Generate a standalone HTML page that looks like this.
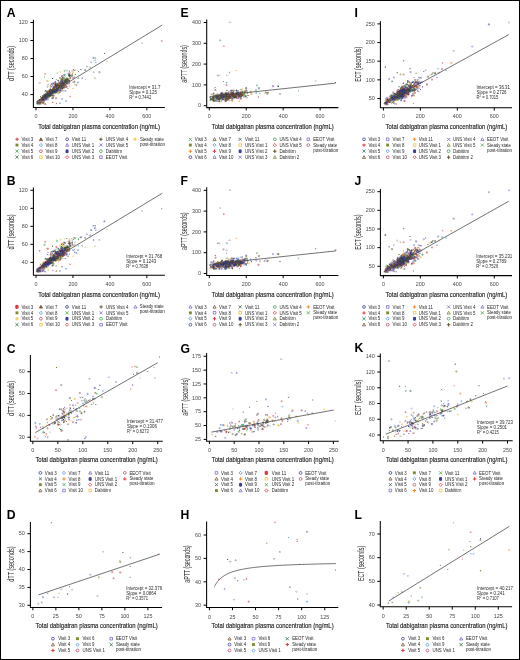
<!DOCTYPE html>
<html><head><meta charset="utf-8"><style>
html,body{margin:0;padding:0;background:#fff;}
svg{display:block;will-change:transform;}
text{font-family:"Liberation Sans", sans-serif;}
</style></head><body>
<svg width="520" height="660" viewBox="0 0 520 660">
<rect x="0.5" y="0.5" width="519" height="659" fill="#fff" stroke="#000" stroke-width="1"/>
<text x="6.8" y="17.0" font-size="12.2" font-weight="bold" fill="#000">A</text>
<path d="M33.4 19.8V107.4H164.9" fill="none" stroke="#000" stroke-width="1.05"/>
<path d="M30.4 94.58H33.4" stroke="#000" stroke-width="1"/>
<text x="27.799999999999997" y="96.33" font-size="5.8999999999999995" text-anchor="end" textLength="6.0" lengthAdjust="spacingAndGlyphs" fill="#484848">40</text>
<path d="M30.4 76.56H33.4" stroke="#000" stroke-width="1"/>
<text x="27.799999999999997" y="78.31" font-size="5.8999999999999995" text-anchor="end" textLength="6.0" lengthAdjust="spacingAndGlyphs" fill="#484848">60</text>
<path d="M30.4 58.54H33.4" stroke="#000" stroke-width="1"/>
<text x="27.799999999999997" y="60.29" font-size="5.8999999999999995" text-anchor="end" textLength="6.0" lengthAdjust="spacingAndGlyphs" fill="#484848">80</text>
<path d="M30.4 40.52H33.4" stroke="#000" stroke-width="1"/>
<text x="27.799999999999997" y="42.27" font-size="5.8999999999999995" text-anchor="end" textLength="9.0" lengthAdjust="spacingAndGlyphs" fill="#484848">100</text>
<path d="M30.4 22.50H33.4" stroke="#000" stroke-width="1"/>
<text x="27.799999999999997" y="24.25" font-size="5.8999999999999995" text-anchor="end" textLength="9.0" lengthAdjust="spacingAndGlyphs" fill="#484848">120</text>
<path d="M36.00 107.4V110.2" stroke="#000" stroke-width="1"/>
<text x="36.0" y="117.8" font-size="5.8999999999999995" text-anchor="middle" textLength="3.0" lengthAdjust="spacingAndGlyphs" fill="#484848">0</text>
<path d="M72.95 107.4V110.2" stroke="#000" stroke-width="1"/>
<text x="72.95" y="117.8" font-size="5.8999999999999995" text-anchor="middle" textLength="9.0" lengthAdjust="spacingAndGlyphs" fill="#484848">200</text>
<path d="M109.90 107.4V110.2" stroke="#000" stroke-width="1"/>
<text x="109.9" y="117.8" font-size="5.8999999999999995" text-anchor="middle" textLength="9.0" lengthAdjust="spacingAndGlyphs" fill="#484848">400</text>
<path d="M146.85 107.4V110.2" stroke="#000" stroke-width="1"/>
<text x="146.85" y="117.8" font-size="5.8999999999999995" text-anchor="middle" textLength="9.0" lengthAdjust="spacingAndGlyphs" fill="#484848">600</text>
<text x="38.2" y="128.7" font-size="8.0" textLength="121.7" lengthAdjust="spacingAndGlyphs" fill="#1a1a1a" stroke="#1a1a1a" stroke-width="0.16">Total dabigatran plasma concentration (ng/mL)</text>
<text x="14.3" y="63.5" font-size="8.2" text-anchor="middle" textLength="35.0" lengthAdjust="spacingAndGlyphs" transform="rotate(-90 14.3 63.5)" fill="#2a2a2a">dTT (seconds)</text>
<text x="6.8" y="184.8" font-size="12.2" font-weight="bold" fill="#000">B</text>
<path d="M33.4 187.60000000000002V275.20000000000005H164.9" fill="none" stroke="#000" stroke-width="1.05"/>
<path d="M30.4 262.38H33.4" stroke="#000" stroke-width="1"/>
<text x="27.799999999999997" y="264.13" font-size="5.8999999999999995" text-anchor="end" textLength="6.0" lengthAdjust="spacingAndGlyphs" fill="#484848">40</text>
<path d="M30.4 244.36H33.4" stroke="#000" stroke-width="1"/>
<text x="27.799999999999997" y="246.11" font-size="5.8999999999999995" text-anchor="end" textLength="6.0" lengthAdjust="spacingAndGlyphs" fill="#484848">60</text>
<path d="M30.4 226.34H33.4" stroke="#000" stroke-width="1"/>
<text x="27.799999999999997" y="228.09" font-size="5.8999999999999995" text-anchor="end" textLength="6.0" lengthAdjust="spacingAndGlyphs" fill="#484848">80</text>
<path d="M30.4 208.32H33.4" stroke="#000" stroke-width="1"/>
<text x="27.799999999999997" y="210.07" font-size="5.8999999999999995" text-anchor="end" textLength="9.0" lengthAdjust="spacingAndGlyphs" fill="#484848">100</text>
<path d="M30.4 190.30H33.4" stroke="#000" stroke-width="1"/>
<text x="27.799999999999997" y="192.05" font-size="5.8999999999999995" text-anchor="end" textLength="9.0" lengthAdjust="spacingAndGlyphs" fill="#484848">120</text>
<path d="M36.00 275.20000000000005V278.00000000000006" stroke="#000" stroke-width="1"/>
<text x="36.0" y="285.6" font-size="5.8999999999999995" text-anchor="middle" textLength="3.0" lengthAdjust="spacingAndGlyphs" fill="#484848">0</text>
<path d="M72.95 275.20000000000005V278.00000000000006" stroke="#000" stroke-width="1"/>
<text x="72.95" y="285.6" font-size="5.8999999999999995" text-anchor="middle" textLength="9.0" lengthAdjust="spacingAndGlyphs" fill="#484848">200</text>
<path d="M109.90 275.20000000000005V278.00000000000006" stroke="#000" stroke-width="1"/>
<text x="109.9" y="285.6" font-size="5.8999999999999995" text-anchor="middle" textLength="9.0" lengthAdjust="spacingAndGlyphs" fill="#484848">400</text>
<path d="M146.85 275.20000000000005V278.00000000000006" stroke="#000" stroke-width="1"/>
<text x="146.85" y="285.6" font-size="5.8999999999999995" text-anchor="middle" textLength="9.0" lengthAdjust="spacingAndGlyphs" fill="#484848">600</text>
<text x="38.2" y="296.5" font-size="8.0" textLength="121.7" lengthAdjust="spacingAndGlyphs" fill="#1a1a1a" stroke="#1a1a1a" stroke-width="0.16">Total dabigatran plasma concentration (ng/mL)</text>
<text x="14.3" y="231.8873" font-size="8.2" text-anchor="middle" textLength="35.0" lengthAdjust="spacingAndGlyphs" transform="rotate(-90 14.3 231.8873)" fill="#2a2a2a">dTT (seconds)</text>
<text x="180.6" y="16.9" font-size="12.2" font-weight="bold" fill="#000">E</text>
<path d="M206.7 19.5V107.6H338.4" fill="none" stroke="#000" stroke-width="1.05"/>
<path d="M203.7 105.70H206.7" stroke="#000" stroke-width="1"/>
<text x="201.1" y="107.45" font-size="5.8999999999999995" text-anchor="end" textLength="3.0" lengthAdjust="spacingAndGlyphs" fill="#484848">0</text>
<path d="M203.7 84.90H206.7" stroke="#000" stroke-width="1"/>
<text x="201.1" y="86.65" font-size="5.8999999999999995" text-anchor="end" textLength="9.0" lengthAdjust="spacingAndGlyphs" fill="#484848">100</text>
<path d="M203.7 64.10H206.7" stroke="#000" stroke-width="1"/>
<text x="201.1" y="65.85" font-size="5.8999999999999995" text-anchor="end" textLength="9.0" lengthAdjust="spacingAndGlyphs" fill="#484848">200</text>
<path d="M203.7 43.30H206.7" stroke="#000" stroke-width="1"/>
<text x="201.1" y="45.05" font-size="5.8999999999999995" text-anchor="end" textLength="9.0" lengthAdjust="spacingAndGlyphs" fill="#484848">300</text>
<path d="M203.7 22.50H206.7" stroke="#000" stroke-width="1"/>
<text x="201.1" y="24.25" font-size="5.8999999999999995" text-anchor="end" textLength="9.0" lengthAdjust="spacingAndGlyphs" fill="#484848">400</text>
<path d="M209.30 107.6V110.39999999999999" stroke="#000" stroke-width="1"/>
<text x="209.3" y="117.8" font-size="5.8999999999999995" text-anchor="middle" textLength="3.0" lengthAdjust="spacingAndGlyphs" fill="#484848">0</text>
<path d="M246.24 107.6V110.39999999999999" stroke="#000" stroke-width="1"/>
<text x="246.24" y="117.8" font-size="5.8999999999999995" text-anchor="middle" textLength="9.0" lengthAdjust="spacingAndGlyphs" fill="#484848">200</text>
<path d="M283.18 107.6V110.39999999999999" stroke="#000" stroke-width="1"/>
<text x="283.18" y="117.8" font-size="5.8999999999999995" text-anchor="middle" textLength="9.0" lengthAdjust="spacingAndGlyphs" fill="#484848">400</text>
<path d="M320.12 107.6V110.39999999999999" stroke="#000" stroke-width="1"/>
<text x="320.12" y="117.8" font-size="5.8999999999999995" text-anchor="middle" textLength="9.0" lengthAdjust="spacingAndGlyphs" fill="#484848">600</text>
<text x="211.7" y="128.7" font-size="8.0" textLength="122.1" lengthAdjust="spacingAndGlyphs" fill="#1a1a1a" stroke="#1a1a1a" stroke-width="0.16">Total dabigatran plasma concentration (ng/mL)</text>
<text x="187.4" y="64.0" font-size="8.2" text-anchor="middle" textLength="37.6" lengthAdjust="spacingAndGlyphs" transform="rotate(-90 187.4 64.0)" fill="#2a2a2a">aPTT (seconds)</text>
<text x="180.6" y="184.70000000000002" font-size="12.2" font-weight="bold" fill="#000">F</text>
<path d="M206.7 187.3V275.4H338.4" fill="none" stroke="#000" stroke-width="1.05"/>
<path d="M203.7 273.50H206.7" stroke="#000" stroke-width="1"/>
<text x="201.1" y="275.25" font-size="5.8999999999999995" text-anchor="end" textLength="3.0" lengthAdjust="spacingAndGlyphs" fill="#484848">0</text>
<path d="M203.7 252.70H206.7" stroke="#000" stroke-width="1"/>
<text x="201.1" y="254.45" font-size="5.8999999999999995" text-anchor="end" textLength="9.0" lengthAdjust="spacingAndGlyphs" fill="#484848">100</text>
<path d="M203.7 231.90H206.7" stroke="#000" stroke-width="1"/>
<text x="201.1" y="233.65" font-size="5.8999999999999995" text-anchor="end" textLength="9.0" lengthAdjust="spacingAndGlyphs" fill="#484848">200</text>
<path d="M203.7 211.10H206.7" stroke="#000" stroke-width="1"/>
<text x="201.1" y="212.85" font-size="5.8999999999999995" text-anchor="end" textLength="9.0" lengthAdjust="spacingAndGlyphs" fill="#484848">300</text>
<path d="M203.7 190.30H206.7" stroke="#000" stroke-width="1"/>
<text x="201.1" y="192.05" font-size="5.8999999999999995" text-anchor="end" textLength="9.0" lengthAdjust="spacingAndGlyphs" fill="#484848">400</text>
<path d="M209.30 275.4V278.2" stroke="#000" stroke-width="1"/>
<text x="209.3" y="285.6" font-size="5.8999999999999995" text-anchor="middle" textLength="3.0" lengthAdjust="spacingAndGlyphs" fill="#484848">0</text>
<path d="M246.24 275.4V278.2" stroke="#000" stroke-width="1"/>
<text x="246.24" y="285.6" font-size="5.8999999999999995" text-anchor="middle" textLength="9.0" lengthAdjust="spacingAndGlyphs" fill="#484848">200</text>
<path d="M283.18 275.4V278.2" stroke="#000" stroke-width="1"/>
<text x="283.18" y="285.6" font-size="5.8999999999999995" text-anchor="middle" textLength="9.0" lengthAdjust="spacingAndGlyphs" fill="#484848">400</text>
<path d="M320.12 275.4V278.2" stroke="#000" stroke-width="1"/>
<text x="320.12" y="285.6" font-size="5.8999999999999995" text-anchor="middle" textLength="9.0" lengthAdjust="spacingAndGlyphs" fill="#484848">600</text>
<text x="211.7" y="296.5" font-size="8.0" textLength="122.1" lengthAdjust="spacingAndGlyphs" fill="#1a1a1a" stroke="#1a1a1a" stroke-width="0.16">Total dabigatran plasma concentration (ng/mL)</text>
<text x="187.4" y="231.19592" font-size="8.2" text-anchor="middle" textLength="37.6" lengthAdjust="spacingAndGlyphs" transform="rotate(-90 187.4 231.19592)" fill="#2a2a2a">aPTT (seconds)</text>
<text x="354.6" y="17.0" font-size="12.2" font-weight="bold" fill="#000">I</text>
<path d="M380.4 21.3V107.8H512.0" fill="none" stroke="#000" stroke-width="1.05"/>
<path d="M377.4 98.50H380.4" stroke="#000" stroke-width="1"/>
<text x="374.79999999999995" y="100.25" font-size="5.8999999999999995" text-anchor="end" textLength="6.0" lengthAdjust="spacingAndGlyphs" fill="#484848">50</text>
<path d="M377.4 79.85H380.4" stroke="#000" stroke-width="1"/>
<text x="374.79999999999995" y="81.6" font-size="5.8999999999999995" text-anchor="end" textLength="9.0" lengthAdjust="spacingAndGlyphs" fill="#484848">100</text>
<path d="M377.4 61.20H380.4" stroke="#000" stroke-width="1"/>
<text x="374.79999999999995" y="62.95" font-size="5.8999999999999995" text-anchor="end" textLength="9.0" lengthAdjust="spacingAndGlyphs" fill="#484848">150</text>
<path d="M377.4 42.55H380.4" stroke="#000" stroke-width="1"/>
<text x="374.79999999999995" y="44.3" font-size="5.8999999999999995" text-anchor="end" textLength="9.0" lengthAdjust="spacingAndGlyphs" fill="#484848">200</text>
<path d="M377.4 23.90H380.4" stroke="#000" stroke-width="1"/>
<text x="374.79999999999995" y="25.65" font-size="5.8999999999999995" text-anchor="end" textLength="9.0" lengthAdjust="spacingAndGlyphs" fill="#484848">250</text>
<path d="M383.40 107.8V110.6" stroke="#000" stroke-width="1"/>
<text x="383.4" y="117.8" font-size="5.8999999999999995" text-anchor="middle" textLength="3.0" lengthAdjust="spacingAndGlyphs" fill="#484848">0</text>
<path d="M420.36 107.8V110.6" stroke="#000" stroke-width="1"/>
<text x="420.36" y="117.8" font-size="5.8999999999999995" text-anchor="middle" textLength="9.0" lengthAdjust="spacingAndGlyphs" fill="#484848">200</text>
<path d="M457.32 107.8V110.6" stroke="#000" stroke-width="1"/>
<text x="457.32" y="117.8" font-size="5.8999999999999995" text-anchor="middle" textLength="9.0" lengthAdjust="spacingAndGlyphs" fill="#484848">400</text>
<path d="M494.28 107.8V110.6" stroke="#000" stroke-width="1"/>
<text x="494.28" y="117.8" font-size="5.8999999999999995" text-anchor="middle" textLength="9.0" lengthAdjust="spacingAndGlyphs" fill="#484848">600</text>
<text x="385.5" y="128.7" font-size="8.0" textLength="121.8" lengthAdjust="spacingAndGlyphs" fill="#1a1a1a" stroke="#1a1a1a" stroke-width="0.16">Total dabigatran plasma concentration (ng/mL)</text>
<text x="361.2" y="64.3" font-size="8.2" text-anchor="middle" textLength="35.1" lengthAdjust="spacingAndGlyphs" transform="rotate(-90 361.2 64.3)" fill="#2a2a2a">ECT (seconds)</text>
<text x="354.6" y="184.8" font-size="12.2" font-weight="bold" fill="#000">J</text>
<path d="M380.4 189.10000000000002V275.6H512.0" fill="none" stroke="#000" stroke-width="1.05"/>
<path d="M377.4 266.30H380.4" stroke="#000" stroke-width="1"/>
<text x="374.79999999999995" y="268.05" font-size="5.8999999999999995" text-anchor="end" textLength="6.0" lengthAdjust="spacingAndGlyphs" fill="#484848">50</text>
<path d="M377.4 247.65H380.4" stroke="#000" stroke-width="1"/>
<text x="374.79999999999995" y="249.4" font-size="5.8999999999999995" text-anchor="end" textLength="9.0" lengthAdjust="spacingAndGlyphs" fill="#484848">100</text>
<path d="M377.4 229.00H380.4" stroke="#000" stroke-width="1"/>
<text x="374.79999999999995" y="230.75" font-size="5.8999999999999995" text-anchor="end" textLength="9.0" lengthAdjust="spacingAndGlyphs" fill="#484848">150</text>
<path d="M377.4 210.35H380.4" stroke="#000" stroke-width="1"/>
<text x="374.79999999999995" y="212.1" font-size="5.8999999999999995" text-anchor="end" textLength="9.0" lengthAdjust="spacingAndGlyphs" fill="#484848">200</text>
<path d="M377.4 191.70H380.4" stroke="#000" stroke-width="1"/>
<text x="374.79999999999995" y="193.45" font-size="5.8999999999999995" text-anchor="end" textLength="9.0" lengthAdjust="spacingAndGlyphs" fill="#484848">250</text>
<path d="M383.40 275.6V278.40000000000003" stroke="#000" stroke-width="1"/>
<text x="383.4" y="285.6" font-size="5.8999999999999995" text-anchor="middle" textLength="3.0" lengthAdjust="spacingAndGlyphs" fill="#484848">0</text>
<path d="M420.36 275.6V278.40000000000003" stroke="#000" stroke-width="1"/>
<text x="420.36" y="285.6" font-size="5.8999999999999995" text-anchor="middle" textLength="9.0" lengthAdjust="spacingAndGlyphs" fill="#484848">200</text>
<path d="M457.32 275.6V278.40000000000003" stroke="#000" stroke-width="1"/>
<text x="457.32" y="285.6" font-size="5.8999999999999995" text-anchor="middle" textLength="9.0" lengthAdjust="spacingAndGlyphs" fill="#484848">400</text>
<path d="M494.28 275.6V278.40000000000003" stroke="#000" stroke-width="1"/>
<text x="494.28" y="285.6" font-size="5.8999999999999995" text-anchor="middle" textLength="9.0" lengthAdjust="spacingAndGlyphs" fill="#484848">600</text>
<text x="385.5" y="296.5" font-size="8.0" textLength="121.8" lengthAdjust="spacingAndGlyphs" fill="#1a1a1a" stroke="#1a1a1a" stroke-width="0.16">Total dabigatran plasma concentration (ng/mL)</text>
<text x="361.2" y="232.10000000000002" font-size="8.2" text-anchor="middle" textLength="35.1" lengthAdjust="spacingAndGlyphs" transform="rotate(-90 361.2 232.10000000000002)" fill="#2a2a2a">ECT (seconds)</text>
<text x="6.8" y="352.8" font-size="12.2" font-weight="bold" fill="#000">C</text>
<path d="M30.4 355.0V441.3H162.8" fill="none" stroke="#000" stroke-width="1.05"/>
<path d="M27.4 437.20H30.4" stroke="#000" stroke-width="1"/>
<text x="24.799999999999997" y="438.95" font-size="5.8999999999999995" text-anchor="end" textLength="6.0" lengthAdjust="spacingAndGlyphs" fill="#484848">30</text>
<path d="M27.4 415.37H30.4" stroke="#000" stroke-width="1"/>
<text x="24.799999999999997" y="417.12" font-size="5.8999999999999995" text-anchor="end" textLength="6.0" lengthAdjust="spacingAndGlyphs" fill="#484848">40</text>
<path d="M27.4 393.54H30.4" stroke="#000" stroke-width="1"/>
<text x="24.799999999999997" y="395.29" font-size="5.8999999999999995" text-anchor="end" textLength="6.0" lengthAdjust="spacingAndGlyphs" fill="#484848">50</text>
<path d="M27.4 371.71H30.4" stroke="#000" stroke-width="1"/>
<text x="24.799999999999997" y="373.46" font-size="5.8999999999999995" text-anchor="end" textLength="6.0" lengthAdjust="spacingAndGlyphs" fill="#484848">60</text>
<path d="M32.85 441.3V444.1" stroke="#000" stroke-width="1"/>
<text x="32.85" y="451.7" font-size="5.8999999999999995" text-anchor="middle" textLength="3.0" lengthAdjust="spacingAndGlyphs" fill="#484848">0</text>
<path d="M57.83 441.3V444.1" stroke="#000" stroke-width="1"/>
<text x="57.83" y="451.7" font-size="5.8999999999999995" text-anchor="middle" textLength="6.0" lengthAdjust="spacingAndGlyphs" fill="#484848">50</text>
<path d="M82.80 441.3V444.1" stroke="#000" stroke-width="1"/>
<text x="82.8" y="451.7" font-size="5.8999999999999995" text-anchor="middle" textLength="9.0" lengthAdjust="spacingAndGlyphs" fill="#484848">100</text>
<path d="M107.78 441.3V444.1" stroke="#000" stroke-width="1"/>
<text x="107.78" y="451.7" font-size="5.8999999999999995" text-anchor="middle" textLength="9.0" lengthAdjust="spacingAndGlyphs" fill="#484848">150</text>
<path d="M132.75 441.3V444.1" stroke="#000" stroke-width="1"/>
<text x="132.75" y="451.7" font-size="5.8999999999999995" text-anchor="middle" textLength="9.0" lengthAdjust="spacingAndGlyphs" fill="#484848">200</text>
<path d="M157.72 441.3V444.1" stroke="#000" stroke-width="1"/>
<text x="157.72" y="451.7" font-size="5.8999999999999995" text-anchor="middle" textLength="9.0" lengthAdjust="spacingAndGlyphs" fill="#484848">250</text>
<text x="35.4" y="462.3" font-size="8.0" textLength="122.3" lengthAdjust="spacingAndGlyphs" fill="#1a1a1a" stroke="#1a1a1a" stroke-width="0.16">Total dabigatran plasma concentration (ng/mL)</text>
<text x="14.4" y="398.4" font-size="8.2" text-anchor="middle" textLength="35.0" lengthAdjust="spacingAndGlyphs" transform="rotate(-90 14.4 398.4)" fill="#2a2a2a">dTT (seconds)</text>
<text x="180.4" y="352.6" font-size="12.2" font-weight="bold" fill="#000">G</text>
<path d="M206.6 353.1V441.2H338.8" fill="none" stroke="#000" stroke-width="1.05"/>
<path d="M203.6 439.40H206.6" stroke="#000" stroke-width="1"/>
<text x="201.0" y="441.15" font-size="5.8999999999999995" text-anchor="end" textLength="6.0" lengthAdjust="spacingAndGlyphs" fill="#484848">25</text>
<path d="M203.6 425.54H206.6" stroke="#000" stroke-width="1"/>
<text x="201.0" y="427.29" font-size="5.8999999999999995" text-anchor="end" textLength="6.0" lengthAdjust="spacingAndGlyphs" fill="#484848">50</text>
<path d="M203.6 411.68H206.6" stroke="#000" stroke-width="1"/>
<text x="201.0" y="413.43" font-size="5.8999999999999995" text-anchor="end" textLength="6.0" lengthAdjust="spacingAndGlyphs" fill="#484848">75</text>
<path d="M203.6 397.82H206.6" stroke="#000" stroke-width="1"/>
<text x="201.0" y="399.57" font-size="5.8999999999999995" text-anchor="end" textLength="9.0" lengthAdjust="spacingAndGlyphs" fill="#484848">100</text>
<path d="M203.6 383.96H206.6" stroke="#000" stroke-width="1"/>
<text x="201.0" y="385.71" font-size="5.8999999999999995" text-anchor="end" textLength="9.0" lengthAdjust="spacingAndGlyphs" fill="#484848">125</text>
<path d="M203.6 370.10H206.6" stroke="#000" stroke-width="1"/>
<text x="201.0" y="371.85" font-size="5.8999999999999995" text-anchor="end" textLength="9.0" lengthAdjust="spacingAndGlyphs" fill="#484848">150</text>
<path d="M203.6 356.24H206.6" stroke="#000" stroke-width="1"/>
<text x="201.0" y="357.99" font-size="5.8999999999999995" text-anchor="end" textLength="9.0" lengthAdjust="spacingAndGlyphs" fill="#484848">175</text>
<path d="M209.40 441.2V444.0" stroke="#000" stroke-width="1"/>
<text x="209.4" y="451.8" font-size="5.8999999999999995" text-anchor="middle" textLength="3.0" lengthAdjust="spacingAndGlyphs" fill="#484848">0</text>
<path d="M234.20 441.2V444.0" stroke="#000" stroke-width="1"/>
<text x="234.2" y="451.8" font-size="5.8999999999999995" text-anchor="middle" textLength="6.0" lengthAdjust="spacingAndGlyphs" fill="#484848">50</text>
<path d="M259.00 441.2V444.0" stroke="#000" stroke-width="1"/>
<text x="259.0" y="451.8" font-size="5.8999999999999995" text-anchor="middle" textLength="9.0" lengthAdjust="spacingAndGlyphs" fill="#484848">100</text>
<path d="M283.80 441.2V444.0" stroke="#000" stroke-width="1"/>
<text x="283.8" y="451.8" font-size="5.8999999999999995" text-anchor="middle" textLength="9.0" lengthAdjust="spacingAndGlyphs" fill="#484848">150</text>
<path d="M308.60 441.2V444.0" stroke="#000" stroke-width="1"/>
<text x="308.6" y="451.8" font-size="5.8999999999999995" text-anchor="middle" textLength="9.0" lengthAdjust="spacingAndGlyphs" fill="#484848">200</text>
<path d="M333.40 441.2V444.0" stroke="#000" stroke-width="1"/>
<text x="333.4" y="451.8" font-size="5.8999999999999995" text-anchor="middle" textLength="9.0" lengthAdjust="spacingAndGlyphs" fill="#484848">250</text>
<text x="211.7" y="462.1" font-size="8.0" textLength="122.1" lengthAdjust="spacingAndGlyphs" fill="#1a1a1a" stroke="#1a1a1a" stroke-width="0.16">Total dabigatran plasma concentration (ng/mL)</text>
<text x="188.1" y="397.0" font-size="8.2" text-anchor="middle" textLength="37.6" lengthAdjust="spacingAndGlyphs" transform="rotate(-90 188.1 397.0)" fill="#2a2a2a">aPTT (seconds)</text>
<text x="354.4" y="352.0" font-size="12.2" font-weight="bold" fill="#000">K</text>
<path d="M380.3 353.6V440.8H512.7" fill="none" stroke="#000" stroke-width="1.05"/>
<path d="M377.3 435.00H380.3" stroke="#000" stroke-width="1"/>
<text x="374.7" y="436.75" font-size="5.8999999999999995" text-anchor="end" textLength="6.0" lengthAdjust="spacingAndGlyphs" fill="#484848">40</text>
<path d="M377.3 419.26H380.3" stroke="#000" stroke-width="1"/>
<text x="374.7" y="421.01" font-size="5.8999999999999995" text-anchor="end" textLength="6.0" lengthAdjust="spacingAndGlyphs" fill="#484848">60</text>
<path d="M377.3 403.52H380.3" stroke="#000" stroke-width="1"/>
<text x="374.7" y="405.27" font-size="5.8999999999999995" text-anchor="end" textLength="6.0" lengthAdjust="spacingAndGlyphs" fill="#484848">80</text>
<path d="M377.3 387.78H380.3" stroke="#000" stroke-width="1"/>
<text x="374.7" y="389.53" font-size="5.8999999999999995" text-anchor="end" textLength="9.0" lengthAdjust="spacingAndGlyphs" fill="#484848">100</text>
<path d="M377.3 372.04H380.3" stroke="#000" stroke-width="1"/>
<text x="374.7" y="373.79" font-size="5.8999999999999995" text-anchor="end" textLength="9.0" lengthAdjust="spacingAndGlyphs" fill="#484848">120</text>
<path d="M377.3 356.30H380.3" stroke="#000" stroke-width="1"/>
<text x="374.7" y="358.05" font-size="5.8999999999999995" text-anchor="end" textLength="9.0" lengthAdjust="spacingAndGlyphs" fill="#484848">140</text>
<path d="M383.20 440.8V443.6" stroke="#000" stroke-width="1"/>
<text x="383.2" y="451.7" font-size="5.8999999999999995" text-anchor="middle" textLength="3.0" lengthAdjust="spacingAndGlyphs" fill="#484848">0</text>
<path d="M408.06 440.8V443.6" stroke="#000" stroke-width="1"/>
<text x="408.06" y="451.7" font-size="5.8999999999999995" text-anchor="middle" textLength="6.0" lengthAdjust="spacingAndGlyphs" fill="#484848">50</text>
<path d="M432.92 440.8V443.6" stroke="#000" stroke-width="1"/>
<text x="432.92" y="451.7" font-size="5.8999999999999995" text-anchor="middle" textLength="9.0" lengthAdjust="spacingAndGlyphs" fill="#484848">100</text>
<path d="M457.78 440.8V443.6" stroke="#000" stroke-width="1"/>
<text x="457.78" y="451.7" font-size="5.8999999999999995" text-anchor="middle" textLength="9.0" lengthAdjust="spacingAndGlyphs" fill="#484848">150</text>
<path d="M482.64 440.8V443.6" stroke="#000" stroke-width="1"/>
<text x="482.64" y="451.7" font-size="5.8999999999999995" text-anchor="middle" textLength="9.0" lengthAdjust="spacingAndGlyphs" fill="#484848">200</text>
<path d="M507.50 440.8V443.6" stroke="#000" stroke-width="1"/>
<text x="507.5" y="451.7" font-size="5.8999999999999995" text-anchor="middle" textLength="9.0" lengthAdjust="spacingAndGlyphs" fill="#484848">250</text>
<text x="386.0" y="462.1" font-size="8.0" textLength="121.4" lengthAdjust="spacingAndGlyphs" fill="#1a1a1a" stroke="#1a1a1a" stroke-width="0.16">Total dabigatran plasma concentration (ng/mL)</text>
<text x="361.2" y="397.4" font-size="8.2" text-anchor="middle" textLength="35.2" lengthAdjust="spacingAndGlyphs" transform="rotate(-90 361.2 397.4)" fill="#2a2a2a">ECT (seconds)</text>
<text x="6.8" y="519.2" font-size="12.2" font-weight="bold" fill="#000">D</text>
<path d="M30.4 521.9V607.5H162.1" fill="none" stroke="#000" stroke-width="1.05"/>
<path d="M27.4 605.30H30.4" stroke="#000" stroke-width="1"/>
<text x="24.799999999999997" y="607.05" font-size="5.8999999999999995" text-anchor="end" textLength="6.0" lengthAdjust="spacingAndGlyphs" fill="#484848">30</text>
<path d="M27.4 587.40H30.4" stroke="#000" stroke-width="1"/>
<text x="24.799999999999997" y="589.15" font-size="5.8999999999999995" text-anchor="end" textLength="6.0" lengthAdjust="spacingAndGlyphs" fill="#484848">35</text>
<path d="M27.4 569.50H30.4" stroke="#000" stroke-width="1"/>
<text x="24.799999999999997" y="571.25" font-size="5.8999999999999995" text-anchor="end" textLength="6.0" lengthAdjust="spacingAndGlyphs" fill="#484848">40</text>
<path d="M27.4 551.60H30.4" stroke="#000" stroke-width="1"/>
<text x="24.799999999999997" y="553.35" font-size="5.8999999999999995" text-anchor="end" textLength="6.0" lengthAdjust="spacingAndGlyphs" fill="#484848">45</text>
<path d="M27.4 533.70H30.4" stroke="#000" stroke-width="1"/>
<text x="24.799999999999997" y="535.45" font-size="5.8999999999999995" text-anchor="end" textLength="6.0" lengthAdjust="spacingAndGlyphs" fill="#484848">50</text>
<path d="M32.85 607.5V610.3" stroke="#000" stroke-width="1"/>
<text x="32.85" y="618.3" font-size="5.8999999999999995" text-anchor="middle" textLength="3.0" lengthAdjust="spacingAndGlyphs" fill="#484848">0</text>
<path d="M55.86 607.5V610.3" stroke="#000" stroke-width="1"/>
<text x="55.86" y="618.3" font-size="5.8999999999999995" text-anchor="middle" textLength="6.0" lengthAdjust="spacingAndGlyphs" fill="#484848">25</text>
<path d="M78.87 607.5V610.3" stroke="#000" stroke-width="1"/>
<text x="78.87" y="618.3" font-size="5.8999999999999995" text-anchor="middle" textLength="6.0" lengthAdjust="spacingAndGlyphs" fill="#484848">50</text>
<path d="M101.88 607.5V610.3" stroke="#000" stroke-width="1"/>
<text x="101.88" y="618.3" font-size="5.8999999999999995" text-anchor="middle" textLength="6.0" lengthAdjust="spacingAndGlyphs" fill="#484848">75</text>
<path d="M124.89 607.5V610.3" stroke="#000" stroke-width="1"/>
<text x="124.89" y="618.3" font-size="5.8999999999999995" text-anchor="middle" textLength="9.0" lengthAdjust="spacingAndGlyphs" fill="#484848">100</text>
<path d="M147.90 607.5V610.3" stroke="#000" stroke-width="1"/>
<text x="147.9" y="618.3" font-size="5.8999999999999995" text-anchor="middle" textLength="9.0" lengthAdjust="spacingAndGlyphs" fill="#484848">125</text>
<text x="35.5" y="628.1" font-size="8.0" textLength="122.2" lengthAdjust="spacingAndGlyphs" fill="#1a1a1a" stroke="#1a1a1a" stroke-width="0.16">Total dabigatran plasma concentration (ng/mL)</text>
<text x="14.4" y="564.1" font-size="8.2" text-anchor="middle" textLength="35.3" lengthAdjust="spacingAndGlyphs" transform="rotate(-90 14.4 564.1)" fill="#2a2a2a">dTT (seconds)</text>
<text x="180.4" y="519.2" font-size="12.2" font-weight="bold" fill="#000">H</text>
<path d="M206.6 521.5V607.4H338.3" fill="none" stroke="#000" stroke-width="1.05"/>
<path d="M203.6 605.20H206.6" stroke="#000" stroke-width="1"/>
<text x="201.0" y="606.95" font-size="5.8999999999999995" text-anchor="end" textLength="6.0" lengthAdjust="spacingAndGlyphs" fill="#484848">30</text>
<path d="M203.6 581.80H206.6" stroke="#000" stroke-width="1"/>
<text x="201.0" y="583.55" font-size="5.8999999999999995" text-anchor="end" textLength="6.0" lengthAdjust="spacingAndGlyphs" fill="#484848">40</text>
<path d="M203.6 558.40H206.6" stroke="#000" stroke-width="1"/>
<text x="201.0" y="560.15" font-size="5.8999999999999995" text-anchor="end" textLength="6.0" lengthAdjust="spacingAndGlyphs" fill="#484848">50</text>
<path d="M203.6 535.00H206.6" stroke="#000" stroke-width="1"/>
<text x="201.0" y="536.75" font-size="5.8999999999999995" text-anchor="end" textLength="6.0" lengthAdjust="spacingAndGlyphs" fill="#484848">60</text>
<path d="M209.40 607.4V610.1999999999999" stroke="#000" stroke-width="1"/>
<text x="209.4" y="618.5" font-size="5.8999999999999995" text-anchor="middle" textLength="3.0" lengthAdjust="spacingAndGlyphs" fill="#484848">0</text>
<path d="M232.47 607.4V610.1999999999999" stroke="#000" stroke-width="1"/>
<text x="232.47" y="618.5" font-size="5.8999999999999995" text-anchor="middle" textLength="6.0" lengthAdjust="spacingAndGlyphs" fill="#484848">25</text>
<path d="M255.54 607.4V610.1999999999999" stroke="#000" stroke-width="1"/>
<text x="255.54" y="618.5" font-size="5.8999999999999995" text-anchor="middle" textLength="6.0" lengthAdjust="spacingAndGlyphs" fill="#484848">50</text>
<path d="M278.61 607.4V610.1999999999999" stroke="#000" stroke-width="1"/>
<text x="278.61" y="618.5" font-size="5.8999999999999995" text-anchor="middle" textLength="6.0" lengthAdjust="spacingAndGlyphs" fill="#484848">75</text>
<path d="M301.68 607.4V610.1999999999999" stroke="#000" stroke-width="1"/>
<text x="301.68" y="618.5" font-size="5.8999999999999995" text-anchor="middle" textLength="9.0" lengthAdjust="spacingAndGlyphs" fill="#484848">100</text>
<path d="M324.75 607.4V610.1999999999999" stroke="#000" stroke-width="1"/>
<text x="324.75" y="618.5" font-size="5.8999999999999995" text-anchor="middle" textLength="9.0" lengthAdjust="spacingAndGlyphs" fill="#484848">125</text>
<text x="211.5" y="627.9" font-size="8.0" textLength="122.1" lengthAdjust="spacingAndGlyphs" fill="#1a1a1a" stroke="#1a1a1a" stroke-width="0.16">Total dabigatran plasma concentration (ng/mL)</text>
<text x="189.8" y="564.1" font-size="8.2" text-anchor="middle" textLength="37.3" lengthAdjust="spacingAndGlyphs" transform="rotate(-90 189.8 564.1)" fill="#2a2a2a">aPTT (seconds)</text>
<text x="354.4" y="518.6" font-size="12.2" font-weight="bold" fill="#000">L</text>
<path d="M380.3 520.9V606.8H512.1" fill="none" stroke="#000" stroke-width="1.05"/>
<path d="M377.3 605.00H380.3" stroke="#000" stroke-width="1"/>
<text x="374.7" y="606.75" font-size="5.8999999999999995" text-anchor="end" textLength="6.0" lengthAdjust="spacingAndGlyphs" fill="#484848">40</text>
<path d="M377.3 581.33H380.3" stroke="#000" stroke-width="1"/>
<text x="374.7" y="583.08" font-size="5.8999999999999995" text-anchor="end" textLength="6.0" lengthAdjust="spacingAndGlyphs" fill="#484848">50</text>
<path d="M377.3 557.66H380.3" stroke="#000" stroke-width="1"/>
<text x="374.7" y="559.41" font-size="5.8999999999999995" text-anchor="end" textLength="6.0" lengthAdjust="spacingAndGlyphs" fill="#484848">60</text>
<path d="M377.3 533.99H380.3" stroke="#000" stroke-width="1"/>
<text x="374.7" y="535.74" font-size="5.8999999999999995" text-anchor="end" textLength="6.0" lengthAdjust="spacingAndGlyphs" fill="#484848">70</text>
<path d="M383.20 606.8V609.5999999999999" stroke="#000" stroke-width="1"/>
<text x="383.2" y="618.3" font-size="5.8999999999999995" text-anchor="middle" textLength="3.0" lengthAdjust="spacingAndGlyphs" fill="#484848">0</text>
<path d="M406.22 606.8V609.5999999999999" stroke="#000" stroke-width="1"/>
<text x="406.22" y="618.3" font-size="5.8999999999999995" text-anchor="middle" textLength="6.0" lengthAdjust="spacingAndGlyphs" fill="#484848">25</text>
<path d="M429.24 606.8V609.5999999999999" stroke="#000" stroke-width="1"/>
<text x="429.24" y="618.3" font-size="5.8999999999999995" text-anchor="middle" textLength="6.0" lengthAdjust="spacingAndGlyphs" fill="#484848">50</text>
<path d="M452.26 606.8V609.5999999999999" stroke="#000" stroke-width="1"/>
<text x="452.26" y="618.3" font-size="5.8999999999999995" text-anchor="middle" textLength="6.0" lengthAdjust="spacingAndGlyphs" fill="#484848">75</text>
<path d="M475.28 606.8V609.5999999999999" stroke="#000" stroke-width="1"/>
<text x="475.28" y="618.3" font-size="5.8999999999999995" text-anchor="middle" textLength="9.0" lengthAdjust="spacingAndGlyphs" fill="#484848">100</text>
<path d="M498.30 606.8V609.5999999999999" stroke="#000" stroke-width="1"/>
<text x="498.3" y="618.3" font-size="5.8999999999999995" text-anchor="middle" textLength="9.0" lengthAdjust="spacingAndGlyphs" fill="#484848">125</text>
<text x="386.0" y="628.0" font-size="8.0" textLength="121.4" lengthAdjust="spacingAndGlyphs" fill="#1a1a1a" stroke="#1a1a1a" stroke-width="0.16">Total dabigatran plasma concentration (ng/mL)</text>
<text x="363.8" y="563.4" font-size="8.2" text-anchor="middle" textLength="35.2" lengthAdjust="spacingAndGlyphs" transform="rotate(-90 363.8 563.4)" fill="#2a2a2a">ECT (seconds)</text>
<path d="M42.6 97.7h1.4m-0.7 -0.7v1.4M55.4 87.4h1.4m-0.7 -0.7v1.4M50.6 93.3h1.4m-0.7 -0.7v1.4M40.6 99.4h1.4m-0.7 -0.7v1.4M52.6 89.2h1.4m-0.7 -0.7v1.4M48.5 90.8h1.4m-0.7 -0.7v1.4M59 86.5h1.4m-0.7 -0.7v1.4M51.1 91.2h1.4m-0.7 -0.7v1.4M55.5 89.8h1.4m-0.7 -0.7v1.4" fill="none" stroke="#e8b420" stroke-width="0.59"/>
<path d="M49.1 89.9h1v1h-1zM53.1 91.6a0.5 0.5 0 1 0 1 0a0.5 0.5 0 1 0 -1 0M42.1 94.9h1v1h-1zM54.7 83.6a0.5 0.5 0 1 0 1 0a0.5 0.5 0 1 0 -1 0M53.6 89.5a0.5 0.5 0 1 0 1 0a0.5 0.5 0 1 0 -1 0M49.7 93.2h1v1h-1zM52.4 89.2a0.5 0.5 0 1 0 1 0a0.5 0.5 0 1 0 -1 0M63.7 84.7h1v1h-1zM51.2 92h1v1h-1zM49.7 86.4h1v1h-1zM42.4 103.2h1v1h-1zM106.5 61h1v1h-1zM85 79.5a0.5 0.5 0 1 0 1 0a0.5 0.5 0 1 0 -1 0M55.5 104a0.5 0.5 0 1 0 1 0a0.5 0.5 0 1 0 -1 0M72.5 88h1v1h-1zM47.5 102.5a0.5 0.5 0 1 0 1 0a0.5 0.5 0 1 0 -1 0" fill="#e8b420"/>
<path d="M66.5 82.8l1.4 1.4m0 -1.4l-1.4 1.4M50.6 88.4l0.7 1.3h-1.4zM41.4 99l0.7 0.7l-0.7 0.7l-0.7 -0.7zM39.1 100.6a0.6 0.6 0 1 0 1.3 0a0.6 0.6 0 1 0 -1.3 0M51.1 91.8l0.7 0.7l-0.7 0.7l-0.7 -0.7zM61.4 81.8l0.7 1.3h-1.4zM43.7 99l0.7 0.7l-0.7 0.7l-0.7 -0.7zM56.4 88.6l0.7 1.3h-1.4zM47.2 80.9a0.6 0.6 0 1 0 1.3 0a0.6 0.6 0 1 0 -1.3 0M51.5 92.3l0.7 0.7l-0.7 0.7l-0.7 -0.7zM63.5 75.9l0.7 0.7l-0.7 0.7l-0.7 -0.7zM66.9 78.6h1.2v1.2h-1.2zM73.3 71.1l0.7 1.3h-1.4zM61.3 84.1l0.7 0.7l-0.7 0.7l-0.7 -0.7zM57.1 85.8a0.6 0.6 0 1 0 1.3 0a0.6 0.6 0 1 0 -1.3 0M53.1 90.3l0.7 0.7l-0.7 0.7l-0.7 -0.7zM61.8 82l0.7 0.7l-0.7 0.7l-0.7 -0.7zM53.7 88.5l1.4 1.4m0 -1.4l-1.4 1.4M50.7 92.5l1.4 1.4m0 -1.4l-1.4 1.4M44.2 98.1a0.6 0.6 0 1 0 1.3 0a0.6 0.6 0 1 0 -1.3 0M61.7 82l0.7 1.3h-1.4zM50.5 93h1.2v1.2h-1.2zM70.5 77.7l0.7 0.7l-0.7 0.7l-0.7 -0.7zM74.2 83.8h1.2v1.2h-1.2zM60.5 71.2l0.7 0.7l-0.7 0.7l-0.7 -0.7zM62.2 87.9l0.7 1.3h-1.4zM48.2 93.2h1.2v1.2h-1.2zM62 83.8l1.4 1.4m0 -1.4l-1.4 1.4M67.9 78.2l0.7 0.7l-0.7 0.7l-0.7 -0.7zM39.4 99.5a0.6 0.6 0 1 0 1.3 0a0.6 0.6 0 1 0 -1.3 0M60.8 83.6l0.7 0.7l-0.7 0.7l-0.7 -0.7zM43.8 97.1l1.4 1.4m0 -1.4l-1.4 1.4M60.4 82.8a0.6 0.6 0 1 0 1.3 0a0.6 0.6 0 1 0 -1.3 0M71.9 76.3h1.2v1.2h-1.2zM57.5 86.1a0.6 0.6 0 1 0 1.3 0a0.6 0.6 0 1 0 -1.3 0M66.8 81.7l1.4 1.4m0 -1.4l-1.4 1.4M63.5 85.8l1.4 1.4m0 -1.4l-1.4 1.4M54.5 88.5l0.7 0.7l-0.7 0.7l-0.7 -0.7z" fill="none" stroke="#e8b420" stroke-width="0.45"/>
<path d="M58.4 83.2a0.6 0.6 0 1 0 1.3 0a0.6 0.6 0 1 0 -1.3 0M46.4 95.2l0.7 0.7l-0.7 0.7l-0.7 -0.7zM52.7 96.5h1.2v1.2h-1.2zM56.1 84.5l0.7 1.3h-1.4zM67.3 78.2l1.4 1.4m0 -1.4l-1.4 1.4M65.1 85a0.6 0.6 0 1 0 1.3 0a0.6 0.6 0 1 0 -1.3 0M47.1 94.1l0.7 1.3h-1.4zM47 95.3l0.7 0.7l-0.7 0.7l-0.7 -0.7zM46.8 95.4l0.7 0.7l-0.7 0.7l-0.7 -0.7zM69.4 85.6l0.7 0.7l-0.7 0.7l-0.7 -0.7zM48.9 92.7l1.4 1.4m0 -1.4l-1.4 1.4M59 83.9l0.7 1.3h-1.4zM50.1 93.9l0.7 0.7l-0.7 0.7l-0.7 -0.7zM54.1 91.9a0.6 0.6 0 1 0 1.3 0a0.6 0.6 0 1 0 -1.3 0M51.5 90.5l0.7 0.7l-0.7 0.7l-0.7 -0.7zM48.6 95.1h1.2v1.2h-1.2zM39.5 100.5l0.7 0.7l-0.7 0.7l-0.7 -0.7zM52.1 91.4h1.2v1.2h-1.2zM57.7 88.1l0.7 0.7l-0.7 0.7l-0.7 -0.7zM49 93.1a0.6 0.6 0 1 0 1.3 0a0.6 0.6 0 1 0 -1.3 0M52.8 90.8l0.7 1.3h-1.4zM56.6 85.4h1.2v1.2h-1.2zM54.7 90.5l0.7 1.3h-1.4zM44.3 96.1a0.6 0.6 0 1 0 1.3 0a0.6 0.6 0 1 0 -1.3 0M71.9 74.3l0.7 1.3h-1.4zM46.9 90.2l1.4 1.4m0 -1.4l-1.4 1.4M45.2 96.9l0.7 0.7l-0.7 0.7l-0.7 -0.7zM58.4 84.1l0.7 1.3h-1.4zM50 92.1l0.7 1.3h-1.4zM39.3 100l1.4 1.4m0 -1.4l-1.4 1.4M72 70.2l0.7 0.7l-0.7 0.7l-0.7 -0.7zM42.3 97.5l0.7 0.7l-0.7 0.7l-0.7 -0.7zM53.8 84.8h1.2v1.2h-1.2zM43 95.5h1.2v1.2h-1.2zM46.5 91.4l1.4 1.4m0 -1.4l-1.4 1.4M55.9 89.7l0.7 1.3h-1.4z" fill="none" stroke="#e27a1c" stroke-width="0.45"/>
<path d="M41.7 97.7h1.4m-0.7 -0.7v1.4M51 90.9h1.4m-0.7 -0.7v1.4M58.8 86.2h1.4m-0.7 -0.7v1.4M57.2 85h1.4m-0.7 -0.7v1.4M60.3 79.3h1.4m-0.7 -0.7v1.4" fill="none" stroke="#e27a1c" stroke-width="0.59"/>
<path d="M60.9 76.8a0.5 0.5 0 1 0 1 0a0.5 0.5 0 1 0 -1 0M56.1 89.1a0.5 0.5 0 1 0 1 0a0.5 0.5 0 1 0 -1 0M37.7 103.5a0.5 0.5 0 1 0 1 0a0.5 0.5 0 1 0 -1 0M60.9 86.1h1v1h-1zM55.9 88.8a0.5 0.5 0 1 0 1 0a0.5 0.5 0 1 0 -1 0M43.9 95.5h1v1h-1zM59.5 88.7a0.5 0.5 0 1 0 1 0a0.5 0.5 0 1 0 -1 0M42.6 103.4a0.5 0.5 0 1 0 1 0a0.5 0.5 0 1 0 -1 0M54.9 90.7h1v1h-1zM52.2 89.9a0.5 0.5 0 1 0 1 0a0.5 0.5 0 1 0 -1 0M62 88.6h1v1h-1zM52.9 87.5a0.5 0.5 0 1 0 1 0a0.5 0.5 0 1 0 -1 0M51.9 91.5h1v1h-1zM47 96.2a0.5 0.5 0 1 0 1 0a0.5 0.5 0 1 0 -1 0M52.4 96.8h1v1h-1zM43.1 100.1a0.5 0.5 0 1 0 1 0a0.5 0.5 0 1 0 -1 0M56.1 85.1h1v1h-1zM48.5 94.3h1v1h-1zM55.6 89.3h1v1h-1zM71.8 72.7h1v1h-1zM67.5 88h1v1h-1zM48.4 96.4h1v1h-1zM52.7 90.4a0.5 0.5 0 1 0 1 0a0.5 0.5 0 1 0 -1 0M64.9 79.5h1v1h-1zM54.8 90.3a0.5 0.5 0 1 0 1 0a0.5 0.5 0 1 0 -1 0M46.5 80.5h1v1h-1z" fill="#e27a1c"/>
<path d="M43.5 95.4l0.7 0.7l-0.7 0.7l-0.7 -0.7zM61.3 82.7h1.2v1.2h-1.2zM46.1 95.1a0.6 0.6 0 1 0 1.3 0a0.6 0.6 0 1 0 -1.3 0M45.3 90.2l1.4 1.4m0 -1.4l-1.4 1.4M66.6 79.2a0.6 0.6 0 1 0 1.3 0a0.6 0.6 0 1 0 -1.3 0M47.2 91.5l1.4 1.4m0 -1.4l-1.4 1.4M47 96.3l0.7 0.7l-0.7 0.7l-0.7 -0.7zM66.3 80.9a0.6 0.6 0 1 0 1.3 0a0.6 0.6 0 1 0 -1.3 0M63.8 74.7a0.6 0.6 0 1 0 1.3 0a0.6 0.6 0 1 0 -1.3 0M46.3 96.8a0.6 0.6 0 1 0 1.3 0a0.6 0.6 0 1 0 -1.3 0M56.5 89.3l0.7 1.3h-1.4zM55.1 89.5l0.7 0.7l-0.7 0.7l-0.7 -0.7zM62 83.4l0.7 1.3h-1.4zM62.8 80.2l1.4 1.4m0 -1.4l-1.4 1.4M63.7 76.4l1.4 1.4m0 -1.4l-1.4 1.4M48.5 93l1.4 1.4m0 -1.4l-1.4 1.4M54.9 85.5l0.7 1.3h-1.4zM48.1 97.6l0.7 0.7l-0.7 0.7l-0.7 -0.7zM57.4 85l0.7 0.7l-0.7 0.7l-0.7 -0.7zM49.8 94.8l0.7 1.3h-1.4zM60.3 82.9l0.7 1.3h-1.4zM56.9 82.7l1.4 1.4m0 -1.4l-1.4 1.4M61.9 80.2l0.7 0.7l-0.7 0.7l-0.7 -0.7zM38 103.4h1.2v1.2h-1.2zM42.9 95.1l1.4 1.4m0 -1.4l-1.4 1.4M60.1 85h1.2v1.2h-1.2zM55.4 84.3l1.4 1.4m0 -1.4l-1.4 1.4M51.4 98.2a0.6 0.6 0 1 0 1.3 0a0.6 0.6 0 1 0 -1.3 0M55.3 84.6l1.4 1.4m0 -1.4l-1.4 1.4M61.5 84.4l0.7 0.7l-0.7 0.7l-0.7 -0.7zM58.4 87.1h1.2v1.2h-1.2zM49.1 91.1a0.6 0.6 0 1 0 1.3 0a0.6 0.6 0 1 0 -1.3 0M50.8 86.6l0.7 0.7l-0.7 0.7l-0.7 -0.7zM59.6 86.7a0.6 0.6 0 1 0 1.3 0a0.6 0.6 0 1 0 -1.3 0M49.7 89.5h1.2v1.2h-1.2zM49.4 90.9a0.6 0.6 0 1 0 1.3 0a0.6 0.6 0 1 0 -1.3 0M65.7 81.5h1.2v1.2h-1.2zM39.1 100l1.4 1.4m0 -1.4l-1.4 1.4M42.9 95.7h1.2v1.2h-1.2zM51.1 90.7a0.6 0.6 0 1 0 1.3 0a0.6 0.6 0 1 0 -1.3 0M94.9 59.7l0.7 0.7l-0.7 0.7l-0.7 -0.7zM95 61.8l1.4 1.4m0 -1.4l-1.4 1.4M86.2 66.6a0.6 0.6 0 1 0 1.3 0a0.6 0.6 0 1 0 -1.3 0M66.7 69.9l0.7 0.7l-0.7 0.7l-0.7 -0.7zM65.4 101a0.6 0.6 0 1 0 1.3 0a0.6 0.6 0 1 0 -1.3 0M77.4 81.9h1.2v1.2h-1.2z" fill="none" stroke="#3d7cc8" stroke-width="0.45"/>
<path d="M53.5 90.6a0.5 0.5 0 1 0 1 0a0.5 0.5 0 1 0 -1 0M61.6 82.8a0.5 0.5 0 1 0 1 0a0.5 0.5 0 1 0 -1 0M59.6 82.9h1v1h-1zM72.5 81.8h1v1h-1zM41.6 98.5a0.5 0.5 0 1 0 1 0a0.5 0.5 0 1 0 -1 0M55.4 86.8a0.5 0.5 0 1 0 1 0a0.5 0.5 0 1 0 -1 0M45.4 98.7a0.5 0.5 0 1 0 1 0a0.5 0.5 0 1 0 -1 0M42.9 102.3a0.5 0.5 0 1 0 1 0a0.5 0.5 0 1 0 -1 0M64.3 80a0.5 0.5 0 1 0 1 0a0.5 0.5 0 1 0 -1 0M42.1 97.6a0.5 0.5 0 1 0 1 0a0.5 0.5 0 1 0 -1 0M61.2 87.7h1v1h-1z" fill="#3d7cc8"/>
<path d="M55.5 86.9h1.4m-0.7 -0.7v1.4M51.5 94.9h1.4m-0.7 -0.7v1.4M46.4 95.1h1.4m-0.7 -0.7v1.4M36.5 103h1.4m-0.7 -0.7v1.4M55.4 89.8h1.4m-0.7 -0.7v1.4M44.7 96.4h1.4m-0.7 -0.7v1.4M71 76.2h1.4m-0.7 -0.7v1.4M56.4 88.9h1.4m-0.7 -0.7v1.4M59.2 103.2h1.4m-0.7 -0.7v1.4" fill="none" stroke="#3d7cc8" stroke-width="0.59"/>
<path d="M61.1 77.9h1v1h-1zM49.4 89.9a0.5 0.5 0 1 0 1 0a0.5 0.5 0 1 0 -1 0M54.5 88.9a0.5 0.5 0 1 0 1 0a0.5 0.5 0 1 0 -1 0M61.1 87a0.5 0.5 0 1 0 1 0a0.5 0.5 0 1 0 -1 0M68.5 81.4h1v1h-1zM43.4 96.9h1v1h-1zM45.2 94.6h1v1h-1zM71.6 74.4h1v1h-1zM37.3 103.6h1v1h-1zM59.3 91.9h1v1h-1zM61.9 77.3h1v1h-1zM47.3 93h1v1h-1zM57.4 91a0.5 0.5 0 1 0 1 0a0.5 0.5 0 1 0 -1 0M45.9 96h1v1h-1zM52.9 83.3h1v1h-1zM46.2 99.1a0.5 0.5 0 1 0 1 0a0.5 0.5 0 1 0 -1 0M53.9 90.4a0.5 0.5 0 1 0 1 0a0.5 0.5 0 1 0 -1 0M56.4 92.5a0.5 0.5 0 1 0 1 0a0.5 0.5 0 1 0 -1 0M51.7 89h1v1h-1zM62 84.1h1v1h-1zM40.1 96h1v1h-1zM55.8 79.3a0.5 0.5 0 1 0 1 0a0.5 0.5 0 1 0 -1 0M44 77a0.5 0.5 0 1 0 1 0a0.5 0.5 0 1 0 -1 0M56.5 73a0.5 0.5 0 1 0 1 0a0.5 0.5 0 1 0 -1 0" fill="#2f9a45"/>
<path d="M68.4 75.1l1.4 1.4m0 -1.4l-1.4 1.4M50.7 91.3h1.2v1.2h-1.2zM64.5 79l1.4 1.4m0 -1.4l-1.4 1.4M48.3 95.7a0.6 0.6 0 1 0 1.3 0a0.6 0.6 0 1 0 -1.3 0M42.3 96.7h1.2v1.2h-1.2zM72.3 74.5l0.7 0.7l-0.7 0.7l-0.7 -0.7zM58.1 86.8h1.2v1.2h-1.2zM48.7 93.9l0.7 1.3h-1.4zM53.4 92.1l0.7 0.7l-0.7 0.7l-0.7 -0.7zM68.2 78.7l0.7 1.3h-1.4zM59.6 81.9l1.4 1.4m0 -1.4l-1.4 1.4M63.9 83l0.7 0.7l-0.7 0.7l-0.7 -0.7zM64.1 77.8l0.7 1.3h-1.4zM66.8 77.1l0.7 1.3h-1.4zM56.1 84.6l1.4 1.4m0 -1.4l-1.4 1.4M42.5 98.5l0.7 0.7l-0.7 0.7l-0.7 -0.7zM50.2 92.6l1.4 1.4m0 -1.4l-1.4 1.4M51.5 94.2l0.7 0.7l-0.7 0.7l-0.7 -0.7zM63.5 75a0.6 0.6 0 1 0 1.3 0a0.6 0.6 0 1 0 -1.3 0M46.9 94.4l1.4 1.4m0 -1.4l-1.4 1.4M45.9 95.7l0.7 0.7l-0.7 0.7l-0.7 -0.7zM63.8 84h1.2v1.2h-1.2zM38.3 101.6l0.7 0.7l-0.7 0.7l-0.7 -0.7zM47.9 96.7h1.2v1.2h-1.2zM56.8 84a0.6 0.6 0 1 0 1.3 0a0.6 0.6 0 1 0 -1.3 0M45.3 94.6l1.4 1.4m0 -1.4l-1.4 1.4M56.8 89.7l0.7 1.3h-1.4zM51 92a0.6 0.6 0 1 0 1.3 0a0.6 0.6 0 1 0 -1.3 0M58.8 81.5l1.4 1.4m0 -1.4l-1.4 1.4M49.4 91.9a0.6 0.6 0 1 0 1.3 0a0.6 0.6 0 1 0 -1.3 0M43.3 99.2a0.6 0.6 0 1 0 1.3 0a0.6 0.6 0 1 0 -1.3 0M40.7 99l0.7 0.7l-0.7 0.7l-0.7 -0.7zM49.6 92.6l0.7 1.3h-1.4zM52.5 89.3h1.2v1.2h-1.2zM41.7 96.5l1.4 1.4m0 -1.4l-1.4 1.4M57.8 87.2l0.7 1.3h-1.4zM62 84.7l0.7 0.7l-0.7 0.7l-0.7 -0.7zM48 92.1l1.4 1.4m0 -1.4l-1.4 1.4M67.3 77.9l0.7 1.3h-1.4zM52.1 90.7l0.7 1.3h-1.4zM46.8 91.7l1.4 1.4m0 -1.4l-1.4 1.4M94.7 58a0.6 0.6 0 1 0 1.3 0a0.6 0.6 0 1 0 -1.3 0M98.9 71.6h1.2v1.2h-1.2z" fill="none" stroke="#2f9a45" stroke-width="0.45"/>
<path d="M57 85.7h1.4m-0.7 -0.7v1.4M38.9 100.5h1.4m-0.7 -0.7v1.4M63.6 80.3h1.4m-0.7 -0.7v1.4" fill="none" stroke="#2f9a45" stroke-width="0.59"/>
<path d="M55.1 87.4a0.5 0.5 0 1 0 1 0a0.5 0.5 0 1 0 -1 0M56 86.3h1v1h-1zM59.7 88.9a0.5 0.5 0 1 0 1 0a0.5 0.5 0 1 0 -1 0M40.9 96.9h1v1h-1zM57.9 86.7h1v1h-1zM54 88.9a0.5 0.5 0 1 0 1 0a0.5 0.5 0 1 0 -1 0M47.6 94.2h1v1h-1zM62.8 83.8h1v1h-1zM56.1 90.8a0.5 0.5 0 1 0 1 0a0.5 0.5 0 1 0 -1 0M62.8 86.3a0.5 0.5 0 1 0 1 0a0.5 0.5 0 1 0 -1 0M64.7 80.6a0.5 0.5 0 1 0 1 0a0.5 0.5 0 1 0 -1 0M50.9 86.5a0.5 0.5 0 1 0 1 0a0.5 0.5 0 1 0 -1 0M65 80.7a0.5 0.5 0 1 0 1 0a0.5 0.5 0 1 0 -1 0M48.7 91.2h1v1h-1zM62.6 88.2a0.5 0.5 0 1 0 1 0a0.5 0.5 0 1 0 -1 0M51.9 88.8a0.5 0.5 0 1 0 1 0a0.5 0.5 0 1 0 -1 0M43.7 97.7h1v1h-1zM41.1 100.5h1v1h-1zM74.8 74h1v1h-1zM141.5 42.7h1v1h-1z" fill="#6d7a25"/>
<path d="M56.8 91l0.7 1.3h-1.4zM65.4 74.6l0.7 0.7l-0.7 0.7l-0.7 -0.7zM60.6 86.2l1.4 1.4m0 -1.4l-1.4 1.4M63.5 85.4a0.6 0.6 0 1 0 1.3 0a0.6 0.6 0 1 0 -1.3 0M53.2 90.8l0.7 0.7l-0.7 0.7l-0.7 -0.7zM55.1 92.5h1.2v1.2h-1.2zM64.4 82.1a0.6 0.6 0 1 0 1.3 0a0.6 0.6 0 1 0 -1.3 0M60.2 87.6a0.6 0.6 0 1 0 1.3 0a0.6 0.6 0 1 0 -1.3 0M36.1 103l1.4 1.4m0 -1.4l-1.4 1.4M44.6 95.7l0.7 1.3h-1.4zM43.8 102.9h1.2v1.2h-1.2zM49.3 90.8a0.6 0.6 0 1 0 1.3 0a0.6 0.6 0 1 0 -1.3 0M64.5 82.7a0.6 0.6 0 1 0 1.3 0a0.6 0.6 0 1 0 -1.3 0M59.7 84.8l1.4 1.4m0 -1.4l-1.4 1.4M62.4 82.4h1.2v1.2h-1.2zM66 80.7l0.7 1.3h-1.4zM39.4 103.4h1.2v1.2h-1.2zM63.8 70.9a0.6 0.6 0 1 0 1.3 0a0.6 0.6 0 1 0 -1.3 0M57.9 92.6h1.2v1.2h-1.2zM45.5 93.3l1.4 1.4m0 -1.4l-1.4 1.4M54 86.9l1.4 1.4m0 -1.4l-1.4 1.4M62.2 78.5l0.7 0.7l-0.7 0.7l-0.7 -0.7zM61 79.9h1.2v1.2h-1.2zM51.9 94.2l0.7 1.3h-1.4zM53 92.2h1.2v1.2h-1.2zM64 81.8h1.2v1.2h-1.2zM55.7 84.8l0.7 1.3h-1.4zM47.5 92.6l0.7 0.7l-0.7 0.7l-0.7 -0.7zM55.1 90.7a0.6 0.6 0 1 0 1.3 0a0.6 0.6 0 1 0 -1.3 0M48.3 91.6a0.6 0.6 0 1 0 1.3 0a0.6 0.6 0 1 0 -1.3 0M47.3 84.1l1.4 1.4m0 -1.4l-1.4 1.4M89.4 66.8l1.4 1.4m0 -1.4l-1.4 1.4M94.2 77.5l1.4 1.4m0 -1.4l-1.4 1.4" fill="none" stroke="#6d7a25" stroke-width="0.45"/>
<path d="M52.7 92.5h1.4m-0.7 -0.7v1.4M46.4 92h1.4m-0.7 -0.7v1.4M61.3 85.5h1.4m-0.7 -0.7v1.4M37.1 102h1.4m-0.7 -0.7v1.4M57.1 86.9h1.4m-0.7 -0.7v1.4M66.2 79.7h1.4m-0.7 -0.7v1.4M47.4 93.5h1.4m-0.7 -0.7v1.4M36.8 101.6h1.4m-0.7 -0.7v1.4" fill="none" stroke="#6d7a25" stroke-width="0.59"/>
<path d="M55.6 89.2l0.7 0.7l-0.7 0.7l-0.7 -0.7zM50.3 91.2l1.4 1.4m0 -1.4l-1.4 1.4M54.2 91.9a0.6 0.6 0 1 0 1.3 0a0.6 0.6 0 1 0 -1.3 0M37.9 102.8l1.4 1.4m0 -1.4l-1.4 1.4M58.9 84.8l1.4 1.4m0 -1.4l-1.4 1.4M50.6 90.7h1.2v1.2h-1.2zM65.3 90l0.7 1.3h-1.4zM51.9 84.7l1.4 1.4m0 -1.4l-1.4 1.4M52.2 94.8h1.2v1.2h-1.2zM54.1 82.2h1.2v1.2h-1.2zM58.8 89.2h1.2v1.2h-1.2zM52.4 91.4l0.7 1.3h-1.4zM51.3 90.6l0.7 0.7l-0.7 0.7l-0.7 -0.7zM43.4 97.8l0.7 0.7l-0.7 0.7l-0.7 -0.7zM49.1 93.2a0.6 0.6 0 1 0 1.3 0a0.6 0.6 0 1 0 -1.3 0M61.9 75.1l1.4 1.4m0 -1.4l-1.4 1.4M55.3 89.3l0.7 1.3h-1.4zM58.7 88.8l0.7 1.3h-1.4zM73.1 77.3l0.7 1.3h-1.4zM63.4 84.4l1.4 1.4m0 -1.4l-1.4 1.4M62.9 81.4l0.7 1.3h-1.4zM48.1 99l0.7 0.7l-0.7 0.7l-0.7 -0.7zM55.2 89.4l0.7 0.7l-0.7 0.7l-0.7 -0.7zM59.7 91.3a0.6 0.6 0 1 0 1.3 0a0.6 0.6 0 1 0 -1.3 0M52.5 92.2l0.7 1.3h-1.4zM57.2 88.9l1.4 1.4m0 -1.4l-1.4 1.4M51.4 91h1.2v1.2h-1.2zM58.9 86h1.2v1.2h-1.2zM61.9 80.8l1.4 1.4m0 -1.4l-1.4 1.4M61 88.5l0.7 0.7l-0.7 0.7l-0.7 -0.7zM53.6 87.1l1.4 1.4m0 -1.4l-1.4 1.4M73.9 77.2a0.6 0.6 0 1 0 1.3 0a0.6 0.6 0 1 0 -1.3 0M90.5 61.5l1.4 1.4m0 -1.4l-1.4 1.4M93.6 71.5l0.7 0.7l-0.7 0.7l-0.7 -0.7zM76.5 84.3l0.7 1.3h-1.4z" fill="none" stroke="#6d58b8" stroke-width="0.45"/>
<path d="M52.8 93.2h1v1h-1zM50.3 91.5a0.5 0.5 0 1 0 1 0a0.5 0.5 0 1 0 -1 0M48.5 94.2h1v1h-1zM48.7 90.6h1v1h-1zM69.5 77.8a0.5 0.5 0 1 0 1 0a0.5 0.5 0 1 0 -1 0M42.6 95.2h1v1h-1zM54 92a0.5 0.5 0 1 0 1 0a0.5 0.5 0 1 0 -1 0M44.5 97.3h1v1h-1z" fill="#6d58b8"/>
<path d="M53.9 90.3h1.4m-0.7 -0.7v1.4M46.9 93.8h1.4m-0.7 -0.7v1.4M60.4 83.6h1.4m-0.7 -0.7v1.4M81.6 78.2h1.4m-0.7 -0.7v1.4M61.3 99h1.4m-0.7 -0.7v1.4" fill="none" stroke="#6d58b8" stroke-width="0.59"/>
<path d="M57.5 90.8h1v1h-1zM65.4 83.1a0.5 0.5 0 1 0 1 0a0.5 0.5 0 1 0 -1 0M47.6 95.8a0.5 0.5 0 1 0 1 0a0.5 0.5 0 1 0 -1 0M61.1 87.1a0.5 0.5 0 1 0 1 0a0.5 0.5 0 1 0 -1 0M50.2 85.3h1v1h-1zM63.5 85.4a0.5 0.5 0 1 0 1 0a0.5 0.5 0 1 0 -1 0M55.2 89.7a0.5 0.5 0 1 0 1 0a0.5 0.5 0 1 0 -1 0M46.9 93.9a0.5 0.5 0 1 0 1 0a0.5 0.5 0 1 0 -1 0M69.7 77.7h1v1h-1zM62.9 84.9a0.5 0.5 0 1 0 1 0a0.5 0.5 0 1 0 -1 0" fill="#a5465c"/>
<path d="M58.3 85.6l1.4 1.4m0 -1.4l-1.4 1.4M49 91l0.7 1.3h-1.4zM60.2 90.9l0.7 0.7l-0.7 0.7l-0.7 -0.7zM50.6 90.5l1.4 1.4m0 -1.4l-1.4 1.4M63.1 85.9l0.7 1.3h-1.4zM43 97.9l1.4 1.4m0 -1.4l-1.4 1.4M42.7 99.4l0.7 0.7l-0.7 0.7l-0.7 -0.7zM47 96.3h1.2v1.2h-1.2zM60.8 86.8a0.6 0.6 0 1 0 1.3 0a0.6 0.6 0 1 0 -1.3 0M58.4 85.4h1.2v1.2h-1.2zM48.9 89.9l0.7 1.3h-1.4zM58.1 86.9l0.7 0.7l-0.7 0.7l-0.7 -0.7zM48 93.2h1.2v1.2h-1.2zM52.9 88.9h1.2v1.2h-1.2zM43.3 94.5a0.6 0.6 0 1 0 1.3 0a0.6 0.6 0 1 0 -1.3 0M68.2 72.9l0.7 1.3h-1.4zM48.6 93.4a0.6 0.6 0 1 0 1.3 0a0.6 0.6 0 1 0 -1.3 0M37.2 99.8l1.4 1.4m0 -1.4l-1.4 1.4M59.7 81.8l0.7 0.7l-0.7 0.7l-0.7 -0.7zM66.8 85.8l0.7 1.3h-1.4zM50.2 89.3l0.7 1.3h-1.4zM47.4 93h1.2v1.2h-1.2zM48.8 95.5h1.2v1.2h-1.2zM45.4 103.3l0.7 1.3h-1.4zM40.6 100l0.7 1.3h-1.4zM47.5 86.1l0.7 0.7l-0.7 0.7l-0.7 -0.7zM42 98.6l0.7 1.3h-1.4zM67.3 78.6l0.7 0.7l-0.7 0.7l-0.7 -0.7zM53.4 87.8l1.4 1.4m0 -1.4l-1.4 1.4M61.9 75.2l0.7 1.3h-1.4zM53.4 87.2h1.2v1.2h-1.2zM66.2 83.3h1.2v1.2h-1.2zM56.3 84.7h1.2v1.2h-1.2zM49.9 94.7h1.2v1.2h-1.2zM161.1 41a0.6 0.6 0 1 0 1.3 0a0.6 0.6 0 1 0 -1.3 0" fill="none" stroke="#a5465c" stroke-width="0.45"/>
<path d="M38 100.7h1.4m-0.7 -0.7v1.4M57.3 87.4h1.4m-0.7 -0.7v1.4M47.2 93.7h1.4m-0.7 -0.7v1.4M59.3 87.3h1.4m-0.7 -0.7v1.4M42.7 97.1h1.4m-0.7 -0.7v1.4" fill="none" stroke="#a5465c" stroke-width="0.59"/>
<path d="M68.5 80h1v1h-1zM43.2 96.4a0.5 0.5 0 1 0 1 0a0.5 0.5 0 1 0 -1 0M43.6 98.5h1v1h-1zM56.1 85.8a0.5 0.5 0 1 0 1 0a0.5 0.5 0 1 0 -1 0M52.3 102h1v1h-1zM55.1 91.4h1v1h-1zM48.8 94.4a0.5 0.5 0 1 0 1 0a0.5 0.5 0 1 0 -1 0M50.4 94.8h1v1h-1zM49.6 93.3h1v1h-1zM57.3 90.3a0.5 0.5 0 1 0 1 0a0.5 0.5 0 1 0 -1 0M40.3 97.7a0.5 0.5 0 1 0 1 0a0.5 0.5 0 1 0 -1 0M50.6 92a0.5 0.5 0 1 0 1 0a0.5 0.5 0 1 0 -1 0M55.2 91.7h1v1h-1z" fill="#c8302f"/>
<path d="M63.1 83.6h1.4m-0.7 -0.7v1.4M50.2 91.8h1.4m-0.7 -0.7v1.4M57.2 80.5h1.4m-0.7 -0.7v1.4M47.1 94.2h1.4m-0.7 -0.7v1.4M62.3 83.5h1.4m-0.7 -0.7v1.4M54.1 88.9h1.4m-0.7 -0.7v1.4M42.4 98.4h1.4m-0.7 -0.7v1.4M48.3 94.9h1.4m-0.7 -0.7v1.4M72.8 69.7h1.4m-0.7 -0.7v1.4M46.9 96.3h1.4m-0.7 -0.7v1.4M43.6 101h1.4m-0.7 -0.7v1.4M37.3 103h1.4m-0.7 -0.7v1.4" fill="none" stroke="#c8302f" stroke-width="0.59"/>
<path d="M61.7 84.8l0.7 1.3h-1.4zM56 87.1h1.2v1.2h-1.2zM43 101.3l0.7 1.3h-1.4zM46.2 93.4l0.7 0.7l-0.7 0.7l-0.7 -0.7zM68.6 82.3a0.6 0.6 0 1 0 1.3 0a0.6 0.6 0 1 0 -1.3 0M43.7 95.8a0.6 0.6 0 1 0 1.3 0a0.6 0.6 0 1 0 -1.3 0M45.9 95.2l1.4 1.4m0 -1.4l-1.4 1.4M65.8 81.3l0.7 1.3h-1.4zM51.5 89.5l1.4 1.4m0 -1.4l-1.4 1.4M63.3 85.8l1.4 1.4m0 -1.4l-1.4 1.4M47.5 94.4l0.7 0.7l-0.7 0.7l-0.7 -0.7zM51.3 91.2a0.6 0.6 0 1 0 1.3 0a0.6 0.6 0 1 0 -1.3 0M65 78.6h1.2v1.2h-1.2zM49.6 95.1l0.7 1.3h-1.4zM57.2 89.6a0.6 0.6 0 1 0 1.3 0a0.6 0.6 0 1 0 -1.3 0M38.6 99.3l1.4 1.4m0 -1.4l-1.4 1.4M65 85.9l0.7 1.3h-1.4zM57 84.1a0.6 0.6 0 1 0 1.3 0a0.6 0.6 0 1 0 -1.3 0M49.3 94.9l1.4 1.4m0 -1.4l-1.4 1.4M52.9 90.5l0.7 0.7l-0.7 0.7l-0.7 -0.7zM53.7 91.5h1.2v1.2h-1.2zM43.1 98.5h1.2v1.2h-1.2zM41.4 100.4a0.6 0.6 0 1 0 1.3 0a0.6 0.6 0 1 0 -1.3 0M59.8 85.1l0.7 0.7l-0.7 0.7l-0.7 -0.7zM59.2 82.7h1.2v1.2h-1.2zM40.4 102.3l0.7 0.7l-0.7 0.7l-0.7 -0.7zM51.8 90.6l0.7 0.7l-0.7 0.7l-0.7 -0.7zM66.6 79.2h1.2v1.2h-1.2zM49.1 94.5l1.4 1.4m0 -1.4l-1.4 1.4M66.8 78.9l0.7 1.3h-1.4zM52 90.2a0.6 0.6 0 1 0 1.3 0a0.6 0.6 0 1 0 -1.3 0M54 86.6l0.7 0.7l-0.7 0.7l-0.7 -0.7zM54.2 83.3h1.2v1.2h-1.2zM61.4 81.9h1.2v1.2h-1.2zM45.5 95.5l0.7 1.3h-1.4zM68.6 81.1a0.6 0.6 0 1 0 1.3 0a0.6 0.6 0 1 0 -1.3 0M55.5 97.7h1.2v1.2h-1.2zM45.1 73.4l0.7 0.7l-0.7 0.7l-0.7 -0.7zM39 82.3l1.4 1.4m0 -1.4l-1.4 1.4M70.2 95.8l0.7 0.7l-0.7 0.7l-0.7 -0.7z" fill="none" stroke="#c8302f" stroke-width="0.45"/>
<path d="M69.2 74.4l0.7 0.7l-0.7 0.7l-0.7 -0.7zM41.8 99.1h1.2v1.2h-1.2zM56.3 83.7l0.7 0.7l-0.7 0.7l-0.7 -0.7zM39 102.7a0.6 0.6 0 1 0 1.3 0a0.6 0.6 0 1 0 -1.3 0M51.9 90.2h1.2v1.2h-1.2zM57.4 87.9l1.4 1.4m0 -1.4l-1.4 1.4M41.1 102.8l0.7 0.7l-0.7 0.7l-0.7 -0.7zM57.3 88.2l0.7 0.7l-0.7 0.7l-0.7 -0.7zM41.1 98.4l0.7 1.3h-1.4zM53.9 94.8l0.7 1.3h-1.4zM44.7 94.3l1.4 1.4m0 -1.4l-1.4 1.4M55.5 91.6l0.7 0.7l-0.7 0.7l-0.7 -0.7zM58.4 83.4l1.4 1.4m0 -1.4l-1.4 1.4M62.2 84.7a0.6 0.6 0 1 0 1.3 0a0.6 0.6 0 1 0 -1.3 0M51.6 90.2h1.2v1.2h-1.2zM46.9 93.9h1.2v1.2h-1.2zM61.8 79.2h1.2v1.2h-1.2zM50.7 88.9l0.7 0.7l-0.7 0.7l-0.7 -0.7zM60.2 86.1a0.6 0.6 0 1 0 1.3 0a0.6 0.6 0 1 0 -1.3 0M46.8 95.1h1.2v1.2h-1.2zM69.2 75.9l1.4 1.4m0 -1.4l-1.4 1.4M52.8 88.8l0.7 0.7l-0.7 0.7l-0.7 -0.7zM42.5 96.2h1.2v1.2h-1.2zM61.6 88.2a0.6 0.6 0 1 0 1.3 0a0.6 0.6 0 1 0 -1.3 0M49.4 94.6l0.7 0.7l-0.7 0.7l-0.7 -0.7zM47.6 96.7a0.6 0.6 0 1 0 1.3 0a0.6 0.6 0 1 0 -1.3 0M57.4 90l0.7 1.3h-1.4zM53.4 86.1l0.7 0.7l-0.7 0.7l-0.7 -0.7z" fill="none" stroke="#6a4524" stroke-width="0.45"/>
<path d="M41 98.7h1.4m-0.7 -0.7v1.4M64.2 81.1h1.4m-0.7 -0.7v1.4M54.8 86.1h1.4m-0.7 -0.7v1.4M53.7 90.5h1.4m-0.7 -0.7v1.4M55.2 89.4h1.4m-0.7 -0.7v1.4M42.9 98.7h1.4m-0.7 -0.7v1.4M39.2 102.3h1.4m-0.7 -0.7v1.4" fill="none" stroke="#6a4524" stroke-width="0.59"/>
<path d="M57.3 85.3a0.5 0.5 0 1 0 1 0a0.5 0.5 0 1 0 -1 0M63 87.7a0.5 0.5 0 1 0 1 0a0.5 0.5 0 1 0 -1 0M55.9 103.3a0.5 0.5 0 1 0 1 0a0.5 0.5 0 1 0 -1 0M66.1 81.5a0.5 0.5 0 1 0 1 0a0.5 0.5 0 1 0 -1 0M53.9 90.5a0.5 0.5 0 1 0 1 0a0.5 0.5 0 1 0 -1 0M52.6 88.3a0.5 0.5 0 1 0 1 0a0.5 0.5 0 1 0 -1 0M55.1 83.6h1v1h-1zM61.9 77.6a0.5 0.5 0 1 0 1 0a0.5 0.5 0 1 0 -1 0M52.9 91.3a0.5 0.5 0 1 0 1 0a0.5 0.5 0 1 0 -1 0M41.9 98.5a0.5 0.5 0 1 0 1 0a0.5 0.5 0 1 0 -1 0M49.3 94.8h1v1h-1zM49.5 92.6a0.5 0.5 0 1 0 1 0a0.5 0.5 0 1 0 -1 0" fill="#6a4524"/>
<path d="M61 86.8a0.5 0.5 0 1 0 1 0a0.5 0.5 0 1 0 -1 0M65 78.9h1v1h-1zM45.3 100a0.5 0.5 0 1 0 1 0a0.5 0.5 0 1 0 -1 0M46.5 96.3a0.5 0.5 0 1 0 1 0a0.5 0.5 0 1 0 -1 0M52.1 93.1h1v1h-1zM45.1 93.7a0.5 0.5 0 1 0 1 0a0.5 0.5 0 1 0 -1 0M63.5 87.2a0.5 0.5 0 1 0 1 0a0.5 0.5 0 1 0 -1 0M44.2 96.7a0.5 0.5 0 1 0 1 0a0.5 0.5 0 1 0 -1 0M56.5 89.2a0.5 0.5 0 1 0 1 0a0.5 0.5 0 1 0 -1 0M66.6 79.2h1v1h-1zM36.7 103a0.5 0.5 0 1 0 1 0a0.5 0.5 0 1 0 -1 0M58.2 85.1h1v1h-1zM48.7 92.7h1v1h-1zM45.3 94.5a0.5 0.5 0 1 0 1 0a0.5 0.5 0 1 0 -1 0M53.9 87.9a0.5 0.5 0 1 0 1 0a0.5 0.5 0 1 0 -1 0M69.6 77.7a0.5 0.5 0 1 0 1 0a0.5 0.5 0 1 0 -1 0M53.8 89a0.5 0.5 0 1 0 1 0a0.5 0.5 0 1 0 -1 0" fill="#5a4a22"/>
<path d="M51.7 90.2a0.6 0.6 0 1 0 1.3 0a0.6 0.6 0 1 0 -1.3 0M62.3 90l1.4 1.4m0 -1.4l-1.4 1.4M42.8 96.7h1.2v1.2h-1.2zM38.5 102.2h1.2v1.2h-1.2zM50.8 90.8h1.2v1.2h-1.2zM63.9 84.5a0.6 0.6 0 1 0 1.3 0a0.6 0.6 0 1 0 -1.3 0M54.9 85.7l0.7 0.7l-0.7 0.7l-0.7 -0.7zM58 85.8l0.7 1.3h-1.4zM46.3 96.2l0.7 1.3h-1.4zM48.2 94.8a0.6 0.6 0 1 0 1.3 0a0.6 0.6 0 1 0 -1.3 0M61.8 85.9h1.2v1.2h-1.2zM73.8 81.1h1.2v1.2h-1.2zM46.1 97.1l0.7 0.7l-0.7 0.7l-0.7 -0.7zM46.2 93.7a0.6 0.6 0 1 0 1.3 0a0.6 0.6 0 1 0 -1.3 0M50.8 91.5l0.7 1.3h-1.4zM37.5 102.5a0.6 0.6 0 1 0 1.3 0a0.6 0.6 0 1 0 -1.3 0M57.9 86.9l1.4 1.4m0 -1.4l-1.4 1.4M61.3 79.7l0.7 1.3h-1.4zM46.7 91.8a0.6 0.6 0 1 0 1.3 0a0.6 0.6 0 1 0 -1.3 0M58.9 86.8a0.6 0.6 0 1 0 1.3 0a0.6 0.6 0 1 0 -1.3 0M49.2 91.4h1.2v1.2h-1.2zM53.5 91h1.2v1.2h-1.2zM46.9 93.4h1.2v1.2h-1.2zM44.8 94.7l1.4 1.4m0 -1.4l-1.4 1.4M62.7 77.6h1.2v1.2h-1.2zM60.7 82.7l0.7 0.7l-0.7 0.7l-0.7 -0.7zM50.9 91l1.4 1.4m0 -1.4l-1.4 1.4M50.6 91.1a0.6 0.6 0 1 0 1.3 0a0.6 0.6 0 1 0 -1.3 0M44.1 97.5h1.2v1.2h-1.2zM44.8 98a0.6 0.6 0 1 0 1.3 0a0.6 0.6 0 1 0 -1.3 0M77.8 70.8l1.4 1.4m0 -1.4l-1.4 1.4" fill="none" stroke="#5a4a22" stroke-width="0.45"/>
<path d="M57.2 87.8h1.4m-0.7 -0.7v1.4M69.5 75.3h1.4m-0.7 -0.7v1.4M64.6 80.7h1.4m-0.7 -0.7v1.4M66 81.8h1.4m-0.7 -0.7v1.4M61.9 82.3h1.4m-0.7 -0.7v1.4M61.7 88.3h1.4m-0.7 -0.7v1.4M44.2 96.1h1.4m-0.7 -0.7v1.4M59.5 84.8h1.4m-0.7 -0.7v1.4M57.1 85.2h1.4m-0.7 -0.7v1.4M55.5 88.8h1.4m-0.7 -0.7v1.4M65.3 81.8h1.4m-0.7 -0.7v1.4M51.7 91.9h1.4m-0.7 -0.7v1.4" fill="none" stroke="#5a4a22" stroke-width="0.59"/>
<path d="M60.4 89.7l1.4 1.4m0 -1.4l-1.4 1.4M74.2 69.6l1.4 1.4m0 -1.4l-1.4 1.4M48.6 94.5l0.7 1.3h-1.4zM66.5 83.1a0.6 0.6 0 1 0 1.3 0a0.6 0.6 0 1 0 -1.3 0M61.2 84.4h1.2v1.2h-1.2zM57.2 83.5l1.4 1.4m0 -1.4l-1.4 1.4M50.1 95a0.6 0.6 0 1 0 1.3 0a0.6 0.6 0 1 0 -1.3 0M65.5 86.4h1.2v1.2h-1.2zM49 92.1a0.6 0.6 0 1 0 1.3 0a0.6 0.6 0 1 0 -1.3 0M47.1 91.8l0.7 0.7l-0.7 0.7l-0.7 -0.7zM53.3 89.8a0.6 0.6 0 1 0 1.3 0a0.6 0.6 0 1 0 -1.3 0M47.5 95.2h1.2v1.2h-1.2zM43.2 96.8l1.4 1.4m0 -1.4l-1.4 1.4M51.7 94.5l0.7 1.3h-1.4zM52.9 97.3l0.7 1.3h-1.4zM61.6 84.6l1.4 1.4m0 -1.4l-1.4 1.4M49.9 95.3l1.4 1.4m0 -1.4l-1.4 1.4M53.1 89.2l0.7 0.7l-0.7 0.7l-0.7 -0.7zM48.2 94.2l0.7 0.7l-0.7 0.7l-0.7 -0.7zM54.7 91.2a0.6 0.6 0 1 0 1.3 0a0.6 0.6 0 1 0 -1.3 0M36.9 101.8l1.4 1.4m0 -1.4l-1.4 1.4M44.6 95.9l1.4 1.4m0 -1.4l-1.4 1.4M64.8 81.7l0.7 0.7l-0.7 0.7l-0.7 -0.7zM65.4 80h1.2v1.2h-1.2zM55.2 86.5a0.6 0.6 0 1 0 1.3 0a0.6 0.6 0 1 0 -1.3 0M69 75.2l1.4 1.4m0 -1.4l-1.4 1.4M46.3 94.5l0.7 1.3h-1.4zM52.7 89.9h1.2v1.2h-1.2zM62 79.5h1.2v1.2h-1.2zM57.1 87.5l1.4 1.4m0 -1.4l-1.4 1.4M47.5 94.2l0.7 1.3h-1.4zM49.4 92.8l1.4 1.4m0 -1.4l-1.4 1.4M41.6 97.8h1.2v1.2h-1.2zM55.9 83.4h1.2v1.2h-1.2zM66.8 79.2h1.2v1.2h-1.2zM42.7 101.6l0.7 1.3h-1.4zM68.8 75.6a0.6 0.6 0 1 0 1.3 0a0.6 0.6 0 1 0 -1.3 0M53.5 92.1a0.6 0.6 0 1 0 1.3 0a0.6 0.6 0 1 0 -1.3 0M69.1 79.8l0.7 1.3h-1.4zM78.3 77.5l0.7 0.7l-0.7 0.7l-0.7 -0.7z" fill="none" stroke="#245c38" stroke-width="0.45"/>
<path d="M44.7 91h1.4m-0.7 -0.7v1.4M39 99.7h1.4m-0.7 -0.7v1.4M45.6 95h1.4m-0.7 -0.7v1.4M44.8 94.5h1.4m-0.7 -0.7v1.4M58 87.8h1.4m-0.7 -0.7v1.4M50.9 93.3h1.4m-0.7 -0.7v1.4M44.1 94.5h1.4m-0.7 -0.7v1.4M49.3 91.6h1.4m-0.7 -0.7v1.4M84.5 70.1h1.4m-0.7 -0.7v1.4" fill="none" stroke="#245c38" stroke-width="0.59"/>
<path d="M49.2 92.3h1v1h-1zM50.2 92.1a0.5 0.5 0 1 0 1 0a0.5 0.5 0 1 0 -1 0M64.8 80.8h1v1h-1zM39.4 100h1v1h-1zM59.8 88.6a0.5 0.5 0 1 0 1 0a0.5 0.5 0 1 0 -1 0M42.3 98.6h1v1h-1zM63.7 82.2a0.5 0.5 0 1 0 1 0a0.5 0.5 0 1 0 -1 0M52 78h1v1h-1z" fill="#245c38"/>
<path d="M42.7 97.3l0.7 0.7l-0.7 0.7l-0.7 -0.7zM45.7 98.1a0.6 0.6 0 1 0 1.3 0a0.6 0.6 0 1 0 -1.3 0M45.7 98.7h1.2v1.2h-1.2zM62.6 82.7l0.7 0.7l-0.7 0.7l-0.7 -0.7zM64.2 87.1l0.7 0.7l-0.7 0.7l-0.7 -0.7zM58.4 89.5l0.7 0.7l-0.7 0.7l-0.7 -0.7zM53.5 86.6l0.7 1.3h-1.4zM56.5 90.6l0.7 1.3h-1.4zM68.7 79.5l1.4 1.4m0 -1.4l-1.4 1.4M69.8 72.4l0.7 0.7l-0.7 0.7l-0.7 -0.7zM48.4 93.6l1.4 1.4m0 -1.4l-1.4 1.4M59.7 89.6h1.2v1.2h-1.2zM50.2 93.5l0.7 1.3h-1.4zM45.4 95.6l0.7 1.3h-1.4zM52.5 90.4l1.4 1.4m0 -1.4l-1.4 1.4M62.9 83.8a0.6 0.6 0 1 0 1.3 0a0.6 0.6 0 1 0 -1.3 0M57.9 80.3l1.4 1.4m0 -1.4l-1.4 1.4M51.8 91.9l0.7 1.3h-1.4zM42.4 99a0.6 0.6 0 1 0 1.3 0a0.6 0.6 0 1 0 -1.3 0M49.1 93.6l0.7 1.3h-1.4zM68.7 70.5l1.4 1.4m0 -1.4l-1.4 1.4M51.5 83.8a0.6 0.6 0 1 0 1.3 0a0.6 0.6 0 1 0 -1.3 0M44.6 99.5l0.7 0.7l-0.7 0.7l-0.7 -0.7zM52.6 82.7l1.4 1.4m0 -1.4l-1.4 1.4M56.4 88.7h1.2v1.2h-1.2zM56.4 89.1l1.4 1.4m0 -1.4l-1.4 1.4M68.6 74.7h1.2v1.2h-1.2zM55 90.9l0.7 1.3h-1.4zM45.1 94l1.4 1.4m0 -1.4l-1.4 1.4M63.3 82.5l1.4 1.4m0 -1.4l-1.4 1.4M46.1 95.1l0.7 0.7l-0.7 0.7l-0.7 -0.7zM63.8 81.1l0.7 0.7l-0.7 0.7l-0.7 -0.7zM49.7 93.9a0.6 0.6 0 1 0 1.3 0a0.6 0.6 0 1 0 -1.3 0M68.2 83.5a0.6 0.6 0 1 0 1.3 0a0.6 0.6 0 1 0 -1.3 0M61.5 88a0.6 0.6 0 1 0 1.3 0a0.6 0.6 0 1 0 -1.3 0M40.5 101.7h1.2v1.2h-1.2zM44.9 98.2l1.4 1.4m0 -1.4l-1.4 1.4M49.9 89h1.2v1.2h-1.2zM54.4 91.9l0.7 0.7l-0.7 0.7l-0.7 -0.7zM42.2 99.2l1.4 1.4m0 -1.4l-1.4 1.4M92.7 57.9a0.6 0.6 0 1 0 1.3 0a0.6 0.6 0 1 0 -1.3 0" fill="none" stroke="#2e3288" stroke-width="0.45"/>
<path d="M52.3 92.3a0.5 0.5 0 1 0 1 0a0.5 0.5 0 1 0 -1 0M44.3 96a0.5 0.5 0 1 0 1 0a0.5 0.5 0 1 0 -1 0M55.8 87.7a0.5 0.5 0 1 0 1 0a0.5 0.5 0 1 0 -1 0M67.1 81.3h1v1h-1zM65.2 80.4h1v1h-1zM65.4 85.3a0.5 0.5 0 1 0 1 0a0.5 0.5 0 1 0 -1 0M62.1 81.8h1v1h-1zM55.9 90.4a0.5 0.5 0 1 0 1 0a0.5 0.5 0 1 0 -1 0M68.8 73.7h1v1h-1zM54 91.4a0.5 0.5 0 1 0 1 0a0.5 0.5 0 1 0 -1 0M50.8 83.7h1v1h-1zM43.6 95.3h1v1h-1zM103.9 53.4a0.5 0.5 0 1 0 1 0a0.5 0.5 0 1 0 -1 0M80.4 69h1v1h-1z" fill="#2e3288"/>
<path d="M54.9 85h1.4m-0.7 -0.7v1.4M58.9 85.7h1.4m-0.7 -0.7v1.4M46.3 97.9h1.4m-0.7 -0.7v1.4M60.5 83.4h1.4m-0.7 -0.7v1.4M59.3 78h1.4m-0.7 -0.7v1.4M55.6 85.7h1.4m-0.7 -0.7v1.4M54.8 82h1.4m-0.7 -0.7v1.4M42.4 100.8h1.4m-0.7 -0.7v1.4M60.2 81.5h1.4m-0.7 -0.7v1.4" fill="none" stroke="#2e3288" stroke-width="0.59"/>
<path d="M42.6 265.5h1.4m-0.7 -0.7v1.4M54.3 256.7h1.4m-0.7 -0.7v1.4M49 259.9h1.4m-0.7 -0.7v1.4M53.7 258.3h1.4m-0.7 -0.7v1.4M54.2 254.2h1.4m-0.7 -0.7v1.4M59.1 260.2h1.4m-0.7 -0.7v1.4M40.4 266.9h1.4m-0.7 -0.7v1.4M55.8 259.1h1.4m-0.7 -0.7v1.4M63.4 246.3h1.4m-0.7 -0.7v1.4M53.2 263.3h1.4m-0.7 -0.7v1.4M48.2 258.4h1.4m-0.7 -0.7v1.4M44.2 263.9h1.4m-0.7 -0.7v1.4M59.1 251.1h1.4m-0.7 -0.7v1.4" fill="none" stroke="#e8b420" stroke-width="0.59"/>
<path d="M55.1 254.7h1v1h-1zM40.9 264.7h1v1h-1zM47.3 260a0.5 0.5 0 1 0 1 0a0.5 0.5 0 1 0 -1 0M62.5 258h1v1h-1zM46.3 263.4h1v1h-1zM59.5 256h1v1h-1zM65.1 246.5h1v1h-1zM43.2 267.5a0.5 0.5 0 1 0 1 0a0.5 0.5 0 1 0 -1 0M61.9 245.6a0.5 0.5 0 1 0 1 0a0.5 0.5 0 1 0 -1 0M58.5 253.3h1v1h-1zM61.5 253.3a0.5 0.5 0 1 0 1 0a0.5 0.5 0 1 0 -1 0M58.7 251.4h1v1h-1zM47.7 262.7a0.5 0.5 0 1 0 1 0a0.5 0.5 0 1 0 -1 0M54.4 253.5h1v1h-1zM45.9 264.3a0.5 0.5 0 1 0 1 0a0.5 0.5 0 1 0 -1 0M52.4 259a0.5 0.5 0 1 0 1 0a0.5 0.5 0 1 0 -1 0M62.1 243.1h1v1h-1zM71.4 242.3h1v1h-1zM54.9 253.9a0.5 0.5 0 1 0 1 0a0.5 0.5 0 1 0 -1 0M44.5 263.4h1v1h-1zM50.4 263.1a0.5 0.5 0 1 0 1 0a0.5 0.5 0 1 0 -1 0M50.6 260.9h1v1h-1zM61.6 256.4a0.5 0.5 0 1 0 1 0a0.5 0.5 0 1 0 -1 0M73 237h1v1h-1zM60.2 252.9h1v1h-1zM49.2 258.9a0.5 0.5 0 1 0 1 0a0.5 0.5 0 1 0 -1 0M62.8 245.9a0.5 0.5 0 1 0 1 0a0.5 0.5 0 1 0 -1 0M61.2 255.5h1v1h-1zM44.4 265.6a0.5 0.5 0 1 0 1 0a0.5 0.5 0 1 0 -1 0M106.5 229.3a0.5 0.5 0 1 0 1 0a0.5 0.5 0 1 0 -1 0M55.5 271.3h1v1h-1z" fill="#e8b420"/>
<path d="M58 258.4l0.7 1.3h-1.4zM56 254.9h1.2v1.2h-1.2zM55.6 254.1h1.2v1.2h-1.2zM52.4 257.3l0.7 0.7l-0.7 0.7l-0.7 -0.7zM42.3 264.5h1.2v1.2h-1.2zM46.5 259.2h1.2v1.2h-1.2zM56.4 254.8l0.7 1.3h-1.4zM57.8 252.4l0.7 1.3h-1.4zM46.2 261.2l0.7 1.3h-1.4zM42.6 262.4l0.7 0.7l-0.7 0.7l-0.7 -0.7zM44.3 262.9l0.7 1.3h-1.4zM45.9 267.1l0.7 0.7l-0.7 0.7l-0.7 -0.7zM65.8 249.1l0.7 0.7l-0.7 0.7l-0.7 -0.7zM51.8 258.5a0.6 0.6 0 1 0 1.3 0a0.6 0.6 0 1 0 -1.3 0M65.3 250.3h1.2v1.2h-1.2zM42.5 271.2a0.6 0.6 0 1 0 1.3 0a0.6 0.6 0 1 0 -1.3 0M54.8 259l0.7 0.7l-0.7 0.7l-0.7 -0.7zM56.8 252.4l0.7 1.3h-1.4zM51.5 258.3l0.7 1.3h-1.4zM65 253.7l0.7 1.3h-1.4zM41.6 265.7h1.2v1.2h-1.2zM48.1 261.9l1.4 1.4m0 -1.4l-1.4 1.4M42.4 266.2h1.2v1.2h-1.2zM69.4 238.3l0.7 1.3h-1.4zM64.5 238l0.7 0.7l-0.7 0.7l-0.7 -0.7zM50.9 259.1l1.4 1.4m0 -1.4l-1.4 1.4M62.4 244.7l0.7 0.7l-0.7 0.7l-0.7 -0.7zM37.3 268.3a0.6 0.6 0 1 0 1.3 0a0.6 0.6 0 1 0 -1.3 0M56.3 260.3a0.6 0.6 0 1 0 1.3 0a0.6 0.6 0 1 0 -1.3 0M44 268a0.6 0.6 0 1 0 1.3 0a0.6 0.6 0 1 0 -1.3 0M54.4 257.6l0.7 0.7l-0.7 0.7l-0.7 -0.7zM56.4 256.4h1.2v1.2h-1.2zM52.8 258.5h1.2v1.2h-1.2zM56.5 257h1.2v1.2h-1.2zM57 252.9l1.4 1.4m0 -1.4l-1.4 1.4M59.1 253.7h1.2v1.2h-1.2zM59.4 245.2h1.2v1.2h-1.2zM56.9 251.2a0.6 0.6 0 1 0 1.3 0a0.6 0.6 0 1 0 -1.3 0M72.4 245.8a0.6 0.6 0 1 0 1.3 0a0.6 0.6 0 1 0 -1.3 0M51.7 259.6l0.7 1.3h-1.4zM51.4 260.3l0.7 1.3h-1.4zM58.4 251.9l0.7 1.3h-1.4zM47.4 266.8l1.4 1.4m0 -1.4l-1.4 1.4M45.4 262.9l1.4 1.4m0 -1.4l-1.4 1.4M63.2 249h1.2v1.2h-1.2zM42.5 264h1.2v1.2h-1.2zM53.1 257l0.7 1.3h-1.4zM57.9 252.1l0.7 1.3h-1.4zM50.1 260.9l0.7 0.7l-0.7 0.7l-0.7 -0.7zM59.9 239.7a0.6 0.6 0 1 0 1.3 0a0.6 0.6 0 1 0 -1.3 0M48.7 262.4l1.4 1.4m0 -1.4l-1.4 1.4M56.1 252.1l0.7 1.3h-1.4zM41.7 266a0.6 0.6 0 1 0 1.3 0a0.6 0.6 0 1 0 -1.3 0M71.1 244a0.6 0.6 0 1 0 1.3 0a0.6 0.6 0 1 0 -1.3 0M45 266.1h1.2v1.2h-1.2zM50.5 259.1l1.4 1.4m0 -1.4l-1.4 1.4M42.9 263.2l1.4 1.4m0 -1.4l-1.4 1.4M43.1 262.7l0.7 1.3h-1.4zM61.3 249.6l1.4 1.4m0 -1.4l-1.4 1.4M42.9 267l0.7 0.7l-0.7 0.7l-0.7 -0.7zM65.4 249.6a0.6 0.6 0 1 0 1.3 0a0.6 0.6 0 1 0 -1.3 0M60.4 256.4h1.2v1.2h-1.2zM60.4 249.9l1.4 1.4m0 -1.4l-1.4 1.4M69.2 248.2l0.7 0.7l-0.7 0.7l-0.7 -0.7zM68.8 242.8h1.2v1.2h-1.2zM56.2 252.4l1.4 1.4m0 -1.4l-1.4 1.4M37.3 270.1l1.4 1.4m0 -1.4l-1.4 1.4M54.3 256.1l0.7 1.3h-1.4zM75.2 241.6l0.7 1.3h-1.4zM85.5 246.6l0.7 0.7l-0.7 0.7l-0.7 -0.7zM72.3 255.6l1.4 1.4m0 -1.4l-1.4 1.4M47.4 270.3a0.6 0.6 0 1 0 1.3 0a0.6 0.6 0 1 0 -1.3 0" fill="none" stroke="#e8b420" stroke-width="0.45"/>
<path d="M46.5 248.8a0.5 0.5 0 1 0 1 0a0.5 0.5 0 1 0 -1 0" fill="#e27a1c"/>
<path d="M52.7 264.3h1.2v1.2h-1.2zM69 247.6l0.7 1.3h-1.4zM61 252.6l1.4 1.4m0 -1.4l-1.4 1.4M44.1 266.1l0.7 0.7l-0.7 0.7l-0.7 -0.7zM64.6 248.5a0.6 0.6 0 1 0 1.3 0a0.6 0.6 0 1 0 -1.3 0M53.9 256l1.4 1.4m0 -1.4l-1.4 1.4M46.2 263.9l1.4 1.4m0 -1.4l-1.4 1.4M52.9 255.1a0.6 0.6 0 1 0 1.3 0a0.6 0.6 0 1 0 -1.3 0M73 249.4l0.7 1.3h-1.4zM54.7 258.3l1.4 1.4m0 -1.4l-1.4 1.4M51.1 259.7l1.4 1.4m0 -1.4l-1.4 1.4M48.7 260.6h1.2v1.2h-1.2zM45.4 262.5h1.2v1.2h-1.2zM43 266.2l1.4 1.4m0 -1.4l-1.4 1.4M54.7 258.3l0.7 0.7l-0.7 0.7l-0.7 -0.7zM50.2 259.4h1.2v1.2h-1.2zM52.3 256.4h1.2v1.2h-1.2zM58.9 249.4h1.2v1.2h-1.2zM61.7 255.4l1.4 1.4m0 -1.4l-1.4 1.4M60.2 253.2l1.4 1.4m0 -1.4l-1.4 1.4M40.4 270.1l0.7 1.3h-1.4zM62.9 249.2l0.7 0.7l-0.7 0.7l-0.7 -0.7zM69.3 244.9l1.4 1.4m0 -1.4l-1.4 1.4M60.2 251.9l0.7 1.3h-1.4zM46.9 261.2h1.2v1.2h-1.2zM50.4 261l0.7 0.7l-0.7 0.7l-0.7 -0.7zM71.6 240.3l1.4 1.4m0 -1.4l-1.4 1.4M54.9 249.8a0.6 0.6 0 1 0 1.3 0a0.6 0.6 0 1 0 -1.3 0M61.9 248.6l1.4 1.4m0 -1.4l-1.4 1.4M40 266.6l0.7 1.3h-1.4zM60.2 251.5h1.2v1.2h-1.2zM61 246.4l0.7 1.3h-1.4zM61.3 253.2a0.6 0.6 0 1 0 1.3 0a0.6 0.6 0 1 0 -1.3 0M55.2 257.5l1.4 1.4m0 -1.4l-1.4 1.4M95 229.6l1.4 1.4m0 -1.4l-1.4 1.4M86.2 234.4a0.6 0.6 0 1 0 1.3 0a0.6 0.6 0 1 0 -1.3 0M59.3 271a0.6 0.6 0 1 0 1.3 0a0.6 0.6 0 1 0 -1.3 0M77.4 249.7h1.2v1.2h-1.2z" fill="none" stroke="#3d7cc8" stroke-width="0.45"/>
<path d="M66.2 248.7h1.4m-0.7 -0.7v1.4M57.2 257.4h1.4m-0.7 -0.7v1.4M45.4 265.6h1.4m-0.7 -0.7v1.4M55.2 257.2h1.4m-0.7 -0.7v1.4M63.3 251h1.4m-0.7 -0.7v1.4M92.6 225.7h1.4m-0.7 -0.7v1.4M94.6 225.8h1.4m-0.7 -0.7v1.4M65.3 268.8h1.4m-0.7 -0.7v1.4" fill="none" stroke="#3d7cc8" stroke-width="0.59"/>
<path d="M54.2 257.6h1v1h-1zM63.4 251.5a0.5 0.5 0 1 0 1 0a0.5 0.5 0 1 0 -1 0M43.4 264.8h1v1h-1zM55.1 259.2h1v1h-1zM65.5 248.7h1v1h-1zM40.2 267.5a0.5 0.5 0 1 0 1 0a0.5 0.5 0 1 0 -1 0M53.9 253.2a0.5 0.5 0 1 0 1 0a0.5 0.5 0 1 0 -1 0M43.7 265.5h1v1h-1zM49.5 258.7a0.5 0.5 0 1 0 1 0a0.5 0.5 0 1 0 -1 0M42.2 269.7h1v1h-1zM77.8 245.6h1v1h-1zM66.2 237.9h1v1h-1z" fill="#3d7cc8"/>
<path d="M54.9 257l1.4 1.4m0 -1.4l-1.4 1.4M45.4 258.1l0.7 1.3h-1.4zM49.9 257l0.7 0.7l-0.7 0.7l-0.7 -0.7zM46.3 265.2l0.7 1.3h-1.4zM61 254.2h1.2v1.2h-1.2zM51.3 260.4l0.7 0.7l-0.7 0.7l-0.7 -0.7zM66 248.6l1.4 1.4m0 -1.4l-1.4 1.4M56.4 256.4l0.7 1.3h-1.4zM66.2 245.6a0.6 0.6 0 1 0 1.3 0a0.6 0.6 0 1 0 -1.3 0M51.6 262.1h1.2v1.2h-1.2zM59.6 257.2l1.4 1.4m0 -1.4l-1.4 1.4M41.8 266.3l1.4 1.4m0 -1.4l-1.4 1.4M49.2 260.8l0.7 0.7l-0.7 0.7l-0.7 -0.7zM45.7 262.3h1.2v1.2h-1.2zM61.5 246.3l1.4 1.4m0 -1.4l-1.4 1.4M61.7 246.9l1.4 1.4m0 -1.4l-1.4 1.4M55.3 257.1l0.7 1.3h-1.4zM57.9 254.7l1.4 1.4m0 -1.4l-1.4 1.4M43 267.9a0.6 0.6 0 1 0 1.3 0a0.6 0.6 0 1 0 -1.3 0M47.2 260.8l1.4 1.4m0 -1.4l-1.4 1.4M63.5 252.3l1.4 1.4m0 -1.4l-1.4 1.4M48.7 261.6h1.2v1.2h-1.2zM55.1 256.9h1.2v1.2h-1.2zM61.7 249.8l0.7 1.3h-1.4zM49 262l0.7 0.7l-0.7 0.7l-0.7 -0.7zM66.3 247.5a0.6 0.6 0 1 0 1.3 0a0.6 0.6 0 1 0 -1.3 0M52.1 265.3l0.7 0.7l-0.7 0.7l-0.7 -0.7zM46.9 262.1h1.2v1.2h-1.2zM58.4 255.5a0.6 0.6 0 1 0 1.3 0a0.6 0.6 0 1 0 -1.3 0M42.4 264.3l0.7 0.7l-0.7 0.7l-0.7 -0.7zM53.5 259.3h1.2v1.2h-1.2zM39.8 267.8l0.7 1.3h-1.4zM55.3 257.4l0.7 1.3h-1.4zM42.8 263.4l1.4 1.4m0 -1.4l-1.4 1.4M98.8 239.3l1.4 1.4m0 -1.4l-1.4 1.4M43.9 244.2h1.2v1.2h-1.2zM56.4 240.2h1.2v1.2h-1.2z" fill="none" stroke="#2f9a45" stroke-width="0.45"/>
<path d="M68.7 242.4h1v1h-1zM55.8 252.2a0.5 0.5 0 1 0 1 0a0.5 0.5 0 1 0 -1 0M71.6 242.7a0.5 0.5 0 1 0 1 0a0.5 0.5 0 1 0 -1 0M45.1 261.5a0.5 0.5 0 1 0 1 0a0.5 0.5 0 1 0 -1 0M61.7 253.1a0.5 0.5 0 1 0 1 0a0.5 0.5 0 1 0 -1 0M44.8 264.1a0.5 0.5 0 1 0 1 0a0.5 0.5 0 1 0 -1 0M37.9 269.6h1v1h-1zM49.7 257.8a0.5 0.5 0 1 0 1 0a0.5 0.5 0 1 0 -1 0M38.1 271.8a0.5 0.5 0 1 0 1 0a0.5 0.5 0 1 0 -1 0M49.1 260.6h1v1h-1z" fill="#2f9a45"/>
<path d="M53.4 257.3h1.4m-0.7 -0.7v1.4M46.9 258.7h1.4m-0.7 -0.7v1.4M60.6 252.6h1.4m-0.7 -0.7v1.4M66.6 247.1h1.4m-0.7 -0.7v1.4M77.8 239.3h1.4m-0.7 -0.7v1.4" fill="none" stroke="#2f9a45" stroke-width="0.59"/>
<path d="M56.8 258.8l0.7 1.3h-1.4zM50.7 259.2l0.7 0.7l-0.7 0.7l-0.7 -0.7zM65.2 246.8l0.7 1.3h-1.4zM47.1 261.9l0.7 1.3h-1.4zM50.8 258.6l0.7 0.7l-0.7 0.7l-0.7 -0.7zM58.1 254.6h1.2v1.2h-1.2zM68.3 249.7a0.6 0.6 0 1 0 1.3 0a0.6 0.6 0 1 0 -1.3 0M51.1 259.6l0.7 0.7l-0.7 0.7l-0.7 -0.7zM45.1 262.3h1.2v1.2h-1.2zM63.9 252.3a0.6 0.6 0 1 0 1.3 0a0.6 0.6 0 1 0 -1.3 0M68.8 248a0.6 0.6 0 1 0 1.3 0a0.6 0.6 0 1 0 -1.3 0M54.7 249.9l0.7 1.3h-1.4zM48.6 263.5a0.6 0.6 0 1 0 1.3 0a0.6 0.6 0 1 0 -1.3 0M52.4 257l1.4 1.4m0 -1.4l-1.4 1.4M50 252.9l1.4 1.4m0 -1.4l-1.4 1.4M43.4 265.6l0.7 1.3h-1.4zM56.8 253.5a0.6 0.6 0 1 0 1.3 0a0.6 0.6 0 1 0 -1.3 0M65 248.7a0.6 0.6 0 1 0 1.3 0a0.6 0.6 0 1 0 -1.3 0M56.6 252.7l0.7 0.7l-0.7 0.7l-0.7 -0.7zM48.5 259.4a0.6 0.6 0 1 0 1.3 0a0.6 0.6 0 1 0 -1.3 0M42.1 266.9a0.6 0.6 0 1 0 1.3 0a0.6 0.6 0 1 0 -1.3 0M54.1 258.7l0.7 0.7l-0.7 0.7l-0.7 -0.7zM58.1 252.8h1.2v1.2h-1.2zM53.3 257.6l0.7 0.7l-0.7 0.7l-0.7 -0.7zM61.5 252.2l0.7 0.7l-0.7 0.7l-0.7 -0.7zM50.8 254.4l0.7 1.3h-1.4zM47 264.1a0.6 0.6 0 1 0 1.3 0a0.6 0.6 0 1 0 -1.3 0M55.1 252.7h1.2v1.2h-1.2zM51.8 256.6a0.6 0.6 0 1 0 1.3 0a0.6 0.6 0 1 0 -1.3 0M43.7 268.8a0.6 0.6 0 1 0 1.3 0a0.6 0.6 0 1 0 -1.3 0M53.8 259.8h1.2v1.2h-1.2zM47.5 261.3a0.6 0.6 0 1 0 1.3 0a0.6 0.6 0 1 0 -1.3 0M44.1 262.9l0.7 0.7l-0.7 0.7l-0.7 -0.7zM51.2 258.2l0.7 0.7l-0.7 0.7l-0.7 -0.7zM45.4 265.1l0.7 1.3h-1.4zM56.1 265.4l0.7 0.7l-0.7 0.7l-0.7 -0.7z" fill="none" stroke="#6d7a25" stroke-width="0.45"/>
<path d="M47.3 261.5h1v1h-1zM57.5 254.7h1v1h-1zM55.4 254.1h1v1h-1zM62 256.9a0.5 0.5 0 1 0 1 0a0.5 0.5 0 1 0 -1 0M63.5 254.5h1v1h-1zM51.7 256.8h1v1h-1zM51.3 258.5h1v1h-1zM48.9 263.9a0.5 0.5 0 1 0 1 0a0.5 0.5 0 1 0 -1 0M43.1 263.6a0.5 0.5 0 1 0 1 0a0.5 0.5 0 1 0 -1 0M55.6 257.1h1v1h-1zM62.3 251.8h1v1h-1zM54.3 251.2h1v1h-1zM141.5 210.5h1v1h-1zM94.4 246a0.5 0.5 0 1 0 1 0a0.5 0.5 0 1 0 -1 0" fill="#6d7a25"/>
<path d="M61.9 247.9h1.4m-0.7 -0.7v1.4" fill="none" stroke="#6d7a25" stroke-width="0.59"/>
<path d="M60.9 254.6a0.6 0.6 0 1 0 1.3 0a0.6 0.6 0 1 0 -1.3 0M43.5 263.2l0.7 1.3h-1.4zM52.2 260.1a0.6 0.6 0 1 0 1.3 0a0.6 0.6 0 1 0 -1.3 0M46.4 263l0.7 0.7l-0.7 0.7l-0.7 -0.7zM51.7 258l0.7 0.7l-0.7 0.7l-0.7 -0.7zM52.6 260.8l1.4 1.4m0 -1.4l-1.4 1.4M61.8 252l0.7 0.7l-0.7 0.7l-0.7 -0.7zM50.2 258.9l1.4 1.4m0 -1.4l-1.4 1.4M56.4 255.9l0.7 1.3h-1.4zM59 253.5a0.6 0.6 0 1 0 1.3 0a0.6 0.6 0 1 0 -1.3 0M57.9 254.9l0.7 1.3h-1.4zM42.8 264.5h1.2v1.2h-1.2zM57.7 254.4h1.2v1.2h-1.2zM50.6 258.3l1.4 1.4m0 -1.4l-1.4 1.4M56.6 256l1.4 1.4m0 -1.4l-1.4 1.4M64 253.6l0.7 1.3h-1.4zM43.1 266.4a0.6 0.6 0 1 0 1.3 0a0.6 0.6 0 1 0 -1.3 0M40.6 267.2a0.6 0.6 0 1 0 1.3 0a0.6 0.6 0 1 0 -1.3 0M56.5 257.1l0.7 0.7l-0.7 0.7l-0.7 -0.7zM59.4 256.8l0.7 0.7l-0.7 0.7l-0.7 -0.7zM57.4 253.7h1.2v1.2h-1.2zM43.7 270.6l1.4 1.4m0 -1.4l-1.4 1.4M38.9 268.4h1.2v1.2h-1.2zM50.8 262.7a0.6 0.6 0 1 0 1.3 0a0.6 0.6 0 1 0 -1.3 0M47.9 261.6a0.6 0.6 0 1 0 1.3 0a0.6 0.6 0 1 0 -1.3 0M73.7 248.8l1.4 1.4m0 -1.4l-1.4 1.4M46.8 260.8l0.7 1.3h-1.4zM51.6 251h1.2v1.2h-1.2zM64.2 248.2l1.4 1.4m0 -1.4l-1.4 1.4M48.4 262.5a0.6 0.6 0 1 0 1.3 0a0.6 0.6 0 1 0 -1.3 0M50.1 259l0.7 1.3h-1.4zM60.3 250.7l0.7 1.3h-1.4zM52.4 258.8a0.6 0.6 0 1 0 1.3 0a0.6 0.6 0 1 0 -1.3 0M50.9 261.1a0.6 0.6 0 1 0 1.3 0a0.6 0.6 0 1 0 -1.3 0M45.4 263.5l0.7 1.3h-1.4zM52.6 257.3l0.7 0.7l-0.7 0.7l-0.7 -0.7zM41.6 266.2a0.6 0.6 0 1 0 1.3 0a0.6 0.6 0 1 0 -1.3 0M42.8 264.3h1.2v1.2h-1.2zM42.5 268.6a0.6 0.6 0 1 0 1.3 0a0.6 0.6 0 1 0 -1.3 0M50.9 259.5a0.6 0.6 0 1 0 1.3 0a0.6 0.6 0 1 0 -1.3 0M72.5 244l0.7 1.3h-1.4zM46.5 259.9a0.6 0.6 0 1 0 1.3 0a0.6 0.6 0 1 0 -1.3 0M46.9 260.2a0.6 0.6 0 1 0 1.3 0a0.6 0.6 0 1 0 -1.3 0M51.1 258.5a0.6 0.6 0 1 0 1.3 0a0.6 0.6 0 1 0 -1.3 0M89.5 235.3a0.6 0.6 0 1 0 1.3 0a0.6 0.6 0 1 0 -1.3 0M82.3 245.3l0.7 0.7l-0.7 0.7l-0.7 -0.7zM61.4 266.8a0.6 0.6 0 1 0 1.3 0a0.6 0.6 0 1 0 -1.3 0M76.5 252.1l0.7 1.3h-1.4z" fill="none" stroke="#6d58b8" stroke-width="0.45"/>
<path d="M41.9 265h1v1h-1zM49.2 260.1h1v1h-1zM60.9 244.1h1v1h-1zM63.7 255.1h1v1h-1zM41.2 266.5a0.5 0.5 0 1 0 1 0a0.5 0.5 0 1 0 -1 0M60.3 255.4a0.5 0.5 0 1 0 1 0a0.5 0.5 0 1 0 -1 0M43.9 263.8a0.5 0.5 0 1 0 1 0a0.5 0.5 0 1 0 -1 0M52.1 252.7h1v1h-1zM52.3 269.8h1v1h-1zM63.9 244.9a0.5 0.5 0 1 0 1 0a0.5 0.5 0 1 0 -1 0M47.6 262h1v1h-1zM47.6 266.1a0.5 0.5 0 1 0 1 0a0.5 0.5 0 1 0 -1 0M46.9 261.2h1v1h-1zM48.4 264.2h1v1h-1zM45.1 262.7h1v1h-1zM63.8 249.5h1v1h-1zM66.8 245.9h1v1h-1zM47.5 252.6a0.5 0.5 0 1 0 1 0a0.5 0.5 0 1 0 -1 0" fill="#6d58b8"/>
<path d="M52.6 257h1.4m-0.7 -0.7v1.4M74.1 252.2h1.4m-0.7 -0.7v1.4M92.9 240h1.4m-0.7 -0.7v1.4" fill="none" stroke="#6d58b8" stroke-width="0.59"/>
<path d="M59.1 250.3l0.7 1.3h-1.4zM46.1 262.2l1.4 1.4m0 -1.4l-1.4 1.4M49 258.8l0.7 0.7l-0.7 0.7l-0.7 -0.7zM63.5 253.2a0.6 0.6 0 1 0 1.3 0a0.6 0.6 0 1 0 -1.3 0M55.4 252.3l1.4 1.4m0 -1.4l-1.4 1.4M43 269.1l0.7 0.7l-0.7 0.7l-0.7 -0.7zM60.7 253.6l1.4 1.4m0 -1.4l-1.4 1.4M46.6 263l0.7 1.3h-1.4zM58.4 257.3l0.7 0.7l-0.7 0.7l-0.7 -0.7zM58.3 252.4a0.6 0.6 0 1 0 1.3 0a0.6 0.6 0 1 0 -1.3 0M37.2 271.3h1.2v1.2h-1.2zM56.5 270.4l0.7 0.7l-0.7 0.7l-0.7 -0.7zM42.7 267.2l0.7 0.7l-0.7 0.7l-0.7 -0.7zM52.6 260.7l0.7 0.7l-0.7 0.7l-0.7 -0.7zM48.9 263.6a0.6 0.6 0 1 0 1.3 0a0.6 0.6 0 1 0 -1.3 0M56.6 252.9l0.7 1.3h-1.4zM47.2 260.7h1.2v1.2h-1.2zM50.3 261.1a0.6 0.6 0 1 0 1.3 0a0.6 0.6 0 1 0 -1.3 0M52.1 257l1.4 1.4m0 -1.4l-1.4 1.4M54.2 256.1h1.2v1.2h-1.2zM62.9 251h1.2v1.2h-1.2zM52.2 257.9l0.7 0.7l-0.7 0.7l-0.7 -0.7zM67.5 240.7l1.4 1.4m0 -1.4l-1.4 1.4M52.1 258.6l1.4 1.4m0 -1.4l-1.4 1.4M42 267.5l0.7 1.3h-1.4zM50.9 253.8h1.2v1.2h-1.2zM64.9 248.5a0.6 0.6 0 1 0 1.3 0a0.6 0.6 0 1 0 -1.3 0M60.7 248.2a0.6 0.6 0 1 0 1.3 0a0.6 0.6 0 1 0 -1.3 0M47.4 258.9l0.7 1.3h-1.4zM63.5 252.3h1.2v1.2h-1.2zM58.9 253.9l1.4 1.4m0 -1.4l-1.4 1.4M39.3 267.8l1.4 1.4m0 -1.4l-1.4 1.4M44.7 271.1l1.4 1.4m0 -1.4l-1.4 1.4M62 249.5h1.2v1.2h-1.2zM41.4 267.1a0.6 0.6 0 1 0 1.3 0a0.6 0.6 0 1 0 -1.3 0M67.4 256.3a0.6 0.6 0 1 0 1.3 0a0.6 0.6 0 1 0 -1.3 0M62.5 255.4h1.2v1.2h-1.2zM60.3 253.8l0.7 0.7l-0.7 0.7l-0.7 -0.7zM44.2 261.7h1.2v1.2h-1.2zM54.1 255.6l0.7 1.3h-1.4zM68.6 241.3l1.4 1.4m0 -1.4l-1.4 1.4M53.9 259.2a0.6 0.6 0 1 0 1.3 0a0.6 0.6 0 1 0 -1.3 0M51.2 251.3l0.7 1.3h-1.4zM66.8 251l0.7 0.7l-0.7 0.7l-0.7 -0.7zM44.1 265.3h1.2v1.2h-1.2zM64.2 253.6l0.7 1.3h-1.4z" fill="none" stroke="#a5465c" stroke-width="0.45"/>
<path d="M56 254.1h1v1h-1zM41.9 267.5a0.5 0.5 0 1 0 1 0a0.5 0.5 0 1 0 -1 0M57.6 254.9h1v1h-1zM63 243.9h1v1h-1zM37.3 269.8a0.5 0.5 0 1 0 1 0a0.5 0.5 0 1 0 -1 0M49.2 260.5h1v1h-1zM52.4 265.1a0.5 0.5 0 1 0 1 0a0.5 0.5 0 1 0 -1 0M55.4 253.8h1v1h-1zM55.6 257.1h1v1h-1zM61.3 250h1v1h-1zM54.7 257.9a0.5 0.5 0 1 0 1 0a0.5 0.5 0 1 0 -1 0M49.7 254.7a0.5 0.5 0 1 0 1 0a0.5 0.5 0 1 0 -1 0M48.3 261.1h1v1h-1zM40.1 263.8h1v1h-1zM69.7 245h1v1h-1zM161.2 208.3h1v1h-1z" fill="#a5465c"/>
<path d="M63.7 252.4h1.4m-0.7 -0.7v1.4M56.1 258.2h1.4m-0.7 -0.7v1.4M47.3 261.4h1.4m-0.7 -0.7v1.4M43.8 265.6h1.4m-0.7 -0.7v1.4" fill="none" stroke="#a5465c" stroke-width="0.59"/>
<path d="M67.1 250.2l0.7 0.7l-0.7 0.7l-0.7 -0.7zM60.2 258.7l0.7 1.3h-1.4zM56.6 256.2l0.7 0.7l-0.7 0.7l-0.7 -0.7zM52.6 258.7h1.2v1.2h-1.2zM49 261.2a0.6 0.6 0 1 0 1.3 0a0.6 0.6 0 1 0 -1.3 0M40.5 270.7h1.2v1.2h-1.2zM39.3 267.7h1.2v1.2h-1.2zM49.6 261.4h1.2v1.2h-1.2zM47.2 248.1h1.2v1.2h-1.2zM63.3 251.3l0.7 1.3h-1.4zM52.7 254.6l1.4 1.4m0 -1.4l-1.4 1.4M58.5 260.3l0.7 0.7l-0.7 0.7l-0.7 -0.7zM46.2 261.1l0.7 1.3h-1.4zM63.4 253.2a0.6 0.6 0 1 0 1.3 0a0.6 0.6 0 1 0 -1.3 0M59.7 249.6l0.7 1.3h-1.4zM36.6 270.8a0.6 0.6 0 1 0 1.3 0a0.6 0.6 0 1 0 -1.3 0M58.1 257.3a0.6 0.6 0 1 0 1.3 0a0.6 0.6 0 1 0 -1.3 0M68.5 243.1a0.6 0.6 0 1 0 1.3 0a0.6 0.6 0 1 0 -1.3 0M44.9 265.2l0.7 0.7l-0.7 0.7l-0.7 -0.7zM52.1 256.6l1.4 1.4m0 -1.4l-1.4 1.4M49.3 259.9l1.4 1.4m0 -1.4l-1.4 1.4M49.1 262.3l1.4 1.4m0 -1.4l-1.4 1.4M66.8 246.7l0.7 0.7l-0.7 0.7l-0.7 -0.7zM57.1 254l1.4 1.4m0 -1.4l-1.4 1.4M46.3 262.3l0.7 1.3h-1.4zM61.5 255.3l1.4 1.4m0 -1.4l-1.4 1.4M68.2 250.6l1.4 1.4m0 -1.4l-1.4 1.4M48.6 261a0.6 0.6 0 1 0 1.3 0a0.6 0.6 0 1 0 -1.3 0M57.4 257.8l0.7 1.3h-1.4zM55.5 256.6a0.6 0.6 0 1 0 1.3 0a0.6 0.6 0 1 0 -1.3 0M66.3 249.2l0.7 1.3h-1.4zM55.8 246.5h1.2v1.2h-1.2zM49.9 263.1a0.6 0.6 0 1 0 1.3 0a0.6 0.6 0 1 0 -1.3 0M55.7 259.3l0.7 1.3h-1.4zM69.5 263.6l1.4 1.4m0 -1.4l-1.4 1.4" fill="none" stroke="#c8302f" stroke-width="0.45"/>
<path d="M57.6 255.9h1v1h-1zM59.8 249.9h1v1h-1zM56.9 251.3h1v1h-1zM65.5 248.4a0.5 0.5 0 1 0 1 0a0.5 0.5 0 1 0 -1 0M71.4 238.7a0.5 0.5 0 1 0 1 0a0.5 0.5 0 1 0 -1 0M53.1 260.1h1v1h-1zM49.6 261.3a0.5 0.5 0 1 0 1 0a0.5 0.5 0 1 0 -1 0M64.9 247.3h1v1h-1zM45.4 261.8h1v1h-1zM56.6 256.2h1v1h-1z" fill="#c8302f"/>
<path d="M62.4 254.4h1.4m-0.7 -0.7v1.4M44.6 264.4h1.4m-0.7 -0.7v1.4M58.8 254h1.4m-0.7 -0.7v1.4M44.4 241.9h1.4m-0.7 -0.7v1.4M39 250.8h1.4m-0.7 -0.7v1.4" fill="none" stroke="#c8302f" stroke-width="0.59"/>
<path d="M55.6 252.1l0.7 1.3h-1.4zM62.6 250.5l0.7 0.7l-0.7 0.7l-0.7 -0.7zM38.1 268.5a0.6 0.6 0 1 0 1.3 0a0.6 0.6 0 1 0 -1.3 0M53 259.4a0.6 0.6 0 1 0 1.3 0a0.6 0.6 0 1 0 -1.3 0M38 271.3a0.6 0.6 0 1 0 1.3 0a0.6 0.6 0 1 0 -1.3 0M58.9 252.6l1.4 1.4m0 -1.4l-1.4 1.4M51.2 258.4l0.7 1.3h-1.4zM70.2 242.4l0.7 0.7l-0.7 0.7l-0.7 -0.7zM47.1 259.6l0.7 0.7l-0.7 0.7l-0.7 -0.7zM60.7 249.6l1.4 1.4m0 -1.4l-1.4 1.4M62.9 254.9h1.2v1.2h-1.2zM50.6 263.1l0.7 0.7l-0.7 0.7l-0.7 -0.7zM62 251.2l0.7 0.7l-0.7 0.7l-0.7 -0.7zM64.1 250.2a0.6 0.6 0 1 0 1.3 0a0.6 0.6 0 1 0 -1.3 0M56.3 256.4l1.4 1.4m0 -1.4l-1.4 1.4M47.6 263.3l0.7 0.7l-0.7 0.7l-0.7 -0.7zM66.5 246.8h1.2v1.2h-1.2zM42 265.4a0.6 0.6 0 1 0 1.3 0a0.6 0.6 0 1 0 -1.3 0M55.6 257h1.2v1.2h-1.2zM59.5 253.7l0.7 0.7l-0.7 0.7l-0.7 -0.7zM41.9 265.7h1.2v1.2h-1.2zM40.8 264.8l0.7 0.7l-0.7 0.7l-0.7 -0.7zM53.4 254.5h1.2v1.2h-1.2zM66.8 247h1.2v1.2h-1.2zM73.8 244.3l1.4 1.4m0 -1.4l-1.4 1.4M84.5 237.9a0.6 0.6 0 1 0 1.3 0a0.6 0.6 0 1 0 -1.3 0" fill="none" stroke="#6a4524" stroke-width="0.45"/>
<path d="M53 259.8h1v1h-1zM45.8 266.6h1v1h-1zM68.9 254.1a0.5 0.5 0 1 0 1 0a0.5 0.5 0 1 0 -1 0M51.9 259.4h1v1h-1zM53.8 259.9a0.5 0.5 0 1 0 1 0a0.5 0.5 0 1 0 -1 0M50 256.9h1v1h-1zM49.8 257.4h1v1h-1z" fill="#6a4524"/>
<path d="M39 267.5h1.4m-0.7 -0.7v1.4M48 262.4h1.4m-0.7 -0.7v1.4M46.3 264.1h1.4m-0.7 -0.7v1.4M56.5 253.8h1.4m-0.7 -0.7v1.4M54.9 251.9h1.4m-0.7 -0.7v1.4M51.1 259.1h1.4m-0.7 -0.7v1.4M51.8 260.7h1.4m-0.7 -0.7v1.4M53.8 257h1.4m-0.7 -0.7v1.4" fill="none" stroke="#6a4524" stroke-width="0.59"/>
<path d="M65.5 246.5l0.7 1.3h-1.4zM59.7 256.1h1.2v1.2h-1.2zM66.6 250.7h1.2v1.2h-1.2zM47 263.1l0.7 1.3h-1.4zM57.3 251.4h1.2v1.2h-1.2zM54.8 259l0.7 0.7l-0.7 0.7l-0.7 -0.7zM68.6 249.5h1.2v1.2h-1.2zM61.6 250h1.2v1.2h-1.2zM55.1 260.8a0.6 0.6 0 1 0 1.3 0a0.6 0.6 0 1 0 -1.3 0M36.2 271.5a0.6 0.6 0 1 0 1.3 0a0.6 0.6 0 1 0 -1.3 0M69.8 240.2l0.7 0.7l-0.7 0.7l-0.7 -0.7zM48.1 262.9l0.7 0.7l-0.7 0.7l-0.7 -0.7zM62.4 250.7h1.2v1.2h-1.2zM51.7 262.3l0.7 0.7l-0.7 0.7l-0.7 -0.7zM49.3 258h1.2v1.2h-1.2zM61 254.3h1.2v1.2h-1.2zM63.5 242.8a0.6 0.6 0 1 0 1.3 0a0.6 0.6 0 1 0 -1.3 0M61.1 250.7l0.7 1.3h-1.4zM39.6 267.6l0.7 0.7l-0.7 0.7l-0.7 -0.7zM44.1 263.8l1.4 1.4m0 -1.4l-1.4 1.4M67.5 246.2l0.7 0.7l-0.7 0.7l-0.7 -0.7zM64.5 247.7l1.4 1.4m0 -1.4l-1.4 1.4M61.3 248.7a0.6 0.6 0 1 0 1.3 0a0.6 0.6 0 1 0 -1.3 0M64.8 247.1l0.7 1.3h-1.4zM69.9 246.2a0.6 0.6 0 1 0 1.3 0a0.6 0.6 0 1 0 -1.3 0M57.2 252.4h1.2v1.2h-1.2zM61.5 255.8a0.6 0.6 0 1 0 1.3 0a0.6 0.6 0 1 0 -1.3 0M51.3 258.7l1.4 1.4m0 -1.4l-1.4 1.4M69.6 245.4h1.2v1.2h-1.2zM57.2 255.4h1.2v1.2h-1.2zM50 258.7l0.7 0.7l-0.7 0.7l-0.7 -0.7zM61.2 243l1.4 1.4m0 -1.4l-1.4 1.4M50 259.7l0.7 1.3h-1.4zM51.5 259.2a0.6 0.6 0 1 0 1.3 0a0.6 0.6 0 1 0 -1.3 0M62.7 252l1.4 1.4m0 -1.4l-1.4 1.4" fill="none" stroke="#5a4a22" stroke-width="0.45"/>
<path d="M65.4 254.8h1.4m-0.7 -0.7v1.4M36.9 270.3h1.4m-0.7 -0.7v1.4M48.5 258.6h1.4m-0.7 -0.7v1.4M42.4 266.2h1.4m-0.7 -0.7v1.4M59.7 256.4h1.4m-0.7 -0.7v1.4M42.9 266.5h1.4m-0.7 -0.7v1.4M68.4 248.3h1.4m-0.7 -0.7v1.4" fill="none" stroke="#5a4a22" stroke-width="0.59"/>
<path d="M52.6 256.1a0.5 0.5 0 1 0 1 0a0.5 0.5 0 1 0 -1 0M52.3 265.8a0.5 0.5 0 1 0 1 0a0.5 0.5 0 1 0 -1 0M57.2 253.5a0.5 0.5 0 1 0 1 0a0.5 0.5 0 1 0 -1 0M62.5 250.8a0.5 0.5 0 1 0 1 0a0.5 0.5 0 1 0 -1 0M57.2 256.1h1v1h-1zM51.9 259.3h1v1h-1zM37.6 269.8h1v1h-1zM57.2 255.7a0.5 0.5 0 1 0 1 0a0.5 0.5 0 1 0 -1 0M67.4 246.7a0.5 0.5 0 1 0 1 0a0.5 0.5 0 1 0 -1 0M47 261.1a0.5 0.5 0 1 0 1 0a0.5 0.5 0 1 0 -1 0M53.9 255.7a0.5 0.5 0 1 0 1 0a0.5 0.5 0 1 0 -1 0M41.1 268.8a0.5 0.5 0 1 0 1 0a0.5 0.5 0 1 0 -1 0" fill="#5a4a22"/>
<path d="M74.3 237.5h1.2v1.2h-1.2zM48.6 262.3l0.7 1.3h-1.4zM46 258l0.7 1.3h-1.4zM67.4 246.1h1.2v1.2h-1.2zM55.2 250.7l0.7 0.7l-0.7 0.7l-0.7 -0.7zM57.9 247.6l0.7 0.7l-0.7 0.7l-0.7 -0.7zM51.6 258a0.6 0.6 0 1 0 1.3 0a0.6 0.6 0 1 0 -1.3 0M68.2 246.5l0.7 1.3h-1.4zM52.2 262.6h1.2v1.2h-1.2zM48.2 262.9l0.7 1.3h-1.4zM51.3 258.4l0.7 1.3h-1.4zM48.4 261.4l1.4 1.4m0 -1.4l-1.4 1.4M61.5 253.9l0.7 1.3h-1.4zM54.9 259.5h1.2v1.2h-1.2zM47.1 262.2l0.7 0.7l-0.7 0.7l-0.7 -0.7zM62.4 253.6l0.7 0.7l-0.7 0.7l-0.7 -0.7zM62.8 248.7a0.6 0.6 0 1 0 1.3 0a0.6 0.6 0 1 0 -1.3 0M52.7 259.1l0.7 1.3h-1.4zM62.8 251.8l0.7 1.3h-1.4zM58.6 248.1l0.7 1.3h-1.4zM52.8 257.3a0.6 0.6 0 1 0 1.3 0a0.6 0.6 0 1 0 -1.3 0M58 258.1l0.7 1.3h-1.4zM49.5 260.8l1.4 1.4m0 -1.4l-1.4 1.4M49.1 260.3h1.2v1.2h-1.2zM51.5 260.1l0.7 0.7l-0.7 0.7l-0.7 -0.7zM46 266.2l1.4 1.4m0 -1.4l-1.4 1.4M54 254.7l1.4 1.4m0 -1.4l-1.4 1.4M49.2 263.3a0.6 0.6 0 1 0 1.3 0a0.6 0.6 0 1 0 -1.3 0M60.4 258.4l0.7 1.3h-1.4zM57.3 256.8h1.2v1.2h-1.2zM49.7 259.1l0.7 0.7l-0.7 0.7l-0.7 -0.7zM64.6 249.5l0.7 1.3h-1.4zM57.2 257.4l1.4 1.4m0 -1.4l-1.4 1.4M55.9 257.6h1.2v1.2h-1.2zM63.7 247.5h1.2v1.2h-1.2zM52.7 253.9l1.4 1.4m0 -1.4l-1.4 1.4" fill="none" stroke="#245c38" stroke-width="0.45"/>
<path d="M66.8 247a0.5 0.5 0 1 0 1 0a0.5 0.5 0 1 0 -1 0M40.9 267.5a0.5 0.5 0 1 0 1 0a0.5 0.5 0 1 0 -1 0M39.2 268.4a0.5 0.5 0 1 0 1 0a0.5 0.5 0 1 0 -1 0M52.9 260.6a0.5 0.5 0 1 0 1 0a0.5 0.5 0 1 0 -1 0M38.5 270.6a0.5 0.5 0 1 0 1 0a0.5 0.5 0 1 0 -1 0M54.9 259a0.5 0.5 0 1 0 1 0a0.5 0.5 0 1 0 -1 0M52.7 258.4h1v1h-1zM43.4 261.8h1v1h-1zM52.9 251.1h1v1h-1zM67.1 249.1h1v1h-1zM46.5 265.7a0.5 0.5 0 1 0 1 0a0.5 0.5 0 1 0 -1 0M56.1 258.1h1v1h-1zM72.8 239.6a0.5 0.5 0 1 0 1 0a0.5 0.5 0 1 0 -1 0M48.7 258.4h1v1h-1zM46.9 263.5a0.5 0.5 0 1 0 1 0a0.5 0.5 0 1 0 -1 0M40.6 270.1a0.5 0.5 0 1 0 1 0a0.5 0.5 0 1 0 -1 0M55.2 258h1v1h-1zM48.2 260.1h1v1h-1zM67 250.2a0.5 0.5 0 1 0 1 0a0.5 0.5 0 1 0 -1 0M53.8 255.6a0.5 0.5 0 1 0 1 0a0.5 0.5 0 1 0 -1 0M52 245.8h1v1h-1z" fill="#245c38"/>
<path d="M53.7 258.2h1.4m-0.7 -0.7v1.4M60 251.2h1.4m-0.7 -0.7v1.4M44.8 264h1.4m-0.7 -0.7v1.4" fill="none" stroke="#245c38" stroke-width="0.59"/>
<path d="M42.7 265.1l0.7 1.3h-1.4zM61.1 257.5l0.7 0.7l-0.7 0.7l-0.7 -0.7zM59 253.4l0.7 0.7l-0.7 0.7l-0.7 -0.7zM61.9 250.4l0.7 0.7l-0.7 0.7l-0.7 -0.7zM63.8 250.7l0.7 1.3h-1.4zM44.8 263.1l0.7 1.3h-1.4zM51.3 259l0.7 0.7l-0.7 0.7l-0.7 -0.7zM65.8 252.1l0.7 0.7l-0.7 0.7l-0.7 -0.7zM38.2 270.6l0.7 0.7l-0.7 0.7l-0.7 -0.7zM72.3 242.3l0.7 0.7l-0.7 0.7l-0.7 -0.7zM38.9 269.8l1.4 1.4m0 -1.4l-1.4 1.4M47 264.1l0.7 0.7l-0.7 0.7l-0.7 -0.7zM64.3 249.2l1.4 1.4m0 -1.4l-1.4 1.4M53.9 256.9l0.7 1.3h-1.4zM63.7 241.8l1.4 1.4m0 -1.4l-1.4 1.4M43.1 263.6h1.2v1.2h-1.2zM51.4 258.4l0.7 1.3h-1.4zM46.9 264l1.4 1.4m0 -1.4l-1.4 1.4M39.3 267.1l0.7 0.7l-0.7 0.7l-0.7 -0.7zM66.7 248.9l0.7 0.7l-0.7 0.7l-0.7 -0.7zM56.9 251.2l1.4 1.4m0 -1.4l-1.4 1.4M59.8 253.3a0.6 0.6 0 1 0 1.3 0a0.6 0.6 0 1 0 -1.3 0M47 262.9a0.6 0.6 0 1 0 1.3 0a0.6 0.6 0 1 0 -1.3 0M45.9 265.8l0.7 0.7l-0.7 0.7l-0.7 -0.7zM45.3 263.6h1.2v1.2h-1.2zM49.4 263.4a0.6 0.6 0 1 0 1.3 0a0.6 0.6 0 1 0 -1.3 0M48.4 261.4l1.4 1.4m0 -1.4l-1.4 1.4M47.9 264.5h1.2v1.2h-1.2zM62.7 253.5h1.2v1.2h-1.2zM42.7 269.4l1.4 1.4m0 -1.4l-1.4 1.4M61.2 250.5l0.7 1.3h-1.4zM45.5 261.6l0.7 1.3h-1.4zM47.5 261.6l0.7 1.3h-1.4zM52.7 251.2a0.6 0.6 0 1 0 1.3 0a0.6 0.6 0 1 0 -1.3 0M59.8 252.9l0.7 1.3h-1.4zM50.7 256.7l0.7 1.3h-1.4zM66.2 253.7h1.2v1.2h-1.2zM69.2 243.7l1.4 1.4m0 -1.4l-1.4 1.4M61 247.7h1.2v1.2h-1.2zM44.5 264.7l1.4 1.4m0 -1.4l-1.4 1.4M54.4 256.3l0.7 0.7l-0.7 0.7l-0.7 -0.7zM43.3 266.4h1.2v1.2h-1.2zM49 261.9l0.7 0.7l-0.7 0.7l-0.7 -0.7zM65.2 252.4l1.4 1.4m0 -1.4l-1.4 1.4M69 243.7a0.6 0.6 0 1 0 1.3 0a0.6 0.6 0 1 0 -1.3 0M36.6 270.2h1.2v1.2h-1.2zM39.9 267.8l1.4 1.4m0 -1.4l-1.4 1.4M46.8 253.9l1.4 1.4m0 -1.4l-1.4 1.4M61.8 251.7l1.4 1.4m0 -1.4l-1.4 1.4M55.4 252.5h1.2v1.2h-1.2zM47.5 263.8l1.4 1.4m0 -1.4l-1.4 1.4M36.9 268.8h1.2v1.2h-1.2zM51.8 259.1h1.2v1.2h-1.2zM54 259.2h1.2v1.2h-1.2zM57.5 253.3h1.2v1.2h-1.2zM60.2 249.3a0.6 0.6 0 1 0 1.3 0a0.6 0.6 0 1 0 -1.3 0M91.2 229.3l0.7 1.3h-1.4zM104.4 220.5l0.7 1.3h-1.4zM80.3 236.7h1.2v1.2h-1.2z" fill="none" stroke="#2e3288" stroke-width="0.45"/>
<path d="M53.5 258.4a0.5 0.5 0 1 0 1 0a0.5 0.5 0 1 0 -1 0M64.9 242.6h1v1h-1zM49.1 258.2a0.5 0.5 0 1 0 1 0a0.5 0.5 0 1 0 -1 0M50.5 259.7a0.5 0.5 0 1 0 1 0a0.5 0.5 0 1 0 -1 0M61 246.2a0.5 0.5 0 1 0 1 0a0.5 0.5 0 1 0 -1 0M60.8 254.7a0.5 0.5 0 1 0 1 0a0.5 0.5 0 1 0 -1 0M55.6 255.2a0.5 0.5 0 1 0 1 0a0.5 0.5 0 1 0 -1 0M48.4 263h1v1h-1zM50.2 262.8a0.5 0.5 0 1 0 1 0a0.5 0.5 0 1 0 -1 0M50 256.9a0.5 0.5 0 1 0 1 0a0.5 0.5 0 1 0 -1 0M64.7 258.5a0.5 0.5 0 1 0 1 0a0.5 0.5 0 1 0 -1 0M43.4 264.7h1v1h-1zM47 262.4h1v1h-1zM49.6 262.4a0.5 0.5 0 1 0 1 0a0.5 0.5 0 1 0 -1 0M44.1 263.7h1v1h-1zM47.1 261.6a0.5 0.5 0 1 0 1 0a0.5 0.5 0 1 0 -1 0M64.6 250.1h1v1h-1zM58.2 255.1h1v1h-1zM51.4 262.2h1v1h-1zM54.5 258.9h1v1h-1zM45.3 262.5a0.5 0.5 0 1 0 1 0a0.5 0.5 0 1 0 -1 0M66.7 247.6a0.5 0.5 0 1 0 1 0a0.5 0.5 0 1 0 -1 0M55.9 253h1v1h-1zM49.3 262.6h1v1h-1zM42.3 271.5a0.5 0.5 0 1 0 1 0a0.5 0.5 0 1 0 -1 0M53.5 255.6a0.5 0.5 0 1 0 1 0a0.5 0.5 0 1 0 -1 0M48.5 258.9h1v1h-1zM55.9 251.7a0.5 0.5 0 1 0 1 0a0.5 0.5 0 1 0 -1 0" fill="#2e3288"/>
<path d="M68.4 243.6h1.4m-0.7 -0.7v1.4M64.6 249.1h1.4m-0.7 -0.7v1.4M51.3 259h1.4m-0.7 -0.7v1.4M54.4 258h1.4m-0.7 -0.7v1.4M59.4 251.1h1.4m-0.7 -0.7v1.4M44.7 262.8h1.4m-0.7 -0.7v1.4M45.6 264.7h1.4m-0.7 -0.7v1.4M61.9 250.1h1.4m-0.7 -0.7v1.4M39.2 271.8h1.4m-0.7 -0.7v1.4M59.3 255.1h1.4m-0.7 -0.7v1.4M39.2 270.1h1.4m-0.7 -0.7v1.4M52.6 258.2h1.4m-0.7 -0.7v1.4M94.2 228.2h1.4m-0.7 -0.7v1.4" fill="none" stroke="#2e3288" stroke-width="0.59"/>
<path d="M243.8 90.4h1v1h-1zM230.3 92.8a0.5 0.5 0 1 0 1 0a0.5 0.5 0 1 0 -1 0M218 97a0.5 0.5 0 1 0 1 0a0.5 0.5 0 1 0 -1 0M231.8 99.8h1v1h-1zM233.4 97.8a0.5 0.5 0 1 0 1 0a0.5 0.5 0 1 0 -1 0M227.5 93.2a0.5 0.5 0 1 0 1 0a0.5 0.5 0 1 0 -1 0M220.3 99.8a0.5 0.5 0 1 0 1 0a0.5 0.5 0 1 0 -1 0M233.6 97.8h1v1h-1zM228.3 97.8h1v1h-1zM218.3 94.7a0.5 0.5 0 1 0 1 0a0.5 0.5 0 1 0 -1 0M263.9 93.3a0.5 0.5 0 1 0 1 0a0.5 0.5 0 1 0 -1 0" fill="#e8b420"/>
<path d="M247 92.1h1.2v1.2h-1.2zM226.2 97.4h1.2v1.2h-1.2zM220.7 98.1l0.7 1.3h-1.4zM223.3 93.6l1.4 1.4m0 -1.4l-1.4 1.4M224.1 95.1l0.7 1.3h-1.4zM236.8 96.5a0.6 0.6 0 1 0 1.3 0a0.6 0.6 0 1 0 -1.3 0M229.6 94.6l0.7 1.3h-1.4zM238.2 94.2h1.2v1.2h-1.2zM232.4 100.3l0.7 1.3h-1.4zM243 94.3l0.7 1.3h-1.4zM214 96.3l0.7 1.3h-1.4zM242.5 94.6l0.7 1.3h-1.4zM239.3 100.2l0.7 1.3h-1.4zM242.2 88.5l0.7 0.7l-0.7 0.7l-0.7 -0.7zM223 93.9h1.2v1.2h-1.2zM218.3 98h1.2v1.2h-1.2zM236.9 94.8h1.2v1.2h-1.2zM229.5 95.8h1.2v1.2h-1.2zM229.2 94.2l0.7 1.3h-1.4zM231.5 95.5a0.6 0.6 0 1 0 1.3 0a0.6 0.6 0 1 0 -1.3 0M219 96l0.7 1.3h-1.4zM229.4 93.3l1.4 1.4m0 -1.4l-1.4 1.4M228.9 94l1.4 1.4m0 -1.4l-1.4 1.4M230.2 92.5h1.2v1.2h-1.2zM267.3 93.1l0.7 0.7l-0.7 0.7l-0.7 -0.7z" fill="none" stroke="#e8b420" stroke-width="0.45"/>
<path d="M237 92.8h1.4m-0.7 -0.7v1.4M227.4 97.3h1.4m-0.7 -0.7v1.4M226.5 96.9h1.4m-0.7 -0.7v1.4M242.8 92.3h1.4m-0.7 -0.7v1.4M224.5 100.9h1.4m-0.7 -0.7v1.4M220.5 96.8h1.4m-0.7 -0.7v1.4" fill="none" stroke="#e8b420" stroke-width="0.59"/>
<path d="M233.5 90h1.2v1.2h-1.2zM225.3 93.3h1.2v1.2h-1.2zM222.8 97.8h1.2v1.2h-1.2zM213.3 99.6l0.7 1.3h-1.4zM227.8 96.7l1.4 1.4m0 -1.4l-1.4 1.4M230.1 92l1.4 1.4m0 -1.4l-1.4 1.4M227.6 98.1a0.6 0.6 0 1 0 1.3 0a0.6 0.6 0 1 0 -1.3 0M229.4 94.1l1.4 1.4m0 -1.4l-1.4 1.4M241.5 94.7a0.6 0.6 0 1 0 1.3 0a0.6 0.6 0 1 0 -1.3 0M219.9 95.3l1.4 1.4m0 -1.4l-1.4 1.4M243.3 93.4a0.6 0.6 0 1 0 1.3 0a0.6 0.6 0 1 0 -1.3 0M218.2 97.3l0.7 0.7l-0.7 0.7l-0.7 -0.7zM225.8 98.1h1.2v1.2h-1.2zM211.5 94.4a0.6 0.6 0 1 0 1.3 0a0.6 0.6 0 1 0 -1.3 0M229.3 96.4l0.7 1.3h-1.4zM209.5 97.5a0.6 0.6 0 1 0 1.3 0a0.6 0.6 0 1 0 -1.3 0M215.8 95.7l1.4 1.4m0 -1.4l-1.4 1.4M216.7 94.9h1.2v1.2h-1.2zM240.5 94l0.7 0.7l-0.7 0.7l-0.7 -0.7zM218.5 97.8a0.6 0.6 0 1 0 1.3 0a0.6 0.6 0 1 0 -1.3 0M222.7 95.5h1.2v1.2h-1.2zM241.1 93.5a0.6 0.6 0 1 0 1.3 0a0.6 0.6 0 1 0 -1.3 0M231.3 96.9l0.7 0.7l-0.7 0.7l-0.7 -0.7zM226.3 93a0.6 0.6 0 1 0 1.3 0a0.6 0.6 0 1 0 -1.3 0M221.7 96.2l0.7 1.3h-1.4zM231.2 95l1.4 1.4m0 -1.4l-1.4 1.4M219.6 96.4a0.6 0.6 0 1 0 1.3 0a0.6 0.6 0 1 0 -1.3 0M225 94.6l0.7 1.3h-1.4zM238.8 95l0.7 0.7l-0.7 0.7l-0.7 -0.7zM239.1 96.5l0.7 0.7l-0.7 0.7l-0.7 -0.7zM230.1 96.3l0.7 1.3h-1.4zM229.7 93.3l0.7 1.3h-1.4zM243.9 92.3l1.4 1.4m0 -1.4l-1.4 1.4M230.4 96.1l0.7 1.3h-1.4zM224.2 94.3a0.6 0.6 0 1 0 1.3 0a0.6 0.6 0 1 0 -1.3 0M220.8 95.3h1.2v1.2h-1.2zM216.4 97.2l1.4 1.4m0 -1.4l-1.4 1.4M237.2 96l0.7 0.7l-0.7 0.7l-0.7 -0.7zM250.8 93.3h1.2v1.2h-1.2zM219.5 74.8l0.7 0.7l-0.7 0.7l-0.7 -0.7zM315.6 80.2l0.7 0.7l-0.7 0.7l-0.7 -0.7z" fill="none" stroke="#e27a1c" stroke-width="0.45"/>
<path d="M222 96.2h1.4m-0.7 -0.7v1.4M240.5 95.1h1.4m-0.7 -0.7v1.4M220.5 97h1.4m-0.7 -0.7v1.4M214.5 95.6h1.4m-0.7 -0.7v1.4M221.6 97.8h1.4m-0.7 -0.7v1.4M225.1 93.2h1.4m-0.7 -0.7v1.4M246 90.4h1.4m-0.7 -0.7v1.4M216.3 99.3h1.4m-0.7 -0.7v1.4M217.6 97.8h1.4m-0.7 -0.7v1.4" fill="none" stroke="#e27a1c" stroke-width="0.59"/>
<path d="M221.7 98.3a0.5 0.5 0 1 0 1 0a0.5 0.5 0 1 0 -1 0M229.3 94.3h1v1h-1zM217.3 97a0.5 0.5 0 1 0 1 0a0.5 0.5 0 1 0 -1 0M212.6 99.1h1v1h-1zM227.8 98.1h1v1h-1zM236.2 96.3a0.5 0.5 0 1 0 1 0a0.5 0.5 0 1 0 -1 0M239.9 94.8a0.5 0.5 0 1 0 1 0a0.5 0.5 0 1 0 -1 0M212 98.9h1v1h-1zM210.6 93.7h1v1h-1zM225.9 100.8a0.5 0.5 0 1 0 1 0a0.5 0.5 0 1 0 -1 0M220.4 96.6a0.5 0.5 0 1 0 1 0a0.5 0.5 0 1 0 -1 0M241.8 94.9a0.5 0.5 0 1 0 1 0a0.5 0.5 0 1 0 -1 0M224.7 98.4h1v1h-1zM235.8 70.5a0.5 0.5 0 1 0 1 0a0.5 0.5 0 1 0 -1 0" fill="#e27a1c"/>
<path d="M209.6 100.3a0.5 0.5 0 1 0 1 0a0.5 0.5 0 1 0 -1 0M234.5 97.2a0.5 0.5 0 1 0 1 0a0.5 0.5 0 1 0 -1 0M238.9 93.3a0.5 0.5 0 1 0 1 0a0.5 0.5 0 1 0 -1 0M226.5 94.9h1v1h-1zM219.1 97a0.5 0.5 0 1 0 1 0a0.5 0.5 0 1 0 -1 0M215.6 101.1a0.5 0.5 0 1 0 1 0a0.5 0.5 0 1 0 -1 0M230.8 92.9a0.5 0.5 0 1 0 1 0a0.5 0.5 0 1 0 -1 0M227.2 94.3h1v1h-1zM209.8 97h1v1h-1zM227.7 98.2h1v1h-1zM220 97.6h1v1h-1zM227.1 95h1v1h-1zM229.9 93.7h1v1h-1zM212.9 100.6h1v1h-1zM226.4 75.2a0.5 0.5 0 1 0 1 0a0.5 0.5 0 1 0 -1 0" fill="#3d7cc8"/>
<path d="M238.2 97a0.6 0.6 0 1 0 1.3 0a0.6 0.6 0 1 0 -1.3 0M239 93.6l1.4 1.4m0 -1.4l-1.4 1.4M222.2 97.4l0.7 1.3h-1.4zM224.5 94.9l0.7 0.7l-0.7 0.7l-0.7 -0.7zM216.5 97.4h1.2v1.2h-1.2zM228.6 93.6l0.7 0.7l-0.7 0.7l-0.7 -0.7zM220.1 98.6l1.4 1.4m0 -1.4l-1.4 1.4M221.5 95.9l0.7 0.7l-0.7 0.7l-0.7 -0.7zM233.4 96.5h1.2v1.2h-1.2zM222.5 96l1.4 1.4m0 -1.4l-1.4 1.4M215.8 100.4l0.7 0.7l-0.7 0.7l-0.7 -0.7zM233.3 89.7l0.7 0.7l-0.7 0.7l-0.7 -0.7zM214.5 93.8l1.4 1.4m0 -1.4l-1.4 1.4M222.6 95.4l0.7 0.7l-0.7 0.7l-0.7 -0.7zM212.9 97.7h1.2v1.2h-1.2zM236.1 94.6l0.7 1.3h-1.4zM238.8 95.5h1.2v1.2h-1.2zM242.5 92.8l0.7 0.7l-0.7 0.7l-0.7 -0.7zM224.9 95l0.7 0.7l-0.7 0.7l-0.7 -0.7zM224.9 98h1.2v1.2h-1.2zM246.1 87.7l0.7 1.3h-1.4zM234.8 94.8h1.2v1.2h-1.2zM218 96.5l0.7 1.3h-1.4zM233.2 91.6l0.7 0.7l-0.7 0.7l-0.7 -0.7zM212.6 93.9l1.4 1.4m0 -1.4l-1.4 1.4M267.3 93l0.7 1.3h-1.4zM255.6 93a0.6 0.6 0 1 0 1.3 0a0.6 0.6 0 1 0 -1.3 0" fill="none" stroke="#3d7cc8" stroke-width="0.45"/>
<path d="M235.1 94.2h1.4m-0.7 -0.7v1.4M225.9 82.6h1.4m-0.7 -0.7v1.4" fill="none" stroke="#3d7cc8" stroke-width="0.59"/>
<path d="M225.3 98.1h1.2v1.2h-1.2zM221.7 97.5l1.4 1.4m0 -1.4l-1.4 1.4M244 94.7h1.2v1.2h-1.2zM227.7 95.4l0.7 1.3h-1.4zM243.4 94.4a0.6 0.6 0 1 0 1.3 0a0.6 0.6 0 1 0 -1.3 0M218.3 99.3a0.6 0.6 0 1 0 1.3 0a0.6 0.6 0 1 0 -1.3 0M232.6 92.9l1.4 1.4m0 -1.4l-1.4 1.4M235.5 93.3l1.4 1.4m0 -1.4l-1.4 1.4M213.7 99.8h1.2v1.2h-1.2zM230.4 93l1.4 1.4m0 -1.4l-1.4 1.4M240.7 95l1.4 1.4m0 -1.4l-1.4 1.4M220 95.6l0.7 1.3h-1.4zM226.4 97.5l0.7 0.7l-0.7 0.7l-0.7 -0.7zM240.1 94a0.6 0.6 0 1 0 1.3 0a0.6 0.6 0 1 0 -1.3 0M237.4 94.3l0.7 0.7l-0.7 0.7l-0.7 -0.7zM224.8 93.6l0.7 1.3h-1.4zM230.8 94.8h1.2v1.2h-1.2zM210 99.1a0.6 0.6 0 1 0 1.3 0a0.6 0.6 0 1 0 -1.3 0M215.1 96.6l0.7 1.3h-1.4zM235.2 93.8l1.4 1.4m0 -1.4l-1.4 1.4M238.4 93.8a0.6 0.6 0 1 0 1.3 0a0.6 0.6 0 1 0 -1.3 0M240.3 98.2a0.6 0.6 0 1 0 1.3 0a0.6 0.6 0 1 0 -1.3 0M234.5 97.5a0.6 0.6 0 1 0 1.3 0a0.6 0.6 0 1 0 -1.3 0M231.3 94.4h1.2v1.2h-1.2zM223.1 93.9l1.4 1.4m0 -1.4l-1.4 1.4M220.5 97.1l0.7 1.3h-1.4zM259.2 92.7l1.4 1.4m0 -1.4l-1.4 1.4M255.3 89.4h1.2v1.2h-1.2zM220.1 39.5l0.7 1.3h-1.4zM256.9 84.6l0.7 1.3h-1.4z" fill="none" stroke="#2f9a45" stroke-width="0.45"/>
<path d="M243.6 93.3a0.5 0.5 0 1 0 1 0a0.5 0.5 0 1 0 -1 0M238.2 94.3h1v1h-1zM213.5 98.1h1v1h-1zM234.9 97a0.5 0.5 0 1 0 1 0a0.5 0.5 0 1 0 -1 0M212 99.4h1v1h-1zM224.6 94.4h1v1h-1zM219.2 98.9a0.5 0.5 0 1 0 1 0a0.5 0.5 0 1 0 -1 0M228.6 98.5a0.5 0.5 0 1 0 1 0a0.5 0.5 0 1 0 -1 0M220 95.7a0.5 0.5 0 1 0 1 0a0.5 0.5 0 1 0 -1 0M229.4 95.4a0.5 0.5 0 1 0 1 0a0.5 0.5 0 1 0 -1 0M237.7 93.6h1v1h-1zM244.8 92.8a0.5 0.5 0 1 0 1 0a0.5 0.5 0 1 0 -1 0M297.9 90.7a0.5 0.5 0 1 0 1 0a0.5 0.5 0 1 0 -1 0" fill="#2f9a45"/>
<path d="M214.5 100.1h1.4m-0.7 -0.7v1.4M226.5 97.6h1.4m-0.7 -0.7v1.4M241.9 95.1h1.4m-0.7 -0.7v1.4M221.1 96.3h1.4m-0.7 -0.7v1.4M214.5 96h1.4m-0.7 -0.7v1.4M235.9 94.6h1.4m-0.7 -0.7v1.4M231.5 95.5h1.4m-0.7 -0.7v1.4" fill="none" stroke="#2f9a45" stroke-width="0.59"/>
<path d="M218.9 98.9l0.7 0.7l-0.7 0.7l-0.7 -0.7zM227.8 96.8l0.7 0.7l-0.7 0.7l-0.7 -0.7zM227 94.6l1.4 1.4m0 -1.4l-1.4 1.4M237.1 95.3a0.6 0.6 0 1 0 1.3 0a0.6 0.6 0 1 0 -1.3 0M234.5 94.7l1.4 1.4m0 -1.4l-1.4 1.4M243.7 91.7l0.7 0.7l-0.7 0.7l-0.7 -0.7zM242.1 94.2h1.2v1.2h-1.2zM215.1 95.3l1.4 1.4m0 -1.4l-1.4 1.4M226.8 96l0.7 0.7l-0.7 0.7l-0.7 -0.7zM232.8 94.7a0.6 0.6 0 1 0 1.3 0a0.6 0.6 0 1 0 -1.3 0M218.9 97.7l0.7 1.3h-1.4zM233.5 94.4h1.2v1.2h-1.2zM212.7 96.5a0.6 0.6 0 1 0 1.3 0a0.6 0.6 0 1 0 -1.3 0M225.3 96.4l0.7 1.3h-1.4zM226.3 94.7l1.4 1.4m0 -1.4l-1.4 1.4M226.3 93.6l0.7 0.7l-0.7 0.7l-0.7 -0.7zM236.2 92.1l1.4 1.4m0 -1.4l-1.4 1.4M234.8 93.4l0.7 0.7l-0.7 0.7l-0.7 -0.7zM240.3 89.6a0.6 0.6 0 1 0 1.3 0a0.6 0.6 0 1 0 -1.3 0M230.6 97.4l1.4 1.4m0 -1.4l-1.4 1.4M225.2 93.8h1.2v1.2h-1.2zM224.4 99.1h1.2v1.2h-1.2zM235.2 96.2l0.7 0.7l-0.7 0.7l-0.7 -0.7zM230.7 94.3a0.6 0.6 0 1 0 1.3 0a0.6 0.6 0 1 0 -1.3 0M240.7 93.2a0.6 0.6 0 1 0 1.3 0a0.6 0.6 0 1 0 -1.3 0M240.6 96.1l0.7 0.7l-0.7 0.7l-0.7 -0.7zM223.5 95.5l0.7 1.3h-1.4zM239.5 95.8h1.2v1.2h-1.2zM231.5 92.8l1.4 1.4m0 -1.4l-1.4 1.4M230 21.7l0.7 0.7l-0.7 0.7l-0.7 -0.7z" fill="none" stroke="#6d7a25" stroke-width="0.45"/>
<path d="M212.2 98.5h1.4m-0.7 -0.7v1.4M234 94.8h1.4m-0.7 -0.7v1.4M231.6 96h1.4m-0.7 -0.7v1.4M227.8 93.5h1.4m-0.7 -0.7v1.4M227.3 97.1h1.4m-0.7 -0.7v1.4M216.3 96.6h1.4m-0.7 -0.7v1.4M222.7 96.5h1.4m-0.7 -0.7v1.4M230.7 97.7h1.4m-0.7 -0.7v1.4M223.4 97.9h1.4m-0.7 -0.7v1.4M267.5 92.7h1.4m-0.7 -0.7v1.4" fill="none" stroke="#6d7a25" stroke-width="0.59"/>
<path d="M210.7 98.8h1v1h-1zM218.8 98.7h1v1h-1zM246.8 92.7h1v1h-1zM225.5 96.3a0.5 0.5 0 1 0 1 0a0.5 0.5 0 1 0 -1 0M234.3 95.3a0.5 0.5 0 1 0 1 0a0.5 0.5 0 1 0 -1 0M230.4 98.6a0.5 0.5 0 1 0 1 0a0.5 0.5 0 1 0 -1 0M246.9 95.2a0.5 0.5 0 1 0 1 0a0.5 0.5 0 1 0 -1 0M228.8 95.4h1v1h-1zM231.8 93.9h1v1h-1zM245.1 95.8h1v1h-1z" fill="#6d7a25"/>
<path d="M222.4 98h1.2v1.2h-1.2zM230.2 94.5l0.7 0.7l-0.7 0.7l-0.7 -0.7zM229.1 90.9l0.7 1.3h-1.4zM213 97.3h1.2v1.2h-1.2zM228 93.6l0.7 0.7l-0.7 0.7l-0.7 -0.7zM230.4 94.3l0.7 0.7l-0.7 0.7l-0.7 -0.7zM239.1 94.9l1.4 1.4m0 -1.4l-1.4 1.4M232 94.8l0.7 0.7l-0.7 0.7l-0.7 -0.7zM227.4 93h1.2v1.2h-1.2zM218.3 96h1.2v1.2h-1.2zM222.3 94.7a0.6 0.6 0 1 0 1.3 0a0.6 0.6 0 1 0 -1.3 0M235.2 92.8l1.4 1.4m0 -1.4l-1.4 1.4M239.1 94.8l1.4 1.4m0 -1.4l-1.4 1.4M227.9 92.3l0.7 1.3h-1.4zM226.7 95.7h1.2v1.2h-1.2zM225 101a0.6 0.6 0 1 0 1.3 0a0.6 0.6 0 1 0 -1.3 0M224.1 95.5a0.6 0.6 0 1 0 1.3 0a0.6 0.6 0 1 0 -1.3 0M238.7 94.6h1.2v1.2h-1.2zM221.6 93.9l0.7 1.3h-1.4zM227.7 93.3a0.6 0.6 0 1 0 1.3 0a0.6 0.6 0 1 0 -1.3 0M243.3 96.9a0.6 0.6 0 1 0 1.3 0a0.6 0.6 0 1 0 -1.3 0M225.9 96.2l0.7 1.3h-1.4zM216.2 99.9l0.7 1.3h-1.4zM225.5 95.5a0.6 0.6 0 1 0 1.3 0a0.6 0.6 0 1 0 -1.3 0M224.3 93.4h1.2v1.2h-1.2zM232.8 94.5l0.7 0.7l-0.7 0.7l-0.7 -0.7zM224.8 97.6l1.4 1.4m0 -1.4l-1.4 1.4M217.2 75.5a0.6 0.6 0 1 0 1.3 0a0.6 0.6 0 1 0 -1.3 0M272.9 85.7l0.7 0.7l-0.7 0.7l-0.7 -0.7zM280 93.1l0.7 1.3h-1.4zM272.4 86.1a0.6 0.6 0 1 0 1.3 0a0.6 0.6 0 1 0 -1.3 0" fill="none" stroke="#6d58b8" stroke-width="0.45"/>
<path d="M223.4 94.4a0.5 0.5 0 1 0 1 0a0.5 0.5 0 1 0 -1 0M246.5 91.2a0.5 0.5 0 1 0 1 0a0.5 0.5 0 1 0 -1 0M222.1 97.3a0.5 0.5 0 1 0 1 0a0.5 0.5 0 1 0 -1 0M222.4 96.9a0.5 0.5 0 1 0 1 0a0.5 0.5 0 1 0 -1 0M229.9 95.6h1v1h-1zM218.8 100.8a0.5 0.5 0 1 0 1 0a0.5 0.5 0 1 0 -1 0M237 93.4h1v1h-1zM222.2 95.9h1v1h-1zM213.2 100a0.5 0.5 0 1 0 1 0a0.5 0.5 0 1 0 -1 0M233 96.1h1v1h-1zM224.3 95.9h1v1h-1zM225 99.3h1v1h-1z" fill="#6d58b8"/>
<path d="M230.9 94.3h1.4m-0.7 -0.7v1.4M232.1 92.9h1.4m-0.7 -0.7v1.4M231.2 100.3h1.4m-0.7 -0.7v1.4M237.5 98.3h1.4m-0.7 -0.7v1.4M230.6 95.3h1.4m-0.7 -0.7v1.4" fill="none" stroke="#6d58b8" stroke-width="0.59"/>
<path d="M227.9 94.3l0.7 1.3h-1.4zM225.2 95l1.4 1.4m0 -1.4l-1.4 1.4M245 91.3l0.7 1.3h-1.4zM230.5 94.4a0.6 0.6 0 1 0 1.3 0a0.6 0.6 0 1 0 -1.3 0M217.1 93.3l1.4 1.4m0 -1.4l-1.4 1.4M240.3 92.7l0.7 0.7l-0.7 0.7l-0.7 -0.7zM226.5 99.5l0.7 1.3h-1.4zM230.4 93.6l1.4 1.4m0 -1.4l-1.4 1.4M232.3 93.1l0.7 0.7l-0.7 0.7l-0.7 -0.7zM221.2 98.7a0.6 0.6 0 1 0 1.3 0a0.6 0.6 0 1 0 -1.3 0M236.4 92.7a0.6 0.6 0 1 0 1.3 0a0.6 0.6 0 1 0 -1.3 0M225.9 84.5h1.2v1.2h-1.2zM231.3 96.4h1.2v1.2h-1.2zM229 95.7a0.6 0.6 0 1 0 1.3 0a0.6 0.6 0 1 0 -1.3 0M240.4 91.3l0.7 0.7l-0.7 0.7l-0.7 -0.7zM230.3 95.7l0.7 0.7l-0.7 0.7l-0.7 -0.7zM236.6 98.5a0.6 0.6 0 1 0 1.3 0a0.6 0.6 0 1 0 -1.3 0M223.3 95.4l1.4 1.4m0 -1.4l-1.4 1.4M228.9 71.8l1.4 1.4m0 -1.4l-1.4 1.4" fill="none" stroke="#a5465c" stroke-width="0.45"/>
<path d="M217.4 98.8h1v1h-1zM236 95.2a0.5 0.5 0 1 0 1 0a0.5 0.5 0 1 0 -1 0M248.1 95.6a0.5 0.5 0 1 0 1 0a0.5 0.5 0 1 0 -1 0M230.6 94h1v1h-1zM223 96.8h1v1h-1zM231.1 94.7a0.5 0.5 0 1 0 1 0a0.5 0.5 0 1 0 -1 0M234.8 94.3h1v1h-1zM223 81.5a0.5 0.5 0 1 0 1 0a0.5 0.5 0 1 0 -1 0" fill="#a5465c"/>
<path d="M235.2 95h1.4m-0.7 -0.7v1.4M229.5 98h1.4m-0.7 -0.7v1.4M232 96h1.4m-0.7 -0.7v1.4M228.3 97.2h1.4m-0.7 -0.7v1.4M211.9 97.7h1.4m-0.7 -0.7v1.4M230.7 94h1.4m-0.7 -0.7v1.4M226.7 98.3h1.4m-0.7 -0.7v1.4" fill="none" stroke="#a5465c" stroke-width="0.59"/>
<path d="M239.8 93a0.6 0.6 0 1 0 1.3 0a0.6 0.6 0 1 0 -1.3 0M241.9 94.5l1.4 1.4m0 -1.4l-1.4 1.4M235.5 93.2l1.4 1.4m0 -1.4l-1.4 1.4M219.9 96.1h1.2v1.2h-1.2zM225.4 96.7l1.4 1.4m0 -1.4l-1.4 1.4M219.2 96.3l1.4 1.4m0 -1.4l-1.4 1.4M228.1 93l0.7 0.7l-0.7 0.7l-0.7 -0.7zM231.2 92.9h1.2v1.2h-1.2zM232.1 94l1.4 1.4m0 -1.4l-1.4 1.4M228.6 100.3a0.6 0.6 0 1 0 1.3 0a0.6 0.6 0 1 0 -1.3 0M240.1 94.7a0.6 0.6 0 1 0 1.3 0a0.6 0.6 0 1 0 -1.3 0M231.6 94.1a0.6 0.6 0 1 0 1.3 0a0.6 0.6 0 1 0 -1.3 0M227.8 98.7l1.4 1.4m0 -1.4l-1.4 1.4M226.9 94.3h1.2v1.2h-1.2zM232.8 96a0.6 0.6 0 1 0 1.3 0a0.6 0.6 0 1 0 -1.3 0M230.2 93.6l0.7 0.7l-0.7 0.7l-0.7 -0.7zM222.4 91.8l0.7 0.7l-0.7 0.7l-0.7 -0.7zM240.4 94.2l1.4 1.4m0 -1.4l-1.4 1.4M217.5 96.2h1.2v1.2h-1.2zM224.5 95.4h1.2v1.2h-1.2zM240.7 93.7a0.6 0.6 0 1 0 1.3 0a0.6 0.6 0 1 0 -1.3 0M236.2 95.5l0.7 1.3h-1.4zM239.9 98.1h1.2v1.2h-1.2zM225.2 94.1l1.4 1.4m0 -1.4l-1.4 1.4M233.5 94.4l1.4 1.4m0 -1.4l-1.4 1.4M238 96.1l1.4 1.4m0 -1.4l-1.4 1.4M221 97l1.4 1.4m0 -1.4l-1.4 1.4M219.2 100.4l0.7 1.3h-1.4zM223.8 45.6l0.7 0.7l-0.7 0.7l-0.7 -0.7zM214.5 87l1.4 1.4m0 -1.4l-1.4 1.4" fill="none" stroke="#c8302f" stroke-width="0.45"/>
<path d="M224.1 96.5a0.5 0.5 0 1 0 1 0a0.5 0.5 0 1 0 -1 0M228.4 96h1v1h-1zM241.2 95.1a0.5 0.5 0 1 0 1 0a0.5 0.5 0 1 0 -1 0M226.3 96a0.5 0.5 0 1 0 1 0a0.5 0.5 0 1 0 -1 0M234.7 96.2a0.5 0.5 0 1 0 1 0a0.5 0.5 0 1 0 -1 0M238.4 96.6h1v1h-1zM229.6 98.3a0.5 0.5 0 1 0 1 0a0.5 0.5 0 1 0 -1 0M238.8 96.1a0.5 0.5 0 1 0 1 0a0.5 0.5 0 1 0 -1 0M215.5 96.8h1v1h-1zM258 96.5h1v1h-1zM335 82h1v1h-1z" fill="#c8302f"/>
<path d="M234 94.7h1.4m-0.7 -0.7v1.4M221.5 96h1.4m-0.7 -0.7v1.4M231 93.6h1.4m-0.7 -0.7v1.4M239.6 94.4h1.4m-0.7 -0.7v1.4M213 101.1h1.4m-0.7 -0.7v1.4M225.1 99.1h1.4m-0.7 -0.7v1.4M222.6 96.6h1.4m-0.7 -0.7v1.4" fill="none" stroke="#c8302f" stroke-width="0.59"/>
<path d="M224.8 97a0.5 0.5 0 1 0 1 0a0.5 0.5 0 1 0 -1 0M220.7 94.5h1v1h-1zM238.8 96a0.5 0.5 0 1 0 1 0a0.5 0.5 0 1 0 -1 0M217.4 95.7h1v1h-1zM242.4 95a0.5 0.5 0 1 0 1 0a0.5 0.5 0 1 0 -1 0M214.5 97.1a0.5 0.5 0 1 0 1 0a0.5 0.5 0 1 0 -1 0M230.6 95.7a0.5 0.5 0 1 0 1 0a0.5 0.5 0 1 0 -1 0M233.1 93.7a0.5 0.5 0 1 0 1 0a0.5 0.5 0 1 0 -1 0M228.2 95.7h1v1h-1zM228.1 93.7a0.5 0.5 0 1 0 1 0a0.5 0.5 0 1 0 -1 0M229.7 94.6a0.5 0.5 0 1 0 1 0a0.5 0.5 0 1 0 -1 0M233.6 96.3a0.5 0.5 0 1 0 1 0a0.5 0.5 0 1 0 -1 0M266.9 92.4a0.5 0.5 0 1 0 1 0a0.5 0.5 0 1 0 -1 0" fill="#6a4524"/>
<path d="M220.5 93.9h1.2v1.2h-1.2zM235 92.8l1.4 1.4m0 -1.4l-1.4 1.4M246.6 96.9l0.7 0.7l-0.7 0.7l-0.7 -0.7zM212.8 96.7a0.6 0.6 0 1 0 1.3 0a0.6 0.6 0 1 0 -1.3 0M222 94.4h1.2v1.2h-1.2zM220.4 96.3a0.6 0.6 0 1 0 1.3 0a0.6 0.6 0 1 0 -1.3 0M235.9 93.9a0.6 0.6 0 1 0 1.3 0a0.6 0.6 0 1 0 -1.3 0M217.1 98.6h1.2v1.2h-1.2zM246.2 87l0.7 1.3h-1.4zM231.4 90h1.2v1.2h-1.2zM218.4 97.2h1.2v1.2h-1.2zM227.4 95.7l1.4 1.4m0 -1.4l-1.4 1.4M227.5 96.9a0.6 0.6 0 1 0 1.3 0a0.6 0.6 0 1 0 -1.3 0M238.9 93.9l0.7 1.3h-1.4zM217.9 95.5l0.7 1.3h-1.4zM245 95.2l1.4 1.4m0 -1.4l-1.4 1.4M232.4 94.7h1.2v1.2h-1.2zM226.4 95.2h1.2v1.2h-1.2zM221.2 92.5l0.7 1.3h-1.4zM223.1 95.8l0.7 0.7l-0.7 0.7l-0.7 -0.7zM224.5 98.3l1.4 1.4m0 -1.4l-1.4 1.4M232.1 92l1.4 1.4m0 -1.4l-1.4 1.4M232.7 90.8l1.4 1.4m0 -1.4l-1.4 1.4" fill="none" stroke="#6a4524" stroke-width="0.45"/>
<path d="M228.8 94.7h1.4m-0.7 -0.7v1.4M213 93.3h1.4m-0.7 -0.7v1.4M210.5 99h1.4m-0.7 -0.7v1.4" fill="none" stroke="#6a4524" stroke-width="0.59"/>
<path d="M213.4 98.3a0.5 0.5 0 1 0 1 0a0.5 0.5 0 1 0 -1 0M238.4 93.9h1v1h-1zM234.5 94.7a0.5 0.5 0 1 0 1 0a0.5 0.5 0 1 0 -1 0M214.9 98.8a0.5 0.5 0 1 0 1 0a0.5 0.5 0 1 0 -1 0M225.2 95.9h1v1h-1zM225.7 96.7h1v1h-1zM229.5 97.5h1v1h-1zM218.5 94.9a0.5 0.5 0 1 0 1 0a0.5 0.5 0 1 0 -1 0M219.7 94.2h1v1h-1zM236 97.2h1v1h-1zM244.3 91.4h1v1h-1zM238.2 92.5a0.5 0.5 0 1 0 1 0a0.5 0.5 0 1 0 -1 0M219.2 94.2h1v1h-1zM232.7 93.9h1v1h-1zM220.2 97.5h1v1h-1zM229.4 96.7a0.5 0.5 0 1 0 1 0a0.5 0.5 0 1 0 -1 0M234.2 94.3h1v1h-1zM216.8 98.1a0.5 0.5 0 1 0 1 0a0.5 0.5 0 1 0 -1 0M232 93.5a0.5 0.5 0 1 0 1 0a0.5 0.5 0 1 0 -1 0M232.9 96.3a0.5 0.5 0 1 0 1 0a0.5 0.5 0 1 0 -1 0M212.6 98.5h1v1h-1z" fill="#5a4a22"/>
<path d="M237.1 93.4l0.7 0.7l-0.7 0.7l-0.7 -0.7zM223.3 96.9l0.7 0.7l-0.7 0.7l-0.7 -0.7zM226.2 93.4l0.7 0.7l-0.7 0.7l-0.7 -0.7zM241.7 90.9h1.2v1.2h-1.2zM233.9 97.2a0.6 0.6 0 1 0 1.3 0a0.6 0.6 0 1 0 -1.3 0M234.5 97l1.4 1.4m0 -1.4l-1.4 1.4M224 93.7l1.4 1.4m0 -1.4l-1.4 1.4M214.6 100.4l0.7 0.7l-0.7 0.7l-0.7 -0.7zM216.5 94.4l1.4 1.4m0 -1.4l-1.4 1.4M219.6 100.4l0.7 1.3h-1.4zM229.2 95.4l0.7 1.3h-1.4zM225.2 92.2h1.2v1.2h-1.2zM240.2 93.4h1.2v1.2h-1.2zM241.5 93.9l0.7 1.3h-1.4zM220.4 94.5l0.7 0.7l-0.7 0.7l-0.7 -0.7zM225.2 96h1.2v1.2h-1.2zM214.3 95.2l0.7 1.3h-1.4zM232.8 95.9h1.2v1.2h-1.2zM218.2 94.3l1.4 1.4m0 -1.4l-1.4 1.4M210.8 98.1l0.7 1.3h-1.4zM237.1 91.4l1.4 1.4m0 -1.4l-1.4 1.4M227.1 99.2a0.6 0.6 0 1 0 1.3 0a0.6 0.6 0 1 0 -1.3 0M231.8 99.2a0.6 0.6 0 1 0 1.3 0a0.6 0.6 0 1 0 -1.3 0M212.3 96.9l0.7 0.7l-0.7 0.7l-0.7 -0.7zM228.9 96.6h1.2v1.2h-1.2zM232.9 93.6h1.2v1.2h-1.2zM216.2 96.8a0.6 0.6 0 1 0 1.3 0a0.6 0.6 0 1 0 -1.3 0M225.4 95.9a0.6 0.6 0 1 0 1.3 0a0.6 0.6 0 1 0 -1.3 0M231.6 94.8h1.2v1.2h-1.2zM213.3 99.2l0.7 1.3h-1.4zM229.4 97.1a0.6 0.6 0 1 0 1.3 0a0.6 0.6 0 1 0 -1.3 0M220.5 95.5h1.2v1.2h-1.2zM235.3 93.8l1.4 1.4m0 -1.4l-1.4 1.4M250.6 90.9l0.7 1.3h-1.4z" fill="none" stroke="#5a4a22" stroke-width="0.45"/>
<path d="M224.9 93.5h1.4m-0.7 -0.7v1.4M235.2 96.2h1.4m-0.7 -0.7v1.4M228.8 96h1.4m-0.7 -0.7v1.4M223.3 95.9h1.4m-0.7 -0.7v1.4M235.7 90.4h1.4m-0.7 -0.7v1.4M241.3 96h1.4m-0.7 -0.7v1.4" fill="none" stroke="#5a4a22" stroke-width="0.59"/>
<path d="M236.4 94h1v1h-1zM226.4 90.1h1v1h-1zM237.6 90.2h1v1h-1zM233.6 93.6a0.5 0.5 0 1 0 1 0a0.5 0.5 0 1 0 -1 0M239.5 95.7h1v1h-1zM213.4 99h1v1h-1zM220.1 98.2a0.5 0.5 0 1 0 1 0a0.5 0.5 0 1 0 -1 0M233.7 95.6h1v1h-1zM278 86h1v1h-1z" fill="#245c38"/>
<path d="M226.3 96.2h1.4m-0.7 -0.7v1.4M230.4 92.1h1.4m-0.7 -0.7v1.4M215.7 98.5h1.4m-0.7 -0.7v1.4M231.8 94.7h1.4m-0.7 -0.7v1.4M217 96.5h1.4m-0.7 -0.7v1.4M277.3 86.1h1.4m-0.7 -0.7v1.4" fill="none" stroke="#245c38" stroke-width="0.59"/>
<path d="M224.7 94.2l1.4 1.4m0 -1.4l-1.4 1.4M228.6 97.9l0.7 0.7l-0.7 0.7l-0.7 -0.7zM226.5 97.4l0.7 1.3h-1.4zM221.3 92.1l1.4 1.4m0 -1.4l-1.4 1.4M215.5 89.2l0.7 1.3h-1.4zM222 95.7l1.4 1.4m0 -1.4l-1.4 1.4M220.9 100.3l1.4 1.4m0 -1.4l-1.4 1.4M216.1 95.2a0.6 0.6 0 1 0 1.3 0a0.6 0.6 0 1 0 -1.3 0M240 91.7l0.7 1.3h-1.4zM215.5 96.1l0.7 1.3h-1.4zM221.6 97.4l0.7 0.7l-0.7 0.7l-0.7 -0.7zM235.4 96.6a0.6 0.6 0 1 0 1.3 0a0.6 0.6 0 1 0 -1.3 0M217.8 100.4l0.7 0.7l-0.7 0.7l-0.7 -0.7zM229.6 95.2l0.7 1.3h-1.4zM245.2 95.7l1.4 1.4m0 -1.4l-1.4 1.4M227 93.1h1.2v1.2h-1.2zM219.7 95.8a0.6 0.6 0 1 0 1.3 0a0.6 0.6 0 1 0 -1.3 0M210.7 99.1h1.2v1.2h-1.2zM226.3 100.3l0.7 0.7l-0.7 0.7l-0.7 -0.7zM242.4 91.2l0.7 1.3h-1.4z" fill="none" stroke="#245c38" stroke-width="0.45"/>
<path d="M237.9 92.3a0.5 0.5 0 1 0 1 0a0.5 0.5 0 1 0 -1 0M212.6 97.3h1v1h-1zM233.7 96.9h1v1h-1zM232.8 92.8a0.5 0.5 0 1 0 1 0a0.5 0.5 0 1 0 -1 0M224.7 100.5h1v1h-1zM232.8 93.4a0.5 0.5 0 1 0 1 0a0.5 0.5 0 1 0 -1 0M229.6 96.5a0.5 0.5 0 1 0 1 0a0.5 0.5 0 1 0 -1 0M235.5 92.5a0.5 0.5 0 1 0 1 0a0.5 0.5 0 1 0 -1 0M225.3 94.6a0.5 0.5 0 1 0 1 0a0.5 0.5 0 1 0 -1 0M215.9 96.9a0.5 0.5 0 1 0 1 0a0.5 0.5 0 1 0 -1 0" fill="#2e3288"/>
<path d="M225.6 94.1a0.6 0.6 0 1 0 1.3 0a0.6 0.6 0 1 0 -1.3 0M239.8 94.5l0.7 0.7l-0.7 0.7l-0.7 -0.7zM221.3 92.8l0.7 1.3h-1.4zM238.1 94.7l0.7 1.3h-1.4zM222 96.7a0.6 0.6 0 1 0 1.3 0a0.6 0.6 0 1 0 -1.3 0M216.9 97.8l0.7 1.3h-1.4zM224.4 95.9l0.7 1.3h-1.4zM222.3 93.5h1.2v1.2h-1.2zM237.1 92.9h1.2v1.2h-1.2zM245 90.2h1.2v1.2h-1.2zM227.3 98.9l0.7 1.3h-1.4zM225.1 93.5l1.4 1.4m0 -1.4l-1.4 1.4M233 97.3l0.7 1.3h-1.4zM222.1 96.6l1.4 1.4m0 -1.4l-1.4 1.4M218.6 98.2a0.6 0.6 0 1 0 1.3 0a0.6 0.6 0 1 0 -1.3 0M236 90.2h1.2v1.2h-1.2zM231.8 92.4l1.4 1.4m0 -1.4l-1.4 1.4M232.1 93.6l0.7 0.7l-0.7 0.7l-0.7 -0.7zM221.3 93l1.4 1.4m0 -1.4l-1.4 1.4M222.5 98.6l1.4 1.4m0 -1.4l-1.4 1.4M235.6 96.1l0.7 1.3h-1.4zM219.3 98.3l0.7 1.3h-1.4zM265.9 91.6l0.7 1.3h-1.4zM258.3 87.6h1.2v1.2h-1.2z" fill="none" stroke="#2e3288" stroke-width="0.45"/>
<path d="M222.2 99.7h1.4m-0.7 -0.7v1.4M240.3 96.9h1.4m-0.7 -0.7v1.4M216.3 96.3h1.4m-0.7 -0.7v1.4M230.3 90.5h1.4m-0.7 -0.7v1.4" fill="none" stroke="#2e3288" stroke-width="0.59"/>
<path d="M222.1 264a0.6 0.6 0 1 0 1.3 0a0.6 0.6 0 1 0 -1.3 0M213.6 265l0.7 1.3h-1.4zM234.7 261.8l0.7 0.7l-0.7 0.7l-0.7 -0.7zM218.7 266.4h1.2v1.2h-1.2zM222.3 262.5a0.6 0.6 0 1 0 1.3 0a0.6 0.6 0 1 0 -1.3 0M225.2 260h1.2v1.2h-1.2zM227.2 260.8a0.6 0.6 0 1 0 1.3 0a0.6 0.6 0 1 0 -1.3 0M215.2 261.6l0.7 1.3h-1.4zM217.1 266.4h1.2v1.2h-1.2zM248.1 262.8h1.2v1.2h-1.2zM233.2 261.5l0.7 1.3h-1.4zM238.2 261.7l1.4 1.4m0 -1.4l-1.4 1.4M228 260.3l0.7 0.7l-0.7 0.7l-0.7 -0.7zM229.5 262.1a0.6 0.6 0 1 0 1.3 0a0.6 0.6 0 1 0 -1.3 0M239.3 263.2l0.7 0.7l-0.7 0.7l-0.7 -0.7zM217.1 268.2l1.4 1.4m0 -1.4l-1.4 1.4M229 261.1l1.4 1.4m0 -1.4l-1.4 1.4M240 264h1.2v1.2h-1.2zM219.9 265h1.2v1.2h-1.2zM218.8 261.8l0.7 1.3h-1.4zM267.3 260.9l0.7 0.7l-0.7 0.7l-0.7 -0.7z" fill="none" stroke="#e8b420" stroke-width="0.45"/>
<path d="M226.3 265.8a0.5 0.5 0 1 0 1 0a0.5 0.5 0 1 0 -1 0M219.1 264.8a0.5 0.5 0 1 0 1 0a0.5 0.5 0 1 0 -1 0M214.7 263.4a0.5 0.5 0 1 0 1 0a0.5 0.5 0 1 0 -1 0M228.2 264a0.5 0.5 0 1 0 1 0a0.5 0.5 0 1 0 -1 0M234.2 262.6a0.5 0.5 0 1 0 1 0a0.5 0.5 0 1 0 -1 0" fill="#e8b420"/>
<path d="M230.4 262.1h1.4m-0.7 -0.7v1.4M230.3 258.3h1.4m-0.7 -0.7v1.4M231.8 261.3h1.4m-0.7 -0.7v1.4" fill="none" stroke="#e8b420" stroke-width="0.59"/>
<path d="M213.3 266.1a0.6 0.6 0 1 0 1.3 0a0.6 0.6 0 1 0 -1.3 0M218.2 267.4a0.6 0.6 0 1 0 1.3 0a0.6 0.6 0 1 0 -1.3 0M225.4 262l0.7 1.3h-1.4zM242 262.4h1.2v1.2h-1.2zM210.1 267.4l0.7 0.7l-0.7 0.7l-0.7 -0.7zM221.2 262.1l0.7 1.3h-1.4zM236.2 261l0.7 1.3h-1.4zM230.2 260.6a0.6 0.6 0 1 0 1.3 0a0.6 0.6 0 1 0 -1.3 0M212.3 266.3a0.6 0.6 0 1 0 1.3 0a0.6 0.6 0 1 0 -1.3 0M233.9 264.4h1.2v1.2h-1.2zM219.9 263.9h1.2v1.2h-1.2zM235.7 260.6l0.7 0.7l-0.7 0.7l-0.7 -0.7zM231.1 261.5l0.7 0.7l-0.7 0.7l-0.7 -0.7zM234.4 261.9h1.2v1.2h-1.2zM226.1 264.5l0.7 0.7l-0.7 0.7l-0.7 -0.7zM225.9 267.5h1.2v1.2h-1.2zM236.8 264.3a0.6 0.6 0 1 0 1.3 0a0.6 0.6 0 1 0 -1.3 0M227.4 260.8l1.4 1.4m0 -1.4l-1.4 1.4M212.5 267l0.7 1.3h-1.4zM225.1 262l0.7 1.3h-1.4zM228.5 260.6l0.7 1.3h-1.4zM224.4 263.7l0.7 0.7l-0.7 0.7l-0.7 -0.7zM224.1 261.4l1.4 1.4m0 -1.4l-1.4 1.4M218.4 265.6a0.6 0.6 0 1 0 1.3 0a0.6 0.6 0 1 0 -1.3 0M222.3 264.9l0.7 1.3h-1.4zM221.6 261.7l0.7 1.3h-1.4zM220.7 265.1l0.7 1.3h-1.4zM233 262.4l0.7 0.7l-0.7 0.7l-0.7 -0.7zM220.5 260.3l1.4 1.4m0 -1.4l-1.4 1.4M231.5 262.5l1.4 1.4m0 -1.4l-1.4 1.4M220.2 267h1.2v1.2h-1.2zM227.6 262.6l0.7 0.7l-0.7 0.7l-0.7 -0.7zM231.3 262.8a0.6 0.6 0 1 0 1.3 0a0.6 0.6 0 1 0 -1.3 0M240.1 263.5l0.7 0.7l-0.7 0.7l-0.7 -0.7zM218.7 266.2h1.2v1.2h-1.2zM218.9 243.3a0.6 0.6 0 1 0 1.3 0a0.6 0.6 0 1 0 -1.3 0" fill="none" stroke="#e27a1c" stroke-width="0.45"/>
<path d="M236 265h1v1h-1zM237.2 261.3a0.5 0.5 0 1 0 1 0a0.5 0.5 0 1 0 -1 0M232.2 263.3h1v1h-1zM230.9 262.7h1v1h-1zM237.7 261.4h1v1h-1zM233.7 262.9a0.5 0.5 0 1 0 1 0a0.5 0.5 0 1 0 -1 0M235.8 238.3a0.5 0.5 0 1 0 1 0a0.5 0.5 0 1 0 -1 0" fill="#e27a1c"/>
<path d="M239.3 260.2h1.4m-0.7 -0.7v1.4M241.3 263.8h1.4m-0.7 -0.7v1.4M314.9 248.7h1.4m-0.7 -0.7v1.4" fill="none" stroke="#e27a1c" stroke-width="0.59"/>
<path d="M223 265.7l0.7 0.7l-0.7 0.7l-0.7 -0.7zM221.7 265.3l1.4 1.4m0 -1.4l-1.4 1.4M227.1 264.6l1.4 1.4m0 -1.4l-1.4 1.4M227.1 262.5h1.2v1.2h-1.2zM229.2 262.6a0.6 0.6 0 1 0 1.3 0a0.6 0.6 0 1 0 -1.3 0M217.2 264.8a0.6 0.6 0 1 0 1.3 0a0.6 0.6 0 1 0 -1.3 0M230.2 259.9h1.2v1.2h-1.2zM223.8 262.7l1.4 1.4m0 -1.4l-1.4 1.4M225.8 266.5a0.6 0.6 0 1 0 1.3 0a0.6 0.6 0 1 0 -1.3 0M222.7 264.4l0.7 1.3h-1.4zM231.7 263.2h1.2v1.2h-1.2zM237.5 257.9h1.2v1.2h-1.2zM227.7 261.8l0.7 0.7l-0.7 0.7l-0.7 -0.7zM232.3 261.9h1.2v1.2h-1.2zM242.3 262.1l1.4 1.4m0 -1.4l-1.4 1.4M236.7 263.4l0.7 0.7l-0.7 0.7l-0.7 -0.7zM221.8 263.4l0.7 1.3h-1.4zM212.6 263.6l1.4 1.4m0 -1.4l-1.4 1.4M209.4 264.6l1.4 1.4m0 -1.4l-1.4 1.4M216.1 262.4h1.2v1.2h-1.2zM226.3 261.4l0.7 0.7l-0.7 0.7l-0.7 -0.7zM218.2 262.1l1.4 1.4m0 -1.4l-1.4 1.4M240.1 261.9h1.2v1.2h-1.2zM229.6 262.8l0.7 1.3h-1.4zM222.8 264.4l0.7 1.3h-1.4zM224.6 268.2h1.2v1.2h-1.2zM232.2 261.2l0.7 1.3h-1.4zM235.9 257.9l1.4 1.4m0 -1.4l-1.4 1.4M225.2 262.2a0.6 0.6 0 1 0 1.3 0a0.6 0.6 0 1 0 -1.3 0M236.4 257.5l0.7 0.7l-0.7 0.7l-0.7 -0.7zM230.8 265.5a0.6 0.6 0 1 0 1.3 0a0.6 0.6 0 1 0 -1.3 0M244 260.8a0.6 0.6 0 1 0 1.3 0a0.6 0.6 0 1 0 -1.3 0M223.8 261.7l0.7 1.3h-1.4zM232.3 261.5l0.7 1.3h-1.4zM232.2 260.6l0.7 1.3h-1.4zM233.2 259.4l0.7 0.7l-0.7 0.7l-0.7 -0.7zM222.9 264.5h1.2v1.2h-1.2zM233.4 258.6l0.7 0.7l-0.7 0.7l-0.7 -0.7zM217.1 264.3a0.6 0.6 0 1 0 1.3 0a0.6 0.6 0 1 0 -1.3 0M218.5 268.2l1.4 1.4m0 -1.4l-1.4 1.4M250 258.9h1.2v1.2h-1.2zM226.9 242.3l0.7 1.3h-1.4zM226.6 249.7l0.7 0.7l-0.7 0.7l-0.7 -0.7z" fill="none" stroke="#3d7cc8" stroke-width="0.45"/>
<path d="M239.8 260.8h1.4m-0.7 -0.7v1.4M221.1 266.5h1.4m-0.7 -0.7v1.4M226.5 264.7h1.4m-0.7 -0.7v1.4M241.5 257h1.4m-0.7 -0.7v1.4M221 264.7h1.4m-0.7 -0.7v1.4M219.8 265.9h1.4m-0.7 -0.7v1.4M222.5 267.1h1.4m-0.7 -0.7v1.4M230.7 262.1h1.4m-0.7 -0.7v1.4M225.7 268.6h1.4m-0.7 -0.7v1.4M221 265.5h1.4m-0.7 -0.7v1.4" fill="none" stroke="#3d7cc8" stroke-width="0.59"/>
<path d="M227.4 262.3h1v1h-1zM217.4 263.5h1v1h-1zM214.1 268.4h1v1h-1zM211.9 267.2a0.5 0.5 0 1 0 1 0a0.5 0.5 0 1 0 -1 0M231.4 264.3h1v1h-1zM210.2 266.4h1v1h-1zM217.6 264.1h1v1h-1zM216.3 264.6a0.5 0.5 0 1 0 1 0a0.5 0.5 0 1 0 -1 0M219.7 263.7h1v1h-1zM210.7 266.3h1v1h-1zM225.8 268.3h1v1h-1z" fill="#3d7cc8"/>
<path d="M219.6 207.5h1v1h-1z" fill="#2f9a45"/>
<path d="M256.2 253.1h1.4m-0.7 -0.7v1.4" fill="none" stroke="#2f9a45" stroke-width="0.59"/>
<path d="M297.7 257.8l1.4 1.4m0 -1.4l-1.4 1.4" fill="none" stroke="#2f9a45" stroke-width="0.45"/>
<path d="M229.6 262.4h1.2v1.2h-1.2zM236.9 261.6l0.7 1.3h-1.4zM222.2 265.2l0.7 1.3h-1.4zM220.7 265.9l0.7 0.7l-0.7 0.7l-0.7 -0.7zM223.4 262.1a0.6 0.6 0 1 0 1.3 0a0.6 0.6 0 1 0 -1.3 0M220.8 263.7l1.4 1.4m0 -1.4l-1.4 1.4M235.9 260.6l0.7 0.7l-0.7 0.7l-0.7 -0.7zM216.5 262.9a0.6 0.6 0 1 0 1.3 0a0.6 0.6 0 1 0 -1.3 0M222 263.3h1.2v1.2h-1.2zM234.8 262.4l0.7 1.3h-1.4zM215.9 264.2a0.6 0.6 0 1 0 1.3 0a0.6 0.6 0 1 0 -1.3 0M213.3 266.7h1.2v1.2h-1.2zM219.9 262.8l1.4 1.4m0 -1.4l-1.4 1.4M229.7 264.2a0.6 0.6 0 1 0 1.3 0a0.6 0.6 0 1 0 -1.3 0M232.8 263.8a0.6 0.6 0 1 0 1.3 0a0.6 0.6 0 1 0 -1.3 0M212.3 264.7l0.7 1.3h-1.4zM246.1 255.5l0.7 1.3h-1.4zM225.2 264l1.4 1.4m0 -1.4l-1.4 1.4M230.1 261.1l0.7 1.3h-1.4zM225.5 266.9l0.7 0.7l-0.7 0.7l-0.7 -0.7zM224.6 266.1h1.2v1.2h-1.2zM230 189.5l0.7 0.7l-0.7 0.7l-0.7 -0.7z" fill="none" stroke="#6d7a25" stroke-width="0.45"/>
<path d="M221.7 266.1a0.5 0.5 0 1 0 1 0a0.5 0.5 0 1 0 -1 0M228.1 266h1v1h-1zM229.1 262.6h1v1h-1zM236.1 261.3h1v1h-1zM238.8 268.7a0.5 0.5 0 1 0 1 0a0.5 0.5 0 1 0 -1 0M216.5 264.1a0.5 0.5 0 1 0 1 0a0.5 0.5 0 1 0 -1 0M240.8 260.5h1v1h-1zM231.7 262.8h1v1h-1zM267.7 260.5a0.5 0.5 0 1 0 1 0a0.5 0.5 0 1 0 -1 0" fill="#6d7a25"/>
<path d="M246.3 259h1.4m-0.7 -0.7v1.4M227 267h1.4m-0.7 -0.7v1.4M221.7 260.3h1.4m-0.7 -0.7v1.4M215.7 266.3h1.4m-0.7 -0.7v1.4" fill="none" stroke="#6d7a25" stroke-width="0.59"/>
<path d="M225.3 264.1l0.7 0.7l-0.7 0.7l-0.7 -0.7zM244.1 260.4l0.7 1.3h-1.4zM242.3 258.6l0.7 0.7l-0.7 0.7l-0.7 -0.7zM239.3 263.1l0.7 1.3h-1.4zM224 264.3a0.6 0.6 0 1 0 1.3 0a0.6 0.6 0 1 0 -1.3 0M227.8 265.2a0.6 0.6 0 1 0 1.3 0a0.6 0.6 0 1 0 -1.3 0M239.2 263a0.6 0.6 0 1 0 1.3 0a0.6 0.6 0 1 0 -1.3 0M227.1 263.3h1.2v1.2h-1.2zM245 259.1l0.7 0.7l-0.7 0.7l-0.7 -0.7zM239.8 262.7l0.7 1.3h-1.4zM235.3 262.2h1.2v1.2h-1.2zM214.8 266.6a0.6 0.6 0 1 0 1.3 0a0.6 0.6 0 1 0 -1.3 0M216.5 265.8a0.6 0.6 0 1 0 1.3 0a0.6 0.6 0 1 0 -1.3 0M218.5 264.1l0.7 1.3h-1.4zM241.5 262h1.2v1.2h-1.2zM243.1 259.6h1.2v1.2h-1.2zM247.3 260.3l0.7 0.7l-0.7 0.7l-0.7 -0.7zM224.1 262.9l0.7 0.7l-0.7 0.7l-0.7 -0.7zM230.2 265.1l0.7 1.3h-1.4zM233.3 264.2l1.4 1.4m0 -1.4l-1.4 1.4M225.9 265.9a0.6 0.6 0 1 0 1.3 0a0.6 0.6 0 1 0 -1.3 0M222.2 267.5a0.6 0.6 0 1 0 1.3 0a0.6 0.6 0 1 0 -1.3 0M227.2 264.7l0.7 0.7l-0.7 0.7l-0.7 -0.7zM226.2 263.8a0.6 0.6 0 1 0 1.3 0a0.6 0.6 0 1 0 -1.3 0M236.4 259.9h1.2v1.2h-1.2zM220.4 263.4l1.4 1.4m0 -1.4l-1.4 1.4M240.9 261.8h1.2v1.2h-1.2zM221 268.2h1.2v1.2h-1.2zM230.5 263.5a0.6 0.6 0 1 0 1.3 0a0.6 0.6 0 1 0 -1.3 0M222 264.5a0.6 0.6 0 1 0 1.3 0a0.6 0.6 0 1 0 -1.3 0M218.3 266.2a0.6 0.6 0 1 0 1.3 0a0.6 0.6 0 1 0 -1.3 0M225.2 264.3a0.6 0.6 0 1 0 1.3 0a0.6 0.6 0 1 0 -1.3 0M220.2 261.8l0.7 0.7l-0.7 0.7l-0.7 -0.7zM233.5 262.8a0.6 0.6 0 1 0 1.3 0a0.6 0.6 0 1 0 -1.3 0M226.4 263.2a0.6 0.6 0 1 0 1.3 0a0.6 0.6 0 1 0 -1.3 0M231 261.5h1.2v1.2h-1.2zM222.9 261.2l0.7 1.3h-1.4zM233 260.9h1.2v1.2h-1.2zM245.6 254.9h1.2v1.2h-1.2zM228.6 260.8l0.7 0.7l-0.7 0.7l-0.7 -0.7zM240.5 261.8l0.7 1.3h-1.4zM227.5 264l1.4 1.4m0 -1.4l-1.4 1.4M241.7 260.6l0.7 1.3h-1.4zM245.7 263l0.7 1.3h-1.4zM230 263.8l0.7 0.7l-0.7 0.7l-0.7 -0.7zM227.6 260.4l1.4 1.4m0 -1.4l-1.4 1.4M232.8 261.3l1.4 1.4m0 -1.4l-1.4 1.4M215.1 264.4l0.7 1.3h-1.4zM232.6 260.5l1.4 1.4m0 -1.4l-1.4 1.4M211.1 261.3l0.7 1.3h-1.4zM228.2 265.8l0.7 0.7l-0.7 0.7l-0.7 -0.7zM243.2 264l1.4 1.4m0 -1.4l-1.4 1.4M240.3 265.4h1.2v1.2h-1.2zM217.3 265.2l0.7 0.7l-0.7 0.7l-0.7 -0.7zM230.8 261.2h1.2v1.2h-1.2zM229.4 264.1l1.4 1.4m0 -1.4l-1.4 1.4M235.3 259.6l1.4 1.4m0 -1.4l-1.4 1.4M226.7 265.4l1.4 1.4m0 -1.4l-1.4 1.4M225.8 261.7l0.7 1.3h-1.4zM224.2 262.1a0.6 0.6 0 1 0 1.3 0a0.6 0.6 0 1 0 -1.3 0M229.6 261.8l0.7 0.7l-0.7 0.7l-0.7 -0.7zM244.9 263.4l1.4 1.4m0 -1.4l-1.4 1.4M212.6 261.7l1.4 1.4m0 -1.4l-1.4 1.4M255.6 260.8a0.6 0.6 0 1 0 1.3 0a0.6 0.6 0 1 0 -1.3 0M272.2 253.5l1.4 1.4m0 -1.4l-1.4 1.4" fill="none" stroke="#6d58b8" stroke-width="0.45"/>
<path d="M228.4 263.8h1v1h-1zM246.1 265.4a0.5 0.5 0 1 0 1 0a0.5 0.5 0 1 0 -1 0M227.6 264.6h1v1h-1zM219.4 264.8a0.5 0.5 0 1 0 1 0a0.5 0.5 0 1 0 -1 0M215.3 268.9a0.5 0.5 0 1 0 1 0a0.5 0.5 0 1 0 -1 0M211.6 261.7h1v1h-1zM244.3 259.2h1v1h-1zM226 252.9a0.5 0.5 0 1 0 1 0a0.5 0.5 0 1 0 -1 0M219.2 266.7a0.5 0.5 0 1 0 1 0a0.5 0.5 0 1 0 -1 0M232.9 263.8h1v1h-1zM222.8 263.4h1v1h-1zM224.3 264.2a0.5 0.5 0 1 0 1 0a0.5 0.5 0 1 0 -1 0M230.8 265.4a0.5 0.5 0 1 0 1 0a0.5 0.5 0 1 0 -1 0M230.6 259.4h1v1h-1zM229.6 264.3a0.5 0.5 0 1 0 1 0a0.5 0.5 0 1 0 -1 0M227.1 261h1v1h-1zM216.5 263.9h1v1h-1zM232.3 260.5a0.5 0.5 0 1 0 1 0a0.5 0.5 0 1 0 -1 0M234.7 264.7a0.5 0.5 0 1 0 1 0a0.5 0.5 0 1 0 -1 0M230.7 263.1a0.5 0.5 0 1 0 1 0a0.5 0.5 0 1 0 -1 0M212.9 268.9a0.5 0.5 0 1 0 1 0a0.5 0.5 0 1 0 -1 0M234.7 262.6a0.5 0.5 0 1 0 1 0a0.5 0.5 0 1 0 -1 0M233.6 264.1a0.5 0.5 0 1 0 1 0a0.5 0.5 0 1 0 -1 0M266.8 261h1v1h-1zM266.9 260.2a0.5 0.5 0 1 0 1 0a0.5 0.5 0 1 0 -1 0M265.4 259.6h1v1h-1zM272.5 253.9a0.5 0.5 0 1 0 1 0a0.5 0.5 0 1 0 -1 0" fill="#6d58b8"/>
<path d="M226.3 263.1h1.4m-0.7 -0.7v1.4M219.9 263.8h1.4m-0.7 -0.7v1.4M215.4 268.9h1.4m-0.7 -0.7v1.4M224 262.2h1.4m-0.7 -0.7v1.4M235.4 263.1h1.4m-0.7 -0.7v1.4M237.1 259.9h1.4m-0.7 -0.7v1.4M226.8 262.7h1.4m-0.7 -0.7v1.4M218.2 266.4h1.4m-0.7 -0.7v1.4M229.4 264.2h1.4m-0.7 -0.7v1.4M234.7 263.2h1.4m-0.7 -0.7v1.4M212.6 267.7h1.4m-0.7 -0.7v1.4M241.7 262.7h1.4m-0.7 -0.7v1.4M217.1 243.3h1.4m-0.7 -0.7v1.4M279.3 261.6h1.4m-0.7 -0.7v1.4" fill="none" stroke="#6d58b8" stroke-width="0.59"/>
<path d="M226.3 264a0.6 0.6 0 1 0 1.3 0a0.6 0.6 0 1 0 -1.3 0M217.9 266.4l0.7 1.3h-1.4zM229.8 262.2h1.2v1.2h-1.2zM241.8 262.2l0.7 0.7l-0.7 0.7l-0.7 -0.7zM240.3 260.5l0.7 1.3h-1.4zM225.7 263.5l0.7 1.3h-1.4zM237.5 262.6h1.2v1.2h-1.2zM231.7 261.6a0.6 0.6 0 1 0 1.3 0a0.6 0.6 0 1 0 -1.3 0M214.9 257.1h1.2v1.2h-1.2zM242 262.3h1.2v1.2h-1.2zM230 265.1l0.7 1.3h-1.4zM213.6 263l1.4 1.4m0 -1.4l-1.4 1.4M234.1 260.7l0.7 0.7l-0.7 0.7l-0.7 -0.7zM222 263.5l1.4 1.4m0 -1.4l-1.4 1.4M215.2 263.1l0.7 1.3h-1.4zM217.3 262.6l0.7 0.7l-0.7 0.7l-0.7 -0.7zM234.2 261.9a0.6 0.6 0 1 0 1.3 0a0.6 0.6 0 1 0 -1.3 0M240.4 259.1l0.7 0.7l-0.7 0.7l-0.7 -0.7zM218.5 265.6a0.6 0.6 0 1 0 1.3 0a0.6 0.6 0 1 0 -1.3 0M225.8 260.3l0.7 1.3h-1.4zM221 265.3h1.2v1.2h-1.2zM240.9 256.7l0.7 0.7l-0.7 0.7l-0.7 -0.7zM227.3 264.2l1.4 1.4m0 -1.4l-1.4 1.4M229.3 263l0.7 1.3h-1.4zM242.9 259.5h1.2v1.2h-1.2zM211.3 266.8l0.7 1.3h-1.4zM234.1 265.4l0.7 1.3h-1.4zM222.8 264.3a0.6 0.6 0 1 0 1.3 0a0.6 0.6 0 1 0 -1.3 0M219 263.8l0.7 0.7l-0.7 0.7l-0.7 -0.7zM229.6 239.6l0.7 0.7l-0.7 0.7l-0.7 -0.7zM223.5 248.6l0.7 1.3h-1.4z" fill="none" stroke="#a5465c" stroke-width="0.45"/>
<path d="M232.6 261.4h1.4m-0.7 -0.7v1.4M239.1 263.3h1.4m-0.7 -0.7v1.4M237.5 266.1h1.4m-0.7 -0.7v1.4M213 268.9h1.4m-0.7 -0.7v1.4" fill="none" stroke="#a5465c" stroke-width="0.59"/>
<path d="M237 261.2h1v1h-1zM210.3 266.1h1v1h-1zM217.4 263.5h1v1h-1zM230.8 265.5h1v1h-1zM235.6 264a0.5 0.5 0 1 0 1 0a0.5 0.5 0 1 0 -1 0M238.2 264.6a0.5 0.5 0 1 0 1 0a0.5 0.5 0 1 0 -1 0M241.8 259.7a0.5 0.5 0 1 0 1 0a0.5 0.5 0 1 0 -1 0" fill="#a5465c"/>
<path d="M237.1 261.2l0.7 0.7l-0.7 0.7l-0.7 -0.7zM223.4 265.5l0.7 0.7l-0.7 0.7l-0.7 -0.7zM213.4 265.8h1.2v1.2h-1.2zM215.2 267.2l0.7 0.7l-0.7 0.7l-0.7 -0.7zM222.6 262.1l0.7 0.7l-0.7 0.7l-0.7 -0.7zM243.9 260.5l0.7 0.7l-0.7 0.7l-0.7 -0.7zM235.2 263.3l0.7 1.3h-1.4zM225.7 268.1l0.7 0.7l-0.7 0.7l-0.7 -0.7zM239.3 263.3l1.4 1.4m0 -1.4l-1.4 1.4M229.1 265.6l0.7 1.3h-1.4zM231.9 260.3h1.2v1.2h-1.2zM225.2 261.9l1.4 1.4m0 -1.4l-1.4 1.4M229.3 264.2l1.4 1.4m0 -1.4l-1.4 1.4M229.7 261.4h1.2v1.2h-1.2zM223.4 263.9a0.6 0.6 0 1 0 1.3 0a0.6 0.6 0 1 0 -1.3 0M231 262.5a0.6 0.6 0 1 0 1.3 0a0.6 0.6 0 1 0 -1.3 0M257.9 264.2h1.2v1.2h-1.2zM334.9 249.7h1.2v1.2h-1.2z" fill="none" stroke="#c8302f" stroke-width="0.45"/>
<path d="M225.1 260.8h1v1h-1zM231.2 261.4a0.5 0.5 0 1 0 1 0a0.5 0.5 0 1 0 -1 0M225.9 266a0.5 0.5 0 1 0 1 0a0.5 0.5 0 1 0 -1 0M223 262.3a0.5 0.5 0 1 0 1 0a0.5 0.5 0 1 0 -1 0M231.9 267a0.5 0.5 0 1 0 1 0a0.5 0.5 0 1 0 -1 0M235.5 263.9h1v1h-1zM238.2 263.5a0.5 0.5 0 1 0 1 0a0.5 0.5 0 1 0 -1 0M217.5 264.5h1v1h-1zM214.7 255h1v1h-1z" fill="#c8302f"/>
<path d="M226.6 264.1h1.4m-0.7 -0.7v1.4M229.7 263.9h1.4m-0.7 -0.7v1.4M239.8 266.5h1.4m-0.7 -0.7v1.4M235.9 262.4h1.4m-0.7 -0.7v1.4M223.1 214.1h1.4m-0.7 -0.7v1.4" fill="none" stroke="#c8302f" stroke-width="0.59"/>
<path d="M229.1 258.7l0.7 0.7l-0.7 0.7l-0.7 -0.7zM225.5 261.9a0.6 0.6 0 1 0 1.3 0a0.6 0.6 0 1 0 -1.3 0M238.2 264.8a0.6 0.6 0 1 0 1.3 0a0.6 0.6 0 1 0 -1.3 0M239.7 261.4l0.7 0.7l-0.7 0.7l-0.7 -0.7zM239.5 260.4l0.7 0.7l-0.7 0.7l-0.7 -0.7zM210.5 266.3l1.4 1.4m0 -1.4l-1.4 1.4M215.8 263.1l0.7 0.7l-0.7 0.7l-0.7 -0.7zM235.6 261.2h1.2v1.2h-1.2zM221.3 259.9l1.4 1.4m0 -1.4l-1.4 1.4M231.7 260.6l0.7 1.3h-1.4zM233.4 261.8l0.7 0.7l-0.7 0.7l-0.7 -0.7zM231.1 260.8l0.7 1.3h-1.4zM218.4 262.7a0.6 0.6 0 1 0 1.3 0a0.6 0.6 0 1 0 -1.3 0M227.7 265.8h1.2v1.2h-1.2zM224.8 262.6l0.7 0.7l-0.7 0.7l-0.7 -0.7zM240.3 264l1.4 1.4m0 -1.4l-1.4 1.4M224.7 264.3h1.2v1.2h-1.2zM242.5 262.4l0.7 1.3h-1.4zM231.4 257.8h1.2v1.2h-1.2zM233 265.1l0.7 1.3h-1.4zM215.5 263.9l0.7 1.3h-1.4zM210.3 264.6l0.7 0.7l-0.7 0.7l-0.7 -0.7zM229.3 263.2a0.6 0.6 0 1 0 1.3 0a0.6 0.6 0 1 0 -1.3 0M231.3 262.9h1.2v1.2h-1.2zM246.7 257.5l0.7 0.7l-0.7 0.7l-0.7 -0.7zM215.8 264.7a0.6 0.6 0 1 0 1.3 0a0.6 0.6 0 1 0 -1.3 0M229.5 261.7l1.4 1.4m0 -1.4l-1.4 1.4M258.3 255.4h1.2v1.2h-1.2z" fill="none" stroke="#6a4524" stroke-width="0.45"/>
<path d="M238.2 262.1h1.4m-0.7 -0.7v1.4M212.7 264.5h1.4m-0.7 -0.7v1.4M222.2 264.7h1.4m-0.7 -0.7v1.4M240.7 263.5h1.4m-0.7 -0.7v1.4M240.1 261.8h1.4m-0.7 -0.7v1.4M231.4 263.3h1.4m-0.7 -0.7v1.4M234.9 264.6h1.4m-0.7 -0.7v1.4M235.3 262.3h1.4m-0.7 -0.7v1.4" fill="none" stroke="#6a4524" stroke-width="0.59"/>
<path d="M234.7 265.1h1v1h-1zM226.4 264h1v1h-1zM221.7 263.3h1v1h-1zM212.9 266.1a0.5 0.5 0 1 0 1 0a0.5 0.5 0 1 0 -1 0M219.2 262h1v1h-1zM231.4 267.6h1v1h-1zM238.7 263a0.5 0.5 0 1 0 1 0a0.5 0.5 0 1 0 -1 0M229 265a0.5 0.5 0 1 0 1 0a0.5 0.5 0 1 0 -1 0M235.4 262.3a0.5 0.5 0 1 0 1 0a0.5 0.5 0 1 0 -1 0M246.9 262.5h1v1h-1z" fill="#6a4524"/>
<path d="M222.8 265.4a0.5 0.5 0 1 0 1 0a0.5 0.5 0 1 0 -1 0M238.2 262.6a0.5 0.5 0 1 0 1 0a0.5 0.5 0 1 0 -1 0M212.8 268.1a0.5 0.5 0 1 0 1 0a0.5 0.5 0 1 0 -1 0M231.9 268.3h1v1h-1zM232.7 258.2a0.5 0.5 0 1 0 1 0a0.5 0.5 0 1 0 -1 0M213.2 267.8a0.5 0.5 0 1 0 1 0a0.5 0.5 0 1 0 -1 0M229.1 263.7a0.5 0.5 0 1 0 1 0a0.5 0.5 0 1 0 -1 0M219.9 263.1h1v1h-1zM220.9 263.7a0.5 0.5 0 1 0 1 0a0.5 0.5 0 1 0 -1 0M230.3 260.4h1v1h-1z" fill="#5a4a22"/>
<path d="M237.7 262.4l0.7 0.7l-0.7 0.7l-0.7 -0.7zM228.2 265.2l0.7 0.7l-0.7 0.7l-0.7 -0.7zM217.8 261.1l0.7 1.3h-1.4zM218.2 265.1l0.7 1.3h-1.4zM213.7 267.6h1.2v1.2h-1.2zM228.6 263.9a0.6 0.6 0 1 0 1.3 0a0.6 0.6 0 1 0 -1.3 0M219.7 262.3l1.4 1.4m0 -1.4l-1.4 1.4M220.6 264.8a0.6 0.6 0 1 0 1.3 0a0.6 0.6 0 1 0 -1.3 0M228.6 267.5h1.2v1.2h-1.2zM219.4 263.5h1.2v1.2h-1.2zM237.4 262.1l0.7 0.7l-0.7 0.7l-0.7 -0.7zM227.8 266.5l1.4 1.4m0 -1.4l-1.4 1.4M242.5 260.6l0.7 1.3h-1.4zM220 265.3l1.4 1.4m0 -1.4l-1.4 1.4M226.9 260.1l0.7 0.7l-0.7 0.7l-0.7 -0.7zM225 266.8l0.7 0.7l-0.7 0.7l-0.7 -0.7zM224.4 263.8a0.6 0.6 0 1 0 1.3 0a0.6 0.6 0 1 0 -1.3 0M217 266.4l0.7 0.7l-0.7 0.7l-0.7 -0.7zM235.2 262a0.6 0.6 0 1 0 1.3 0a0.6 0.6 0 1 0 -1.3 0M259.2 260.5l1.4 1.4m0 -1.4l-1.4 1.4" fill="none" stroke="#5a4a22" stroke-width="0.45"/>
<path d="M229.4 262.6h1.4m-0.7 -0.7v1.4M239.6 262.2h1.4m-0.7 -0.7v1.4M213 261.1h1.4m-0.7 -0.7v1.4M224.5 268.7h1.4m-0.7 -0.7v1.4" fill="none" stroke="#5a4a22" stroke-width="0.59"/>
<path d="M244.3 258l0.7 1.3h-1.4zM228.6 261.4l0.7 0.7l-0.7 0.7l-0.7 -0.7zM242.1 262h1.2v1.2h-1.2zM234.1 262.6a0.6 0.6 0 1 0 1.3 0a0.6 0.6 0 1 0 -1.3 0M222.5 263.8l1.4 1.4m0 -1.4l-1.4 1.4M231.3 260l0.7 0.7l-0.7 0.7l-0.7 -0.7zM235.3 263.4h1.2v1.2h-1.2zM240.8 261.1l0.7 1.3h-1.4zM238.1 261.9l1.4 1.4m0 -1.4l-1.4 1.4M226.1 264.3l0.7 0.7l-0.7 0.7l-0.7 -0.7zM232.2 260.7a0.6 0.6 0 1 0 1.3 0a0.6 0.6 0 1 0 -1.3 0M226 263.4l0.7 0.7l-0.7 0.7l-0.7 -0.7zM238.3 264.3h1.2v1.2h-1.2zM228.4 265a0.6 0.6 0 1 0 1.3 0a0.6 0.6 0 1 0 -1.3 0M244.9 257.9l1.4 1.4m0 -1.4l-1.4 1.4M228.1 263.5l0.7 1.3h-1.4zM238.8 263.8a0.6 0.6 0 1 0 1.3 0a0.6 0.6 0 1 0 -1.3 0M211.9 264.8l1.4 1.4m0 -1.4l-1.4 1.4M230.9 265.7l0.7 1.3h-1.4zM230.5 261.7h1.2v1.2h-1.2zM234.5 264.7h1.2v1.2h-1.2zM232.7 263.4l1.4 1.4m0 -1.4l-1.4 1.4M239.1 264.3l0.7 1.3h-1.4zM228.1 265.4l1.4 1.4m0 -1.4l-1.4 1.4M244.7 260.6a0.6 0.6 0 1 0 1.3 0a0.6 0.6 0 1 0 -1.3 0M224.3 261.2h1.2v1.2h-1.2zM220.9 263.7l0.7 1.3h-1.4zM236.5 264.5a0.6 0.6 0 1 0 1.3 0a0.6 0.6 0 1 0 -1.3 0M277.8 253.6l1.4 1.4m0 -1.4l-1.4 1.4M277.4 253.3h1.2v1.2h-1.2z" fill="none" stroke="#245c38" stroke-width="0.45"/>
<path d="M220.5 262.3a0.5 0.5 0 1 0 1 0a0.5 0.5 0 1 0 -1 0M220.8 260.8h1v1h-1zM219.1 268.9a0.5 0.5 0 1 0 1 0a0.5 0.5 0 1 0 -1 0M238.2 260.3a0.5 0.5 0 1 0 1 0a0.5 0.5 0 1 0 -1 0M236.4 260.1h1v1h-1zM224.4 263.1h1v1h-1zM237 262.7h1v1h-1zM240.6 262.2h1v1h-1zM240.9 261.5a0.5 0.5 0 1 0 1 0a0.5 0.5 0 1 0 -1 0M215.7 267.9h1v1h-1zM225.6 263.3a0.5 0.5 0 1 0 1 0a0.5 0.5 0 1 0 -1 0M223.1 263.5h1v1h-1z" fill="#245c38"/>
<path d="M237 260.6h1.4m-0.7 -0.7v1.4M217.6 265.6h1.4m-0.7 -0.7v1.4" fill="none" stroke="#245c38" stroke-width="0.59"/>
<path d="M233.4 258.4h1.4m-0.7 -0.7v1.4M242.2 262.8h1.4m-0.7 -0.7v1.4M218.2 264.4h1.4m-0.7 -0.7v1.4M228.6 264.9h1.4m-0.7 -0.7v1.4M216.2 266.3h1.4m-0.7 -0.7v1.4M233.5 265.2h1.4m-0.7 -0.7v1.4M213.3 264.8h1.4m-0.7 -0.7v1.4M225.1 266.9h1.4m-0.7 -0.7v1.4M231.8 262.5h1.4m-0.7 -0.7v1.4" fill="none" stroke="#2e3288" stroke-width="0.59"/>
<path d="M247.6 259.8l0.7 1.3h-1.4zM225.9 265.8l0.7 1.3h-1.4zM237.8 260.1a0.6 0.6 0 1 0 1.3 0a0.6 0.6 0 1 0 -1.3 0M225.3 261.1h1.2v1.2h-1.2zM226.2 261.2l0.7 1.3h-1.4zM240.6 262.3h1.2v1.2h-1.2zM228 261.4l0.7 0.7l-0.7 0.7l-0.7 -0.7zM234.3 264.3l1.4 1.4m0 -1.4l-1.4 1.4M227.4 260.8h1.2v1.2h-1.2zM218.2 266.4l1.4 1.4m0 -1.4l-1.4 1.4M229.5 261.8l0.7 0.7l-0.7 0.7l-0.7 -0.7zM226.9 257.7l0.7 0.7l-0.7 0.7l-0.7 -0.7zM212.5 267.4a0.6 0.6 0 1 0 1.3 0a0.6 0.6 0 1 0 -1.3 0M236.6 262.3l0.7 0.7l-0.7 0.7l-0.7 -0.7zM222 264.2a0.6 0.6 0 1 0 1.3 0a0.6 0.6 0 1 0 -1.3 0M229.5 263.1l0.7 0.7l-0.7 0.7l-0.7 -0.7zM213 264.9l0.7 0.7l-0.7 0.7l-0.7 -0.7zM239.8 262h1.2v1.2h-1.2zM223.3 263.7a0.6 0.6 0 1 0 1.3 0a0.6 0.6 0 1 0 -1.3 0M232.3 267.4l0.7 0.7l-0.7 0.7l-0.7 -0.7zM226.7 266.8h1.2v1.2h-1.2zM232.8 260h1.2v1.2h-1.2zM225.2 261.4h1.2v1.2h-1.2zM233.3 265.6a0.6 0.6 0 1 0 1.3 0a0.6 0.6 0 1 0 -1.3 0M233.5 263.7l0.7 0.7l-0.7 0.7l-0.7 -0.7zM226.4 263h1.2v1.2h-1.2zM224.9 266.4a0.6 0.6 0 1 0 1.3 0a0.6 0.6 0 1 0 -1.3 0M236.6 265.7h1.2v1.2h-1.2zM225.2 266.1l0.7 1.3h-1.4zM239.1 260.9l0.7 1.3h-1.4zM225.4 263l1.4 1.4m0 -1.4l-1.4 1.4M224.3 262.4l1.4 1.4m0 -1.4l-1.4 1.4M245.2 264.2a0.6 0.6 0 1 0 1.3 0a0.6 0.6 0 1 0 -1.3 0M228.5 262l1.4 1.4m0 -1.4l-1.4 1.4M221.4 260.9h1.2v1.2h-1.2zM215.3 264.3l1.4 1.4m0 -1.4l-1.4 1.4M229.8 264.6a0.6 0.6 0 1 0 1.3 0a0.6 0.6 0 1 0 -1.3 0M225.5 265.4l0.7 1.3h-1.4zM222.7 263.8h1.2v1.2h-1.2zM234.2 263.2l0.7 0.7l-0.7 0.7l-0.7 -0.7zM216.5 265.7a0.6 0.6 0 1 0 1.3 0a0.6 0.6 0 1 0 -1.3 0M213.1 266l0.7 0.7l-0.7 0.7l-0.7 -0.7zM223.4 265l1.4 1.4m0 -1.4l-1.4 1.4M221.2 263.9l0.7 0.7l-0.7 0.7l-0.7 -0.7zM264.4 260.4l0.7 0.7l-0.7 0.7l-0.7 -0.7zM255.2 257.1l1.4 1.4m0 -1.4l-1.4 1.4" fill="none" stroke="#2e3288" stroke-width="0.45"/>
<path d="M223.4 261.8h1v1h-1zM244.1 263a0.5 0.5 0 1 0 1 0a0.5 0.5 0 1 0 -1 0M225.4 263.5a0.5 0.5 0 1 0 1 0a0.5 0.5 0 1 0 -1 0M231.5 263.3a0.5 0.5 0 1 0 1 0a0.5 0.5 0 1 0 -1 0M243.5 262.2a0.5 0.5 0 1 0 1 0a0.5 0.5 0 1 0 -1 0M234.7 263.2a0.5 0.5 0 1 0 1 0a0.5 0.5 0 1 0 -1 0M220.3 267.1a0.5 0.5 0 1 0 1 0a0.5 0.5 0 1 0 -1 0M214.5 264.4h1v1h-1zM234.9 264.8a0.5 0.5 0 1 0 1 0a0.5 0.5 0 1 0 -1 0M218.8 268.6a0.5 0.5 0 1 0 1 0a0.5 0.5 0 1 0 -1 0M229.6 266.1a0.5 0.5 0 1 0 1 0a0.5 0.5 0 1 0 -1 0M218.7 266a0.5 0.5 0 1 0 1 0a0.5 0.5 0 1 0 -1 0M222.6 264.3a0.5 0.5 0 1 0 1 0a0.5 0.5 0 1 0 -1 0M231.6 261.6h1v1h-1zM220.6 263.4h1v1h-1zM232.3 263a0.5 0.5 0 1 0 1 0a0.5 0.5 0 1 0 -1 0M250.9 261.2h1v1h-1z" fill="#2e3288"/>
<path d="M407.5 94.3l1.4 1.4m0 -1.4l-1.4 1.4M412.1 88.2l0.7 0.7l-0.7 0.7l-0.7 -0.7zM416.2 85.7l0.7 1.3h-1.4zM393.8 96.4h1.2v1.2h-1.2zM384.7 102.2h1.2v1.2h-1.2zM394.1 96.3a0.6 0.6 0 1 0 1.3 0a0.6 0.6 0 1 0 -1.3 0M398.4 94.9l0.7 0.7l-0.7 0.7l-0.7 -0.7zM417.8 79.3l1.4 1.4m0 -1.4l-1.4 1.4M394.3 99.1l0.7 0.7l-0.7 0.7l-0.7 -0.7zM401.7 88.2l0.7 1.3h-1.4zM411.1 86.4l0.7 1.3h-1.4zM397.5 92h1.2v1.2h-1.2zM403.4 90.4l0.7 1.3h-1.4zM395.9 96.4l1.4 1.4m0 -1.4l-1.4 1.4M399.4 93.3l1.4 1.4m0 -1.4l-1.4 1.4M403.6 92.5h1.2v1.2h-1.2zM390.2 98.5l0.7 1.3h-1.4zM391.2 98.1h1.2v1.2h-1.2zM389.7 97.9l0.7 1.3h-1.4zM399.4 95.1l0.7 0.7l-0.7 0.7l-0.7 -0.7zM392.9 100.6h1.2v1.2h-1.2zM386.2 100.2l1.4 1.4m0 -1.4l-1.4 1.4M414 95.1l0.7 1.3h-1.4z" fill="none" stroke="#e8b420" stroke-width="0.45"/>
<path d="M409.9 90.4a0.5 0.5 0 1 0 1 0a0.5 0.5 0 1 0 -1 0M393.8 95.6a0.5 0.5 0 1 0 1 0a0.5 0.5 0 1 0 -1 0M399.5 96.6a0.5 0.5 0 1 0 1 0a0.5 0.5 0 1 0 -1 0M408.5 89.8a0.5 0.5 0 1 0 1 0a0.5 0.5 0 1 0 -1 0M390.9 96.6h1v1h-1zM402.4 91.4a0.5 0.5 0 1 0 1 0a0.5 0.5 0 1 0 -1 0M414.4 89.2a0.5 0.5 0 1 0 1 0a0.5 0.5 0 1 0 -1 0M393.7 96a0.5 0.5 0 1 0 1 0a0.5 0.5 0 1 0 -1 0M403.1 94.8h1v1h-1zM411.5 89.6h1v1h-1zM429.3 74.5h1v1h-1z" fill="#e8b420"/>
<path d="M404.6 90.1h1.4m-0.7 -0.7v1.4M394.3 98.9h1.4m-0.7 -0.7v1.4M386.5 100.4h1.4m-0.7 -0.7v1.4M408.6 87.9h1.4m-0.7 -0.7v1.4M426.1 85.1h1.4m-0.7 -0.7v1.4" fill="none" stroke="#e8b420" stroke-width="0.59"/>
<path d="M399.1 91.6l0.7 1.3h-1.4zM418.1 85.6l0.7 1.3h-1.4zM410.7 84l1.4 1.4m0 -1.4l-1.4 1.4M402.5 90.3l0.7 1.3h-1.4zM395.2 96.4h1.2v1.2h-1.2zM404.7 91.7a0.6 0.6 0 1 0 1.3 0a0.6 0.6 0 1 0 -1.3 0M405.9 90.8l0.7 0.7l-0.7 0.7l-0.7 -0.7zM412.3 89.6h1.2v1.2h-1.2zM392.9 98.4a0.6 0.6 0 1 0 1.3 0a0.6 0.6 0 1 0 -1.3 0M386 99.9h1.2v1.2h-1.2zM418.3 82.5l1.4 1.4m0 -1.4l-1.4 1.4M406.8 88.1l1.4 1.4m0 -1.4l-1.4 1.4M408.8 91.2h1.2v1.2h-1.2zM400.5 94.8l1.4 1.4m0 -1.4l-1.4 1.4M397.6 91.8l0.7 0.7l-0.7 0.7l-0.7 -0.7zM389 99.3a0.6 0.6 0 1 0 1.3 0a0.6 0.6 0 1 0 -1.3 0M414.7 92l1.4 1.4m0 -1.4l-1.4 1.4M387.3 103.4l0.7 1.3h-1.4zM393.9 97.7l0.7 1.3h-1.4zM391.5 98.2a0.6 0.6 0 1 0 1.3 0a0.6 0.6 0 1 0 -1.3 0M413.8 83.9l0.7 1.3h-1.4zM415.5 81l1.4 1.4m0 -1.4l-1.4 1.4M410.5 82.7l1.4 1.4m0 -1.4l-1.4 1.4M416.2 83.2l0.7 1.3h-1.4zM385 100.3l1.4 1.4m0 -1.4l-1.4 1.4M450.6 62.3h1.2v1.2h-1.2z" fill="none" stroke="#e27a1c" stroke-width="0.45"/>
<path d="M392 98.8h1v1h-1zM410.5 89.1a0.5 0.5 0 1 0 1 0a0.5 0.5 0 1 0 -1 0M390.1 100.8a0.5 0.5 0 1 0 1 0a0.5 0.5 0 1 0 -1 0M400.2 95.8h1v1h-1zM388.7 99.3a0.5 0.5 0 1 0 1 0a0.5 0.5 0 1 0 -1 0M396.1 100.2a0.5 0.5 0 1 0 1 0a0.5 0.5 0 1 0 -1 0M398.1 96.3a0.5 0.5 0 1 0 1 0a0.5 0.5 0 1 0 -1 0M406.9 88.8h1v1h-1zM399.8 96.6a0.5 0.5 0 1 0 1 0a0.5 0.5 0 1 0 -1 0M398.3 93.4a0.5 0.5 0 1 0 1 0a0.5 0.5 0 1 0 -1 0M410 90.2a0.5 0.5 0 1 0 1 0a0.5 0.5 0 1 0 -1 0M389.3 102.6a0.5 0.5 0 1 0 1 0a0.5 0.5 0 1 0 -1 0M402.3 93.5a0.5 0.5 0 1 0 1 0a0.5 0.5 0 1 0 -1 0" fill="#e27a1c"/>
<path d="M401 90.5h1.4m-0.7 -0.7v1.4M408.6 82.4h1.4m-0.7 -0.7v1.4M389.6 99.9h1.4m-0.7 -0.7v1.4" fill="none" stroke="#e27a1c" stroke-width="0.59"/>
<path d="M400.4 89.8h1.4m-0.7 -0.7v1.4M406.3 91.3h1.4m-0.7 -0.7v1.4M402.1 90.4h1.4m-0.7 -0.7v1.4M412 81.8h1.4m-0.7 -0.7v1.4M405.9 90.9h1.4m-0.7 -0.7v1.4M401.3 94.1h1.4m-0.7 -0.7v1.4M394.2 103.8h1.4m-0.7 -0.7v1.4M406.3 89.8h1.4m-0.7 -0.7v1.4M409.5 91.3h1.4m-0.7 -0.7v1.4M411.5 91h1.4m-0.7 -0.7v1.4" fill="none" stroke="#3d7cc8" stroke-width="0.59"/>
<path d="M407.9 91.9h1v1h-1zM404 91.7h1v1h-1zM395.7 98.3h1v1h-1zM400.1 91.9h1v1h-1zM389.7 101.3a0.5 0.5 0 1 0 1 0a0.5 0.5 0 1 0 -1 0M405.6 87.3a0.5 0.5 0 1 0 1 0a0.5 0.5 0 1 0 -1 0M413.3 85.1a0.5 0.5 0 1 0 1 0a0.5 0.5 0 1 0 -1 0M394.1 95.8a0.5 0.5 0 1 0 1 0a0.5 0.5 0 1 0 -1 0M387.2 98.2a0.5 0.5 0 1 0 1 0a0.5 0.5 0 1 0 -1 0M445.6 69.7h1v1h-1z" fill="#3d7cc8"/>
<path d="M397.4 97.9l0.7 1.3h-1.4zM406.6 87.3h1.2v1.2h-1.2zM417.9 76.8l1.4 1.4m0 -1.4l-1.4 1.4M393.1 96a0.6 0.6 0 1 0 1.3 0a0.6 0.6 0 1 0 -1.3 0M409.8 87.4l0.7 0.7l-0.7 0.7l-0.7 -0.7zM401.5 91.4a0.6 0.6 0 1 0 1.3 0a0.6 0.6 0 1 0 -1.3 0M387.9 103.5l0.7 0.7l-0.7 0.7l-0.7 -0.7zM403.7 95.4a0.6 0.6 0 1 0 1.3 0a0.6 0.6 0 1 0 -1.3 0M399.3 94.5l1.4 1.4m0 -1.4l-1.4 1.4M403.5 88.9l0.7 0.7l-0.7 0.7l-0.7 -0.7zM391.3 97.4h1.2v1.2h-1.2zM400.5 94.6l1.4 1.4m0 -1.4l-1.4 1.4M387.6 99.4l1.4 1.4m0 -1.4l-1.4 1.4M396.3 98.2l0.7 0.7l-0.7 0.7l-0.7 -0.7zM398.1 94.3l1.4 1.4m0 -1.4l-1.4 1.4M397 99.5a0.6 0.6 0 1 0 1.3 0a0.6 0.6 0 1 0 -1.3 0M398.6 96.7l0.7 0.7l-0.7 0.7l-0.7 -0.7zM391 97.9l0.7 0.7l-0.7 0.7l-0.7 -0.7zM400.7 96.8l1.4 1.4m0 -1.4l-1.4 1.4M393.2 98.2l0.7 0.7l-0.7 0.7l-0.7 -0.7zM384.6 103.5l1.4 1.4m0 -1.4l-1.4 1.4M398.1 93.3l1.4 1.4m0 -1.4l-1.4 1.4M415.7 88.5l1.4 1.4m0 -1.4l-1.4 1.4M404.1 88.2l0.7 0.7l-0.7 0.7l-0.7 -0.7zM391.1 94.4l0.7 0.7l-0.7 0.7l-0.7 -0.7zM400.5 94.6h1.2v1.2h-1.2zM397.5 89.6l0.7 1.3h-1.4zM396.6 91.3l1.4 1.4m0 -1.4l-1.4 1.4M404.2 91.1l0.7 0.7l-0.7 0.7l-0.7 -0.7zM431.4 73.5l1.4 1.4m0 -1.4l-1.4 1.4M438 67.9l0.7 0.7l-0.7 0.7l-0.7 -0.7zM508.4 21.8l1.4 1.4m0 -1.4l-1.4 1.4" fill="none" stroke="#3d7cc8" stroke-width="0.45"/>
<path d="M409.2 93.3l0.7 0.7l-0.7 0.7l-0.7 -0.7zM406.8 91.7l1.4 1.4m0 -1.4l-1.4 1.4M410.7 90.7l0.7 1.3h-1.4zM406.3 90.3a0.6 0.6 0 1 0 1.3 0a0.6 0.6 0 1 0 -1.3 0M393.9 95.1h1.2v1.2h-1.2zM395.3 99.2l0.7 1.3h-1.4zM407.6 89.5l1.4 1.4m0 -1.4l-1.4 1.4M402.7 87.4l1.4 1.4m0 -1.4l-1.4 1.4M386.4 100.3l0.7 0.7l-0.7 0.7l-0.7 -0.7zM401.4 90l0.7 1.3h-1.4zM395.5 96.1l1.4 1.4m0 -1.4l-1.4 1.4M407.1 90.7a0.6 0.6 0 1 0 1.3 0a0.6 0.6 0 1 0 -1.3 0M404.3 86.8a0.6 0.6 0 1 0 1.3 0a0.6 0.6 0 1 0 -1.3 0M401.5 90.4l1.4 1.4m0 -1.4l-1.4 1.4M399.5 93.2l1.4 1.4m0 -1.4l-1.4 1.4M398.9 98.9a0.6 0.6 0 1 0 1.3 0a0.6 0.6 0 1 0 -1.3 0M401 97.2a0.6 0.6 0 1 0 1.3 0a0.6 0.6 0 1 0 -1.3 0M390.5 97.8l0.7 1.3h-1.4zM400.3 90.3l0.7 0.7l-0.7 0.7l-0.7 -0.7zM389.7 95.6l0.7 0.7l-0.7 0.7l-0.7 -0.7zM394.4 98.9h1.2v1.2h-1.2zM402.3 91.5h1.2v1.2h-1.2zM406.2 90.7a0.6 0.6 0 1 0 1.3 0a0.6 0.6 0 1 0 -1.3 0M416.1 72.7l0.7 0.7l-0.7 0.7l-0.7 -0.7zM399.6 91.6a0.6 0.6 0 1 0 1.3 0a0.6 0.6 0 1 0 -1.3 0M400.2 97.5h1.2v1.2h-1.2zM406.3 93.5l0.7 1.3h-1.4zM399.9 92.8a0.6 0.6 0 1 0 1.3 0a0.6 0.6 0 1 0 -1.3 0M398.8 92.4h1.2v1.2h-1.2zM406.2 91.2h1.2v1.2h-1.2zM412.2 89.8l0.7 0.7l-0.7 0.7l-0.7 -0.7z" fill="none" stroke="#2f9a45" stroke-width="0.45"/>
<path d="M400.8 90.5a0.5 0.5 0 1 0 1 0a0.5 0.5 0 1 0 -1 0M410.8 82.8a0.5 0.5 0 1 0 1 0a0.5 0.5 0 1 0 -1 0M397.2 94.7h1v1h-1zM418.2 82.9h1v1h-1zM389 96.8a0.5 0.5 0 1 0 1 0a0.5 0.5 0 1 0 -1 0M397.5 99.4h1v1h-1zM405.8 86.2a0.5 0.5 0 1 0 1 0a0.5 0.5 0 1 0 -1 0M402.5 96.1h1v1h-1zM410.4 90.5a0.5 0.5 0 1 0 1 0a0.5 0.5 0 1 0 -1 0M403.4 93.3a0.5 0.5 0 1 0 1 0a0.5 0.5 0 1 0 -1 0M396.3 93.9a0.5 0.5 0 1 0 1 0a0.5 0.5 0 1 0 -1 0M399.2 91.9h1v1h-1zM395.9 96.8a0.5 0.5 0 1 0 1 0a0.5 0.5 0 1 0 -1 0M401.7 91.6h1v1h-1zM405.8 91.3h1v1h-1z" fill="#2f9a45"/>
<path d="M406.9 84.6h1.4m-0.7 -0.7v1.4M386.4 101.9h1.4m-0.7 -0.7v1.4M402.9 60.8h1.4m-0.7 -0.7v1.4M396.6 72.7h1.4m-0.7 -0.7v1.4" fill="none" stroke="#2f9a45" stroke-width="0.59"/>
<path d="M393.8 95.5a0.5 0.5 0 1 0 1 0a0.5 0.5 0 1 0 -1 0M408.6 86h1v1h-1zM409.1 89.8a0.5 0.5 0 1 0 1 0a0.5 0.5 0 1 0 -1 0M391 97.9a0.5 0.5 0 1 0 1 0a0.5 0.5 0 1 0 -1 0M403.3 89.2a0.5 0.5 0 1 0 1 0a0.5 0.5 0 1 0 -1 0M385 101.7h1v1h-1zM390.3 95.5a0.5 0.5 0 1 0 1 0a0.5 0.5 0 1 0 -1 0M407.4 87.1a0.5 0.5 0 1 0 1 0a0.5 0.5 0 1 0 -1 0M407.8 91.7a0.5 0.5 0 1 0 1 0a0.5 0.5 0 1 0 -1 0M401.1 95.4h1v1h-1zM393 100.8h1v1h-1zM399.6 97.4h1v1h-1zM430.8 74.6a0.5 0.5 0 1 0 1 0a0.5 0.5 0 1 0 -1 0" fill="#6d7a25"/>
<path d="M413.9 82.8h1.2v1.2h-1.2zM413.5 87.8a0.6 0.6 0 1 0 1.3 0a0.6 0.6 0 1 0 -1.3 0M401.3 93.8h1.2v1.2h-1.2zM414.9 81.2h1.2v1.2h-1.2zM403 91.8a0.6 0.6 0 1 0 1.3 0a0.6 0.6 0 1 0 -1.3 0M389.3 98.8l0.7 0.7l-0.7 0.7l-0.7 -0.7zM392.3 93.9l0.7 0.7l-0.7 0.7l-0.7 -0.7zM397.1 92.5l0.7 1.3h-1.4zM407.9 92.6a0.6 0.6 0 1 0 1.3 0a0.6 0.6 0 1 0 -1.3 0M396.8 96.7l0.7 0.7l-0.7 0.7l-0.7 -0.7zM401.3 96.6l0.7 1.3h-1.4zM412.2 85.2l1.4 1.4m0 -1.4l-1.4 1.4M401.1 88.2h1.2v1.2h-1.2zM398.2 98.2h1.2v1.2h-1.2zM414.6 80.3a0.6 0.6 0 1 0 1.3 0a0.6 0.6 0 1 0 -1.3 0M398.1 96.6l0.7 1.3h-1.4zM396.7 93.6l1.4 1.4m0 -1.4l-1.4 1.4M397.4 93.5l1.4 1.4m0 -1.4l-1.4 1.4M394.2 101.4l0.7 0.7l-0.7 0.7l-0.7 -0.7zM403.6 85.7l0.7 1.3h-1.4zM412 85.5l0.7 1.3h-1.4zM404.8 85.5l0.7 1.3h-1.4zM396.7 95.7l0.7 0.7l-0.7 0.7l-0.7 -0.7zM399.9 74.4a0.6 0.6 0 1 0 1.3 0a0.6 0.6 0 1 0 -1.3 0" fill="none" stroke="#6d7a25" stroke-width="0.45"/>
<path d="M402.5 94.8h1.4m-0.7 -0.7v1.4M393.1 98.8h1.4m-0.7 -0.7v1.4M409.3 90.3h1.4m-0.7 -0.7v1.4M410.5 89.7h1.4m-0.7 -0.7v1.4M418.3 88.1h1.4m-0.7 -0.7v1.4M432.3 72.9h1.4m-0.7 -0.7v1.4" fill="none" stroke="#6d7a25" stroke-width="0.59"/>
<path d="M399.9 94.2h1.4m-0.7 -0.7v1.4M402.8 94.3h1.4m-0.7 -0.7v1.4M402.1 92.4h1.4m-0.7 -0.7v1.4M385.1 98.9h1.4m-0.7 -0.7v1.4M421.8 86.8h1.4m-0.7 -0.7v1.4M405.2 92.5h1.4m-0.7 -0.7v1.4M397.1 93.3h1.4m-0.7 -0.7v1.4M400.9 99.8h1.4m-0.7 -0.7v1.4M394.9 96.4h1.4m-0.7 -0.7v1.4M400.9 97.4h1.4m-0.7 -0.7v1.4M402.7 96.2h1.4m-0.7 -0.7v1.4M392 97.5h1.4m-0.7 -0.7v1.4M412.5 88.5h1.4m-0.7 -0.7v1.4" fill="none" stroke="#6d58b8" stroke-width="0.59"/>
<path d="M390.6 101l0.7 0.7l-0.7 0.7l-0.7 -0.7zM416.4 83l0.7 0.7l-0.7 0.7l-0.7 -0.7zM388.7 100.5h1.2v1.2h-1.2zM416.3 81.2l0.7 1.3h-1.4zM394.9 95.9a0.6 0.6 0 1 0 1.3 0a0.6 0.6 0 1 0 -1.3 0M402.6 94.9l1.4 1.4m0 -1.4l-1.4 1.4M406.7 93.2l1.4 1.4m0 -1.4l-1.4 1.4M391.8 96l0.7 1.3h-1.4zM402 86.7l0.7 1.3h-1.4zM402.5 89.4l0.7 0.7l-0.7 0.7l-0.7 -0.7zM399.6 96.8l0.7 1.3h-1.4zM400.2 90.5l0.7 0.7l-0.7 0.7l-0.7 -0.7zM407.6 90.6l0.7 1.3h-1.4zM407.2 90.7a0.6 0.6 0 1 0 1.3 0a0.6 0.6 0 1 0 -1.3 0M403.5 91.3l0.7 0.7l-0.7 0.7l-0.7 -0.7zM394.5 97.4l0.7 1.3h-1.4zM399.9 96.3l1.4 1.4m0 -1.4l-1.4 1.4M406.2 92.8l1.4 1.4m0 -1.4l-1.4 1.4M415 89.2l0.7 1.3h-1.4zM402.7 94.6l0.7 0.7l-0.7 0.7l-0.7 -0.7zM403.1 89.4l1.4 1.4m0 -1.4l-1.4 1.4M405.5 87.8l0.7 0.7l-0.7 0.7l-0.7 -0.7zM419 80.9l1.4 1.4m0 -1.4l-1.4 1.4M414.8 88.2l0.7 1.3h-1.4zM404.7 88.2l0.7 1.3h-1.4zM399.8 92.5l0.7 0.7l-0.7 0.7l-0.7 -0.7zM403.4 95.2l1.4 1.4m0 -1.4l-1.4 1.4M403.5 101a0.6 0.6 0 1 0 1.3 0a0.6 0.6 0 1 0 -1.3 0M397.7 90.5l0.7 0.7l-0.7 0.7l-0.7 -0.7zM413.8 88.6l0.7 1.3h-1.4zM409.3 90.3l0.7 1.3h-1.4zM411.6 95.3l0.7 0.7l-0.7 0.7l-0.7 -0.7zM410.1 86.6l0.7 0.7l-0.7 0.7l-0.7 -0.7zM407.8 88.8h1.2v1.2h-1.2zM400.2 94.9h1.2v1.2h-1.2zM408.6 91.1l0.7 0.7l-0.7 0.7l-0.7 -0.7zM395.7 96.7a0.6 0.6 0 1 0 1.3 0a0.6 0.6 0 1 0 -1.3 0M395.7 96.2a0.6 0.6 0 1 0 1.3 0a0.6 0.6 0 1 0 -1.3 0M411.7 94.9a0.6 0.6 0 1 0 1.3 0a0.6 0.6 0 1 0 -1.3 0M416.7 83.4h1.2v1.2h-1.2zM402.7 91.2l1.4 1.4m0 -1.4l-1.4 1.4M400.9 90.7l1.4 1.4m0 -1.4l-1.4 1.4M399.8 95.5a0.6 0.6 0 1 0 1.3 0a0.6 0.6 0 1 0 -1.3 0M397.4 96.1l1.4 1.4m0 -1.4l-1.4 1.4M396.7 95.9l1.4 1.4m0 -1.4l-1.4 1.4M399.9 95.6l0.7 1.3h-1.4zM400.4 93.9h1.2v1.2h-1.2zM394.4 98.2l0.7 1.3h-1.4zM403.4 94l0.7 1.3h-1.4zM403.6 91l0.7 1.3h-1.4zM420.4 77.9a0.6 0.6 0 1 0 1.3 0a0.6 0.6 0 1 0 -1.3 0M426.5 83.7h1.2v1.2h-1.2zM471.6 46.5a0.6 0.6 0 1 0 1.3 0a0.6 0.6 0 1 0 -1.3 0M410 71.5h1.2v1.2h-1.2zM388.6 78.4h1.2v1.2h-1.2zM393.8 76.6l0.7 1.3h-1.4zM425.6 69.5l0.7 0.7l-0.7 0.7l-0.7 -0.7zM436.4 77.5a0.6 0.6 0 1 0 1.3 0a0.6 0.6 0 1 0 -1.3 0" fill="none" stroke="#6d58b8" stroke-width="0.45"/>
<path d="M405.4 93.1a0.5 0.5 0 1 0 1 0a0.5 0.5 0 1 0 -1 0M413 86.9a0.5 0.5 0 1 0 1 0a0.5 0.5 0 1 0 -1 0M413.5 77.4a0.5 0.5 0 1 0 1 0a0.5 0.5 0 1 0 -1 0M413.8 82.9h1v1h-1zM408.6 90.3a0.5 0.5 0 1 0 1 0a0.5 0.5 0 1 0 -1 0M409.8 84.9h1v1h-1zM400.7 92.3a0.5 0.5 0 1 0 1 0a0.5 0.5 0 1 0 -1 0M398.2 97.9h1v1h-1zM407.5 92.1h1v1h-1zM409.4 86.3h1v1h-1zM418.2 91.5a0.5 0.5 0 1 0 1 0a0.5 0.5 0 1 0 -1 0M402.6 92.3a0.5 0.5 0 1 0 1 0a0.5 0.5 0 1 0 -1 0M406 88a0.5 0.5 0 1 0 1 0a0.5 0.5 0 1 0 -1 0M404.9 87.3h1v1h-1zM399.2 90.2a0.5 0.5 0 1 0 1 0a0.5 0.5 0 1 0 -1 0M389.9 100.4a0.5 0.5 0 1 0 1 0a0.5 0.5 0 1 0 -1 0M399.7 94.4h1v1h-1zM386.4 97h1v1h-1zM400.8 94.1h1v1h-1zM423.3 71h1v1h-1zM412.9 103.3a0.5 0.5 0 1 0 1 0a0.5 0.5 0 1 0 -1 0" fill="#6d58b8"/>
<path d="M405.3 88.7l1.4 1.4m0 -1.4l-1.4 1.4M401.8 92a0.6 0.6 0 1 0 1.3 0a0.6 0.6 0 1 0 -1.3 0M401.6 88a0.6 0.6 0 1 0 1.3 0a0.6 0.6 0 1 0 -1.3 0M385.5 103.5h1.2v1.2h-1.2zM387.1 98.4l0.7 1.3h-1.4zM409 87l0.7 1.3h-1.4zM386.2 103.8h1.2v1.2h-1.2zM392.7 91.8h1.2v1.2h-1.2zM403 85.3l0.7 1.3h-1.4zM399.7 89.3a0.6 0.6 0 1 0 1.3 0a0.6 0.6 0 1 0 -1.3 0M415.7 85.2l0.7 0.7l-0.7 0.7l-0.7 -0.7zM413.6 90.9l1.4 1.4m0 -1.4l-1.4 1.4M411.6 85.8l1.4 1.4m0 -1.4l-1.4 1.4M388.7 100.5a0.6 0.6 0 1 0 1.3 0a0.6 0.6 0 1 0 -1.3 0M403 90.8l1.4 1.4m0 -1.4l-1.4 1.4M397.1 96.7h1.2v1.2h-1.2zM411 86.3l0.7 1.3h-1.4zM416.6 89.1a0.6 0.6 0 1 0 1.3 0a0.6 0.6 0 1 0 -1.3 0M405.2 91.4l0.7 0.7l-0.7 0.7l-0.7 -0.7zM393.8 96.5h1.2v1.2h-1.2zM418.3 84l0.7 1.3h-1.4zM407.4 88.4l1.4 1.4m0 -1.4l-1.4 1.4M388.7 101.2l0.7 0.7l-0.7 0.7l-0.7 -0.7zM399.4 91.5l0.7 0.7l-0.7 0.7l-0.7 -0.7zM405.7 88.9h1.2v1.2h-1.2zM415.1 79.1l0.7 0.7l-0.7 0.7l-0.7 -0.7zM416.1 86.4h1.2v1.2h-1.2zM398.9 92l0.7 1.3h-1.4zM384.8 103.2l0.7 0.7l-0.7 0.7l-0.7 -0.7zM406.4 93.3h1.2v1.2h-1.2zM396.5 91.8h1.2v1.2h-1.2zM411.3 95.9a0.6 0.6 0 1 0 1.3 0a0.6 0.6 0 1 0 -1.3 0M453.7 50.1l0.7 0.7l-0.7 0.7l-0.7 -0.7zM404.2 101a0.6 0.6 0 1 0 1.3 0a0.6 0.6 0 1 0 -1.3 0" fill="none" stroke="#a5465c" stroke-width="0.45"/>
<path d="M398.9 93.4h1v1h-1zM413.9 84a0.5 0.5 0 1 0 1 0a0.5 0.5 0 1 0 -1 0M403.2 91.1h1v1h-1zM394.3 93.2a0.5 0.5 0 1 0 1 0a0.5 0.5 0 1 0 -1 0M407.6 92.1a0.5 0.5 0 1 0 1 0a0.5 0.5 0 1 0 -1 0M394.2 99.6h1v1h-1zM400.6 92.5a0.5 0.5 0 1 0 1 0a0.5 0.5 0 1 0 -1 0M392.8 93.2h1v1h-1zM404.5 91.6a0.5 0.5 0 1 0 1 0a0.5 0.5 0 1 0 -1 0M416.8 82.2a0.5 0.5 0 1 0 1 0a0.5 0.5 0 1 0 -1 0M399 96.3a0.5 0.5 0 1 0 1 0a0.5 0.5 0 1 0 -1 0" fill="#a5465c"/>
<path d="M397.6 89.7h1.4m-0.7 -0.7v1.4M396.4 94.8h1.4m-0.7 -0.7v1.4M407.6 94h1.4m-0.7 -0.7v1.4" fill="none" stroke="#a5465c" stroke-width="0.59"/>
<path d="M407.6 94.4h1v1h-1zM414.5 89.4h1v1h-1zM401.3 96.4h1v1h-1zM392 97.6a0.5 0.5 0 1 0 1 0a0.5 0.5 0 1 0 -1 0M395.9 104a0.5 0.5 0 1 0 1 0a0.5 0.5 0 1 0 -1 0M404.6 89.6a0.5 0.5 0 1 0 1 0a0.5 0.5 0 1 0 -1 0M401.9 94.7h1v1h-1zM387.6 102.6a0.5 0.5 0 1 0 1 0a0.5 0.5 0 1 0 -1 0M403.3 93.8h1v1h-1zM391 100.6a0.5 0.5 0 1 0 1 0a0.5 0.5 0 1 0 -1 0M410 84.7h1v1h-1z" fill="#c8302f"/>
<path d="M397.3 94.1h1.2v1.2h-1.2zM402.5 92.9l0.7 1.3h-1.4zM401.8 96.3h1.2v1.2h-1.2zM411.4 81.9l0.7 0.7l-0.7 0.7l-0.7 -0.7zM416.6 86.9h1.2v1.2h-1.2zM412.3 87.1a0.6 0.6 0 1 0 1.3 0a0.6 0.6 0 1 0 -1.3 0M390.8 95.5l1.4 1.4m0 -1.4l-1.4 1.4M395.4 97a0.6 0.6 0 1 0 1.3 0a0.6 0.6 0 1 0 -1.3 0M406.6 89.6l0.7 1.3h-1.4zM414.2 92.4l1.4 1.4m0 -1.4l-1.4 1.4M401.2 93.9l0.7 1.3h-1.4zM402.1 90.2l0.7 1.3h-1.4zM399.8 89.3l1.4 1.4m0 -1.4l-1.4 1.4M405.8 96.8h1.2v1.2h-1.2zM405.3 91.8l0.7 1.3h-1.4zM397.8 90.9l0.7 0.7l-0.7 0.7l-0.7 -0.7zM388.2 97.6l0.7 0.7l-0.7 0.7l-0.7 -0.7zM388.9 101.3l0.7 1.3h-1.4zM399.7 96a0.6 0.6 0 1 0 1.3 0a0.6 0.6 0 1 0 -1.3 0M411.1 85.9l0.7 0.7l-0.7 0.7l-0.7 -0.7zM388.5 101.9l0.7 0.7l-0.7 0.7l-0.7 -0.7zM400.4 93.6l0.7 0.7l-0.7 0.7l-0.7 -0.7zM415.8 81.6l0.7 0.7l-0.7 0.7l-0.7 -0.7zM403.8 91.5a0.6 0.6 0 1 0 1.3 0a0.6 0.6 0 1 0 -1.3 0M413.9 86.2h1.2v1.2h-1.2zM393.4 97.8a0.6 0.6 0 1 0 1.3 0a0.6 0.6 0 1 0 -1.3 0M403.8 94.8h1.2v1.2h-1.2zM404.8 92.2l0.7 1.3h-1.4zM403.8 92.2l0.7 0.7l-0.7 0.7l-0.7 -0.7zM409.6 87.6l1.4 1.4m0 -1.4l-1.4 1.4M399.4 93.6h1.2v1.2h-1.2zM406.1 92.9a0.6 0.6 0 1 0 1.3 0a0.6 0.6 0 1 0 -1.3 0M387.3 99.1l0.7 1.3h-1.4zM441.4 68.4h1.2v1.2h-1.2zM442.6 62.2l0.7 0.7l-0.7 0.7l-0.7 -0.7zM403.6 73.7l0.7 1.3h-1.4zM432 78.8l0.7 1.3h-1.4z" fill="none" stroke="#c8302f" stroke-width="0.45"/>
<path d="M399.3 93.1h1.4m-0.7 -0.7v1.4M405.5 92.6h1.4m-0.7 -0.7v1.4M396.5 95.8h1.4m-0.7 -0.7v1.4" fill="none" stroke="#c8302f" stroke-width="0.59"/>
<path d="M409.3 86.2h1.4m-0.7 -0.7v1.4M405.2 90.4h1.4m-0.7 -0.7v1.4M390 97.1h1.4m-0.7 -0.7v1.4M403.2 93.8h1.4m-0.7 -0.7v1.4M400 89.1h1.4m-0.7 -0.7v1.4M403.5 90.1h1.4m-0.7 -0.7v1.4M398.1 91.4h1.4m-0.7 -0.7v1.4" fill="none" stroke="#6a4524" stroke-width="0.59"/>
<path d="M403.5 88.2l1.4 1.4m0 -1.4l-1.4 1.4M408.1 85.8a0.6 0.6 0 1 0 1.3 0a0.6 0.6 0 1 0 -1.3 0M401 89.4l1.4 1.4m0 -1.4l-1.4 1.4M417.6 90.2l0.7 0.7l-0.7 0.7l-0.7 -0.7zM388 99.7l0.7 1.3h-1.4zM402.5 90.2l1.4 1.4m0 -1.4l-1.4 1.4M390.5 99.9h1.2v1.2h-1.2zM409.8 87.9a0.6 0.6 0 1 0 1.3 0a0.6 0.6 0 1 0 -1.3 0M405 90.2h1.2v1.2h-1.2zM410.9 88.6l0.7 0.7l-0.7 0.7l-0.7 -0.7zM398.8 92.1l1.4 1.4m0 -1.4l-1.4 1.4M405 84.5l0.7 1.3h-1.4zM409.9 87.5l1.4 1.4m0 -1.4l-1.4 1.4M400.9 94.1l0.7 1.3h-1.4zM398.9 93.1a0.6 0.6 0 1 0 1.3 0a0.6 0.6 0 1 0 -1.3 0M397.6 96l0.7 1.3h-1.4zM408.5 89.6l0.7 1.3h-1.4zM396.8 96.7l0.7 0.7l-0.7 0.7l-0.7 -0.7zM408.2 93l0.7 0.7l-0.7 0.7l-0.7 -0.7zM400 92.8l1.4 1.4m0 -1.4l-1.4 1.4M417.5 82.3l0.7 0.7l-0.7 0.7l-0.7 -0.7zM419.8 77.1l0.7 0.7l-0.7 0.7l-0.7 -0.7zM387.1 101.2l0.7 0.7l-0.7 0.7l-0.7 -0.7zM398.5 96.7a0.6 0.6 0 1 0 1.3 0a0.6 0.6 0 1 0 -1.3 0M403.4 89.1h1.2v1.2h-1.2zM401.7 89.9h1.2v1.2h-1.2zM412.5 93.4a0.6 0.6 0 1 0 1.3 0a0.6 0.6 0 1 0 -1.3 0M399.6 93.5a0.6 0.6 0 1 0 1.3 0a0.6 0.6 0 1 0 -1.3 0M403.1 88h1.2v1.2h-1.2zM404.9 95.5a0.6 0.6 0 1 0 1.3 0a0.6 0.6 0 1 0 -1.3 0M427.3 76.1h1.2v1.2h-1.2z" fill="none" stroke="#6a4524" stroke-width="0.45"/>
<path d="M408 89a0.5 0.5 0 1 0 1 0a0.5 0.5 0 1 0 -1 0M405 91.9a0.5 0.5 0 1 0 1 0a0.5 0.5 0 1 0 -1 0M401.9 91.2h1v1h-1zM401.1 93.3h1v1h-1zM396.9 98.7h1v1h-1zM398.3 93.9h1v1h-1zM412.5 85.6a0.5 0.5 0 1 0 1 0a0.5 0.5 0 1 0 -1 0M398.1 94.3a0.5 0.5 0 1 0 1 0a0.5 0.5 0 1 0 -1 0M395.9 94.1h1v1h-1zM392.4 98.3a0.5 0.5 0 1 0 1 0a0.5 0.5 0 1 0 -1 0M410.8 84.1a0.5 0.5 0 1 0 1 0a0.5 0.5 0 1 0 -1 0M399 92.4a0.5 0.5 0 1 0 1 0a0.5 0.5 0 1 0 -1 0M403.7 87.7h1v1h-1zM403.2 95.9h1v1h-1zM409.5 68.2h1v1h-1z" fill="#6a4524"/>
<path d="M406.9 89.7l0.7 1.3h-1.4zM404.1 91.5l0.7 0.7l-0.7 0.7l-0.7 -0.7zM398.6 98.2a0.6 0.6 0 1 0 1.3 0a0.6 0.6 0 1 0 -1.3 0M390.9 96.8l0.7 0.7l-0.7 0.7l-0.7 -0.7zM402 89.6h1.2v1.2h-1.2zM398.8 94.7a0.6 0.6 0 1 0 1.3 0a0.6 0.6 0 1 0 -1.3 0M397 96.9h1.2v1.2h-1.2zM407.1 87.8l0.7 1.3h-1.4zM388.8 98.9l0.7 0.7l-0.7 0.7l-0.7 -0.7zM395.4 96.6a0.6 0.6 0 1 0 1.3 0a0.6 0.6 0 1 0 -1.3 0M402.6 88h1.2v1.2h-1.2zM397.8 94.2h1.2v1.2h-1.2zM392.9 97.5l1.4 1.4m0 -1.4l-1.4 1.4M398.5 95h1.2v1.2h-1.2zM419.8 84.8l0.7 1.3h-1.4zM409.9 87l0.7 1.3h-1.4zM401.3 86.3h1.2v1.2h-1.2zM394.8 94.6l0.7 0.7l-0.7 0.7l-0.7 -0.7zM406.6 92.6a0.6 0.6 0 1 0 1.3 0a0.6 0.6 0 1 0 -1.3 0M409 91.2l1.4 1.4m0 -1.4l-1.4 1.4M399.8 94.5h1.2v1.2h-1.2zM402.7 93.7h1.2v1.2h-1.2zM414 89.6l1.4 1.4m0 -1.4l-1.4 1.4M411.6 85l1.4 1.4m0 -1.4l-1.4 1.4M409.6 84.2a0.6 0.6 0 1 0 1.3 0a0.6 0.6 0 1 0 -1.3 0M393.9 93.6l0.7 1.3h-1.4zM394.1 98.6l1.4 1.4m0 -1.4l-1.4 1.4M395.1 97.5l1.4 1.4m0 -1.4l-1.4 1.4M404.2 93.4a0.6 0.6 0 1 0 1.3 0a0.6 0.6 0 1 0 -1.3 0M406.4 95.5l0.7 0.7l-0.7 0.7l-0.7 -0.7zM435.1 72.7l0.7 1.3h-1.4zM435.1 72.3l0.7 0.7l-0.7 0.7l-0.7 -0.7z" fill="none" stroke="#5a4a22" stroke-width="0.45"/>
<path d="M400.2 93.4a0.5 0.5 0 1 0 1 0a0.5 0.5 0 1 0 -1 0M390.8 103a0.5 0.5 0 1 0 1 0a0.5 0.5 0 1 0 -1 0M410.4 86.2h1v1h-1zM397.9 91.8a0.5 0.5 0 1 0 1 0a0.5 0.5 0 1 0 -1 0M404 91.8h1v1h-1zM397.5 95.1a0.5 0.5 0 1 0 1 0a0.5 0.5 0 1 0 -1 0M413.3 84.6h1v1h-1z" fill="#5a4a22"/>
<path d="M392.3 99.2h1.4m-0.7 -0.7v1.4M397.2 91.9h1.4m-0.7 -0.7v1.4M413.1 90.9h1.4m-0.7 -0.7v1.4M391.9 102.3h1.4m-0.7 -0.7v1.4" fill="none" stroke="#5a4a22" stroke-width="0.59"/>
<path d="M393.8 96.3h1.4m-0.7 -0.7v1.4M389.1 102.3h1.4m-0.7 -0.7v1.4M400.4 96.7h1.4m-0.7 -0.7v1.4M403 93.2h1.4m-0.7 -0.7v1.4" fill="none" stroke="#245c38" stroke-width="0.59"/>
<path d="M404.3 91.4l0.7 1.3h-1.4zM413.7 94.5l0.7 0.7l-0.7 0.7l-0.7 -0.7zM400.1 91.9l0.7 0.7l-0.7 0.7l-0.7 -0.7zM385.6 103.1a0.6 0.6 0 1 0 1.3 0a0.6 0.6 0 1 0 -1.3 0M407.2 83.6l0.7 1.3h-1.4zM384.5 102.2l1.4 1.4m0 -1.4l-1.4 1.4M400.2 94.4l0.7 0.7l-0.7 0.7l-0.7 -0.7zM410.1 85.1h1.2v1.2h-1.2zM399.5 95.8l0.7 0.7l-0.7 0.7l-0.7 -0.7zM409.1 89.7l0.7 1.3h-1.4zM402 97.7a0.6 0.6 0 1 0 1.3 0a0.6 0.6 0 1 0 -1.3 0M402.2 92.7a0.6 0.6 0 1 0 1.3 0a0.6 0.6 0 1 0 -1.3 0M416.7 81.3l1.4 1.4m0 -1.4l-1.4 1.4M402.9 93.9h1.2v1.2h-1.2zM395 97.9h1.2v1.2h-1.2zM414.1 89l0.7 1.3h-1.4zM414.6 88l0.7 1.3h-1.4zM384.7 102.8a0.6 0.6 0 1 0 1.3 0a0.6 0.6 0 1 0 -1.3 0M408.4 88.5l0.7 0.7l-0.7 0.7l-0.7 -0.7zM400.5 87.2h1.2v1.2h-1.2zM400.3 94.7l0.7 1.3h-1.4zM401.8 90.6l0.7 0.7l-0.7 0.7l-0.7 -0.7zM408.4 88.4l1.4 1.4m0 -1.4l-1.4 1.4M397.4 92l0.7 1.3h-1.4zM396.1 93.3h1.2v1.2h-1.2zM405.7 83.8h1.2v1.2h-1.2zM408.7 89.4l0.7 0.7l-0.7 0.7l-0.7 -0.7zM394.2 95.9a0.6 0.6 0 1 0 1.3 0a0.6 0.6 0 1 0 -1.3 0M407.7 89.8h1.2v1.2h-1.2zM409.1 81.3l0.7 0.7l-0.7 0.7l-0.7 -0.7zM391.2 95.1h1.2v1.2h-1.2zM391.6 97.2l0.7 1.3h-1.4zM398.9 96.2l0.7 1.3h-1.4zM401.4 93l1.4 1.4m0 -1.4l-1.4 1.4M401.1 96.6l0.7 0.7l-0.7 0.7l-0.7 -0.7zM415.4 86.2a0.6 0.6 0 1 0 1.3 0a0.6 0.6 0 1 0 -1.3 0M406.6 92l1.4 1.4m0 -1.4l-1.4 1.4M439 71.9l0.7 0.7l-0.7 0.7l-0.7 -0.7zM392.1 80.6l0.7 1.3h-1.4z" fill="none" stroke="#245c38" stroke-width="0.45"/>
<path d="M392.8 103.3a0.5 0.5 0 1 0 1 0a0.5 0.5 0 1 0 -1 0M411.9 90h1v1h-1zM398.5 86.2h1v1h-1zM391.8 97.7a0.5 0.5 0 1 0 1 0a0.5 0.5 0 1 0 -1 0M401.2 94.1h1v1h-1zM403.8 90.2h1v1h-1zM407.3 80.8h1v1h-1zM397.7 94h1v1h-1zM405.6 91.2a0.5 0.5 0 1 0 1 0a0.5 0.5 0 1 0 -1 0M398.5 94.7h1v1h-1zM394.5 96h1v1h-1zM402 91.7a0.5 0.5 0 1 0 1 0a0.5 0.5 0 1 0 -1 0M404.3 93a0.5 0.5 0 1 0 1 0a0.5 0.5 0 1 0 -1 0M411.8 89.3h1v1h-1zM385 66.5h1v1h-1zM384.7 67.5a0.5 0.5 0 1 0 1 0a0.5 0.5 0 1 0 -1 0" fill="#245c38"/>
<path d="M404.9 92.2h1.2v1.2h-1.2zM413.6 81.2l0.7 1.3h-1.4zM404.1 89.4l1.4 1.4m0 -1.4l-1.4 1.4M400.7 94.9l0.7 1.3h-1.4zM400.4 100.6a0.6 0.6 0 1 0 1.3 0a0.6 0.6 0 1 0 -1.3 0M395.1 97l1.4 1.4m0 -1.4l-1.4 1.4M407 88.8h1.2v1.2h-1.2zM400.4 92.9l1.4 1.4m0 -1.4l-1.4 1.4M401.4 90.5l0.7 0.7l-0.7 0.7l-0.7 -0.7zM405.6 90.7l0.7 0.7l-0.7 0.7l-0.7 -0.7zM401.3 90.7a0.6 0.6 0 1 0 1.3 0a0.6 0.6 0 1 0 -1.3 0M421.3 82.2a0.6 0.6 0 1 0 1.3 0a0.6 0.6 0 1 0 -1.3 0M385.7 101.9h1.2v1.2h-1.2zM401.9 93.8l0.7 0.7l-0.7 0.7l-0.7 -0.7zM402.8 89.7h1.2v1.2h-1.2zM401.9 90.9l1.4 1.4m0 -1.4l-1.4 1.4M387 99.4a0.6 0.6 0 1 0 1.3 0a0.6 0.6 0 1 0 -1.3 0M392.8 99.5l0.7 0.7l-0.7 0.7l-0.7 -0.7zM394.1 98.8l0.7 0.7l-0.7 0.7l-0.7 -0.7zM403.8 93l1.4 1.4m0 -1.4l-1.4 1.4M396 96h1.2v1.2h-1.2zM397 96.8l1.4 1.4m0 -1.4l-1.4 1.4M398.6 91.4a0.6 0.6 0 1 0 1.3 0a0.6 0.6 0 1 0 -1.3 0M410.4 90.2l1.4 1.4m0 -1.4l-1.4 1.4M403.8 87.7l1.4 1.4m0 -1.4l-1.4 1.4M393.6 96.2h1.2v1.2h-1.2zM398.9 89.9l1.4 1.4m0 -1.4l-1.4 1.4M409.6 88.7l0.7 1.3h-1.4zM392.5 96.4h1.2v1.2h-1.2zM402 95.5h1.2v1.2h-1.2zM420.1 82.6l0.7 0.7l-0.7 0.7l-0.7 -0.7zM399.8 90.6h1.2v1.2h-1.2zM403.3 95.8l0.7 1.3h-1.4zM406.8 86.7l1.4 1.4m0 -1.4l-1.4 1.4M403 94.9l0.7 1.3h-1.4zM403.3 92.8a0.6 0.6 0 1 0 1.3 0a0.6 0.6 0 1 0 -1.3 0M399.6 93.2l0.7 0.7l-0.7 0.7l-0.7 -0.7zM408.2 93.1l0.7 1.3h-1.4zM394.2 97.7a0.6 0.6 0 1 0 1.3 0a0.6 0.6 0 1 0 -1.3 0M392.5 95.2l0.7 0.7l-0.7 0.7l-0.7 -0.7zM396.5 96.3l0.7 0.7l-0.7 0.7l-0.7 -0.7zM408.6 91.3a0.6 0.6 0 1 0 1.3 0a0.6 0.6 0 1 0 -1.3 0M417.5 79.1l0.7 0.7l-0.7 0.7l-0.7 -0.7zM404.8 87.3a0.6 0.6 0 1 0 1.3 0a0.6 0.6 0 1 0 -1.3 0M404.4 97.7l0.7 0.7l-0.7 0.7l-0.7 -0.7zM418 82.1a0.6 0.6 0 1 0 1.3 0a0.6 0.6 0 1 0 -1.3 0M392 97.9h1.2v1.2h-1.2zM391.2 96.9l1.4 1.4m0 -1.4l-1.4 1.4M407.3 89.2l1.4 1.4m0 -1.4l-1.4 1.4M404.5 90.1h1.2v1.2h-1.2zM385.9 102.7h1.2v1.2h-1.2zM488.3 23.8h1.2v1.2h-1.2z" fill="none" stroke="#2e3288" stroke-width="0.45"/>
<path d="M400.7 92.5h1.4m-0.7 -0.7v1.4M401.9 89.6h1.4m-0.7 -0.7v1.4M409.9 87.4h1.4m-0.7 -0.7v1.4M408.1 85.5h1.4m-0.7 -0.7v1.4M414.4 85.3h1.4m-0.7 -0.7v1.4M417.6 83.4h1.4m-0.7 -0.7v1.4M402.7 83.2h1.4m-0.7 -0.7v1.4M419.9 82.7h1.4m-0.7 -0.7v1.4M391.7 99.5h1.4m-0.7 -0.7v1.4M407.1 80.9h1.4m-0.7 -0.7v1.4M401.7 98.2h1.4m-0.7 -0.7v1.4M399.7 90.8h1.4m-0.7 -0.7v1.4M394.2 93.6h1.4m-0.7 -0.7v1.4" fill="none" stroke="#2e3288" stroke-width="0.59"/>
<path d="M420.1 89.4a0.5 0.5 0 1 0 1 0a0.5 0.5 0 1 0 -1 0M404.4 96.6h1v1h-1zM387.4 100.5h1v1h-1zM415.2 82.4a0.5 0.5 0 1 0 1 0a0.5 0.5 0 1 0 -1 0M400.5 99.1a0.5 0.5 0 1 0 1 0a0.5 0.5 0 1 0 -1 0M410.4 86.5h1v1h-1zM411.8 81.9h1v1h-1zM401.9 90.9h1v1h-1zM418.4 83.3a0.5 0.5 0 1 0 1 0a0.5 0.5 0 1 0 -1 0M392.3 100.1a0.5 0.5 0 1 0 1 0a0.5 0.5 0 1 0 -1 0M408.7 89.7h1v1h-1zM398.8 92.5a0.5 0.5 0 1 0 1 0a0.5 0.5 0 1 0 -1 0M394.8 93.8h1v1h-1zM390.8 97.5h1v1h-1zM402.1 92.8h1v1h-1zM396.9 95.1a0.5 0.5 0 1 0 1 0a0.5 0.5 0 1 0 -1 0M397.2 94.3h1v1h-1zM392.7 98a0.5 0.5 0 1 0 1 0a0.5 0.5 0 1 0 -1 0M406.9 82.5a0.5 0.5 0 1 0 1 0a0.5 0.5 0 1 0 -1 0M395.6 94.1h1v1h-1zM409.3 89.3h1v1h-1z" fill="#2e3288"/>
<path d="M405.3 256.5l1.4 1.4m0 -1.4l-1.4 1.4M399.4 261l0.7 1.3h-1.4zM395.2 264.9h1.2v1.2h-1.2zM415.7 249.1h1.2v1.2h-1.2zM404.9 258.5l1.4 1.4m0 -1.4l-1.4 1.4M414.1 254.9l0.7 0.7l-0.7 0.7l-0.7 -0.7zM403 258.7l1.4 1.4m0 -1.4l-1.4 1.4M390.3 267l0.7 0.7l-0.7 0.7l-0.7 -0.7zM390.9 263.4h1.2v1.2h-1.2zM385.2 270l0.7 1.3h-1.4zM399.5 258.3l1.4 1.4m0 -1.4l-1.4 1.4M402.9 259.2h1.2v1.2h-1.2zM402.4 253.2h1.2v1.2h-1.2zM400 264.2h1.2v1.2h-1.2zM406.7 257.1a0.6 0.6 0 1 0 1.3 0a0.6 0.6 0 1 0 -1.3 0M414.3 258.7l0.7 1.3h-1.4zM388.3 269.3h1.2v1.2h-1.2zM397.2 259.7a0.6 0.6 0 1 0 1.3 0a0.6 0.6 0 1 0 -1.3 0M400.3 262.5l0.7 1.3h-1.4zM404.7 255h1.2v1.2h-1.2zM410.6 256.9h1.2v1.2h-1.2zM407.9 258.9l1.4 1.4m0 -1.4l-1.4 1.4M399 260.2a0.6 0.6 0 1 0 1.3 0a0.6 0.6 0 1 0 -1.3 0M405.4 254.4l0.7 0.7l-0.7 0.7l-0.7 -0.7zM402.2 259.2l1.4 1.4m0 -1.4l-1.4 1.4M439 239.7l0.7 0.7l-0.7 0.7l-0.7 -0.7zM429.2 242.8a0.6 0.6 0 1 0 1.3 0a0.6 0.6 0 1 0 -1.3 0M413.4 263h1.2v1.2h-1.2z" fill="none" stroke="#e8b420" stroke-width="0.45"/>
<path d="M400.9 258.5h1v1h-1zM391 265.2h1v1h-1zM408.4 255.5a0.5 0.5 0 1 0 1 0a0.5 0.5 0 1 0 -1 0M386.2 267.8h1v1h-1zM407.5 260.4a0.5 0.5 0 1 0 1 0a0.5 0.5 0 1 0 -1 0M408.9 259.6a0.5 0.5 0 1 0 1 0a0.5 0.5 0 1 0 -1 0M395.7 266.7a0.5 0.5 0 1 0 1 0a0.5 0.5 0 1 0 -1 0M398.9 259.5h1v1h-1zM409.8 256.1a0.5 0.5 0 1 0 1 0a0.5 0.5 0 1 0 -1 0M406.2 260.2h1v1h-1z" fill="#e8b420"/>
<path d="M386.4 266.9h1.4m-0.7 -0.7v1.4M401.2 254.7h1.4m-0.7 -0.7v1.4M409.3 258.1h1.4m-0.7 -0.7v1.4M398.9 261.7h1.4m-0.7 -0.7v1.4M407.5 261.6h1.4m-0.7 -0.7v1.4M395.6 264.5h1.4m-0.7 -0.7v1.4M406.3 261.7h1.4m-0.7 -0.7v1.4" fill="none" stroke="#e8b420" stroke-width="0.59"/>
<path d="M400.5 267.9h1v1h-1zM408.6 258.1a0.5 0.5 0 1 0 1 0a0.5 0.5 0 1 0 -1 0M393.3 266.6a0.5 0.5 0 1 0 1 0a0.5 0.5 0 1 0 -1 0M403 257.4a0.5 0.5 0 1 0 1 0a0.5 0.5 0 1 0 -1 0M403.7 257.4h1v1h-1zM390.5 265.9h1v1h-1zM409.3 257.1h1v1h-1z" fill="#e27a1c"/>
<path d="M413.8 251.2h1.4m-0.7 -0.7v1.4M391.7 265.5h1.4m-0.7 -0.7v1.4M413.9 256.5h1.4m-0.7 -0.7v1.4M387.6 267.9h1.4m-0.7 -0.7v1.4M396.4 260.1h1.4m-0.7 -0.7v1.4M405.7 264h1.4m-0.7 -0.7v1.4M450.5 230.7h1.4m-0.7 -0.7v1.4" fill="none" stroke="#e27a1c" stroke-width="0.59"/>
<path d="M401.2 264.7a0.6 0.6 0 1 0 1.3 0a0.6 0.6 0 1 0 -1.3 0M394.4 264.1l0.7 0.7l-0.7 0.7l-0.7 -0.7zM420 257.2a0.6 0.6 0 1 0 1.3 0a0.6 0.6 0 1 0 -1.3 0M400.7 257.6l1.4 1.4m0 -1.4l-1.4 1.4M410 254.6h1.2v1.2h-1.2zM391.1 264.5a0.6 0.6 0 1 0 1.3 0a0.6 0.6 0 1 0 -1.3 0M402 254.5l0.7 1.3h-1.4zM393.5 265.5l0.7 0.7l-0.7 0.7l-0.7 -0.7zM418.3 250.5l0.7 0.7l-0.7 0.7l-0.7 -0.7zM402.7 264.8l0.7 0.7l-0.7 0.7l-0.7 -0.7zM409.3 258.1l0.7 1.3h-1.4zM398.8 265.8l0.7 1.3h-1.4zM396.4 263.3l0.7 1.3h-1.4zM417.5 246.9l0.7 1.3h-1.4zM406.3 257.9h1.2v1.2h-1.2zM426.8 252.2l0.7 0.7l-0.7 0.7l-0.7 -0.7z" fill="none" stroke="#e27a1c" stroke-width="0.45"/>
<path d="M403.8 259.3l1.4 1.4m0 -1.4l-1.4 1.4M402.4 259.1l0.7 1.3h-1.4zM393.9 262.9h1.2v1.2h-1.2zM391.8 264.7l1.4 1.4m0 -1.4l-1.4 1.4M391.1 267.5l0.7 1.3h-1.4zM413.4 244.6h1.2v1.2h-1.2zM406.6 257.4l0.7 1.3h-1.4zM414.9 249.6a0.6 0.6 0 1 0 1.3 0a0.6 0.6 0 1 0 -1.3 0M402.6 262.6a0.6 0.6 0 1 0 1.3 0a0.6 0.6 0 1 0 -1.3 0M403.6 257.8l1.4 1.4m0 -1.4l-1.4 1.4M410.3 254.5a0.6 0.6 0 1 0 1.3 0a0.6 0.6 0 1 0 -1.3 0M392.2 268a0.6 0.6 0 1 0 1.3 0a0.6 0.6 0 1 0 -1.3 0M404.5 260.8l0.7 1.3h-1.4zM391.2 265.1l1.4 1.4m0 -1.4l-1.4 1.4M418.7 258.6l0.7 0.7l-0.7 0.7l-0.7 -0.7zM413.2 256.5h1.2v1.2h-1.2zM398.2 262.2h1.2v1.2h-1.2zM406.6 259.8h1.2v1.2h-1.2zM395.9 264.2l1.4 1.4m0 -1.4l-1.4 1.4M397.6 266.6l0.7 1.3h-1.4zM405.7 254a0.6 0.6 0 1 0 1.3 0a0.6 0.6 0 1 0 -1.3 0M394.2 263.7a0.6 0.6 0 1 0 1.3 0a0.6 0.6 0 1 0 -1.3 0M391.8 267.3a0.6 0.6 0 1 0 1.3 0a0.6 0.6 0 1 0 -1.3 0M397.5 265.1a0.6 0.6 0 1 0 1.3 0a0.6 0.6 0 1 0 -1.3 0M392.8 268.3l1.4 1.4m0 -1.4l-1.4 1.4M402.2 259.1l0.7 0.7l-0.7 0.7l-0.7 -0.7zM406.3 258.9l0.7 0.7l-0.7 0.7l-0.7 -0.7zM386.2 268l1.4 1.4m0 -1.4l-1.4 1.4M437.5 235.9h1.2v1.2h-1.2zM508.5 190.3a0.6 0.6 0 1 0 1.3 0a0.6 0.6 0 1 0 -1.3 0" fill="none" stroke="#3d7cc8" stroke-width="0.45"/>
<path d="M390 268.6h1.4m-0.7 -0.7v1.4M400.4 261.4h1.4m-0.7 -0.7v1.4M407.1 258.5h1.4m-0.7 -0.7v1.4M393.9 263.6h1.4m-0.7 -0.7v1.4M401.1 259.1h1.4m-0.7 -0.7v1.4M410.3 254.8h1.4m-0.7 -0.7v1.4M412.5 261.2h1.4m-0.7 -0.7v1.4" fill="none" stroke="#3d7cc8" stroke-width="0.59"/>
<path d="M384.8 270.6a0.5 0.5 0 1 0 1 0a0.5 0.5 0 1 0 -1 0M421.4 250a0.5 0.5 0 1 0 1 0a0.5 0.5 0 1 0 -1 0M413 254.2h1v1h-1zM414.5 257.7a0.5 0.5 0 1 0 1 0a0.5 0.5 0 1 0 -1 0M397.3 259.4a0.5 0.5 0 1 0 1 0a0.5 0.5 0 1 0 -1 0M398.8 258.7h1v1h-1zM384.9 270.1h1v1h-1zM405.6 258.5h1v1h-1zM399.9 261.6h1v1h-1zM408.2 257.9a0.5 0.5 0 1 0 1 0a0.5 0.5 0 1 0 -1 0M415.7 249.1h1v1h-1zM445.6 237.5h1v1h-1z" fill="#3d7cc8"/>
<path d="M412.9 249l1.4 1.4m0 -1.4l-1.4 1.4M408.1 262l0.7 0.7l-0.7 0.7l-0.7 -0.7zM403.6 256.7a0.6 0.6 0 1 0 1.3 0a0.6 0.6 0 1 0 -1.3 0M393.9 263.5h1.2v1.2h-1.2zM400.8 259.7h1.2v1.2h-1.2zM407.6 257.3l1.4 1.4m0 -1.4l-1.4 1.4M405.2 258.2a0.6 0.6 0 1 0 1.3 0a0.6 0.6 0 1 0 -1.3 0M403.2 255.7l0.7 0.7l-0.7 0.7l-0.7 -0.7zM386.7 271.5l0.7 0.7l-0.7 0.7l-0.7 -0.7zM398.9 263.7h1.2v1.2h-1.2zM402.7 262.4l0.7 1.3h-1.4zM404.6 256.8h1.2v1.2h-1.2zM404.1 268.1l0.7 1.3h-1.4zM394.2 263.9l0.7 0.7l-0.7 0.7l-0.7 -0.7zM407.6 257.5l1.4 1.4m0 -1.4l-1.4 1.4M405 258.7l0.7 0.7l-0.7 0.7l-0.7 -0.7zM391.8 262.8l0.7 0.7l-0.7 0.7l-0.7 -0.7zM390.2 266.3l0.7 1.3h-1.4zM386.9 264.6l0.7 1.3h-1.4zM391.5 265.5h1.2v1.2h-1.2zM396.2 261.7a0.6 0.6 0 1 0 1.3 0a0.6 0.6 0 1 0 -1.3 0M396 263.5l1.4 1.4m0 -1.4l-1.4 1.4M442 236.1l0.7 1.3h-1.4zM435.1 240.5l0.7 0.7l-0.7 0.7l-0.7 -0.7zM397.3 239.8l0.7 0.7l-0.7 0.7l-0.7 -0.7z" fill="none" stroke="#2f9a45" stroke-width="0.45"/>
<path d="M401.9 257.4h1.4m-0.7 -0.7v1.4M405.9 255.8h1.4m-0.7 -0.7v1.4M403.1 262.1h1.4m-0.7 -0.7v1.4M389 266.4h1.4m-0.7 -0.7v1.4M411.5 258.3h1.4m-0.7 -0.7v1.4M402.9 228.6h1.4m-0.7 -0.7v1.4" fill="none" stroke="#2f9a45" stroke-width="0.59"/>
<path d="M418.5 251a0.5 0.5 0 1 0 1 0a0.5 0.5 0 1 0 -1 0M410.2 253h1v1h-1zM400.9 258h1v1h-1zM402.3 260.5a0.5 0.5 0 1 0 1 0a0.5 0.5 0 1 0 -1 0M405 255.8h1v1h-1zM401.1 261.1h1v1h-1zM397.6 260.4a0.5 0.5 0 1 0 1 0a0.5 0.5 0 1 0 -1 0M395.1 264.2a0.5 0.5 0 1 0 1 0a0.5 0.5 0 1 0 -1 0M402.9 251a0.5 0.5 0 1 0 1 0a0.5 0.5 0 1 0 -1 0M407.1 254.7h1v1h-1zM404 258.8h1v1h-1zM418.1 249.9a0.5 0.5 0 1 0 1 0a0.5 0.5 0 1 0 -1 0M392.1 266.3a0.5 0.5 0 1 0 1 0a0.5 0.5 0 1 0 -1 0" fill="#2f9a45"/>
<path d="M400.1 261.6h1v1h-1zM407 257.2a0.5 0.5 0 1 0 1 0a0.5 0.5 0 1 0 -1 0M413.9 251.8a0.5 0.5 0 1 0 1 0a0.5 0.5 0 1 0 -1 0M394.8 267.7a0.5 0.5 0 1 0 1 0a0.5 0.5 0 1 0 -1 0M399.8 263.3h1v1h-1zM404 256.2a0.5 0.5 0 1 0 1 0a0.5 0.5 0 1 0 -1 0M410.4 257.8h1v1h-1zM399.4 262a0.5 0.5 0 1 0 1 0a0.5 0.5 0 1 0 -1 0M395.9 264.6a0.5 0.5 0 1 0 1 0a0.5 0.5 0 1 0 -1 0M402.8 262.5a0.5 0.5 0 1 0 1 0a0.5 0.5 0 1 0 -1 0" fill="#6d7a25"/>
<path d="M410.3 256.9h1.4m-0.7 -0.7v1.4M411.7 258.3h1.4m-0.7 -0.7v1.4M398.3 254.5h1.4m-0.7 -0.7v1.4M397.1 261.1h1.4m-0.7 -0.7v1.4M395.7 262.4h1.4m-0.7 -0.7v1.4M400.9 263.7h1.4m-0.7 -0.7v1.4M392 265.3h1.4m-0.7 -0.7v1.4M432.3 240.7h1.4m-0.7 -0.7v1.4" fill="none" stroke="#6d7a25" stroke-width="0.59"/>
<path d="M407.5 262.1l1.4 1.4m0 -1.4l-1.4 1.4M407.5 259.5l0.7 1.3h-1.4zM398.6 266a0.6 0.6 0 1 0 1.3 0a0.6 0.6 0 1 0 -1.3 0M396.6 267.3l0.7 1.3h-1.4zM403.3 262.7l0.7 1.3h-1.4zM397.8 262h1.2v1.2h-1.2zM417.8 247.1l1.4 1.4m0 -1.4l-1.4 1.4M392.7 259.6h1.2v1.2h-1.2zM385.8 266l0.7 0.7l-0.7 0.7l-0.7 -0.7zM398.7 265.4l0.7 0.7l-0.7 0.7l-0.7 -0.7zM410.2 256.4l1.4 1.4m0 -1.4l-1.4 1.4M398.8 260.6a0.6 0.6 0 1 0 1.3 0a0.6 0.6 0 1 0 -1.3 0M400.1 256.3h1.2v1.2h-1.2zM397.6 263.8l0.7 0.7l-0.7 0.7l-0.7 -0.7zM394.2 270.9l1.4 1.4m0 -1.4l-1.4 1.4M400.5 263.9h1.2v1.2h-1.2zM412.2 249.5l0.7 0.7l-0.7 0.7l-0.7 -0.7zM401.7 258.5l1.4 1.4m0 -1.4l-1.4 1.4M418.9 250.4l0.7 0.7l-0.7 0.7l-0.7 -0.7zM413.1 252.9a0.6 0.6 0 1 0 1.3 0a0.6 0.6 0 1 0 -1.3 0M390.7 265.8a0.6 0.6 0 1 0 1.3 0a0.6 0.6 0 1 0 -1.3 0M414.5 253.9l0.7 0.7l-0.7 0.7l-0.7 -0.7zM401.1 259.6l0.7 1.3h-1.4zM399.5 261.8a0.6 0.6 0 1 0 1.3 0a0.6 0.6 0 1 0 -1.3 0M397.1 262h1.2v1.2h-1.2zM418.4 255.3h1.2v1.2h-1.2zM401.8 266a0.6 0.6 0 1 0 1.3 0a0.6 0.6 0 1 0 -1.3 0M394.3 266.6l1.4 1.4m0 -1.4l-1.4 1.4M411.5 253.4h1.2v1.2h-1.2zM398.9 259.6h1.2v1.2h-1.2zM402.8 260.6l0.7 1.3h-1.4zM406.3 261.3l0.7 1.3h-1.4zM385.9 270.5h1.2v1.2h-1.2zM399.8 241.5l1.4 1.4m0 -1.4l-1.4 1.4" fill="none" stroke="#6d7a25" stroke-width="0.45"/>
<path d="M409.4 253.4h1.2v1.2h-1.2zM392.5 266.4l0.7 1.3h-1.4zM404.8 257.2l0.7 1.3h-1.4zM415 257l0.7 0.7l-0.7 0.7l-0.7 -0.7zM418.6 244.6l0.7 0.7l-0.7 0.7l-0.7 -0.7zM400.7 262.7l0.7 0.7l-0.7 0.7l-0.7 -0.7zM400.7 263.4l0.7 0.7l-0.7 0.7l-0.7 -0.7zM402.4 263.9l0.7 1.3h-1.4zM403.7 259.9a0.6 0.6 0 1 0 1.3 0a0.6 0.6 0 1 0 -1.3 0M415.7 250.8l1.4 1.4m0 -1.4l-1.4 1.4M398.7 261.8l1.4 1.4m0 -1.4l-1.4 1.4M387.9 268.1l0.7 0.7l-0.7 0.7l-0.7 -0.7zM394.9 263.7a0.6 0.6 0 1 0 1.3 0a0.6 0.6 0 1 0 -1.3 0M407.4 261l0.7 1.3h-1.4zM398.3 256.8l0.7 0.7l-0.7 0.7l-0.7 -0.7zM390 264.2l1.4 1.4m0 -1.4l-1.4 1.4M415.1 252.4l0.7 0.7l-0.7 0.7l-0.7 -0.7zM397.8 262.8h1.2v1.2h-1.2zM399.5 262.2l1.4 1.4m0 -1.4l-1.4 1.4M394.5 265.2l0.7 0.7l-0.7 0.7l-0.7 -0.7zM396.4 261.9l1.4 1.4m0 -1.4l-1.4 1.4M397.7 258.9l1.4 1.4m0 -1.4l-1.4 1.4M405.6 257.9l0.7 1.3h-1.4zM409.9 254.8l0.7 1.3h-1.4zM400 262.3l0.7 0.7l-0.7 0.7l-0.7 -0.7zM401.7 262.3l1.4 1.4m0 -1.4l-1.4 1.4M410.3 254.2h1.2v1.2h-1.2zM404.4 252.4h1.2v1.2h-1.2zM409.3 254.6a0.6 0.6 0 1 0 1.3 0a0.6 0.6 0 1 0 -1.3 0M401.7 256l0.7 0.7l-0.7 0.7l-0.7 -0.7zM404.1 263l0.7 1.3h-1.4zM407.7 257.8l0.7 1.3h-1.4zM390.8 262.6l0.7 0.7l-0.7 0.7l-0.7 -0.7zM392.5 264.8a0.6 0.6 0 1 0 1.3 0a0.6 0.6 0 1 0 -1.3 0M401.5 258.2l1.4 1.4m0 -1.4l-1.4 1.4M411.6 263.1l0.7 1.3h-1.4zM388.5 269.7l0.7 1.3h-1.4zM387.6 269.8h1.2v1.2h-1.2zM420.6 249.8l0.7 1.3h-1.4zM393.7 263.2h1.2v1.2h-1.2zM390.9 267.8h1.2v1.2h-1.2zM397.4 259.8l0.7 0.7l-0.7 0.7l-0.7 -0.7zM400.9 264.5l1.4 1.4m0 -1.4l-1.4 1.4M398.9 266.1h1.2v1.2h-1.2zM394.6 261.5h1.2v1.2h-1.2zM394.2 265h1.2v1.2h-1.2zM407.5 256.3h1.2v1.2h-1.2zM401.4 264.6l0.7 1.3h-1.4zM392.6 266.7a0.6 0.6 0 1 0 1.3 0a0.6 0.6 0 1 0 -1.3 0M400.3 258.1l0.7 1.3h-1.4zM393.3 265.6h1.2v1.2h-1.2zM386.4 269l1.4 1.4m0 -1.4l-1.4 1.4M389.9 267.6h1.2v1.2h-1.2zM398.9 260.5l0.7 0.7l-0.7 0.7l-0.7 -0.7zM391.1 265.7l1.4 1.4m0 -1.4l-1.4 1.4M403.6 253.5l0.7 1.3h-1.4zM393.2 262.1a0.6 0.6 0 1 0 1.3 0a0.6 0.6 0 1 0 -1.3 0M392 269.5h1.2v1.2h-1.2zM416.4 256.3l0.7 1.3h-1.4zM411.7 256.9h1.2v1.2h-1.2zM404.1 256l0.7 1.3h-1.4zM397.4 263.7l0.7 1.3h-1.4zM394.1 266.4l1.4 1.4m0 -1.4l-1.4 1.4M415.6 251.7a0.6 0.6 0 1 0 1.3 0a0.6 0.6 0 1 0 -1.3 0M394.2 261.4a0.6 0.6 0 1 0 1.3 0a0.6 0.6 0 1 0 -1.3 0M407.3 257l1.4 1.4m0 -1.4l-1.4 1.4M399.4 260.1l0.7 1.3h-1.4zM386.4 269l1.4 1.4m0 -1.4l-1.4 1.4M472.2 213.6l0.7 1.3h-1.4zM409.9 239.2l1.4 1.4m0 -1.4l-1.4 1.4M423.2 239.3a0.6 0.6 0 1 0 1.3 0a0.6 0.6 0 1 0 -1.3 0M436.3 244.6l1.4 1.4m0 -1.4l-1.4 1.4" fill="none" stroke="#6d58b8" stroke-width="0.45"/>
<path d="M402 260.9h1v1h-1zM408.6 253.8h1v1h-1zM402.1 258a0.5 0.5 0 1 0 1 0a0.5 0.5 0 1 0 -1 0M395.5 264.8a0.5 0.5 0 1 0 1 0a0.5 0.5 0 1 0 -1 0M405 259.7a0.5 0.5 0 1 0 1 0a0.5 0.5 0 1 0 -1 0M395.9 271.8a0.5 0.5 0 1 0 1 0a0.5 0.5 0 1 0 -1 0M402.9 258.1a0.5 0.5 0 1 0 1 0a0.5 0.5 0 1 0 -1 0M399.8 256.6h1v1h-1zM415.3 253.2h1v1h-1zM396.6 260.5h1v1h-1zM408 260.4a0.5 0.5 0 1 0 1 0a0.5 0.5 0 1 0 -1 0M399.1 258.4a0.5 0.5 0 1 0 1 0a0.5 0.5 0 1 0 -1 0M398.1 265.2a0.5 0.5 0 1 0 1 0a0.5 0.5 0 1 0 -1 0M417 250.3h1v1h-1zM389.2 266.7h1v1h-1zM398.3 261.3h1v1h-1zM399.9 263.3a0.5 0.5 0 1 0 1 0a0.5 0.5 0 1 0 -1 0M393.7 269.4h1v1h-1zM398.4 264.7a0.5 0.5 0 1 0 1 0a0.5 0.5 0 1 0 -1 0M390.6 262.9a0.5 0.5 0 1 0 1 0a0.5 0.5 0 1 0 -1 0M399.7 261.3a0.5 0.5 0 1 0 1 0a0.5 0.5 0 1 0 -1 0M400.6 262.5h1v1h-1zM403.9 266.2a0.5 0.5 0 1 0 1 0a0.5 0.5 0 1 0 -1 0M393.3 244.6h1v1h-1zM425.1 237.5h1v1h-1zM412.9 270.6h1v1h-1z" fill="#6d58b8"/>
<path d="M408.1 253.6h1.4m-0.7 -0.7v1.4M416.5 255.3h1.4m-0.7 -0.7v1.4M401.2 262.3h1.4m-0.7 -0.7v1.4M413.4 257.5h1.4m-0.7 -0.7v1.4M414.2 257h1.4m-0.7 -0.7v1.4M415.1 250.1h1.4m-0.7 -0.7v1.4M417.6 252.5h1.4m-0.7 -0.7v1.4M401.8 259.5h1.4m-0.7 -0.7v1.4M404.1 260.7h1.4m-0.7 -0.7v1.4M396.7 262.1h1.4m-0.7 -0.7v1.4M403.3 257.5h1.4m-0.7 -0.7v1.4M389.1 270.4h1.4m-0.7 -0.7v1.4M420.3 245.7h1.4m-0.7 -0.7v1.4M434.4 240.8h1.4m-0.7 -0.7v1.4M388.5 246.8h1.4m-0.7 -0.7v1.4" fill="none" stroke="#6d58b8" stroke-width="0.59"/>
<path d="M389.9 269.5h1.4m-0.7 -0.7v1.4M403.4 260h1.4m-0.7 -0.7v1.4M394.3 266.7h1.4m-0.7 -0.7v1.4M401.6 259.5h1.4m-0.7 -0.7v1.4M419 249.4h1.4m-0.7 -0.7v1.4M399.7 259h1.4m-0.7 -0.7v1.4M398.3 263h1.4m-0.7 -0.7v1.4M400.6 265.1h1.4m-0.7 -0.7v1.4M407.6 259.5h1.4m-0.7 -0.7v1.4M396 261.7h1.4m-0.7 -0.7v1.4M402.3 264.4h1.4m-0.7 -0.7v1.4" fill="none" stroke="#a5465c" stroke-width="0.59"/>
<path d="M393.2 263.8a0.5 0.5 0 1 0 1 0a0.5 0.5 0 1 0 -1 0M401.6 258.7h1v1h-1zM418.2 250.7h1v1h-1zM405.4 259.3a0.5 0.5 0 1 0 1 0a0.5 0.5 0 1 0 -1 0M408.6 258.2a0.5 0.5 0 1 0 1 0a0.5 0.5 0 1 0 -1 0M405.8 251.7h1v1h-1zM399.8 263.9h1v1h-1zM407 249.8h1v1h-1zM395.3 266a0.5 0.5 0 1 0 1 0a0.5 0.5 0 1 0 -1 0M399 264.1a0.5 0.5 0 1 0 1 0a0.5 0.5 0 1 0 -1 0M404.3 268.8a0.5 0.5 0 1 0 1 0a0.5 0.5 0 1 0 -1 0" fill="#a5465c"/>
<path d="M410.4 257.5l0.7 0.7l-0.7 0.7l-0.7 -0.7zM388.6 268.2l1.4 1.4m0 -1.4l-1.4 1.4M413 262.3l1.4 1.4m0 -1.4l-1.4 1.4M407.8 256.1l1.4 1.4m0 -1.4l-1.4 1.4M408.8 252.6l0.7 0.7l-0.7 0.7l-0.7 -0.7zM401.1 266.2l0.7 0.7l-0.7 0.7l-0.7 -0.7zM404.7 259h1.2v1.2h-1.2zM412.7 248.9l0.7 0.7l-0.7 0.7l-0.7 -0.7zM402.1 258l0.7 0.7l-0.7 0.7l-0.7 -0.7zM403.7 262.5l1.4 1.4m0 -1.4l-1.4 1.4M400 259.6h1.2v1.2h-1.2zM398.4 262.7l1.4 1.4m0 -1.4l-1.4 1.4M402.9 258.5l0.7 0.7l-0.7 0.7l-0.7 -0.7zM403.3 261.6a0.6 0.6 0 1 0 1.3 0a0.6 0.6 0 1 0 -1.3 0M394.8 262.4l0.7 1.3h-1.4zM396.2 264.6h1.2v1.2h-1.2zM412.4 253.4a0.6 0.6 0 1 0 1.3 0a0.6 0.6 0 1 0 -1.3 0M398 262.1a0.6 0.6 0 1 0 1.3 0a0.6 0.6 0 1 0 -1.3 0M391.9 263.7a0.6 0.6 0 1 0 1.3 0a0.6 0.6 0 1 0 -1.3 0M403.9 260.4l0.7 0.7l-0.7 0.7l-0.7 -0.7zM410.5 257.3l0.7 1.3h-1.4zM399.6 258.8h1.2v1.2h-1.2zM415.4 254a0.6 0.6 0 1 0 1.3 0a0.6 0.6 0 1 0 -1.3 0M404.4 257.8l1.4 1.4m0 -1.4l-1.4 1.4M427.1 251.4l0.7 1.3h-1.4zM453.1 218h1.2v1.2h-1.2z" fill="none" stroke="#a5465c" stroke-width="0.45"/>
<path d="M398.5 260.1a0.5 0.5 0 1 0 1 0a0.5 0.5 0 1 0 -1 0M408.6 261.8a0.5 0.5 0 1 0 1 0a0.5 0.5 0 1 0 -1 0M394.2 264.1a0.5 0.5 0 1 0 1 0a0.5 0.5 0 1 0 -1 0M389.1 264.1h1v1h-1zM400.7 262.4a0.5 0.5 0 1 0 1 0a0.5 0.5 0 1 0 -1 0M409.1 259.7a0.5 0.5 0 1 0 1 0a0.5 0.5 0 1 0 -1 0M394.4 264.3a0.5 0.5 0 1 0 1 0a0.5 0.5 0 1 0 -1 0M402.9 263.6h1v1h-1zM396.9 262.9a0.5 0.5 0 1 0 1 0a0.5 0.5 0 1 0 -1 0M396 264.3h1v1h-1zM386.8 271.4h1v1h-1zM413.3 251.9h1v1h-1z" fill="#c8302f"/>
<path d="M393.6 262.6l1.4 1.4m0 -1.4l-1.4 1.4M401.6 255.8a0.6 0.6 0 1 0 1.3 0a0.6 0.6 0 1 0 -1.3 0M413 254.2l0.7 0.7l-0.7 0.7l-0.7 -0.7zM404.9 264.2l0.7 1.3h-1.4zM406.4 256.3a0.6 0.6 0 1 0 1.3 0a0.6 0.6 0 1 0 -1.3 0M415.1 250.2a0.6 0.6 0 1 0 1.3 0a0.6 0.6 0 1 0 -1.3 0M388.2 266.8h1.2v1.2h-1.2zM412.9 257.3l0.7 1.3h-1.4zM402.5 257.2l0.7 1.3h-1.4zM387 267.2a0.6 0.6 0 1 0 1.3 0a0.6 0.6 0 1 0 -1.3 0M386.4 268.1l0.7 0.7l-0.7 0.7l-0.7 -0.7zM406.9 256.6a0.6 0.6 0 1 0 1.3 0a0.6 0.6 0 1 0 -1.3 0M407.6 251.7l0.7 0.7l-0.7 0.7l-0.7 -0.7zM400.2 261.9l1.4 1.4m0 -1.4l-1.4 1.4M404.3 254.6a0.6 0.6 0 1 0 1.3 0a0.6 0.6 0 1 0 -1.3 0M405.7 259.8h1.2v1.2h-1.2zM417.2 256.2l0.7 1.3h-1.4zM412.3 253.1h1.2v1.2h-1.2zM398.7 259.6l1.4 1.4m0 -1.4l-1.4 1.4M415.2 247.4l0.7 1.3h-1.4zM392.3 266.1a0.6 0.6 0 1 0 1.3 0a0.6 0.6 0 1 0 -1.3 0M414.7 257.4l0.7 0.7l-0.7 0.7l-0.7 -0.7zM414.4 246.9l1.4 1.4m0 -1.4l-1.4 1.4M399.1 263.8l0.7 0.7l-0.7 0.7l-0.7 -0.7zM408.6 255.7a0.6 0.6 0 1 0 1.3 0a0.6 0.6 0 1 0 -1.3 0M385.7 268.1l0.7 1.3h-1.4zM400.1 265l0.7 0.7l-0.7 0.7l-0.7 -0.7zM441.9 230l1.4 1.4m0 -1.4l-1.4 1.4M403 242.2a0.6 0.6 0 1 0 1.3 0a0.6 0.6 0 1 0 -1.3 0M432 246.6l0.7 1.3h-1.4z" fill="none" stroke="#c8302f" stroke-width="0.45"/>
<path d="M410.7 252.5h1.4m-0.7 -0.7v1.4M407.5 261.5h1.4m-0.7 -0.7v1.4M408.4 249.8h1.4m-0.7 -0.7v1.4M392.5 265.8h1.4m-0.7 -0.7v1.4M416 254.8h1.4m-0.7 -0.7v1.4M384.1 271.7h1.4m-0.7 -0.7v1.4M411.2 263.7h1.4m-0.7 -0.7v1.4" fill="none" stroke="#c8302f" stroke-width="0.59"/>
<path d="M417.6 254.1a0.5 0.5 0 1 0 1 0a0.5 0.5 0 1 0 -1 0M404.8 260.3a0.5 0.5 0 1 0 1 0a0.5 0.5 0 1 0 -1 0M413.3 252.9a0.5 0.5 0 1 0 1 0a0.5 0.5 0 1 0 -1 0M408.8 258.6h1v1h-1zM403.2 256.4a0.5 0.5 0 1 0 1 0a0.5 0.5 0 1 0 -1 0M409.5 236h1v1h-1zM427.4 244h1v1h-1z" fill="#6a4524"/>
<path d="M396.9 265.8h1.2v1.2h-1.2zM415.5 253.5l1.4 1.4m0 -1.4l-1.4 1.4M387.3 272a0.6 0.6 0 1 0 1.3 0a0.6 0.6 0 1 0 -1.3 0M389.2 266.4l0.7 0.7l-0.7 0.7l-0.7 -0.7zM406.3 258.1a0.6 0.6 0 1 0 1.3 0a0.6 0.6 0 1 0 -1.3 0M410.5 255l0.7 0.7l-0.7 0.7l-0.7 -0.7zM393 266a0.6 0.6 0 1 0 1.3 0a0.6 0.6 0 1 0 -1.3 0M389.2 269.5h1.2v1.2h-1.2zM399.2 260.4h1.2v1.2h-1.2zM401.4 261.3h1.2v1.2h-1.2zM402.6 263.2l0.7 0.7l-0.7 0.7l-0.7 -0.7zM402.7 263.7h1.2v1.2h-1.2zM407.2 254.2l1.4 1.4m0 -1.4l-1.4 1.4M399.5 261l1.4 1.4m0 -1.4l-1.4 1.4M400.7 260.6l0.7 1.3h-1.4zM403.7 263.1a0.6 0.6 0 1 0 1.3 0a0.6 0.6 0 1 0 -1.3 0M388.7 269l0.7 0.7l-0.7 0.7l-0.7 -0.7zM413.8 258l0.7 1.3h-1.4zM391 265.7a0.6 0.6 0 1 0 1.3 0a0.6 0.6 0 1 0 -1.3 0M398.1 263.9l0.7 1.3h-1.4zM409.6 251.4h1.2v1.2h-1.2zM398.7 263.6a0.6 0.6 0 1 0 1.3 0a0.6 0.6 0 1 0 -1.3 0M397 257.5h1.2v1.2h-1.2zM399.9 260h1.2v1.2h-1.2zM406.2 259h1.2v1.2h-1.2z" fill="none" stroke="#6a4524" stroke-width="0.45"/>
<path d="M408.6 250.2h1.4m-0.7 -0.7v1.4M402.7 255.9h1.4m-0.7 -0.7v1.4M405.7 265.2h1.4m-0.7 -0.7v1.4M389.5 269.1h1.4m-0.7 -0.7v1.4M394 267.9h1.4m-0.7 -0.7v1.4M409.5 259.1h1.4m-0.7 -0.7v1.4M403.5 260.9h1.4m-0.7 -0.7v1.4M402.9 259.5h1.4m-0.7 -0.7v1.4" fill="none" stroke="#6a4524" stroke-width="0.59"/>
<path d="M407.9 260.2a0.5 0.5 0 1 0 1 0a0.5 0.5 0 1 0 -1 0M385.6 271.9a0.5 0.5 0 1 0 1 0a0.5 0.5 0 1 0 -1 0M405.6 255.1a0.5 0.5 0 1 0 1 0a0.5 0.5 0 1 0 -1 0M403 259.2h1v1h-1zM387.3 265.6h1v1h-1zM391.3 265.4a0.5 0.5 0 1 0 1 0a0.5 0.5 0 1 0 -1 0" fill="#5a4a22"/>
<path d="M395.8 264.1l0.7 1.3h-1.4zM409.1 255.2l1.4 1.4m0 -1.4l-1.4 1.4M400 260.2l0.7 1.3h-1.4zM399.4 264.4a0.6 0.6 0 1 0 1.3 0a0.6 0.6 0 1 0 -1.3 0M395.6 266h1.2v1.2h-1.2zM409.6 252.5l1.4 1.4m0 -1.4l-1.4 1.4M407.6 258.4l0.7 0.7l-0.7 0.7l-0.7 -0.7zM388.7 266.7h1.2v1.2h-1.2zM397.7 264.6l0.7 0.7l-0.7 0.7l-0.7 -0.7zM388.2 265.4l0.7 1.3h-1.4zM400.6 262.5h1.2v1.2h-1.2zM400.9 266.9l1.4 1.4m0 -1.4l-1.4 1.4M398.1 261.6l0.7 0.7l-0.7 0.7l-0.7 -0.7zM408.4 256.3l0.7 0.7l-0.7 0.7l-0.7 -0.7zM397.1 264.5h1.2v1.2h-1.2zM396.7 266.3l1.4 1.4m0 -1.4l-1.4 1.4M404.5 259.4l0.7 1.3h-1.4zM403.2 259.4l0.7 1.3h-1.4zM403.4 258.2l0.7 1.3h-1.4zM397.2 262.9l0.7 0.7l-0.7 0.7l-0.7 -0.7zM397.4 262.2l1.4 1.4m0 -1.4l-1.4 1.4M393.8 264.3h1.2v1.2h-1.2zM392.1 267.2l1.4 1.4m0 -1.4l-1.4 1.4M407.8 256.6h1.2v1.2h-1.2zM411.4 257.3h1.2v1.2h-1.2zM400.2 262.7h1.2v1.2h-1.2zM389.9 265.7h1.2v1.2h-1.2zM399.2 257.4h1.2v1.2h-1.2zM400.2 262l0.7 1.3h-1.4zM403.1 261a0.6 0.6 0 1 0 1.3 0a0.6 0.6 0 1 0 -1.3 0M397.4 261.3l1.4 1.4m0 -1.4l-1.4 1.4M401.6 258.5l0.7 0.7l-0.7 0.7l-0.7 -0.7zM398.3 259.9h1.2v1.2h-1.2zM413.2 255.6l0.7 0.7l-0.7 0.7l-0.7 -0.7z" fill="none" stroke="#5a4a22" stroke-width="0.45"/>
<path d="M394.1 261h1.4m-0.7 -0.7v1.4M409.9 256h1.4m-0.7 -0.7v1.4M404.5 259.9h1.4m-0.7 -0.7v1.4M406.3 257.6h1.4m-0.7 -0.7v1.4M402.6 262.1h1.4m-0.7 -0.7v1.4M400.2 262.3h1.4m-0.7 -0.7v1.4" fill="none" stroke="#5a4a22" stroke-width="0.59"/>
<path d="M406.7 255.7a0.5 0.5 0 1 0 1 0a0.5 0.5 0 1 0 -1 0M387.5 268.2a0.5 0.5 0 1 0 1 0a0.5 0.5 0 1 0 -1 0M413.7 251.1a0.5 0.5 0 1 0 1 0a0.5 0.5 0 1 0 -1 0M403.3 257a0.5 0.5 0 1 0 1 0a0.5 0.5 0 1 0 -1 0M403 262.3a0.5 0.5 0 1 0 1 0a0.5 0.5 0 1 0 -1 0M395.1 265.8h1v1h-1zM386.7 267.7h1v1h-1zM408.7 258a0.5 0.5 0 1 0 1 0a0.5 0.5 0 1 0 -1 0M403 263.1a0.5 0.5 0 1 0 1 0a0.5 0.5 0 1 0 -1 0M401.2 256.1h1v1h-1zM397.1 259.9h1v1h-1zM392.8 261.5a0.5 0.5 0 1 0 1 0a0.5 0.5 0 1 0 -1 0M405.7 257.3a0.5 0.5 0 1 0 1 0a0.5 0.5 0 1 0 -1 0M404.2 254a0.5 0.5 0 1 0 1 0a0.5 0.5 0 1 0 -1 0M393.9 266.3h1v1h-1zM384.7 234.8h1v1h-1z" fill="#245c38"/>
<path d="M406.2 258.2h1.4m-0.7 -0.7v1.4M408.9 257.6h1.4m-0.7 -0.7v1.4M405.2 260.9h1.4m-0.7 -0.7v1.4M396.9 265.3h1.4m-0.7 -0.7v1.4M406.2 261.3h1.4m-0.7 -0.7v1.4M416.7 249.8h1.4m-0.7 -0.7v1.4" fill="none" stroke="#245c38" stroke-width="0.59"/>
<path d="M400.1 261.2a0.6 0.6 0 1 0 1.3 0a0.6 0.6 0 1 0 -1.3 0M402.2 259.6h1.2v1.2h-1.2zM397 262.3l1.4 1.4m0 -1.4l-1.4 1.4M400.5 257.1l0.7 1.3h-1.4zM400.6 259.5h1.2v1.2h-1.2zM399.6 264.6l0.7 0.7l-0.7 0.7l-0.7 -0.7zM406.6 258l0.7 0.7l-0.7 0.7l-0.7 -0.7zM402.6 258.7l0.7 1.3h-1.4zM419.1 253.3a0.6 0.6 0 1 0 1.3 0a0.6 0.6 0 1 0 -1.3 0M411.7 253.7h1.2v1.2h-1.2zM421.9 254h1.2v1.2h-1.2zM407.8 248.4l0.7 1.3h-1.4zM414.2 256.7a0.6 0.6 0 1 0 1.3 0a0.6 0.6 0 1 0 -1.3 0M410.5 254.9a0.6 0.6 0 1 0 1.3 0a0.6 0.6 0 1 0 -1.3 0M407.9 257.5h1.2v1.2h-1.2zM409.1 256.2l0.7 1.3h-1.4zM404.2 260.2h1.2v1.2h-1.2zM407.1 248l1.4 1.4m0 -1.4l-1.4 1.4M398.2 259.2a0.6 0.6 0 1 0 1.3 0a0.6 0.6 0 1 0 -1.3 0M410.5 250.5l1.4 1.4m0 -1.4l-1.4 1.4M400.8 265.2l0.7 0.7l-0.7 0.7l-0.7 -0.7zM403.4 255.3l1.4 1.4m0 -1.4l-1.4 1.4M405.5 262.6l0.7 1.3h-1.4zM404.2 258.9l0.7 0.7l-0.7 0.7l-0.7 -0.7zM399.8 258.6a0.6 0.6 0 1 0 1.3 0a0.6 0.6 0 1 0 -1.3 0M431.5 241.4h1.2v1.2h-1.2zM384.9 234.8a0.6 0.6 0 1 0 1.3 0a0.6 0.6 0 1 0 -1.3 0M391.5 248.5h1.2v1.2h-1.2z" fill="none" stroke="#245c38" stroke-width="0.45"/>
<path d="M400.5 257.6a0.5 0.5 0 1 0 1 0a0.5 0.5 0 1 0 -1 0M405 260.5a0.5 0.5 0 1 0 1 0a0.5 0.5 0 1 0 -1 0M401.2 257.8h1v1h-1zM411.6 256.3h1v1h-1zM393.8 263.4a0.5 0.5 0 1 0 1 0a0.5 0.5 0 1 0 -1 0M406.5 259.1a0.5 0.5 0 1 0 1 0a0.5 0.5 0 1 0 -1 0M401.4 261.7h1v1h-1zM399.6 260.4a0.5 0.5 0 1 0 1 0a0.5 0.5 0 1 0 -1 0M385.7 270.9a0.5 0.5 0 1 0 1 0a0.5 0.5 0 1 0 -1 0M414.4 260.4h1v1h-1zM395.5 264.4a0.5 0.5 0 1 0 1 0a0.5 0.5 0 1 0 -1 0M393.6 267.3a0.5 0.5 0 1 0 1 0a0.5 0.5 0 1 0 -1 0M404.2 256.3h1v1h-1zM403.2 259.3a0.5 0.5 0 1 0 1 0a0.5 0.5 0 1 0 -1 0M396.4 264.8h1v1h-1zM409.1 256.7h1v1h-1zM419.5 251.1a0.5 0.5 0 1 0 1 0a0.5 0.5 0 1 0 -1 0M409.6 255.1a0.5 0.5 0 1 0 1 0a0.5 0.5 0 1 0 -1 0M401.1 265a0.5 0.5 0 1 0 1 0a0.5 0.5 0 1 0 -1 0M416.8 250a0.5 0.5 0 1 0 1 0a0.5 0.5 0 1 0 -1 0" fill="#2e3288"/>
<path d="M397.2 262.5a0.6 0.6 0 1 0 1.3 0a0.6 0.6 0 1 0 -1.3 0M402.9 262.1a0.6 0.6 0 1 0 1.3 0a0.6 0.6 0 1 0 -1.3 0M401 257.2l1.4 1.4m0 -1.4l-1.4 1.4M410.7 258.5l0.7 0.7l-0.7 0.7l-0.7 -0.7zM405.3 257.2l0.7 1.3h-1.4zM417 258.7a0.6 0.6 0 1 0 1.3 0a0.6 0.6 0 1 0 -1.3 0M411.3 249.9l0.7 1.3h-1.4zM401.3 257.9h1.2v1.2h-1.2zM393.4 270.4l0.7 0.7l-0.7 0.7l-0.7 -0.7zM403.2 258l0.7 0.7l-0.7 0.7l-0.7 -0.7zM398 264.1a0.6 0.6 0 1 0 1.3 0a0.6 0.6 0 1 0 -1.3 0M409.1 256.9l0.7 0.7l-0.7 0.7l-0.7 -0.7zM392.3 267a0.6 0.6 0 1 0 1.3 0a0.6 0.6 0 1 0 -1.3 0M402.2 258.2a0.6 0.6 0 1 0 1.3 0a0.6 0.6 0 1 0 -1.3 0M385.7 269.7h1.2v1.2h-1.2zM401.7 261.7l0.7 1.3h-1.4zM406.6 251.5h1.2v1.2h-1.2zM390.6 270.1l1.4 1.4m0 -1.4l-1.4 1.4M403.6 258.9l0.7 0.7l-0.7 0.7l-0.7 -0.7zM394.3 266.9l0.7 0.7l-0.7 0.7l-0.7 -0.7zM395.5 263.9l1.4 1.4m0 -1.4l-1.4 1.4M403.2 257.9a0.6 0.6 0 1 0 1.3 0a0.6 0.6 0 1 0 -1.3 0M391.6 261.7l1.4 1.4m0 -1.4l-1.4 1.4M389.3 267.6l0.7 0.7l-0.7 0.7l-0.7 -0.7zM396.6 263.7l0.7 0.7l-0.7 0.7l-0.7 -0.7zM397.4 267.1h1.2v1.2h-1.2zM405.9 259.6l0.7 1.3h-1.4zM408.2 259.2l0.7 0.7l-0.7 0.7l-0.7 -0.7zM398.9 260.3h1.2v1.2h-1.2zM411.1 258l0.7 0.7l-0.7 0.7l-0.7 -0.7zM397 259a0.6 0.6 0 1 0 1.3 0a0.6 0.6 0 1 0 -1.3 0M400.4 254.9l1.4 1.4m0 -1.4l-1.4 1.4M410.4 253.7l1.4 1.4m0 -1.4l-1.4 1.4M398.1 261.4l1.4 1.4m0 -1.4l-1.4 1.4M402.4 263.4a0.6 0.6 0 1 0 1.3 0a0.6 0.6 0 1 0 -1.3 0M400.5 262.6l1.4 1.4m0 -1.4l-1.4 1.4M403.2 259.9l1.4 1.4m0 -1.4l-1.4 1.4M400.4 262.2l0.7 0.7l-0.7 0.7l-0.7 -0.7zM394 264.9l0.7 1.3h-1.4zM401.9 260.4l1.4 1.4m0 -1.4l-1.4 1.4M414.8 260.5a0.6 0.6 0 1 0 1.3 0a0.6 0.6 0 1 0 -1.3 0M385.3 271.3l0.7 0.7l-0.7 0.7l-0.7 -0.7zM412.4 262l0.7 0.7l-0.7 0.7l-0.7 -0.7zM419.1 244.9l1.4 1.4m0 -1.4l-1.4 1.4M416.7 251.2h1.2v1.2h-1.2zM389.7 263.4l0.7 1.3h-1.4zM412.3 252.8l0.7 0.7l-0.7 0.7l-0.7 -0.7zM401.6 258.3a0.6 0.6 0 1 0 1.3 0a0.6 0.6 0 1 0 -1.3 0M395.3 261.7l1.4 1.4m0 -1.4l-1.4 1.4M392.8 269.1a0.6 0.6 0 1 0 1.3 0a0.6 0.6 0 1 0 -1.3 0M402.1 260.8l0.7 0.7l-0.7 0.7l-0.7 -0.7zM410.6 251.2l1.4 1.4m0 -1.4l-1.4 1.4M401.1 264.4l0.7 1.3h-1.4zM399.9 263.4l0.7 1.3h-1.4zM416.1 240.5l0.7 1.3h-1.4zM386.8 267h1.2v1.2h-1.2zM404.1 260.5l1.4 1.4m0 -1.4l-1.4 1.4M396.7 259.8a0.6 0.6 0 1 0 1.3 0a0.6 0.6 0 1 0 -1.3 0M403.7 263.5l0.7 0.7l-0.7 0.7l-0.7 -0.7zM411.5 258.1l1.4 1.4m0 -1.4l-1.4 1.4M407.3 259.8l0.7 0.7l-0.7 0.7l-0.7 -0.7zM407.6 261.8a0.6 0.6 0 1 0 1.3 0a0.6 0.6 0 1 0 -1.3 0M430.6 241.7l1.4 1.4m0 -1.4l-1.4 1.4M488.2 191.5l1.4 1.4m0 -1.4l-1.4 1.4" fill="none" stroke="#2e3288" stroke-width="0.45"/>
<path d="M401.8 258.8h1.4m-0.7 -0.7v1.4M390.2 265.3h1.4m-0.7 -0.7v1.4M410.7 250.4h1.4m-0.7 -0.7v1.4M390.7 264.9h1.4m-0.7 -0.7v1.4M384.8 270h1.4m-0.7 -0.7v1.4M403.1 260.7h1.4m-0.7 -0.7v1.4M409.8 253h1.4m-0.7 -0.7v1.4M400.6 262.3h1.4m-0.7 -0.7v1.4" fill="none" stroke="#2e3288" stroke-width="0.59"/>
<path d="M81.3 396.9l0.7 0.7l-0.7 0.7l-0.7 -0.7zM75.6 416l0.7 1.3h-1.4zM69.8 420.2l1.4 1.4m0 -1.4l-1.4 1.4M66.1 414.4l0.7 1.3h-1.4zM59.3 414.5l0.7 0.7l-0.7 0.7l-0.7 -0.7zM69.4 416.5l0.7 1.3h-1.4zM64.2 413.2l0.7 1.3h-1.4z" fill="none" stroke="#e8b420" stroke-width="0.45"/>
<path d="M74.5 398.5h1v1h-1zM108.7 390.5a0.5 0.5 0 1 0 1 0a0.5 0.5 0 1 0 -1 0M45.8 424.8h1v1h-1zM66.5 407.8h1v1h-1zM73 405.3h1v1h-1z" fill="#e8b420"/>
<path d="M57.6 422.3h1.4m-0.7 -0.7v1.4M73.8 398.9h1.4m-0.7 -0.7v1.4" fill="none" stroke="#e8b420" stroke-width="0.59"/>
<path d="M63.2 415.2l0.7 1.3h-1.4zM94.5 393a0.6 0.6 0 1 0 1.3 0a0.6 0.6 0 1 0 -1.3 0M45.8 434.1a0.6 0.6 0 1 0 1.3 0a0.6 0.6 0 1 0 -1.3 0M60.7 430.2h1.2v1.2h-1.2zM50.7 418.5l0.7 1.3h-1.4z" fill="none" stroke="#e27a1c" stroke-width="0.45"/>
<path d="M86.1 406.5h1.4m-0.7 -0.7v1.4M81 413h1.4m-0.7 -0.7v1.4" fill="none" stroke="#e27a1c" stroke-width="0.59"/>
<path d="M139.4 378.1a0.5 0.5 0 1 0 1 0a0.5 0.5 0 1 0 -1 0M147.2 371.1h1v1h-1z" fill="#e27a1c"/>
<path d="M62.9 416.8l1.4 1.4m0 -1.4l-1.4 1.4M102.2 390.3l1.4 1.4m0 -1.4l-1.4 1.4M57.7 420.7l0.7 1.3h-1.4zM34.8 422.4h1.2v1.2h-1.2zM75.1 410.3a0.6 0.6 0 1 0 1.3 0a0.6 0.6 0 1 0 -1.3 0M57.5 417.7l0.7 0.7l-0.7 0.7l-0.7 -0.7zM83.9 399.9h1.2v1.2h-1.2zM86.9 393.3h1.2v1.2h-1.2zM82.6 403h1.2v1.2h-1.2zM61.5 415.7l0.7 1.3h-1.4zM67 412.8l0.7 0.7l-0.7 0.7l-0.7 -0.7zM47 437.1a0.6 0.6 0 1 0 1.3 0a0.6 0.6 0 1 0 -1.3 0M108.8 376.6l0.7 0.7l-0.7 0.7l-0.7 -0.7zM89.5 377.8l0.7 1.3h-1.4z" fill="none" stroke="#3d7cc8" stroke-width="0.45"/>
<path d="M79.7 397.1h1v1h-1zM85.7 400.1a0.5 0.5 0 1 0 1 0a0.5 0.5 0 1 0 -1 0M94.7 392.5a0.5 0.5 0 1 0 1 0a0.5 0.5 0 1 0 -1 0M153.5 367.5a0.5 0.5 0 1 0 1 0a0.5 0.5 0 1 0 -1 0" fill="#3d7cc8"/>
<path d="M72.1 405.3h1.4m-0.7 -0.7v1.4M78.1 419.6h1.4m-0.7 -0.7v1.4M49.1 425h1.4m-0.7 -0.7v1.4M115.3 381.9h1.4m-0.7 -0.7v1.4M84.1 438.5h1.4m-0.7 -0.7v1.4" fill="none" stroke="#3d7cc8" stroke-width="0.59"/>
<path d="M42.7 431.8a0.6 0.6 0 1 0 1.3 0a0.6 0.6 0 1 0 -1.3 0M42.2 426.2l1.4 1.4m0 -1.4l-1.4 1.4M85 398l0.7 0.7l-0.7 0.7l-0.7 -0.7zM84.8 405.8l1.4 1.4m0 -1.4l-1.4 1.4M71.1 412.1l0.7 0.7l-0.7 0.7l-0.7 -0.7zM60.9 428.7l1.4 1.4m0 -1.4l-1.4 1.4M42.3 431.9l1.4 1.4m0 -1.4l-1.4 1.4M39.1 423.9a0.6 0.6 0 1 0 1.3 0a0.6 0.6 0 1 0 -1.3 0M96.7 392.8l0.7 1.3h-1.4zM92.9 398l0.7 0.7l-0.7 0.7l-0.7 -0.7zM78.8 407.6l1.4 1.4m0 -1.4l-1.4 1.4M136.9 366.3l0.7 1.3h-1.4z" fill="none" stroke="#2f9a45" stroke-width="0.45"/>
<path d="M60 429.1h1v1h-1zM91.2 403.9h1v1h-1zM58.9 428.4a0.5 0.5 0 1 0 1 0a0.5 0.5 0 1 0 -1 0" fill="#2f9a45"/>
<path d="M53.8 423.7h1.4m-0.7 -0.7v1.4M64 418h1.4m-0.7 -0.7v1.4" fill="none" stroke="#2f9a45" stroke-width="0.59"/>
<path d="M60.9 417l0.7 1.3h-1.4zM101.4 396.5h1.2v1.2h-1.2zM68 423.4l0.7 1.3h-1.4zM69.1 410a0.6 0.6 0 1 0 1.3 0a0.6 0.6 0 1 0 -1.3 0M64.3 420.5l0.7 1.3h-1.4zM63.4 416.5l0.7 1.3h-1.4zM56.4 415.4l0.7 1.3h-1.4zM85.1 401.2l0.7 0.7l-0.7 0.7l-0.7 -0.7zM83.8 411.5l1.4 1.4m0 -1.4l-1.4 1.4M93.5 402.3l0.7 0.7l-0.7 0.7l-0.7 -0.7zM87 400.5l0.7 1.3h-1.4zM79.4 410.8h1.2v1.2h-1.2zM68.7 413.9l0.7 1.3h-1.4zM73.3 416.9l1.4 1.4m0 -1.4l-1.4 1.4M57.3 424.3a0.6 0.6 0 1 0 1.3 0a0.6 0.6 0 1 0 -1.3 0M77.1 410.1l0.7 1.3h-1.4zM57.3 418.8l0.7 0.7l-0.7 0.7l-0.7 -0.7z" fill="none" stroke="#6d7a25" stroke-width="0.45"/>
<path d="M81.4 400.2h1v1h-1zM55.4 418.9a0.5 0.5 0 1 0 1 0a0.5 0.5 0 1 0 -1 0M95.3 403.9h1v1h-1zM50.2 415.9h1v1h-1zM49.5 431.9a0.5 0.5 0 1 0 1 0a0.5 0.5 0 1 0 -1 0M56 367h1v1h-1zM154.5 377.5h1v1h-1z" fill="#6d7a25"/>
<path d="M72.9 408.4h1.4m-0.7 -0.7v1.4" fill="none" stroke="#6d7a25" stroke-width="0.59"/>
<path d="M61.8 414h1.4m-0.7 -0.7v1.4M83.8 411.4h1.4m-0.7 -0.7v1.4M70.9 413h1.4m-0.7 -0.7v1.4" fill="none" stroke="#6d58b8" stroke-width="0.59"/>
<path d="M60.5 423.7l0.7 0.7l-0.7 0.7l-0.7 -0.7zM58.8 415l0.7 1.3h-1.4zM92.3 396.6a0.6 0.6 0 1 0 1.3 0a0.6 0.6 0 1 0 -1.3 0M61.3 430.7a0.6 0.6 0 1 0 1.3 0a0.6 0.6 0 1 0 -1.3 0M61.3 417.3l1.4 1.4m0 -1.4l-1.4 1.4M35.7 427.8a0.6 0.6 0 1 0 1.3 0a0.6 0.6 0 1 0 -1.3 0M44.7 435.8l1.4 1.4m0 -1.4l-1.4 1.4M76.4 415l1.4 1.4m0 -1.4l-1.4 1.4M85.2 437a0.6 0.6 0 1 0 1.3 0a0.6 0.6 0 1 0 -1.3 0M67.4 440a0.6 0.6 0 1 0 1.3 0a0.6 0.6 0 1 0 -1.3 0M37.5 437.8l0.7 0.7l-0.7 0.7l-0.7 -0.7zM131.9 385a0.6 0.6 0 1 0 1.3 0a0.6 0.6 0 1 0 -1.3 0" fill="none" stroke="#6d58b8" stroke-width="0.45"/>
<path d="M64.1 406.7h1v1h-1zM64.5 408.8h1v1h-1zM83.1 405.3h1v1h-1zM58.7 421.8h1v1h-1z" fill="#6d58b8"/>
<path d="M57.2 419a0.5 0.5 0 1 0 1 0a0.5 0.5 0 1 0 -1 0M55.5 416.7h1v1h-1zM69.5 404.5h1v1h-1zM61.6 412.7h1v1h-1zM85.5 401.9h1v1h-1z" fill="#a5465c"/>
<path d="M79.2 392.3h1.2v1.2h-1.2zM77.7 402.1l0.7 0.7l-0.7 0.7l-0.7 -0.7zM72.5 421.7h1.2v1.2h-1.2zM65.2 419.3l0.7 0.7l-0.7 0.7l-0.7 -0.7zM80.3 419l1.4 1.4m0 -1.4l-1.4 1.4M63.9 411.9l0.7 1.3h-1.4zM53.2 414.4l0.7 0.7l-0.7 0.7l-0.7 -0.7zM129.9 388.3l1.4 1.4m0 -1.4l-1.4 1.4" fill="none" stroke="#a5465c" stroke-width="0.45"/>
<path d="M62.8 408.8h1.4m-0.7 -0.7v1.4" fill="none" stroke="#a5465c" stroke-width="0.59"/>
<path d="M69.4 407.1l1.4 1.4m0 -1.4l-1.4 1.4M89.3 399.2l1.4 1.4m0 -1.4l-1.4 1.4M81.9 396.6l1.4 1.4m0 -1.4l-1.4 1.4M35.8 425.5l0.7 0.7l-0.7 0.7l-0.7 -0.7zM58.9 423.7l0.7 1.3h-1.4zM52.2 423l1.4 1.4m0 -1.4l-1.4 1.4M56 389.3l0.7 1.3h-1.4zM35 436.3l0.7 0.7l-0.7 0.7l-0.7 -0.7zM135 365.8l0.7 0.7l-0.7 0.7l-0.7 -0.7z" fill="none" stroke="#c8302f" stroke-width="0.45"/>
<path d="M75.3 404.9a0.5 0.5 0 1 0 1 0a0.5 0.5 0 1 0 -1 0M47.2 422.3a0.5 0.5 0 1 0 1 0a0.5 0.5 0 1 0 -1 0M40.1 426.7h1v1h-1zM66 421.4a0.5 0.5 0 1 0 1 0a0.5 0.5 0 1 0 -1 0M48.4 424.2h1v1h-1zM131.5 367a0.5 0.5 0 1 0 1 0a0.5 0.5 0 1 0 -1 0" fill="#c8302f"/>
<path d="M63.9 417h1v1h-1z" fill="#6a4524"/>
<path d="M57.5 424.9h1.4m-0.7 -0.7v1.4" fill="none" stroke="#6a4524" stroke-width="0.59"/>
<path d="M63 420.8a0.6 0.6 0 1 0 1.3 0a0.6 0.6 0 1 0 -1.3 0M63.2 416.5a0.6 0.6 0 1 0 1.3 0a0.6 0.6 0 1 0 -1.3 0M46.9 428.3a0.6 0.6 0 1 0 1.3 0a0.6 0.6 0 1 0 -1.3 0M64 411.8a0.6 0.6 0 1 0 1.3 0a0.6 0.6 0 1 0 -1.3 0M88 400l1.4 1.4m0 -1.4l-1.4 1.4" fill="none" stroke="#6a4524" stroke-width="0.45"/>
<path d="M54.3 422.5h1.2v1.2h-1.2zM46.3 419.3a0.6 0.6 0 1 0 1.3 0a0.6 0.6 0 1 0 -1.3 0M81.4 412.4l0.7 1.3h-1.4zM62.2 410.1h1.2v1.2h-1.2zM51.6 417.4h1.2v1.2h-1.2zM68.6 413.6l0.7 1.3h-1.4z" fill="none" stroke="#5a4a22" stroke-width="0.45"/>
<path d="M61.8 418a0.5 0.5 0 1 0 1 0a0.5 0.5 0 1 0 -1 0M72.4 411.4a0.5 0.5 0 1 0 1 0a0.5 0.5 0 1 0 -1 0M132.9 374.3a0.5 0.5 0 1 0 1 0a0.5 0.5 0 1 0 -1 0" fill="#5a4a22"/>
<path d="M61.4 418h1.4m-0.7 -0.7v1.4" fill="none" stroke="#5a4a22" stroke-width="0.59"/>
<path d="M68.3 412.1h1.2v1.2h-1.2zM69.3 397.5h1.2v1.2h-1.2zM69.9 411.6l1.4 1.4m0 -1.4l-1.4 1.4M92.5 398.6h1.2v1.2h-1.2zM60.7 408.5l1.4 1.4m0 -1.4l-1.4 1.4M136.5 372.4h1.2v1.2h-1.2zM60.6 385a0.6 0.6 0 1 0 1.3 0a0.6 0.6 0 1 0 -1.3 0" fill="none" stroke="#245c38" stroke-width="0.45"/>
<path d="M70.9 400.4a0.5 0.5 0 1 0 1 0a0.5 0.5 0 1 0 -1 0M98.3 389.4a0.5 0.5 0 1 0 1 0a0.5 0.5 0 1 0 -1 0M52.7 414.9a0.5 0.5 0 1 0 1 0a0.5 0.5 0 1 0 -1 0" fill="#245c38"/>
<path d="M63 422.5h1.4m-0.7 -0.7v1.4M57.6 415.6h1.4m-0.7 -0.7v1.4" fill="none" stroke="#245c38" stroke-width="0.59"/>
<path d="M95 397.9l0.7 0.7l-0.7 0.7l-0.7 -0.7zM65.7 415.5l0.7 0.7l-0.7 0.7l-0.7 -0.7zM94.2 387.3h1.2v1.2h-1.2zM70.5 409.9l0.7 0.7l-0.7 0.7l-0.7 -0.7zM43.9 431.9l1.4 1.4m0 -1.4l-1.4 1.4M55.1 421.8l0.7 1.3h-1.4zM59.7 408.3l0.7 1.3h-1.4zM76.9 416.5a0.6 0.6 0 1 0 1.3 0a0.6 0.6 0 1 0 -1.3 0M62 419.4l0.7 1.3h-1.4zM58.7 418.5a0.6 0.6 0 1 0 1.3 0a0.6 0.6 0 1 0 -1.3 0M68.2 419.4a0.6 0.6 0 1 0 1.3 0a0.6 0.6 0 1 0 -1.3 0M68 417.5a0.6 0.6 0 1 0 1.3 0a0.6 0.6 0 1 0 -1.3 0" fill="none" stroke="#2e3288" stroke-width="0.45"/>
<path d="M70.1 408.4a0.5 0.5 0 1 0 1 0a0.5 0.5 0 1 0 -1 0M42.3 428.6a0.5 0.5 0 1 0 1 0a0.5 0.5 0 1 0 -1 0M62.2 417.2h1v1h-1zM99.4 384.8h1v1h-1zM62.9 411.8a0.5 0.5 0 1 0 1 0a0.5 0.5 0 1 0 -1 0M63 419h1v1h-1zM76.4 419.8h1v1h-1zM159 357a0.5 0.5 0 1 0 1 0a0.5 0.5 0 1 0 -1 0" fill="#2e3288"/>
<path d="M75.7 409.1h1.4m-0.7 -0.7v1.4M63.6 415.9h1.4m-0.7 -0.7v1.4M75.5 422.8h1.4m-0.7 -0.7v1.4" fill="none" stroke="#2e3288" stroke-width="0.59"/>
<path d="M260.3 426a0.5 0.5 0 1 0 1 0a0.5 0.5 0 1 0 -1 0M271.8 419.7h1v1h-1zM261.6 420.6h1v1h-1z" fill="#e8b420"/>
<path d="M242.7 428.1l0.7 1.3h-1.4zM267.1 425.8l0.7 1.3h-1.4zM277.6 424.9h1.2v1.2h-1.2zM241.7 424.7l0.7 1.3h-1.4zM266.6 418.4h1.2v1.2h-1.2zM278.7 424.7l0.7 1.3h-1.4zM298.4 422.5l0.7 0.7l-0.7 0.7l-0.7 -0.7zM307.6 414.2l1.4 1.4m0 -1.4l-1.4 1.4M249.5 423.1a0.6 0.6 0 1 0 1.3 0a0.6 0.6 0 1 0 -1.3 0M335.3 420.1l0.7 0.7l-0.7 0.7l-0.7 -0.7z" fill="none" stroke="#e8b420" stroke-width="0.45"/>
<path d="M246 421.5h1.4m-0.7 -0.7v1.4M323.6 409.3h1.4m-0.7 -0.7v1.4" fill="none" stroke="#e8b420" stroke-width="0.59"/>
<path d="M223.3 425.3a0.6 0.6 0 1 0 1.3 0a0.6 0.6 0 1 0 -1.3 0M253.1 421h1.2v1.2h-1.2zM245 433.5l0.7 1.3h-1.4zM242.4 426.8l1.4 1.4m0 -1.4l-1.4 1.4M296.4 415.7l0.7 0.7l-0.7 0.7l-0.7 -0.7zM295.5 415.9l1.4 1.4m0 -1.4l-1.4 1.4M268.6 416.2l1.4 1.4m0 -1.4l-1.4 1.4M211.2 433.8l1.4 1.4m0 -1.4l-1.4 1.4M226.9 426a0.6 0.6 0 1 0 1.3 0a0.6 0.6 0 1 0 -1.3 0M271.9 420h1.2v1.2h-1.2zM251.2 429.7l0.7 0.7l-0.7 0.7l-0.7 -0.7zM292.1 409.8h1.2v1.2h-1.2z" fill="none" stroke="#e27a1c" stroke-width="0.45"/>
<path d="M267.8 420.3h1v1h-1zM226 431.4h1v1h-1zM269.5 417.2h1v1h-1zM232.5 409.1a0.5 0.5 0 1 0 1 0a0.5 0.5 0 1 0 -1 0" fill="#e27a1c"/>
<path d="M233.9 426.1h1.4m-0.7 -0.7v1.4" fill="none" stroke="#e27a1c" stroke-width="0.59"/>
<path d="M307.4 412.5l0.7 0.7l-0.7 0.7l-0.7 -0.7zM243.2 428.2l0.7 1.3h-1.4zM246.4 425.5l1.4 1.4m0 -1.4l-1.4 1.4M254.9 424.8l0.7 0.7l-0.7 0.7l-0.7 -0.7zM246.9 426.5l0.7 1.3h-1.4zM240.1 426.3a0.6 0.6 0 1 0 1.3 0a0.6 0.6 0 1 0 -1.3 0M275.4 416.6l0.7 1.3h-1.4zM230.9 422.5a0.6 0.6 0 1 0 1.3 0a0.6 0.6 0 1 0 -1.3 0M245.4 420.7l1.4 1.4m0 -1.4l-1.4 1.4M243.3 423.8l0.7 1.3h-1.4zM257 422.7l0.7 1.3h-1.4zM243.3 428.4l0.7 0.7l-0.7 0.7l-0.7 -0.7zM273.8 420.5l1.4 1.4m0 -1.4l-1.4 1.4M219 427.6h1.2v1.2h-1.2zM267.3 421.7l0.7 0.7l-0.7 0.7l-0.7 -0.7zM222.4 424.5h1.2v1.2h-1.2zM297.2 420.3h1.2v1.2h-1.2zM258.6 425l0.7 0.7l-0.7 0.7l-0.7 -0.7zM249.8 428.3a0.6 0.6 0 1 0 1.3 0a0.6 0.6 0 1 0 -1.3 0M266 398.5l0.7 1.3h-1.4zM282.4 405.8l0.7 0.7l-0.7 0.7l-0.7 -0.7z" fill="none" stroke="#3d7cc8" stroke-width="0.45"/>
<path d="M243.8 428.4a0.5 0.5 0 1 0 1 0a0.5 0.5 0 1 0 -1 0M272 421.6a0.5 0.5 0 1 0 1 0a0.5 0.5 0 1 0 -1 0M246.8 424.8h1v1h-1zM267.2 419.2a0.5 0.5 0 1 0 1 0a0.5 0.5 0 1 0 -1 0M257.4 420.7h1v1h-1z" fill="#3d7cc8"/>
<path d="M236.8 428.4h1.4m-0.7 -0.7v1.4" fill="none" stroke="#3d7cc8" stroke-width="0.59"/>
<path d="M236.9 428.3h1.4m-0.7 -0.7v1.4" fill="none" stroke="#2f9a45" stroke-width="0.59"/>
<path d="M235.2 425l0.7 1.3h-1.4zM254.7 424.9l0.7 1.3h-1.4zM245.9 429.9l1.4 1.4m0 -1.4l-1.4 1.4M244.5 419.8h1.2v1.2h-1.2zM242.5 424l0.7 1.3h-1.4zM238 424.9l1.4 1.4m0 -1.4l-1.4 1.4M290.4 417.6l0.7 1.3h-1.4z" fill="none" stroke="#2f9a45" stroke-width="0.45"/>
<path d="M264.1 419.5h1v1h-1zM269.5 425.9a0.5 0.5 0 1 0 1 0a0.5 0.5 0 1 0 -1 0M237.6 431.3a0.5 0.5 0 1 0 1 0a0.5 0.5 0 1 0 -1 0M241.3 424.2h1v1h-1z" fill="#2f9a45"/>
<path d="M239.1 430h1v1h-1zM224.1 430.2a0.5 0.5 0 1 0 1 0a0.5 0.5 0 1 0 -1 0M256.7 422.5a0.5 0.5 0 1 0 1 0a0.5 0.5 0 1 0 -1 0M265.3 423.1a0.5 0.5 0 1 0 1 0a0.5 0.5 0 1 0 -1 0M238.9 429.4h1v1h-1zM274.8 413.1a0.5 0.5 0 1 0 1 0a0.5 0.5 0 1 0 -1 0M312.2 399.5h1v1h-1z" fill="#6d7a25"/>
<path d="M246 425.7l0.7 0.7l-0.7 0.7l-0.7 -0.7zM254.4 424.9l0.7 1.3h-1.4zM244.4 427.9h1.2v1.2h-1.2zM220.1 431.3a0.6 0.6 0 1 0 1.3 0a0.6 0.6 0 1 0 -1.3 0M263 426.4a0.6 0.6 0 1 0 1.3 0a0.6 0.6 0 1 0 -1.3 0M251.4 431.3l1.4 1.4m0 -1.4l-1.4 1.4M237.1 433.2l0.7 1.3h-1.4zM265.6 422.2h1.2v1.2h-1.2zM231.9 433.5h1.2v1.2h-1.2zM289.2 414.3l0.7 1.3h-1.4zM241 432.9l1.4 1.4m0 -1.4l-1.4 1.4" fill="none" stroke="#6d7a25" stroke-width="0.45"/>
<path d="M238.2 432h1.4m-0.7 -0.7v1.4M229.5 427h1.4m-0.7 -0.7v1.4" fill="none" stroke="#6d7a25" stroke-width="0.59"/>
<path d="M263.4 423l0.7 1.3h-1.4zM231.4 425.1l0.7 0.7l-0.7 0.7l-0.7 -0.7zM292 410.6l0.7 0.7l-0.7 0.7l-0.7 -0.7zM224.5 437.8a0.6 0.6 0 1 0 1.3 0a0.6 0.6 0 1 0 -1.3 0M245.7 426.3h1.2v1.2h-1.2zM216.6 431.2h1.2v1.2h-1.2zM221 431.2l1.4 1.4m0 -1.4l-1.4 1.4M249.4 427.4l1.4 1.4m0 -1.4l-1.4 1.4M257.9 427.5l0.7 0.7l-0.7 0.7l-0.7 -0.7zM281.1 358.6l0.7 0.7l-0.7 0.7l-0.7 -0.7zM231 372.1l1.4 1.4m0 -1.4l-1.4 1.4M236.7 372.1l0.7 1.3h-1.4zM312.2 412.3l0.7 1.3h-1.4zM305.6 428a0.6 0.6 0 1 0 1.3 0a0.6 0.6 0 1 0 -1.3 0" fill="none" stroke="#6d58b8" stroke-width="0.45"/>
<path d="M236.4 433.2h1v1h-1zM230.3 425a0.5 0.5 0 1 0 1 0a0.5 0.5 0 1 0 -1 0M242.9 428.5h1v1h-1zM287.2 421.5a0.5 0.5 0 1 0 1 0a0.5 0.5 0 1 0 -1 0M249.1 406.8h1v1h-1z" fill="#6d58b8"/>
<path d="M229 428.9h1.4m-0.7 -0.7v1.4M252.1 425.5h1.4m-0.7 -0.7v1.4M264.1 427.1h1.4m-0.7 -0.7v1.4M252.2 424.6h1.4m-0.7 -0.7v1.4M254.5 427.5h1.4m-0.7 -0.7v1.4M304.5 411.1h1.4m-0.7 -0.7v1.4M267.3 406.5h1.4m-0.7 -0.7v1.4" fill="none" stroke="#6d58b8" stroke-width="0.59"/>
<path d="M257.4 413h1.2v1.2h-1.2zM258 419.6h1.2v1.2h-1.2zM257.3 424.4l1.4 1.4m0 -1.4l-1.4 1.4M249.2 425.6l0.7 0.7l-0.7 0.7l-0.7 -0.7zM301 409.8h1.2v1.2h-1.2z" fill="none" stroke="#a5465c" stroke-width="0.45"/>
<path d="M261.7 424.6h1v1h-1zM231.8 422.6h1v1h-1zM257.1 427.2a0.5 0.5 0 1 0 1 0a0.5 0.5 0 1 0 -1 0" fill="#a5465c"/>
<path d="M214.9 436.5h1.4m-0.7 -0.7v1.4" fill="none" stroke="#a5465c" stroke-width="0.59"/>
<path d="M235.4 423.3l0.7 0.7l-0.7 0.7l-0.7 -0.7zM262.2 428.1l0.7 1.3h-1.4zM225.7 431.5h1.2v1.2h-1.2zM239.2 420.7l0.7 1.3h-1.4zM261.1 424.6l1.4 1.4m0 -1.4l-1.4 1.4M281.8 420.2h1.2v1.2h-1.2zM265.8 414l0.7 1.3h-1.4zM272.5 415.9a0.6 0.6 0 1 0 1.3 0a0.6 0.6 0 1 0 -1.3 0M235.6 427.2l0.7 0.7l-0.7 0.7l-0.7 -0.7zM226.4 430.5l0.7 1.3h-1.4zM307.9 424l0.7 0.7l-0.7 0.7l-0.7 -0.7zM281 401.3a0.6 0.6 0 1 0 1.3 0a0.6 0.6 0 1 0 -1.3 0M243.4 411.5l0.7 0.7l-0.7 0.7l-0.7 -0.7z" fill="none" stroke="#c8302f" stroke-width="0.45"/>
<path d="M243.8 428.8h1.4m-0.7 -0.7v1.4M246.7 429h1.4m-0.7 -0.7v1.4" fill="none" stroke="#c8302f" stroke-width="0.59"/>
<path d="M254.1 425.6h1v1h-1zM277.2 416.2h1v1h-1zM244.2 428.5h1v1h-1z" fill="#c8302f"/>
<path d="M249.9 422.8l0.7 0.7l-0.7 0.7l-0.7 -0.7zM288.4 416.6h1.2v1.2h-1.2zM263.5 421.5l0.7 1.3h-1.4zM262.2 428.4h1.2v1.2h-1.2zM253.9 423.2h1.2v1.2h-1.2zM266.3 421.1a0.6 0.6 0 1 0 1.3 0a0.6 0.6 0 1 0 -1.3 0M267.1 421.7l1.4 1.4m0 -1.4l-1.4 1.4M263.2 419l1.4 1.4m0 -1.4l-1.4 1.4" fill="none" stroke="#6a4524" stroke-width="0.45"/>
<path d="M267.7 421.2l0.7 0.7l-0.7 0.7l-0.7 -0.7zM262.4 425.5l1.4 1.4m0 -1.4l-1.4 1.4M273 424.5a0.6 0.6 0 1 0 1.3 0a0.6 0.6 0 1 0 -1.3 0M248.7 422.6h1.2v1.2h-1.2zM244 433.9h1.2v1.2h-1.2zM281.4 417.5l0.7 1.3h-1.4zM258.1 422.9l0.7 1.3h-1.4zM287.9 396.7l1.4 1.4m0 -1.4l-1.4 1.4" fill="none" stroke="#5a4a22" stroke-width="0.45"/>
<path d="M256.3 414.9h1.4m-0.7 -0.7v1.4" fill="none" stroke="#5a4a22" stroke-width="0.59"/>
<path d="M265.2 421a0.5 0.5 0 1 0 1 0a0.5 0.5 0 1 0 -1 0" fill="#5a4a22"/>
<path d="M265.3 422.2h1v1h-1zM229.5 432a0.5 0.5 0 1 0 1 0a0.5 0.5 0 1 0 -1 0M256.4 401.3a0.5 0.5 0 1 0 1 0a0.5 0.5 0 1 0 -1 0" fill="#245c38"/>
<path d="M238.6 427.1h1.2v1.2h-1.2zM261.1 424.1l0.7 0.7l-0.7 0.7l-0.7 -0.7zM259.3 426.4a0.6 0.6 0 1 0 1.3 0a0.6 0.6 0 1 0 -1.3 0M244 425l0.7 0.7l-0.7 0.7l-0.7 -0.7zM245.3 418.5l1.4 1.4m0 -1.4l-1.4 1.4M258.1 429.3l0.7 0.7l-0.7 0.7l-0.7 -0.7z" fill="none" stroke="#245c38" stroke-width="0.45"/>
<path d="M245.4 426.2h1.4m-0.7 -0.7v1.4" fill="none" stroke="#245c38" stroke-width="0.59"/>
<path d="M220.8 424.2l0.7 0.7l-0.7 0.7l-0.7 -0.7zM220.1 430.6h1.2v1.2h-1.2zM244.1 422a0.6 0.6 0 1 0 1.3 0a0.6 0.6 0 1 0 -1.3 0M267.8 424.4l0.7 1.3h-1.4zM235.1 434.4h1.2v1.2h-1.2zM232.4 426.2h1.2v1.2h-1.2zM250.3 428h1.2v1.2h-1.2zM267.5 414.3l0.7 0.7l-0.7 0.7l-0.7 -0.7zM257.7 422.8l1.4 1.4m0 -1.4l-1.4 1.4M266.5 420.8h1.2v1.2h-1.2zM261.9 424.7l0.7 0.7l-0.7 0.7l-0.7 -0.7zM234.3 429l0.7 0.7l-0.7 0.7l-0.7 -0.7zM267.2 419.3l0.7 1.3h-1.4z" fill="none" stroke="#2e3288" stroke-width="0.45"/>
<path d="M228 431.8h1v1h-1zM229.3 423a0.5 0.5 0 1 0 1 0a0.5 0.5 0 1 0 -1 0M262.5 422h1v1h-1z" fill="#2e3288"/>
<path d="M280.3 424.1h1.4m-0.7 -0.7v1.4M287.1 419.6h1.4m-0.7 -0.7v1.4M253.3 431.6h1.4m-0.7 -0.7v1.4" fill="none" stroke="#2e3288" stroke-width="0.59"/>
<path d="M417.9 418.8l1.4 1.4m0 -1.4l-1.4 1.4M406.7 415.9l0.7 1.3h-1.4zM430 416.2l1.4 1.4m0 -1.4l-1.4 1.4M387.7 436.6a0.6 0.6 0 1 0 1.3 0a0.6 0.6 0 1 0 -1.3 0M403.1 430.4l1.4 1.4m0 -1.4l-1.4 1.4M413 422.5l1.4 1.4m0 -1.4l-1.4 1.4M399.3 422.1a0.6 0.6 0 1 0 1.3 0a0.6 0.6 0 1 0 -1.3 0M457.8 413.8l0.7 1.3h-1.4zM485.7 402.9a0.6 0.6 0 1 0 1.3 0a0.6 0.6 0 1 0 -1.3 0M471.2 401.7a0.6 0.6 0 1 0 1.3 0a0.6 0.6 0 1 0 -1.3 0" fill="none" stroke="#e8b420" stroke-width="0.45"/>
<path d="M436.9 407.7h1.4m-0.7 -0.7v1.4" fill="none" stroke="#e8b420" stroke-width="0.59"/>
<path d="M445.5 406.4a0.5 0.5 0 1 0 1 0a0.5 0.5 0 1 0 -1 0M414.6 424.6h1v1h-1zM408.4 425.9a0.5 0.5 0 1 0 1 0a0.5 0.5 0 1 0 -1 0M431.4 416.7h1v1h-1zM456.3 406.4h1v1h-1z" fill="#e27a1c"/>
<path d="M402 423.7l0.7 0.7l-0.7 0.7l-0.7 -0.7zM413 432.5l0.7 0.7l-0.7 0.7l-0.7 -0.7zM418.2 414.8l1.4 1.4m0 -1.4l-1.4 1.4M423.2 413.2l0.7 0.7l-0.7 0.7l-0.7 -0.7zM437.8 412.9l1.4 1.4m0 -1.4l-1.4 1.4M459.8 392.9h1.2v1.2h-1.2z" fill="none" stroke="#e27a1c" stroke-width="0.45"/>
<path d="M388.9 427.8h1.4m-0.7 -0.7v1.4M393.9 436.3h1.4m-0.7 -0.7v1.4" fill="none" stroke="#e27a1c" stroke-width="0.59"/>
<path d="M405.4 420.2l0.7 1.3h-1.4zM418.8 413.1l0.7 1.3h-1.4zM409.8 420.5h1.2v1.2h-1.2zM394.1 425.9a0.6 0.6 0 1 0 1.3 0a0.6 0.6 0 1 0 -1.3 0M413.2 421.8l0.7 1.3h-1.4zM443.1 403l1.4 1.4m0 -1.4l-1.4 1.4M447.1 410.7h1.2v1.2h-1.2zM460.7 401.2a0.6 0.6 0 1 0 1.3 0a0.6 0.6 0 1 0 -1.3 0M416.5 419.8l1.4 1.4m0 -1.4l-1.4 1.4M406.9 429.8l0.7 1.3h-1.4zM442.1 415.1l0.7 0.7l-0.7 0.7l-0.7 -0.7zM433.5 406.3a0.6 0.6 0 1 0 1.3 0a0.6 0.6 0 1 0 -1.3 0M509.1 377.3l0.7 1.3h-1.4z" fill="none" stroke="#3d7cc8" stroke-width="0.45"/>
<path d="M434.1 412.5h1.4m-0.7 -0.7v1.4M421.1 418.2h1.4m-0.7 -0.7v1.4M423.6 425.6h1.4m-0.7 -0.7v1.4M475 395.7h1.4m-0.7 -0.7v1.4" fill="none" stroke="#3d7cc8" stroke-width="0.59"/>
<path d="M395.4 431.7a0.5 0.5 0 1 0 1 0a0.5 0.5 0 1 0 -1 0M420.6 428.1h1v1h-1z" fill="#3d7cc8"/>
<path d="M413.1 418.3a0.6 0.6 0 1 0 1.3 0a0.6 0.6 0 1 0 -1.3 0M437.6 418.1a0.6 0.6 0 1 0 1.3 0a0.6 0.6 0 1 0 -1.3 0M398.6 429.6l0.7 0.7l-0.7 0.7l-0.7 -0.7zM414.1 426.4h1.2v1.2h-1.2zM440.5 408.4l0.7 0.7l-0.7 0.7l-0.7 -0.7zM409.2 426.8l1.4 1.4m0 -1.4l-1.4 1.4M441.3 409.6l0.7 0.7l-0.7 0.7l-0.7 -0.7zM454 408.2h1.2v1.2h-1.2zM387.4 438.5a0.6 0.6 0 1 0 1.3 0a0.6 0.6 0 1 0 -1.3 0" fill="none" stroke="#2f9a45" stroke-width="0.45"/>
<path d="M431.8 416.9h1v1h-1zM388.8 430h1v1h-1zM425 420.4h1v1h-1z" fill="#2f9a45"/>
<path d="M432.7 410.2h1.4m-0.7 -0.7v1.4" fill="none" stroke="#2f9a45" stroke-width="0.59"/>
<path d="M465.4 407.6l1.4 1.4m0 -1.4l-1.4 1.4M436 420.2h1.2v1.2h-1.2zM415.1 421.1a0.6 0.6 0 1 0 1.3 0a0.6 0.6 0 1 0 -1.3 0M436.4 418.2l1.4 1.4m0 -1.4l-1.4 1.4M441 410.6a0.6 0.6 0 1 0 1.3 0a0.6 0.6 0 1 0 -1.3 0M414.9 428.1l1.4 1.4m0 -1.4l-1.4 1.4M410.1 421.5l0.7 0.7l-0.7 0.7l-0.7 -0.7zM415.9 421a0.6 0.6 0 1 0 1.3 0a0.6 0.6 0 1 0 -1.3 0M450.2 410.9a0.6 0.6 0 1 0 1.3 0a0.6 0.6 0 1 0 -1.3 0M410.6 418.9l1.4 1.4m0 -1.4l-1.4 1.4M400.5 435.7l0.7 0.7l-0.7 0.7l-0.7 -0.7zM422.4 417.7a0.6 0.6 0 1 0 1.3 0a0.6 0.6 0 1 0 -1.3 0M432.7 411.5a0.6 0.6 0 1 0 1.3 0a0.6 0.6 0 1 0 -1.3 0M468.4 406.5l0.7 1.3h-1.4zM455.8 370.9h1.2v1.2h-1.2z" fill="none" stroke="#6d7a25" stroke-width="0.45"/>
<path d="M419 418.4h1.4m-0.7 -0.7v1.4M469.9 400h1.4m-0.7 -0.7v1.4M421.9 423.9h1.4m-0.7 -0.7v1.4M398.8 386.3h1.4m-0.7 -0.7v1.4" fill="none" stroke="#6d7a25" stroke-width="0.59"/>
<path d="M466.2 400.9h1v1h-1zM401.1 426.6a0.5 0.5 0 1 0 1 0a0.5 0.5 0 1 0 -1 0M418.1 421.3h1v1h-1zM449.3 410.9h1v1h-1zM449.1 410.8h1v1h-1z" fill="#6d7a25"/>
<path d="M412 423.9a0.6 0.6 0 1 0 1.3 0a0.6 0.6 0 1 0 -1.3 0M430.6 414.9l1.4 1.4m0 -1.4l-1.4 1.4M429.2 411.5l0.7 0.7l-0.7 0.7l-0.7 -0.7zM417.2 424.4a0.6 0.6 0 1 0 1.3 0a0.6 0.6 0 1 0 -1.3 0M410.4 430.2l0.7 1.3h-1.4zM431.8 412.6h1.2v1.2h-1.2zM412.4 425.9l0.7 1.3h-1.4zM433.7 420.7h1.2v1.2h-1.2zM412.9 415.4l0.7 0.7l-0.7 0.7l-0.7 -0.7zM431.3 423.6h1.2v1.2h-1.2zM434.7 415.2l1.4 1.4m0 -1.4l-1.4 1.4M431.7 423.1l0.7 0.7l-0.7 0.7l-0.7 -0.7zM398 425.6a0.6 0.6 0 1 0 1.3 0a0.6 0.6 0 1 0 -1.3 0M408.6 422.3a0.6 0.6 0 1 0 1.3 0a0.6 0.6 0 1 0 -1.3 0M413.9 419.1h1.2v1.2h-1.2zM413.9 432.4l0.7 0.7l-0.7 0.7l-0.7 -0.7zM503.2 378l1.4 1.4m0 -1.4l-1.4 1.4M411.5 407.8l0.7 0.7l-0.7 0.7l-0.7 -0.7z" fill="none" stroke="#6d58b8" stroke-width="0.45"/>
<path d="M440.8 412.9h1.4m-0.7 -0.7v1.4M414.5 427.6h1.4m-0.7 -0.7v1.4M468.5 407.9h1.4m-0.7 -0.7v1.4M411.3 425.6h1.4m-0.7 -0.7v1.4M396.8 430.1h1.4m-0.7 -0.7v1.4M454.7 364.2h1.4m-0.7 -0.7v1.4" fill="none" stroke="#6d58b8" stroke-width="0.59"/>
<path d="M408.3 432.9h1v1h-1zM447.6 400.2h1v1h-1zM399.6 430.6a0.5 0.5 0 1 0 1 0a0.5 0.5 0 1 0 -1 0M404.8 386.3a0.5 0.5 0 1 0 1 0a0.5 0.5 0 1 0 -1 0M383 436.5h1v1h-1z" fill="#6d58b8"/>
<path d="M398.3 432.6l0.7 1.3h-1.4zM407.1 421.1l1.4 1.4m0 -1.4l-1.4 1.4M390.8 419.3a0.6 0.6 0 1 0 1.3 0a0.6 0.6 0 1 0 -1.3 0M434.8 417.6h1.2v1.2h-1.2zM414.4 426.3l0.7 1.3h-1.4zM422.6 424.8l0.7 1.3h-1.4z" fill="none" stroke="#a5465c" stroke-width="0.45"/>
<path d="M466.8 401a0.5 0.5 0 1 0 1 0a0.5 0.5 0 1 0 -1 0M443.3 415.3h1v1h-1zM457.3 403.6h1v1h-1zM483 393.4a0.5 0.5 0 1 0 1 0a0.5 0.5 0 1 0 -1 0" fill="#a5465c"/>
<path d="M421.5 428.5h1.4m-0.7 -0.7v1.4" fill="none" stroke="#a5465c" stroke-width="0.59"/>
<path d="M436.4 410.7h1.2v1.2h-1.2zM405.9 430.5h1.2v1.2h-1.2zM417.3 414.2l1.4 1.4m0 -1.4l-1.4 1.4M485.6 401.4l0.7 1.3h-1.4zM405.5 411.3l0.7 1.3h-1.4z" fill="none" stroke="#c8302f" stroke-width="0.45"/>
<path d="M426.7 421.6h1v1h-1zM453.6 385.7a0.5 0.5 0 1 0 1 0a0.5 0.5 0 1 0 -1 0" fill="#c8302f"/>
<path d="M406.7 422.9h1.4m-0.7 -0.7v1.4" fill="none" stroke="#c8302f" stroke-width="0.59"/>
<path d="M430.4 411.4l0.7 0.7l-0.7 0.7l-0.7 -0.7zM398 425.2l0.7 1.3h-1.4zM441.7 410.3a0.6 0.6 0 1 0 1.3 0a0.6 0.6 0 1 0 -1.3 0M441.7 410.4a0.6 0.6 0 1 0 1.3 0a0.6 0.6 0 1 0 -1.3 0M420.6 416.6a0.6 0.6 0 1 0 1.3 0a0.6 0.6 0 1 0 -1.3 0M412.9 412.2l1.4 1.4m0 -1.4l-1.4 1.4M428.3 421.8l0.7 0.7l-0.7 0.7l-0.7 -0.7zM403.8 433.5l0.7 0.7l-0.7 0.7l-0.7 -0.7zM440.9 388.9l1.4 1.4m0 -1.4l-1.4 1.4" fill="none" stroke="#6a4524" stroke-width="0.45"/>
<path d="M412 428.6h1.4m-0.7 -0.7v1.4" fill="none" stroke="#6a4524" stroke-width="0.59"/>
<path d="M478.5 385.2h1v1h-1z" fill="#6a4524"/>
<path d="M409.8 422.5l0.7 0.7l-0.7 0.7l-0.7 -0.7zM431.4 411.6l1.4 1.4m0 -1.4l-1.4 1.4M444.2 410.7a0.6 0.6 0 1 0 1.3 0a0.6 0.6 0 1 0 -1.3 0M392.8 429.4l0.7 1.3h-1.4zM390.3 426.4h1.2v1.2h-1.2zM426.5 411.4l0.7 0.7l-0.7 0.7l-0.7 -0.7zM441.2 405.4a0.6 0.6 0 1 0 1.3 0a0.6 0.6 0 1 0 -1.3 0" fill="none" stroke="#5a4a22" stroke-width="0.45"/>
<path d="M410.8 414.4h1v1h-1zM395.7 434.2a0.5 0.5 0 1 0 1 0a0.5 0.5 0 1 0 -1 0" fill="#5a4a22"/>
<path d="M429.4 413.4h1.4m-0.7 -0.7v1.4" fill="none" stroke="#5a4a22" stroke-width="0.59"/>
<path d="M421.9 416.2h1.2v1.2h-1.2zM416.6 416.1a0.6 0.6 0 1 0 1.3 0a0.6 0.6 0 1 0 -1.3 0M441.7 410.9h1.2v1.2h-1.2zM440.6 400.5l1.4 1.4m0 -1.4l-1.4 1.4M394.9 427.5a0.6 0.6 0 1 0 1.3 0a0.6 0.6 0 1 0 -1.3 0M423 425.1l0.7 1.3h-1.4zM443.3 405.7h1.2v1.2h-1.2zM423.6 413.2a0.6 0.6 0 1 0 1.3 0a0.6 0.6 0 1 0 -1.3 0M485.9 405.5l1.4 1.4m0 -1.4l-1.4 1.4M388.2 360.4l1.4 1.4m0 -1.4l-1.4 1.4M406 390.3l0.7 0.7l-0.7 0.7l-0.7 -0.7zM409.9 390.4h1.2v1.2h-1.2z" fill="none" stroke="#245c38" stroke-width="0.45"/>
<path d="M446.9 406.3h1v1h-1zM426.3 419.3h1v1h-1zM414.9 420.5a0.5 0.5 0 1 0 1 0a0.5 0.5 0 1 0 -1 0M444.2 418.1a0.5 0.5 0 1 0 1 0a0.5 0.5 0 1 0 -1 0" fill="#245c38"/>
<path d="M417.7 427.9l0.7 1.3h-1.4zM387.1 436.3l1.4 1.4m0 -1.4l-1.4 1.4M429.2 417.4h1.2v1.2h-1.2zM415.2 417l0.7 1.3h-1.4zM440 413h1.2v1.2h-1.2zM410.3 425.1a0.6 0.6 0 1 0 1.3 0a0.6 0.6 0 1 0 -1.3 0M447.5 404.8l1.4 1.4m0 -1.4l-1.4 1.4M389.1 427.9a0.6 0.6 0 1 0 1.3 0a0.6 0.6 0 1 0 -1.3 0M411.4 422.5h1.2v1.2h-1.2zM442.6 415.6a0.6 0.6 0 1 0 1.3 0a0.6 0.6 0 1 0 -1.3 0M456.7 405.6h1.2v1.2h-1.2zM436.3 414.9l1.4 1.4m0 -1.4l-1.4 1.4M448.4 403l0.7 1.3h-1.4zM415.3 426.9l1.4 1.4m0 -1.4l-1.4 1.4M434.2 414.5l0.7 0.7l-0.7 0.7l-0.7 -0.7zM470.3 398.4l0.7 0.7l-0.7 0.7l-0.7 -0.7z" fill="none" stroke="#2e3288" stroke-width="0.45"/>
<path d="M429.1 414.9h1.4m-0.7 -0.7v1.4M398.7 431h1.4m-0.7 -0.7v1.4M444.1 405.7h1.4m-0.7 -0.7v1.4M410.9 422.9h1.4m-0.7 -0.7v1.4M423.5 424.8h1.4m-0.7 -0.7v1.4M396.8 431.3h1.4m-0.7 -0.7v1.4M429.7 414.5h1.4m-0.7 -0.7v1.4" fill="none" stroke="#2e3288" stroke-width="0.59"/>
<path d="M408.1 425.9h1v1h-1zM412.7 423.4h1v1h-1z" fill="#2e3288"/>
<path d="M58.4 593.3h1.4m-0.7 -0.7v1.4" fill="none" stroke="#e8b420" stroke-width="0.59"/>
<path d="M119.1 560.1l1.4 1.4m0 -1.4l-1.4 1.4" fill="none" stroke="#e27a1c" stroke-width="0.45"/>
<path d="M103.2 551l0.7 0.7l-0.7 0.7l-0.7 -0.7zM60.5 588.7l1.4 1.4m0 -1.4l-1.4 1.4M42.4 596.6h1.2v1.2h-1.2zM41.7 601.7l0.7 1.3h-1.4z" fill="none" stroke="#3d7cc8" stroke-width="0.45"/>
<path d="M69 586.3h1v1h-1z" fill="#3d7cc8"/>
<path d="M72.1 589l0.7 0.7l-0.7 0.7l-0.7 -0.7z" fill="none" stroke="#2f9a45" stroke-width="0.45"/>
<path d="M119.7 561.5h1.2v1.2h-1.2zM98.2 577.2a0.6 0.6 0 1 0 1.3 0a0.6 0.6 0 1 0 -1.3 0M47 592.6l1.4 1.4m0 -1.4l-1.4 1.4" fill="none" stroke="#6d7a25" stroke-width="0.45"/>
<path d="M129.7 566h1v1h-1z" fill="#6d7a25"/>
<path d="M50.8 522.2h1v1h-1zM57.5 597.2a0.5 0.5 0 1 0 1 0a0.5 0.5 0 1 0 -1 0" fill="#6d58b8"/>
<path d="M89.6 574.6a0.6 0.6 0 1 0 1.3 0a0.6 0.6 0 1 0 -1.3 0M96.8 595.2l1.4 1.4m0 -1.4l-1.4 1.4" fill="none" stroke="#6d58b8" stroke-width="0.45"/>
<path d="M111.7 571.4h1.2v1.2h-1.2z" fill="none" stroke="#a5465c" stroke-width="0.45"/>
<path d="M158.3 554.3h1.4m-0.7 -0.7v1.4" fill="none" stroke="#c8302f" stroke-width="0.59"/>
<path d="M119.7 571.9h1.2v1.2h-1.2zM113.6 577.5l0.7 1.3h-1.4z" fill="none" stroke="#c8302f" stroke-width="0.45"/>
<path d="M122.4 552h1v1h-1zM129.7 577.2a0.5 0.5 0 1 0 1 0a0.5 0.5 0 1 0 -1 0" fill="#6a4524"/>
<path d="M66.9 594.1h1.4m-0.7 -0.7v1.4" fill="none" stroke="#6a4524" stroke-width="0.59"/>
<path d="M38.3 603l0.7 0.7l-0.7 0.7l-0.7 -0.7z" fill="none" stroke="#6a4524" stroke-width="0.45"/>
<path d="M129.7 557.7a0.5 0.5 0 1 0 1 0a0.5 0.5 0 1 0 -1 0M53.4 596.7h1v1h-1z" fill="#2e3288"/>
<path d="M288.1 537.5a0.5 0.5 0 1 0 1 0a0.5 0.5 0 1 0 -1 0M299.3 564.2a0.5 0.5 0 1 0 1 0a0.5 0.5 0 1 0 -1 0M214.1 586.8a0.5 0.5 0 1 0 1 0a0.5 0.5 0 1 0 -1 0" fill="#3d7cc8"/>
<path d="M243.9 579.1l0.7 0.7l-0.7 0.7l-0.7 -0.7zM306.4 601h1.2v1.2h-1.2z" fill="none" stroke="#3d7cc8" stroke-width="0.45"/>
<path d="M266.3 542.7h1v1h-1zM233.6 599.3h1v1h-1z" fill="#6d7a25"/>
<path d="M279.8 551l0.7 1.3h-1.4z" fill="none" stroke="#6d7a25" stroke-width="0.45"/>
<path d="M297.2 538.8l0.7 0.7l-0.7 0.7l-0.7 -0.7zM235.6 559.4l0.7 1.3h-1.4zM223.9 588.9a0.6 0.6 0 1 0 1.3 0a0.6 0.6 0 1 0 -1.3 0" fill="none" stroke="#6d58b8" stroke-width="0.45"/>
<path d="M306.5 593.8a0.5 0.5 0 1 0 1 0a0.5 0.5 0 1 0 -1 0" fill="#6d58b8"/>
<path d="M296.7 540.9h1v1h-1zM335.1 569.4h1v1h-1z" fill="#a5465c"/>
<path d="M289.2 587.1h1.4m-0.7 -0.7v1.4" fill="none" stroke="#a5465c" stroke-width="0.59"/>
<path d="M296.4 590.8l0.7 0.7l-0.7 0.7l-0.7 -0.7z" fill="none" stroke="#a5465c" stroke-width="0.45"/>
<path d="M275.1 521.7l0.7 0.7l-0.7 0.7l-0.7 -0.7zM248 601h1.2v1.2h-1.2z" fill="none" stroke="#c8302f" stroke-width="0.45"/>
<path d="M218.3 578.8h1v1h-1z" fill="#c8302f"/>
<path d="M245.8 579h1.4m-0.7 -0.7v1.4" fill="none" stroke="#c8302f" stroke-width="0.59"/>
<path d="M237.2 580.3h1v1h-1z" fill="#6a4524"/>
<path d="M306.3 531.8h1.4m-0.7 -0.7v1.4" fill="none" stroke="#5a4a22" stroke-width="0.59"/>
<path d="M274.1 558.1l0.7 0.7l-0.7 0.7l-0.7 -0.7zM234.2 577.5l1.4 1.4m0 -1.4l-1.4 1.4" fill="none" stroke="#5a4a22" stroke-width="0.45"/>
<path d="M227.1 559h1v1h-1z" fill="#5a4a22"/>
<path d="M230.2 560.9l0.7 0.7l-0.7 0.7l-0.7 -0.7z" fill="none" stroke="#245c38" stroke-width="0.45"/>
<path d="M297.2 598.5h1v1h-1z" fill="#245c38"/>
<path d="M408.6 600.5h1.2v1.2h-1.2z" fill="none" stroke="#e8b420" stroke-width="0.45"/>
<path d="M463.2 549.9a0.5 0.5 0 1 0 1 0a0.5 0.5 0 1 0 -1 0" fill="#e27a1c"/>
<path d="M508.5 549.9a0.6 0.6 0 1 0 1.3 0a0.6 0.6 0 1 0 -1.3 0" fill="none" stroke="#e27a1c" stroke-width="0.45"/>
<path d="M452.8 522.7a0.5 0.5 0 1 0 1 0a0.5 0.5 0 1 0 -1 0M470.4 553.3h1v1h-1zM392.6 596.7h1v1h-1zM410.7 595.4h1v1h-1z" fill="#3d7cc8"/>
<path d="M473.5 553.1l0.7 0.7l-0.7 0.7l-0.7 -0.7zM446.9 568.7l1.4 1.4m0 -1.4l-1.4 1.4M407.9 575.2l0.7 0.7l-0.7 0.7l-0.7 -0.7zM408 602h1.2v1.2h-1.2z" fill="none" stroke="#3d7cc8" stroke-width="0.45"/>
<path d="M401.2 592h1.4m-0.7 -0.7v1.4" fill="none" stroke="#3d7cc8" stroke-width="0.59"/>
<path d="M421.4 596.5l1.4 1.4m0 -1.4l-1.4 1.4" fill="none" stroke="#2f9a45" stroke-width="0.45"/>
<path d="M480.5 539.4l0.7 1.3h-1.4zM448.9 549l0.7 0.7l-0.7 0.7l-0.7 -0.7zM420.3 586.9l0.7 1.3h-1.4zM417.6 600.6a0.6 0.6 0 1 0 1.3 0a0.6 0.6 0 1 0 -1.3 0" fill="none" stroke="#6d7a25" stroke-width="0.45"/>
<path d="M470 546.6h1.4m-0.7 -0.7v1.4M479.8 570.7h1.4m-0.7 -0.7v1.4" fill="none" stroke="#6d7a25" stroke-width="0.59"/>
<path d="M397.7 592.8a0.5 0.5 0 1 0 1 0a0.5 0.5 0 1 0 -1 0" fill="#6d7a25"/>
<path d="M404 573.1l0.7 0.7l-0.7 0.7l-0.7 -0.7z" fill="none" stroke="#6d58b8" stroke-width="0.45"/>
<path d="M461.9 559a0.5 0.5 0 1 0 1 0a0.5 0.5 0 1 0 -1 0" fill="#a5465c"/>
<path d="M470 531.6l1.4 1.4m0 -1.4l-1.4 1.4" fill="none" stroke="#c8302f" stroke-width="0.45"/>
<path d="M469.4 541.4a0.5 0.5 0 1 0 1 0a0.5 0.5 0 1 0 -1 0" fill="#c8302f"/>
<path d="M388.4 602.5l0.7 0.7l-0.7 0.7l-0.7 -0.7z" fill="none" stroke="#6a4524" stroke-width="0.45"/>
<path d="M391.6 601.7l1.4 1.4m0 -1.4l-1.4 1.4" fill="none" stroke="#5a4a22" stroke-width="0.45"/>
<path d="M480 538.3h1v1h-1zM439.8 565.2a0.5 0.5 0 1 0 1 0a0.5 0.5 0 1 0 -1 0" fill="#2e3288"/>
<path d="M36.37 101.83L162.18 25.14" stroke="#444" stroke-width="0.75" fill="none"/>
<path d="M36.37 269.57L162.18 193.30" stroke="#444" stroke-width="0.75" fill="none"/>
<path d="M209.67 96.55L335.45 83.16" stroke="#444" stroke-width="0.75" fill="none"/>
<path d="M209.67 264.35L335.45 250.96" stroke="#444" stroke-width="0.75" fill="none"/>
<path d="M383.77 103.40L508.88 34.57" stroke="#444" stroke-width="0.75" fill="none"/>
<path d="M383.77 271.60L508.88 201.17" stroke="#444" stroke-width="0.75" fill="none"/>
<path d="M35.35 432.55L157.72 362.70" stroke="#444" stroke-width="0.75" fill="none"/>
<path d="M211.38 432.11L333.80 410.04" stroke="#444" stroke-width="0.75" fill="none"/>
<path d="M385.69 434.23L507.50 386.01" stroke="#444" stroke-width="0.75" fill="none"/>
<path d="M38.37 594.94L158.94 554.42" stroke="#444" stroke-width="0.75" fill="none"/>
<path d="M388.72 601.06L509.35 526.34" stroke="#444" stroke-width="0.75" fill="none"/>
<path d="M214.75 585.91L214.93 585.59L215.29 584.96L215.78 584.15L216.39 583.24L217.09 582.26L217.88 581.26L218.75 580.26L219.70 579.27L220.73 578.32L221.83 577.40L222.99 576.53L224.22 575.71L225.52 574.93L226.87 574.20L228.29 573.52L229.76 572.88L231.29 572.28L232.87 571.72L234.51 571.20L236.20 570.71L237.94 570.26L239.73 569.83L241.57 569.44L243.46 569.06L245.40 568.72L247.38 568.39L249.41 568.08L251.49 567.80L253.61 567.52L255.78 567.27L257.99 567.03L260.24 566.80L262.54 566.59L264.88 566.39L267.26 566.20L269.68 566.02L272.14 565.85L274.64 565.69L277.18 565.54L279.76 565.39L282.38 565.25L285.04 565.12L287.74 565.00L290.47 564.88L293.24 564.76L296.05 564.66L298.90 564.55L301.78 564.45L304.70 564.36L307.66 564.27L310.65 564.18L313.67 564.10L316.73 564.02L319.83 563.95L322.96 563.87L326.13 563.80L329.32 563.74L332.56 563.67L335.82 563.61" stroke="#444" stroke-width="0.75" fill="none"/>
<text x="129.3" y="89.1" font-size="4.5" textLength="31.08" lengthAdjust="spacingAndGlyphs" fill="#2a2a2a">Intercept = 31.7</text>
<text x="129.3" y="94.1" font-size="4.5" textLength="27.62" lengthAdjust="spacingAndGlyphs" fill="#2a2a2a">Slope = 0.125</text>
<text x="129.3" y="99.1" font-size="4.5" textLength="21.92" lengthAdjust="spacingAndGlyphs" fill="#2a2a2a">R<tspan baseline-shift="super" font-size="3.2">2</tspan> = 0.7442</text>
<text x="126.2" y="257.6" font-size="4.5" textLength="36.04" lengthAdjust="spacingAndGlyphs" fill="#2a2a2a">Intercept = 31.768</text>
<text x="126.2" y="262.6" font-size="4.5" textLength="30.09" lengthAdjust="spacingAndGlyphs" fill="#2a2a2a">Slope = 0.1243</text>
<text x="126.2" y="267.6" font-size="4.5" textLength="21.92" lengthAdjust="spacingAndGlyphs" fill="#2a2a2a">R<tspan baseline-shift="super" font-size="3.2">2</tspan> = 0.7638</text>
<text x="476.5" y="89.0" font-size="4.5" textLength="33.56" lengthAdjust="spacingAndGlyphs" fill="#2a2a2a">Intercept = 36.31</text>
<text x="476.5" y="94.0" font-size="4.5" textLength="30.09" lengthAdjust="spacingAndGlyphs" fill="#2a2a2a">Slope = 0.2726</text>
<text x="476.5" y="99.0" font-size="4.5" textLength="21.92" lengthAdjust="spacingAndGlyphs" fill="#2a2a2a">R<tspan baseline-shift="super" font-size="3.2">2</tspan> = 0.7015</text>
<text x="476.3" y="257.8" font-size="4.5" textLength="36.04" lengthAdjust="spacingAndGlyphs" fill="#2a2a2a">Intercept = 35.231</text>
<text x="476.3" y="262.8" font-size="4.5" textLength="30.09" lengthAdjust="spacingAndGlyphs" fill="#2a2a2a">Slope = 0.2789</text>
<text x="476.3" y="267.8" font-size="4.5" textLength="21.92" lengthAdjust="spacingAndGlyphs" fill="#2a2a2a">R<tspan baseline-shift="super" font-size="3.2">2</tspan> = 0.7526</text>
<text x="126.9" y="423.4" font-size="4.5" textLength="36.04" lengthAdjust="spacingAndGlyphs" fill="#2a2a2a">Intercept = 31.477</text>
<text x="126.9" y="428.4" font-size="4.5" textLength="30.09" lengthAdjust="spacingAndGlyphs" fill="#2a2a2a">Slope = 0.1306</text>
<text x="126.9" y="433.4" font-size="4.5" textLength="21.92" lengthAdjust="spacingAndGlyphs" fill="#2a2a2a">R<tspan baseline-shift="super" font-size="3.2">2</tspan> = 0.6273</text>
<text x="477.0" y="423.6" font-size="4.5" textLength="36.04" lengthAdjust="spacingAndGlyphs" fill="#2a2a2a">Intercept = 39.723</text>
<text x="477.0" y="428.6" font-size="4.5" textLength="30.09" lengthAdjust="spacingAndGlyphs" fill="#2a2a2a">Slope = 0.2501</text>
<text x="477.0" y="433.6" font-size="4.5" textLength="21.92" lengthAdjust="spacingAndGlyphs" fill="#2a2a2a">R<tspan baseline-shift="super" font-size="3.2">2</tspan> = 0.4215</text>
<text x="126.2" y="589.5" font-size="4.5" textLength="36.04" lengthAdjust="spacingAndGlyphs" fill="#2a2a2a">Intercept = 32.376</text>
<text x="126.2" y="594.5" font-size="4.5" textLength="30.09" lengthAdjust="spacingAndGlyphs" fill="#2a2a2a">Slope = 0.0864</text>
<text x="126.2" y="599.5" font-size="4.5" textLength="21.92" lengthAdjust="spacingAndGlyphs" fill="#2a2a2a">R<tspan baseline-shift="super" font-size="3.2">2</tspan> = 0.3571</text>
<text x="477.0" y="589.5" font-size="4.5" textLength="36.04" lengthAdjust="spacingAndGlyphs" fill="#2a2a2a">Intercept = 40.217</text>
<text x="477.0" y="594.5" font-size="4.5" textLength="27.62" lengthAdjust="spacingAndGlyphs" fill="#2a2a2a">Slope = 0.241</text>
<text x="477.0" y="599.5" font-size="4.5" textLength="21.92" lengthAdjust="spacingAndGlyphs" fill="#2a2a2a">R<tspan baseline-shift="super" font-size="3.2">2</tspan> = 0.7107</text>
<path d="M39.6 155.9h2.6v2.6h-2.6z" fill="none" stroke="#f2c230" stroke-width="0.8"/>
<path d="M133.3 139.3h3.4m-1.7 -1.7v3.4" fill="none" stroke="#f2c230" stroke-width="1.04"/>
<path d="M40.9 143.5l1.6 1.6l-1.6 1.6l-1.6 -1.6z" fill="none" stroke="#4a8fd8" stroke-width="0.8"/>
<path d="M15.4 149.6l3.1 3.1m0 -3.1l-3.1 3.1M99.5 151.2a1.4 1.4 0 1 0 2.8 0a1.4 1.4 0 1 0 -2.8 0" fill="none" stroke="#3da84f" stroke-width="0.8"/>
<path d="M15.5 143.6h2.9v2.9h-2.9z" fill="#7d8c2c"/>
<path d="M67.1 143.5l1.6 2.8h-3.1zM99.4 143.5l3.1 3.1m0 -3.1l-3.1 3.1M99.6 155.9h2.6v2.6h-2.6z" fill="none" stroke="#8068cc" stroke-width="0.8"/>
<path d="M39.5 151.2a1.4 1.4 0 1 0 2.8 0a1.4 1.4 0 1 0 -2.8 0" fill="none" stroke="#b8546a" stroke-width="0.8"/>
<path d="M15.3 139.3h3.4m-1.7 -1.7v3.4" fill="none" stroke="#e0393e" stroke-width="1.04"/>
<path d="M67.1 155.6l1.6 1.6l-1.6 1.6l-1.6 -1.6z" fill="none" stroke="#e0393e" stroke-width="0.8"/>
<path d="M40.9 137.8l1.6 2.8h-3.1z" fill="#7a5530" stroke="#7a5530" stroke-width="0.8"/>
<path d="M99.2 139.3h3.4m-1.7 -1.7v3.4" fill="none" stroke="#6b5a2e" stroke-width="1.04"/>
<path d="M15.4 155.6l3.1 3.1m0 -3.1l-3.1 3.1" fill="none" stroke="#2f6b45" stroke-width="0.8"/>
<path d="M65.7 139.3a1.4 1.4 0 1 0 2.8 0a1.4 1.4 0 1 0 -2.8 0" fill="none" stroke="#3c3f98" stroke-width="0.8"/>
<path d="M65.5 151.2a1.6 1.6 0 1 0 3.1 0a1.6 1.6 0 1 0 -3.1 0" fill="#3c3f98"/>
<text x="21.4" y="140.95" font-size="4.6" textLength="11.9" lengthAdjust="spacingAndGlyphs" fill="#262626">Visit 3</text>
<text x="21.4" y="146.75" font-size="4.6" textLength="11.9" lengthAdjust="spacingAndGlyphs" fill="#262626">Visit 4</text>
<text x="21.4" y="152.8" font-size="4.6" textLength="11.9" lengthAdjust="spacingAndGlyphs" fill="#262626">Visit 5</text>
<text x="21.4" y="158.85" font-size="4.6" textLength="11.9" lengthAdjust="spacingAndGlyphs" fill="#262626">Visit 6</text>
<text x="45.5" y="140.95" font-size="4.6" textLength="11.9" lengthAdjust="spacingAndGlyphs" fill="#262626">Visit 7</text>
<text x="45.5" y="146.75" font-size="4.6" textLength="11.9" lengthAdjust="spacingAndGlyphs" fill="#262626">Visit 8</text>
<text x="45.5" y="152.8" font-size="4.6" textLength="11.9" lengthAdjust="spacingAndGlyphs" fill="#262626">Visit 9</text>
<text x="45.5" y="158.85" font-size="4.6" textLength="14.33" lengthAdjust="spacingAndGlyphs" fill="#262626">Visit 10</text>
<text x="71.8" y="140.95" font-size="4.6" textLength="14.33" lengthAdjust="spacingAndGlyphs" fill="#262626">Visit 11</text>
<text x="71.8" y="146.75" font-size="4.6" textLength="22.34" lengthAdjust="spacingAndGlyphs" fill="#262626">UNS Visit 1</text>
<text x="71.8" y="152.8" font-size="4.6" textLength="22.34" lengthAdjust="spacingAndGlyphs" fill="#262626">UNS Visit 2</text>
<text x="71.8" y="158.85" font-size="4.6" textLength="22.34" lengthAdjust="spacingAndGlyphs" fill="#262626">UNS Visit 3</text>
<text x="105.8" y="140.95" font-size="4.6" textLength="22.34" lengthAdjust="spacingAndGlyphs" fill="#262626">UNS Visit 4</text>
<text x="105.8" y="146.75" font-size="4.6" textLength="22.34" lengthAdjust="spacingAndGlyphs" fill="#262626">UNS Visit 5</text>
<text x="105.8" y="152.8" font-size="4.6" textLength="16.27" lengthAdjust="spacingAndGlyphs" fill="#262626">Dabititrn</text>
<text x="105.8" y="158.85" font-size="4.6" textLength="21.37" lengthAdjust="spacingAndGlyphs" fill="#262626">EEOT Visit</text>
<text x="139.9" y="140.7" font-size="4.6" textLength="23.9" lengthAdjust="spacingAndGlyphs" fill="#262626">Steady state</text>
<text x="139.9" y="145.7" font-size="4.6" textLength="25.1" lengthAdjust="spacingAndGlyphs" fill="#262626">post-titration</text>
<path d="M15.3 318.7h3.4m-1.7 -1.7v3.4" fill="none" stroke="#f2c230" stroke-width="1.04"/>
<path d="M39.6 323.4h2.6v2.6h-2.6z" fill="none" stroke="#f2c230" stroke-width="0.8"/>
<path d="M40.9 311.3l1.6 1.6l-1.6 1.6l-1.6 -1.6z" fill="none" stroke="#4a8fd8" stroke-width="0.8"/>
<path d="M65.5 311.3l3.1 3.1m0 -3.1l-3.1 3.1M99.7 318.7a1.4 1.4 0 1 0 2.8 0a1.4 1.4 0 1 0 -2.8 0" fill="none" stroke="#3da84f" stroke-width="0.8"/>
<path d="M15.5 311.4h2.9v2.9h-2.9z" fill="#7d8c2c"/>
<path d="M99.5 311.3l3.1 3.1m0 -3.1l-3.1 3.1M99.8 323.4h2.6v2.6h-2.6zM135.4 305.3l1.6 2.8h-3.1z" fill="none" stroke="#8068cc" stroke-width="0.8"/>
<path d="M39.5 318.7a1.4 1.4 0 1 0 2.8 0a1.4 1.4 0 1 0 -2.8 0" fill="none" stroke="#b8546a" stroke-width="0.8"/>
<path d="M15.3 306.9a1.7 1.7 0 1 0 3.3 0a1.7 1.7 0 1 0 -3.3 0" fill="#e0393e"/>
<path d="M67 323.1l1.6 1.6l-1.6 1.6l-1.6 -1.6z" fill="none" stroke="#e0393e" stroke-width="0.8"/>
<path d="M40.9 305.3l1.6 2.8h-3.1z" fill="#7a5530" stroke="#7a5530" stroke-width="0.8"/>
<path d="M99.4 306.9h3.4m-1.7 -1.7v3.4" fill="none" stroke="#6b5a2e" stroke-width="1.04"/>
<path d="M15.4 323.1l3.1 3.1m0 -3.1l-3.1 3.1" fill="none" stroke="#2f6b45" stroke-width="0.8"/>
<path d="M65.6 306.9a1.4 1.4 0 1 0 2.8 0a1.4 1.4 0 1 0 -2.8 0" fill="none" stroke="#3c3f98" stroke-width="0.8"/>
<path d="M65.4 318.7a1.6 1.6 0 1 0 3.1 0a1.6 1.6 0 1 0 -3.1 0" fill="#3c3f98"/>
<text x="21.4" y="308.55" font-size="4.6" textLength="11.9" lengthAdjust="spacingAndGlyphs" fill="#262626">Visit 3</text>
<text x="21.4" y="314.5" font-size="4.6" textLength="11.9" lengthAdjust="spacingAndGlyphs" fill="#262626">Visit 4</text>
<text x="21.4" y="320.35" font-size="4.6" textLength="11.9" lengthAdjust="spacingAndGlyphs" fill="#262626">Visit 5</text>
<text x="21.4" y="326.35" font-size="4.6" textLength="11.9" lengthAdjust="spacingAndGlyphs" fill="#262626">Visit 6</text>
<text x="45.6" y="308.55" font-size="4.6" textLength="11.9" lengthAdjust="spacingAndGlyphs" fill="#262626">Visit 7</text>
<text x="45.6" y="314.5" font-size="4.6" textLength="11.9" lengthAdjust="spacingAndGlyphs" fill="#262626">Visit 8</text>
<text x="45.6" y="320.35" font-size="4.6" textLength="11.9" lengthAdjust="spacingAndGlyphs" fill="#262626">Visit 9</text>
<text x="45.6" y="326.35" font-size="4.6" textLength="14.33" lengthAdjust="spacingAndGlyphs" fill="#262626">Visit 10</text>
<text x="71.8" y="308.55" font-size="4.6" textLength="14.33" lengthAdjust="spacingAndGlyphs" fill="#262626">Visit 11</text>
<text x="71.8" y="314.5" font-size="4.6" textLength="22.34" lengthAdjust="spacingAndGlyphs" fill="#262626">UNS Visit 1</text>
<text x="71.8" y="320.35" font-size="4.6" textLength="22.34" lengthAdjust="spacingAndGlyphs" fill="#262626">UNS Visit 2</text>
<text x="71.8" y="326.35" font-size="4.6" textLength="22.34" lengthAdjust="spacingAndGlyphs" fill="#262626">UNS Visit 3</text>
<text x="106.0" y="308.55" font-size="4.6" textLength="22.34" lengthAdjust="spacingAndGlyphs" fill="#262626">UNS Visit 4</text>
<text x="106.0" y="314.5" font-size="4.6" textLength="22.34" lengthAdjust="spacingAndGlyphs" fill="#262626">UNS Visit 5</text>
<text x="106.0" y="320.35" font-size="4.6" textLength="16.27" lengthAdjust="spacingAndGlyphs" fill="#262626">Dabititrn</text>
<text x="106.0" y="326.35" font-size="4.6" textLength="21.37" lengthAdjust="spacingAndGlyphs" fill="#262626">EEOT Visit</text>
<text x="139.8" y="308.3" font-size="4.6" textLength="23.9" lengthAdjust="spacingAndGlyphs" fill="#262626">Steady state</text>
<text x="139.8" y="313.3" font-size="4.6" textLength="25.1" lengthAdjust="spacingAndGlyphs" fill="#262626">post-titration</text>
<path d="M238.9 143.8h2.6v2.6h-2.6z" fill="none" stroke="#f2c230" stroke-width="0.8"/>
<path d="M188.7 151.2h3.4m-1.7 -1.7v3.4" fill="none" stroke="#f08a2c" stroke-width="1.04"/>
<path d="M214.5 143.5l1.6 1.6l-1.6 1.6l-1.6 -1.6z" fill="none" stroke="#4a8fd8" stroke-width="0.8"/>
<path d="M188.8 137.8l3.1 3.1m0 -3.1l-3.1 3.1M273.4 139.3a1.4 1.4 0 1 0 2.8 0a1.4 1.4 0 1 0 -2.8 0" fill="none" stroke="#3da84f" stroke-width="0.8"/>
<path d="M188.9 143.6h2.9v2.9h-2.9z" fill="#7d8c2c"/>
<path d="M274.8 155.6l1.6 2.8h-3.1z" fill="none" stroke="#7d8c2c" stroke-width="0.8"/>
<path d="M214.5 155.6l1.6 2.8h-3.1zM238.6 155.6l3.1 3.1m0 -3.1l-3.1 3.1M307 138h2.6v2.6h-2.6z" fill="none" stroke="#8068cc" stroke-width="0.8"/>
<path d="M306.9 145.1a1.4 1.4 0 1 0 2.8 0a1.4 1.4 0 1 0 -2.8 0" fill="none" stroke="#b8546a" stroke-width="0.8"/>
<path d="M212.8 151.2h3.4m-1.7 -1.7v3.4" fill="none" stroke="#e0393e" stroke-width="1.04"/>
<path d="M274.8 143.5l1.6 1.6l-1.6 1.6l-1.6 -1.6z" fill="none" stroke="#e0393e" stroke-width="0.8"/>
<path d="M214.5 137.8l1.6 2.8h-3.1z" fill="none" stroke="#7a5530" stroke-width="0.8"/>
<path d="M273.1 151.2h3.4m-1.7 -1.7v3.4" fill="none" stroke="#6b5a2e" stroke-width="1.04"/>
<path d="M238.6 137.8l3.1 3.1m0 -3.1l-3.1 3.1" fill="none" stroke="#2f6b45" stroke-width="0.8"/>
<path d="M189 157.2a1.4 1.4 0 1 0 2.8 0a1.4 1.4 0 1 0 -2.8 0" fill="none" stroke="#3c3f98" stroke-width="0.8"/>
<path d="M238.6 151.2a1.6 1.6 0 1 0 3.1 0a1.6 1.6 0 1 0 -3.1 0" fill="#3c3f98"/>
<text x="194.8" y="140.95" font-size="4.6" textLength="11.9" lengthAdjust="spacingAndGlyphs" fill="#262626">Visit 3</text>
<text x="194.8" y="146.75" font-size="4.6" textLength="11.9" lengthAdjust="spacingAndGlyphs" fill="#262626">Visit 4</text>
<text x="194.8" y="152.8" font-size="4.6" textLength="11.9" lengthAdjust="spacingAndGlyphs" fill="#262626">Visit 5</text>
<text x="194.8" y="158.85" font-size="4.6" textLength="11.9" lengthAdjust="spacingAndGlyphs" fill="#262626">Visit 6</text>
<text x="219.0" y="140.95" font-size="4.6" textLength="11.9" lengthAdjust="spacingAndGlyphs" fill="#262626">Visit 7</text>
<text x="219.0" y="146.75" font-size="4.6" textLength="11.9" lengthAdjust="spacingAndGlyphs" fill="#262626">Visit 8</text>
<text x="219.0" y="152.8" font-size="4.6" textLength="11.9" lengthAdjust="spacingAndGlyphs" fill="#262626">Visit 9</text>
<text x="219.0" y="158.85" font-size="4.6" textLength="14.33" lengthAdjust="spacingAndGlyphs" fill="#262626">Visit 10</text>
<text x="245.1" y="140.95" font-size="4.6" textLength="14.33" lengthAdjust="spacingAndGlyphs" fill="#262626">Visit 11</text>
<text x="245.1" y="146.75" font-size="4.6" textLength="22.34" lengthAdjust="spacingAndGlyphs" fill="#262626">UNS Visit 1</text>
<text x="245.1" y="152.8" font-size="4.6" textLength="22.34" lengthAdjust="spacingAndGlyphs" fill="#262626">UNS Visit 2</text>
<text x="245.1" y="158.85" font-size="4.6" textLength="22.34" lengthAdjust="spacingAndGlyphs" fill="#262626">UNS Visit 3</text>
<text x="279.4" y="140.95" font-size="4.6" textLength="22.34" lengthAdjust="spacingAndGlyphs" fill="#262626">UNS Visit 4</text>
<text x="279.4" y="146.75" font-size="4.6" textLength="22.34" lengthAdjust="spacingAndGlyphs" fill="#262626">UNS Visit 5</text>
<text x="279.4" y="152.8" font-size="4.6" textLength="16.27" lengthAdjust="spacingAndGlyphs" fill="#262626">Dabititrn</text>
<text x="279.4" y="158.85" font-size="4.6" textLength="19.91" lengthAdjust="spacingAndGlyphs" fill="#262626">Dabititrn 2</text>
<text x="313.2" y="140.95" font-size="4.6" textLength="21.37" lengthAdjust="spacingAndGlyphs" fill="#262626">EEOT Visit</text>
<text x="313.2" y="146.5" font-size="4.6" textLength="23.9" lengthAdjust="spacingAndGlyphs" fill="#262626">Steady state</text>
<text x="313.2" y="151.5" font-size="4.6" textLength="25.1" lengthAdjust="spacingAndGlyphs" fill="#262626">post-titration</text>
<path d="M238.9 311.5h2.6v2.6h-2.6z" fill="none" stroke="#f2c230" stroke-width="0.8"/>
<path d="M306.6 306.9h3.4m-1.7 -1.7v3.4" fill="none" stroke="#f08a2c" stroke-width="1.04"/>
<path d="M190.4 317.1l1.6 1.6l-1.6 1.6l-1.6 -1.6z" fill="none" stroke="#4a8fd8" stroke-width="0.8"/>
<path d="M273.4 306.9a1.4 1.4 0 1 0 2.8 0a1.4 1.4 0 1 0 -2.8 0M306.8 311.3l3.1 3.1m0 -3.1l-3.1 3.1" fill="none" stroke="#3da84f" stroke-width="0.8"/>
<path d="M188.9 311.4h2.9v2.9h-2.9z" fill="#7d8c2c"/>
<path d="M274.8 317.1l1.6 2.8h-3.1z" fill="none" stroke="#7d8c2c" stroke-width="0.8"/>
<path d="M190.4 305.3l1.6 2.8h-3.1zM213.2 311.5h2.6v2.6h-2.6zM273.2 323.1l3.1 3.1m0 -3.1l-3.1 3.1" fill="none" stroke="#8068cc" stroke-width="0.8"/>
<path d="M213.1 324.7a1.4 1.4 0 1 0 2.8 0a1.4 1.4 0 1 0 -2.8 0" fill="none" stroke="#b8546a" stroke-width="0.8"/>
<path d="M212.8 318.7h3.4m-1.7 -1.7v3.4" fill="none" stroke="#e0393e" stroke-width="1.04"/>
<path d="M274.8 311.3l1.6 1.6l-1.6 1.6l-1.6 -1.6z" fill="none" stroke="#e0393e" stroke-width="0.8"/>
<path d="M214.5 305.3l1.6 2.8h-3.1z" fill="none" stroke="#7a5530" stroke-width="0.8"/>
<path d="M238.5 324.7h3.4m-1.7 -1.7v3.4" fill="none" stroke="#6b5a2e" stroke-width="1.04"/>
<path d="M238.6 305.3l3.1 3.1m0 -3.1l-3.1 3.1" fill="none" stroke="#2f6b45" stroke-width="0.8"/>
<path d="M189 324.7a1.4 1.4 0 1 0 2.8 0a1.4 1.4 0 1 0 -2.8 0" fill="none" stroke="#3c3f98" stroke-width="0.8"/>
<path d="M238.6 318.7a1.6 1.6 0 1 0 3.1 0a1.6 1.6 0 1 0 -3.1 0" fill="#3c3f98"/>
<text x="194.8" y="308.55" font-size="4.6" textLength="11.9" lengthAdjust="spacingAndGlyphs" fill="#262626">Visit 3</text>
<text x="194.8" y="314.5" font-size="4.6" textLength="11.9" lengthAdjust="spacingAndGlyphs" fill="#262626">Visit 4</text>
<text x="194.8" y="320.35" font-size="4.6" textLength="11.9" lengthAdjust="spacingAndGlyphs" fill="#262626">Visit 5</text>
<text x="194.8" y="326.35" font-size="4.6" textLength="11.9" lengthAdjust="spacingAndGlyphs" fill="#262626">Visit 6</text>
<text x="219.0" y="308.55" font-size="4.6" textLength="11.9" lengthAdjust="spacingAndGlyphs" fill="#262626">Visit 7</text>
<text x="219.0" y="314.5" font-size="4.6" textLength="11.9" lengthAdjust="spacingAndGlyphs" fill="#262626">Visit 8</text>
<text x="219.0" y="320.35" font-size="4.6" textLength="11.9" lengthAdjust="spacingAndGlyphs" fill="#262626">Visit 9</text>
<text x="219.0" y="326.35" font-size="4.6" textLength="14.33" lengthAdjust="spacingAndGlyphs" fill="#262626">Visit 10</text>
<text x="245.1" y="308.55" font-size="4.6" textLength="14.33" lengthAdjust="spacingAndGlyphs" fill="#262626">Visit 11</text>
<text x="245.1" y="314.5" font-size="4.6" textLength="22.34" lengthAdjust="spacingAndGlyphs" fill="#262626">UNS Visit 1</text>
<text x="245.1" y="320.35" font-size="4.6" textLength="22.34" lengthAdjust="spacingAndGlyphs" fill="#262626">UNS Visit 2</text>
<text x="245.1" y="326.35" font-size="4.6" textLength="22.34" lengthAdjust="spacingAndGlyphs" fill="#262626">UNS Visit 3</text>
<text x="279.4" y="308.55" font-size="4.6" textLength="22.34" lengthAdjust="spacingAndGlyphs" fill="#262626">UNS Visit 4</text>
<text x="279.4" y="314.5" font-size="4.6" textLength="22.34" lengthAdjust="spacingAndGlyphs" fill="#262626">UNS Visit 5</text>
<text x="279.4" y="320.35" font-size="4.6" textLength="16.27" lengthAdjust="spacingAndGlyphs" fill="#262626">Dabititrn</text>
<text x="279.4" y="326.35" font-size="4.6" textLength="19.91" lengthAdjust="spacingAndGlyphs" fill="#262626">Dabititrn 2</text>
<text x="313.2" y="308.55" font-size="4.6" textLength="21.37" lengthAdjust="spacingAndGlyphs" fill="#262626">EEOT Visit</text>
<text x="313.2" y="314.25" font-size="4.6" textLength="23.9" lengthAdjust="spacingAndGlyphs" fill="#262626">Steady state</text>
<text x="313.2" y="319.25" font-size="4.6" textLength="25.1" lengthAdjust="spacingAndGlyphs" fill="#262626">post-titration</text>
<path d="M413.3 143.8h2.6v2.6h-2.6z" fill="none" stroke="#f2c230" stroke-width="0.8"/>
<path d="M412.9 139.3h3.4m-1.7 -1.7v3.4" fill="none" stroke="#f08a2c" stroke-width="1.04"/>
<path d="M387.7 149.6l1.6 1.6l-1.6 1.6l-1.6 -1.6z" fill="none" stroke="#4a8fd8" stroke-width="0.8"/>
<path d="M447.2 151.2a1.4 1.4 0 1 0 2.8 0a1.4 1.4 0 1 0 -2.8 0M480.8 143.5l3.1 3.1m0 -3.1l-3.1 3.1" fill="none" stroke="#3da84f" stroke-width="0.8"/>
<path d="M386.2 143.6h2.9v2.9h-2.9z" fill="#7d8c2c"/>
<path d="M448.6 143.5l1.6 2.8h-3.1z" fill="none" stroke="#7d8c2c" stroke-width="0.8"/>
<path d="M386.4 138h2.6v2.6h-2.6zM447.1 137.8l3.1 3.1m0 -3.1l-3.1 3.1M482.4 137.8l1.6 2.8h-3.1z" fill="none" stroke="#8068cc" stroke-width="0.8"/>
<path d="M386.3 157.2a1.4 1.4 0 1 0 2.8 0a1.4 1.4 0 1 0 -2.8 0" fill="none" stroke="#b8546a" stroke-width="0.8"/>
<path d="M362.3 145.1h3.4m-1.7 -1.7v3.4" fill="none" stroke="#e0393e" stroke-width="1.04"/>
<path d="M414.6 155.6l1.6 1.6l-1.6 1.6l-1.6 -1.6z" fill="none" stroke="#e0393e" stroke-width="0.8"/>
<path d="M364 155.6l1.6 2.8h-3.1z" fill="none" stroke="#7a5530" stroke-width="0.8"/>
<path d="M446.9 157.2h3.4m-1.7 -1.7v3.4" fill="none" stroke="#6b5a2e" stroke-width="1.04"/>
<path d="M362.4 149.6l3.1 3.1m0 -3.1l-3.1 3.1" fill="none" stroke="#2f6b45" stroke-width="0.8"/>
<path d="M362.6 139.3a1.4 1.4 0 1 0 2.8 0a1.4 1.4 0 1 0 -2.8 0" fill="none" stroke="#3c3f98" stroke-width="0.8"/>
<path d="M413 151.2a1.6 1.6 0 1 0 3.1 0a1.6 1.6 0 1 0 -3.1 0" fill="#3c3f98"/>
<text x="368.4" y="140.95" font-size="4.6" textLength="11.9" lengthAdjust="spacingAndGlyphs" fill="#262626">Visit 3</text>
<text x="368.4" y="146.75" font-size="4.6" textLength="11.9" lengthAdjust="spacingAndGlyphs" fill="#262626">Visit 4</text>
<text x="368.4" y="152.8" font-size="4.6" textLength="11.9" lengthAdjust="spacingAndGlyphs" fill="#262626">Visit 5</text>
<text x="368.4" y="158.85" font-size="4.6" textLength="11.9" lengthAdjust="spacingAndGlyphs" fill="#262626">Visit 6</text>
<text x="392.6" y="140.95" font-size="4.6" textLength="11.9" lengthAdjust="spacingAndGlyphs" fill="#262626">Visit 7</text>
<text x="392.6" y="146.75" font-size="4.6" textLength="11.9" lengthAdjust="spacingAndGlyphs" fill="#262626">Visit 8</text>
<text x="392.6" y="152.8" font-size="4.6" textLength="11.9" lengthAdjust="spacingAndGlyphs" fill="#262626">Visit 9</text>
<text x="392.6" y="158.85" font-size="4.6" textLength="14.33" lengthAdjust="spacingAndGlyphs" fill="#262626">Visit 10</text>
<text x="418.7" y="140.95" font-size="4.6" textLength="14.33" lengthAdjust="spacingAndGlyphs" fill="#262626">Visit 11</text>
<text x="418.7" y="146.75" font-size="4.6" textLength="22.34" lengthAdjust="spacingAndGlyphs" fill="#262626">UNS Visit 1</text>
<text x="418.7" y="152.8" font-size="4.6" textLength="22.34" lengthAdjust="spacingAndGlyphs" fill="#262626">UNS Visit 2</text>
<text x="418.7" y="158.85" font-size="4.6" textLength="22.34" lengthAdjust="spacingAndGlyphs" fill="#262626">UNS Visit 3</text>
<text x="453.0" y="140.95" font-size="4.6" textLength="22.34" lengthAdjust="spacingAndGlyphs" fill="#262626">UNS Visit 4</text>
<text x="453.0" y="146.75" font-size="4.6" textLength="22.34" lengthAdjust="spacingAndGlyphs" fill="#262626">UNS Visit 5</text>
<text x="453.0" y="152.8" font-size="4.6" textLength="16.27" lengthAdjust="spacingAndGlyphs" fill="#262626">Dabititrn</text>
<text x="453.0" y="158.85" font-size="4.6" textLength="19.91" lengthAdjust="spacingAndGlyphs" fill="#262626">Dabititrn 2</text>
<text x="487.0" y="140.95" font-size="4.6" textLength="21.37" lengthAdjust="spacingAndGlyphs" fill="#262626">EEOT Visit</text>
<text x="487.0" y="146.5" font-size="4.6" textLength="23.9" lengthAdjust="spacingAndGlyphs" fill="#262626">Steady state</text>
<text x="487.0" y="151.5" font-size="4.6" textLength="25.1" lengthAdjust="spacingAndGlyphs" fill="#262626">post-titration</text>
<path d="M413.3 311.5h2.6v2.6h-2.6z" fill="none" stroke="#f2c230" stroke-width="0.8"/>
<path d="M412.9 306.9h3.4m-1.7 -1.7v3.4" fill="none" stroke="#f08a2c" stroke-width="1.04"/>
<path d="M387.7 317.1l1.6 1.6l-1.6 1.6l-1.6 -1.6z" fill="none" stroke="#4a8fd8" stroke-width="0.8"/>
<path d="M447.2 318.7a1.4 1.4 0 1 0 2.8 0a1.4 1.4 0 1 0 -2.8 0M480.8 311.3l3.1 3.1m0 -3.1l-3.1 3.1" fill="none" stroke="#3da84f" stroke-width="0.8"/>
<path d="M386.2 311.4h2.9v2.9h-2.9z" fill="#7d8c2c"/>
<path d="M448.6 311.3l1.6 2.8h-3.1z" fill="none" stroke="#7d8c2c" stroke-width="0.8"/>
<path d="M386.4 305.6h2.6v2.6h-2.6zM447.1 305.3l3.1 3.1m0 -3.1l-3.1 3.1M482.4 305.3l1.6 2.8h-3.1z" fill="none" stroke="#8068cc" stroke-width="0.8"/>
<path d="M386.3 324.7a1.4 1.4 0 1 0 2.8 0a1.4 1.4 0 1 0 -2.8 0" fill="none" stroke="#b8546a" stroke-width="0.8"/>
<path d="M362.3 312.9h3.4m-1.7 -1.7v3.4" fill="none" stroke="#e0393e" stroke-width="1.04"/>
<path d="M414.6 323.1l1.6 1.6l-1.6 1.6l-1.6 -1.6z" fill="none" stroke="#e0393e" stroke-width="0.8"/>
<path d="M364 323.1l1.6 2.8h-3.1z" fill="none" stroke="#7a5530" stroke-width="0.8"/>
<path d="M446.9 324.7h3.4m-1.7 -1.7v3.4" fill="none" stroke="#6b5a2e" stroke-width="1.04"/>
<path d="M362.4 317.1l3.1 3.1m0 -3.1l-3.1 3.1" fill="none" stroke="#2f6b45" stroke-width="0.8"/>
<path d="M362.6 306.9a1.4 1.4 0 1 0 2.8 0a1.4 1.4 0 1 0 -2.8 0" fill="none" stroke="#3c3f98" stroke-width="0.8"/>
<path d="M413 318.7a1.6 1.6 0 1 0 3.1 0a1.6 1.6 0 1 0 -3.1 0" fill="#3c3f98"/>
<text x="368.4" y="308.55" font-size="4.6" textLength="11.9" lengthAdjust="spacingAndGlyphs" fill="#262626">Visit 3</text>
<text x="368.4" y="314.5" font-size="4.6" textLength="11.9" lengthAdjust="spacingAndGlyphs" fill="#262626">Visit 4</text>
<text x="368.4" y="320.35" font-size="4.6" textLength="11.9" lengthAdjust="spacingAndGlyphs" fill="#262626">Visit 5</text>
<text x="368.4" y="326.35" font-size="4.6" textLength="11.9" lengthAdjust="spacingAndGlyphs" fill="#262626">Visit 6</text>
<text x="392.6" y="308.55" font-size="4.6" textLength="11.9" lengthAdjust="spacingAndGlyphs" fill="#262626">Visit 7</text>
<text x="392.6" y="314.5" font-size="4.6" textLength="11.9" lengthAdjust="spacingAndGlyphs" fill="#262626">Visit 8</text>
<text x="392.6" y="320.35" font-size="4.6" textLength="11.9" lengthAdjust="spacingAndGlyphs" fill="#262626">Visit 9</text>
<text x="392.6" y="326.35" font-size="4.6" textLength="14.33" lengthAdjust="spacingAndGlyphs" fill="#262626">Visit 10</text>
<text x="418.7" y="308.55" font-size="4.6" textLength="14.33" lengthAdjust="spacingAndGlyphs" fill="#262626">Visit 11</text>
<text x="418.7" y="314.5" font-size="4.6" textLength="22.34" lengthAdjust="spacingAndGlyphs" fill="#262626">UNS Visit 1</text>
<text x="418.7" y="320.35" font-size="4.6" textLength="22.34" lengthAdjust="spacingAndGlyphs" fill="#262626">UNS Visit 2</text>
<text x="418.7" y="326.35" font-size="4.6" textLength="22.34" lengthAdjust="spacingAndGlyphs" fill="#262626">UNS Visit 3</text>
<text x="453.0" y="308.55" font-size="4.6" textLength="22.34" lengthAdjust="spacingAndGlyphs" fill="#262626">UNS Visit 4</text>
<text x="453.0" y="314.5" font-size="4.6" textLength="22.34" lengthAdjust="spacingAndGlyphs" fill="#262626">UNS Visit 5</text>
<text x="453.0" y="320.35" font-size="4.6" textLength="16.27" lengthAdjust="spacingAndGlyphs" fill="#262626">Dabititrn</text>
<text x="453.0" y="326.35" font-size="4.6" textLength="19.91" lengthAdjust="spacingAndGlyphs" fill="#262626">Dabititrn 2</text>
<text x="487.0" y="308.55" font-size="4.6" textLength="21.37" lengthAdjust="spacingAndGlyphs" fill="#262626">EEOT Visit</text>
<text x="487.0" y="314.25" font-size="4.6" textLength="23.9" lengthAdjust="spacingAndGlyphs" fill="#262626">Steady state</text>
<text x="487.0" y="319.25" font-size="4.6" textLength="25.1" lengthAdjust="spacingAndGlyphs" fill="#262626">post-titration</text>
<path d="M88.9 489.2h2.6v2.6h-2.6z" fill="none" stroke="#f2c230" stroke-width="0.8"/>
<path d="M62.3 478.9h3.4m-1.7 -1.7v3.4" fill="none" stroke="#f08a2c" stroke-width="1.04"/>
<path d="M64 471.3l1.6 1.6l-1.6 1.6l-1.6 -1.6z" fill="none" stroke="#4a8fd8" stroke-width="0.8"/>
<path d="M62.5 483.1l3.1 3.1m0 -3.1l-3.1 3.1" fill="none" stroke="#3da84f" stroke-width="0.8"/>
<path d="M38.9 483.2h2.9v2.9h-2.9z" fill="#7d8c2c"/>
<path d="M62.7 489.2h2.6v2.6h-2.6zM90.2 471.3l1.6 2.8h-3.1z" fill="none" stroke="#8068cc" stroke-width="0.8"/>
<path d="M123.4 472.9a1.4 1.4 0 1 0 2.8 0a1.4 1.4 0 1 0 -2.8 0" fill="none" stroke="#b8546a" stroke-width="0.8"/>
<path d="M90.2 483.1l1.6 1.6l-1.6 1.6l-1.6 -1.6z" fill="none" stroke="#e0393e" stroke-width="0.8"/>
<path d="M123.1 478.9h3.4m-1.7 -1.7v3.4" fill="none" stroke="#e0393e" stroke-width="1.04"/>
<path d="M40.4 489l1.6 2.8h-3.1z" fill="none" stroke="#7a5530" stroke-width="0.8"/>
<path d="M38.9 477.3l3.1 3.1m0 -3.1l-3.1 3.1" fill="none" stroke="#2f6b45" stroke-width="0.8"/>
<path d="M39 472.9a1.4 1.4 0 1 0 2.8 0a1.4 1.4 0 1 0 -2.8 0" fill="none" stroke="#3c3f98" stroke-width="0.8"/>
<path d="M88.6 478.9a1.6 1.6 0 1 0 3.1 0a1.6 1.6 0 1 0 -3.1 0" fill="#3c3f98"/>
<text x="44.8" y="474.55" font-size="4.6" textLength="11.9" lengthAdjust="spacingAndGlyphs" fill="#262626">Visit 3</text>
<text x="44.8" y="480.5" font-size="4.6" textLength="11.9" lengthAdjust="spacingAndGlyphs" fill="#262626">Visit 4</text>
<text x="44.8" y="486.35" font-size="4.6" textLength="11.9" lengthAdjust="spacingAndGlyphs" fill="#262626">Visit 5</text>
<text x="44.8" y="492.2" font-size="4.6" textLength="11.9" lengthAdjust="spacingAndGlyphs" fill="#262626">Visit 6</text>
<text x="68.6" y="474.55" font-size="4.6" textLength="11.9" lengthAdjust="spacingAndGlyphs" fill="#262626">Visit 7</text>
<text x="68.6" y="480.5" font-size="4.6" textLength="11.9" lengthAdjust="spacingAndGlyphs" fill="#262626">Visit 8</text>
<text x="68.6" y="486.35" font-size="4.6" textLength="11.9" lengthAdjust="spacingAndGlyphs" fill="#262626">Visit 9</text>
<text x="68.6" y="492.2" font-size="4.6" textLength="14.33" lengthAdjust="spacingAndGlyphs" fill="#262626">Visit 10</text>
<text x="94.8" y="474.55" font-size="4.6" textLength="14.33" lengthAdjust="spacingAndGlyphs" fill="#262626">Visit 11</text>
<text x="94.8" y="480.5" font-size="4.6" textLength="22.34" lengthAdjust="spacingAndGlyphs" fill="#262626">UNS Visit 1</text>
<text x="94.8" y="486.35" font-size="4.6" textLength="22.34" lengthAdjust="spacingAndGlyphs" fill="#262626">UNS Visit 2</text>
<text x="94.8" y="492.2" font-size="4.6" textLength="16.27" lengthAdjust="spacingAndGlyphs" fill="#262626">Dabititrn</text>
<text x="129.4" y="474.55" font-size="4.6" textLength="21.37" lengthAdjust="spacingAndGlyphs" fill="#262626">EEOT Visit</text>
<text x="129.4" y="480.25" font-size="4.6" textLength="23.9" lengthAdjust="spacingAndGlyphs" fill="#262626">Steady state</text>
<text x="129.4" y="485.25" font-size="4.6" textLength="25.1" lengthAdjust="spacingAndGlyphs" fill="#262626">post-titration</text>
<path d="M265.1 477.5h2.6v2.6h-2.6z" fill="none" stroke="#f2c230" stroke-width="0.8"/>
<path d="M238.9 478.9h3.4m-1.7 -1.7v3.4" fill="none" stroke="#f08a2c" stroke-width="1.04"/>
<path d="M240.6 471.3l1.6 1.6l-1.6 1.6l-1.6 -1.6z" fill="none" stroke="#4a8fd8" stroke-width="0.8"/>
<path d="M264.8 483.1l3.1 3.1m0 -3.1l-3.1 3.1" fill="none" stroke="#3da84f" stroke-width="0.8"/>
<path d="M215 489.1h2.9v2.9h-2.9z" fill="#7d8c2c"/>
<path d="M215.2 471.6h2.6v2.6h-2.6zM240.6 489l1.6 2.8h-3.1z" fill="none" stroke="#8068cc" stroke-width="0.8"/>
<path d="M299.2 478.9a1.4 1.4 0 1 0 2.8 0a1.4 1.4 0 1 0 -2.8 0" fill="none" stroke="#b8546a" stroke-width="0.8"/>
<path d="M264.7 472.9a1.7 1.7 0 1 0 3.3 0a1.7 1.7 0 1 0 -3.3 0" fill="#e0393e"/>
<path d="M266.4 489l1.6 1.6l-1.6 1.6l-1.6 -1.6z" fill="none" stroke="#e0393e" stroke-width="0.8"/>
<path d="M216.5 477.3l1.6 2.8h-3.1z" fill="none" stroke="#7a5530" stroke-width="0.8"/>
<path d="M214.9 483.1l3.1 3.1m0 -3.1l-3.1 3.1" fill="none" stroke="#2f6b45" stroke-width="0.8"/>
<path d="M239 484.7a1.6 1.6 0 1 0 3.1 0a1.6 1.6 0 1 0 -3.1 0" fill="#3c3f98"/>
<path d="M299.2 472.9a1.4 1.4 0 1 0 2.8 0a1.4 1.4 0 1 0 -2.8 0" fill="none" stroke="#3c3f98" stroke-width="0.8"/>
<text x="221.1" y="474.55" font-size="4.6" textLength="11.9" lengthAdjust="spacingAndGlyphs" fill="#262626">Visit 3</text>
<text x="221.1" y="480.5" font-size="4.6" textLength="11.9" lengthAdjust="spacingAndGlyphs" fill="#262626">Visit 4</text>
<text x="221.1" y="486.35" font-size="4.6" textLength="11.9" lengthAdjust="spacingAndGlyphs" fill="#262626">Visit 5</text>
<text x="221.1" y="492.2" font-size="4.6" textLength="11.9" lengthAdjust="spacingAndGlyphs" fill="#262626">Visit 6</text>
<text x="245.1" y="474.55" font-size="4.6" textLength="11.9" lengthAdjust="spacingAndGlyphs" fill="#262626">Visit 7</text>
<text x="245.1" y="480.5" font-size="4.6" textLength="11.9" lengthAdjust="spacingAndGlyphs" fill="#262626">Visit 8</text>
<text x="245.1" y="486.35" font-size="4.6" textLength="11.9" lengthAdjust="spacingAndGlyphs" fill="#262626">Visit 9</text>
<text x="245.1" y="492.2" font-size="4.6" textLength="14.33" lengthAdjust="spacingAndGlyphs" fill="#262626">Visit 10</text>
<text x="271.8" y="474.55" font-size="4.6" textLength="14.33" lengthAdjust="spacingAndGlyphs" fill="#262626">Visit 11</text>
<text x="271.8" y="480.5" font-size="4.6" textLength="22.34" lengthAdjust="spacingAndGlyphs" fill="#262626">UNS Visit 1</text>
<text x="271.8" y="486.35" font-size="4.6" textLength="22.34" lengthAdjust="spacingAndGlyphs" fill="#262626">UNS Visit 2</text>
<text x="271.8" y="492.2" font-size="4.6" textLength="16.27" lengthAdjust="spacingAndGlyphs" fill="#262626">Dabititrn</text>
<text x="305.2" y="474.55" font-size="4.6" textLength="21.37" lengthAdjust="spacingAndGlyphs" fill="#262626">EEOT Visit</text>
<text x="305.2" y="480.25" font-size="4.6" textLength="23.9" lengthAdjust="spacingAndGlyphs" fill="#262626">Steady state</text>
<text x="305.2" y="485.25" font-size="4.6" textLength="25.1" lengthAdjust="spacingAndGlyphs" fill="#262626">post-titration</text>
<path d="M439.3 489.2h2.6v2.6h-2.6z" fill="none" stroke="#f2c230" stroke-width="0.8"/>
<path d="M412.7 490.6h3.4m-1.7 -1.7v3.4" fill="none" stroke="#f08a2c" stroke-width="1.04"/>
<path d="M414.4 477.3l1.6 1.6l-1.6 1.6l-1.6 -1.6z" fill="none" stroke="#4a8fd8" stroke-width="0.8"/>
<path d="M439.1 471.3l3.1 3.1m0 -3.1l-3.1 3.1" fill="none" stroke="#3da84f" stroke-width="0.8"/>
<path d="M412.9 471.4h2.9v2.9h-2.9z" fill="#7d8c2c"/>
<path d="M389.1 489.2h2.6v2.6h-2.6zM474.6 471.3l1.6 2.8h-3.1z" fill="none" stroke="#8068cc" stroke-width="0.8"/>
<path d="M413 484.7a1.4 1.4 0 1 0 2.8 0a1.4 1.4 0 1 0 -2.8 0" fill="none" stroke="#b8546a" stroke-width="0.8"/>
<path d="M440.6 483.1l1.6 1.6l-1.6 1.6l-1.6 -1.6z" fill="none" stroke="#e0393e" stroke-width="0.8"/>
<path d="M472.9 478.9h3.4m-1.7 -1.7v3.4" fill="none" stroke="#e0393e" stroke-width="1.04"/>
<path d="M390.4 477.3l1.6 2.8h-3.1z" fill="none" stroke="#7a5530" stroke-width="0.8"/>
<path d="M388.8 483.1l3.1 3.1m0 -3.1l-3.1 3.1" fill="none" stroke="#2f6b45" stroke-width="0.8"/>
<path d="M389 472.9a1.4 1.4 0 1 0 2.8 0a1.4 1.4 0 1 0 -2.8 0" fill="none" stroke="#3c3f98" stroke-width="0.8"/>
<path d="M439 478.9a1.6 1.6 0 1 0 3.1 0a1.6 1.6 0 1 0 -3.1 0" fill="#3c3f98"/>
<text x="394.8" y="474.55" font-size="4.6" textLength="11.9" lengthAdjust="spacingAndGlyphs" fill="#262626">Visit 3</text>
<text x="394.8" y="480.5" font-size="4.6" textLength="11.9" lengthAdjust="spacingAndGlyphs" fill="#262626">Visit 4</text>
<text x="394.8" y="486.35" font-size="4.6" textLength="11.9" lengthAdjust="spacingAndGlyphs" fill="#262626">Visit 5</text>
<text x="394.8" y="492.2" font-size="4.6" textLength="11.9" lengthAdjust="spacingAndGlyphs" fill="#262626">Visit 6</text>
<text x="419.0" y="474.55" font-size="4.6" textLength="11.9" lengthAdjust="spacingAndGlyphs" fill="#262626">Visit 7</text>
<text x="419.0" y="480.5" font-size="4.6" textLength="11.9" lengthAdjust="spacingAndGlyphs" fill="#262626">Visit 8</text>
<text x="419.0" y="486.35" font-size="4.6" textLength="11.9" lengthAdjust="spacingAndGlyphs" fill="#262626">Visit 9</text>
<text x="419.0" y="492.2" font-size="4.6" textLength="14.33" lengthAdjust="spacingAndGlyphs" fill="#262626">Visit 10</text>
<text x="445.1" y="474.55" font-size="4.6" textLength="14.33" lengthAdjust="spacingAndGlyphs" fill="#262626">Visit 11</text>
<text x="445.1" y="480.5" font-size="4.6" textLength="22.34" lengthAdjust="spacingAndGlyphs" fill="#262626">UNS Visit 1</text>
<text x="445.1" y="486.35" font-size="4.6" textLength="22.34" lengthAdjust="spacingAndGlyphs" fill="#262626">UNS Visit 2</text>
<text x="445.1" y="492.2" font-size="4.6" textLength="16.27" lengthAdjust="spacingAndGlyphs" fill="#262626">Dabititrn</text>
<text x="479.1" y="474.55" font-size="4.6" textLength="21.37" lengthAdjust="spacingAndGlyphs" fill="#262626">EEOT Visit</text>
<text x="479.1" y="480.25" font-size="4.6" textLength="23.9" lengthAdjust="spacingAndGlyphs" fill="#262626">Steady state</text>
<text x="479.1" y="485.25" font-size="4.6" textLength="25.1" lengthAdjust="spacingAndGlyphs" fill="#262626">post-titration</text>
<path d="M77.5 643.1l1.6 1.6l-1.6 1.6l-1.6 -1.6z" fill="none" stroke="#4a8fd8" stroke-width="0.8"/>
<path d="M76 637.2h2.9v2.9h-2.9z" fill="#7d8c2c"/>
<path d="M109.9 637.4h2.6v2.6h-2.6z" fill="none" stroke="#8068cc" stroke-width="0.8"/>
<path d="M76.1 650.5a1.4 1.4 0 1 0 2.8 0a1.4 1.4 0 1 0 -2.8 0" fill="none" stroke="#b8546a" stroke-width="0.8"/>
<path d="M51.2 650.5h3.4m-1.7 -1.7v3.4" fill="none" stroke="#e0393e" stroke-width="1.04"/>
<path d="M52.9 643.1l1.6 2.8h-3.1z" fill="none" stroke="#7a5530" stroke-width="0.8"/>
<path d="M109.7 643.1l3.1 3.1m0 -3.1l-3.1 3.1" fill="none" stroke="#2f6b45" stroke-width="0.8"/>
<path d="M51.5 638.7a1.4 1.4 0 1 0 2.8 0a1.4 1.4 0 1 0 -2.8 0" fill="none" stroke="#3c3f98" stroke-width="0.8"/>
<text x="58.2" y="640.35" font-size="4.6" textLength="11.9" lengthAdjust="spacingAndGlyphs" fill="#262626">Visit 3</text>
<text x="58.2" y="646.25" font-size="4.6" textLength="11.9" lengthAdjust="spacingAndGlyphs" fill="#262626">Visit 4</text>
<text x="58.2" y="652.2" font-size="4.6" textLength="11.9" lengthAdjust="spacingAndGlyphs" fill="#262626">Visit 5</text>
<text x="82.5" y="640.35" font-size="4.6" textLength="11.9" lengthAdjust="spacingAndGlyphs" fill="#262626">Visit 6</text>
<text x="82.5" y="646.25" font-size="4.6" textLength="11.9" lengthAdjust="spacingAndGlyphs" fill="#262626">Visit 9</text>
<text x="82.5" y="652.2" font-size="4.6" textLength="22.34" lengthAdjust="spacingAndGlyphs" fill="#262626">UNS Visit 1</text>
<text x="115.9" y="640.35" font-size="4.6" textLength="21.37" lengthAdjust="spacingAndGlyphs" fill="#262626">EEOT Visit</text>
<text x="115.9" y="646.0" font-size="4.6" textLength="23.9" lengthAdjust="spacingAndGlyphs" fill="#262626">Steady state</text>
<text x="115.9" y="651.0" font-size="4.6" textLength="25.1" lengthAdjust="spacingAndGlyphs" fill="#262626">post-titration</text>
<path d="M253.5 649l1.6 1.6l-1.6 1.6l-1.6 -1.6z" fill="none" stroke="#4a8fd8" stroke-width="0.8"/>
<path d="M252 643.1h2.9v2.9h-2.9z" fill="#7d8c2c"/>
<path d="M252.2 637.4h2.6v2.6h-2.6z" fill="none" stroke="#8068cc" stroke-width="0.8"/>
<path d="M228.1 650.5a1.4 1.4 0 1 0 2.8 0a1.4 1.4 0 1 0 -2.8 0" fill="none" stroke="#b8546a" stroke-width="0.8"/>
<path d="M285.6 644.6h3.4m-1.7 -1.7v3.4" fill="none" stroke="#e0393e" stroke-width="1.04"/>
<path d="M229.5 637.2l1.6 2.8h-3.1z" fill="none" stroke="#7a5530" stroke-width="0.8"/>
<path d="M285.8 637.2l3.1 3.1m0 -3.1l-3.1 3.1" fill="none" stroke="#2f6b45" stroke-width="0.8"/>
<path d="M228.1 644.6a1.4 1.4 0 1 0 2.8 0a1.4 1.4 0 1 0 -2.8 0" fill="none" stroke="#3c3f98" stroke-width="0.8"/>
<text x="234.3" y="640.35" font-size="4.6" textLength="11.9" lengthAdjust="spacingAndGlyphs" fill="#262626">Visit 3</text>
<text x="234.3" y="646.25" font-size="4.6" textLength="11.9" lengthAdjust="spacingAndGlyphs" fill="#262626">Visit 4</text>
<text x="234.3" y="652.2" font-size="4.6" textLength="11.9" lengthAdjust="spacingAndGlyphs" fill="#262626">Visit 5</text>
<text x="258.4" y="640.35" font-size="4.6" textLength="11.9" lengthAdjust="spacingAndGlyphs" fill="#262626">Visit 6</text>
<text x="258.4" y="646.25" font-size="4.6" textLength="11.9" lengthAdjust="spacingAndGlyphs" fill="#262626">Visit 9</text>
<text x="258.4" y="652.2" font-size="4.6" textLength="22.34" lengthAdjust="spacingAndGlyphs" fill="#262626">UNS Visit 1</text>
<text x="292.2" y="640.35" font-size="4.6" textLength="21.37" lengthAdjust="spacingAndGlyphs" fill="#262626">EEOT Visit</text>
<text x="292.2" y="646.0" font-size="4.6" textLength="23.9" lengthAdjust="spacingAndGlyphs" fill="#262626">Steady state</text>
<text x="292.2" y="651.0" font-size="4.6" textLength="25.1" lengthAdjust="spacingAndGlyphs" fill="#262626">post-titration</text>
<path d="M427.5 643.1l1.6 1.6l-1.6 1.6l-1.6 -1.6z" fill="none" stroke="#4a8fd8" stroke-width="0.8"/>
<path d="M426 637.2h2.9v2.9h-2.9z" fill="#7d8c2c"/>
<path d="M461.2 637.2l1.6 2.8h-3.1z" fill="none" stroke="#8068cc" stroke-width="0.8"/>
<path d="M426.1 650.5a1.4 1.4 0 1 0 2.8 0a1.4 1.4 0 1 0 -2.8 0" fill="none" stroke="#b8546a" stroke-width="0.8"/>
<path d="M401.2 650.5h3.4m-1.7 -1.7v3.4" fill="none" stroke="#e0393e" stroke-width="1.04"/>
<path d="M402.9 643.1l1.6 2.8h-3.1z" fill="none" stroke="#7a5530" stroke-width="0.8"/>
<path d="M459.6 643.1l3.1 3.1m0 -3.1l-3.1 3.1" fill="none" stroke="#2f6b45" stroke-width="0.8"/>
<path d="M401.5 638.7a1.4 1.4 0 1 0 2.8 0a1.4 1.4 0 1 0 -2.8 0" fill="none" stroke="#3c3f98" stroke-width="0.8"/>
<text x="408.2" y="640.35" font-size="4.6" textLength="11.9" lengthAdjust="spacingAndGlyphs" fill="#262626">Visit 3</text>
<text x="408.2" y="646.25" font-size="4.6" textLength="11.9" lengthAdjust="spacingAndGlyphs" fill="#262626">Visit 4</text>
<text x="408.2" y="652.2" font-size="4.6" textLength="11.9" lengthAdjust="spacingAndGlyphs" fill="#262626">Visit 5</text>
<text x="432.5" y="640.35" font-size="4.6" textLength="11.9" lengthAdjust="spacingAndGlyphs" fill="#262626">Visit 6</text>
<text x="432.5" y="646.25" font-size="4.6" textLength="11.9" lengthAdjust="spacingAndGlyphs" fill="#262626">Visit 9</text>
<text x="432.5" y="652.2" font-size="4.6" textLength="22.34" lengthAdjust="spacingAndGlyphs" fill="#262626">UNS Visit 1</text>
<text x="465.9" y="640.35" font-size="4.6" textLength="21.37" lengthAdjust="spacingAndGlyphs" fill="#262626">EEOT Visit</text>
<text x="465.9" y="646.0" font-size="4.6" textLength="23.9" lengthAdjust="spacingAndGlyphs" fill="#262626">Steady state</text>
<text x="465.9" y="651.0" font-size="4.6" textLength="25.1" lengthAdjust="spacingAndGlyphs" fill="#262626">post-titration</text>
</svg>
</body></html>
